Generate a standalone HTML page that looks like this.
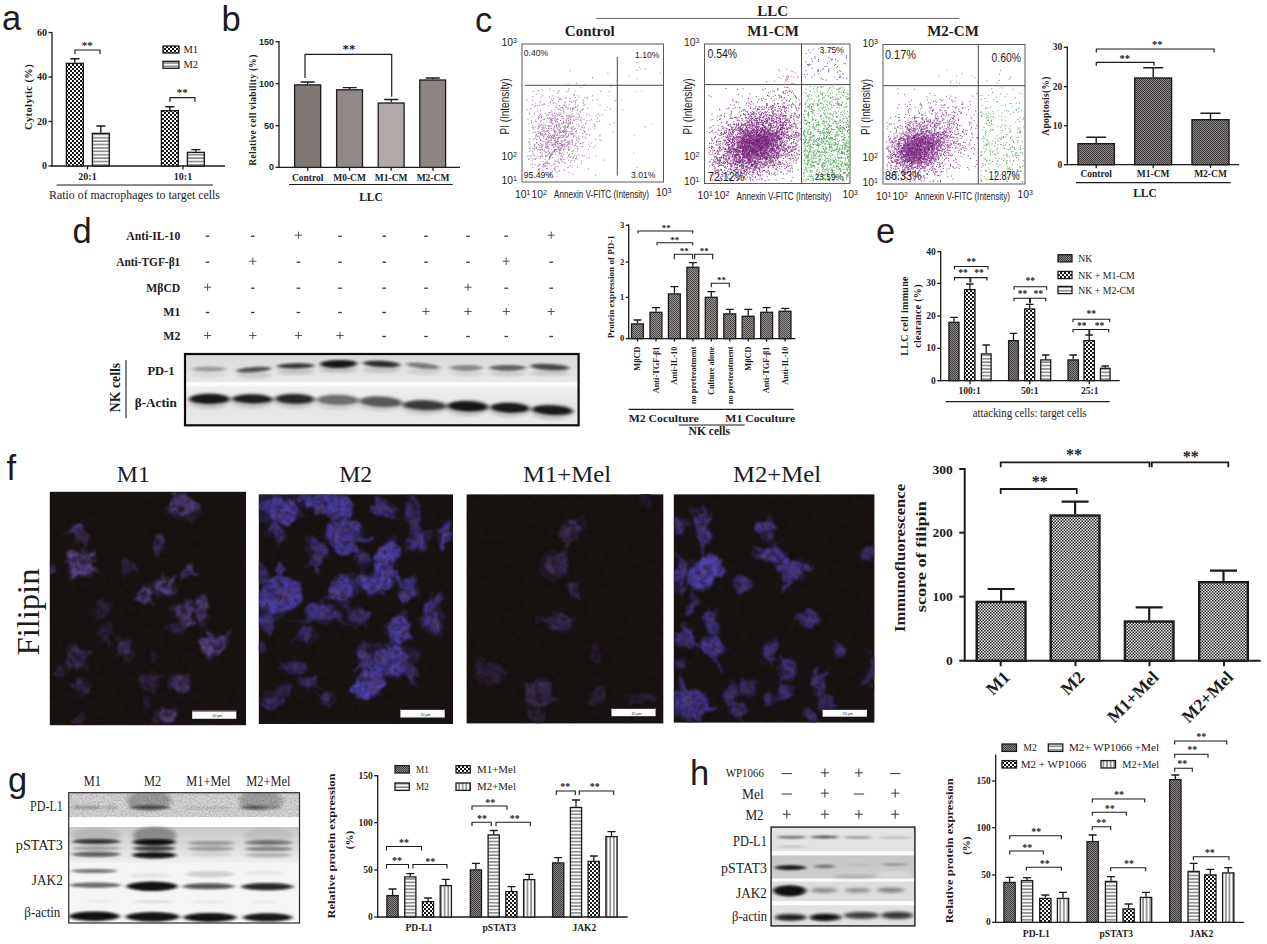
<!DOCTYPE html>
<html><head><meta charset="utf-8"><title>Figure</title>
<style>
html,body{margin:0;padding:0;background:#fff}
svg{display:block}
.se{font-family:"Liberation Serif",serif}
.seb{font-family:"Liberation Serif",serif;font-weight:bold}
.sa{font-family:"Liberation Sans",sans-serif}
.sab{font-family:"Liberation Sans",sans-serif;font-weight:bold}
text{fill:#1d1b1b}
</style></head><body>
<svg width="1267" height="944" viewBox="0 0 1267 944">
<defs>
<pattern id="ck" width="4" height="4" patternUnits="userSpaceOnUse"><rect width="4" height="4" fill="#fff"/><rect width="2" height="2" fill="#151313"/><rect x="2" y="2" width="2" height="2" fill="#151313"/></pattern>
<pattern id="hs" width="4" height="3.4" patternUnits="userSpaceOnUse"><rect width="4" height="3.4" fill="#fbfbfb"/><rect y="1.1" width="4" height="1.3" fill="#737171"/></pattern>
<pattern id="vs" width="3.6" height="4" patternUnits="userSpaceOnUse"><rect width="3.6" height="4" fill="#fbfbfb"/><rect x="1.3" width="1.1" height="4" fill="#555"/></pattern>
<pattern id="fd" width="2" height="2" patternUnits="userSpaceOnUse"><rect width="2" height="2" fill="#8d8886"/><rect width="1" height="1" fill="#3f3b3a"/><rect x="1" y="1" width="1" height="1" fill="#3f3b3a"/></pattern>
<pattern id="fd2" width="2" height="2" patternUnits="userSpaceOnUse"><rect width="2" height="2" fill="#9a9593"/><rect width="1" height="1" fill="#4a4644"/><rect x="1" y="1" width="1" height="1" fill="#4a4644"/></pattern>
<pattern id="md" width="3" height="3" patternUnits="userSpaceOnUse"><rect width="3" height="3" fill="#f4f4f4"/><rect width="1.5" height="1.5" fill="#222"/><rect x="1.5" y="1.5" width="1.5" height="1.5" fill="#222"/></pattern>

<filter id="bl1" x="-20%" y="-50%" width="140%" height="200%"><feGaussianBlur stdDeviation="1.9 1.1"/></filter>
<filter id="bl2" x="-20%" y="-50%" width="140%" height="200%"><feGaussianBlur stdDeviation="2.2 1.5"/></filter>
<filter id="bl3" x="-20%" y="-50%" width="140%" height="200%"><feGaussianBlur stdDeviation="4 3"/></filter>
<filter id="nz" x="0" y="0" width="100%" height="100%"><feTurbulence type="fractalNoise" baseFrequency="0.55" numOctaves="2" seed="7" result="n"/><feColorMatrix in="n" type="matrix" values="0 0 0 0 0  0 0 0 0 0  0 0 0 0 0  1.1 0 0 0 -0.3"/><feComposite in2="SourceGraphic" operator="in"/></filter>
<linearGradient id="gd1" x1="0" y1="0" x2="0" y2="1"><stop offset="0" stop-color="#d9d8d8"/><stop offset="1" stop-color="#e9e8e8"/></linearGradient>
<linearGradient id="gd2" x1="0" y1="0" x2="0" y2="1"><stop offset="0" stop-color="#f1f0f0"/><stop offset="0.5" stop-color="#e6e5e5"/><stop offset="1" stop-color="#ebeaea"/></linearGradient>
<linearGradient id="gg2" x1="0" y1="0" x2="0" y2="1"><stop offset="0" stop-color="#c9c8c8"/><stop offset="0.55" stop-color="#dddcdc"/><stop offset="1" stop-color="#f0efef"/></linearGradient>
<linearGradient id="gh2" x1="0" y1="0" x2="0" y2="1"><stop offset="0" stop-color="#c6c4c4"/><stop offset="1" stop-color="#cfcdcd"/></linearGradient>


<filter id="cf" x="-5%" y="-5%" width="110%" height="110%"><feTurbulence type="fractalNoise" baseFrequency="0.075" numOctaves="3" seed="3" result="t"/><feDisplacementMap in="SourceGraphic" in2="t" scale="13" xChannelSelector="R" yChannelSelector="G"/><feGaussianBlur stdDeviation="0.9"/></filter>
<filter id="cf2" x="-5%" y="-5%" width="110%" height="110%"><feTurbulence type="fractalNoise" baseFrequency="0.16" numOctaves="2" seed="11" result="t"/><feDisplacementMap in="SourceGraphic" in2="t" scale="6" xChannelSelector="G" yChannelSelector="R"/><feGaussianBlur stdDeviation="0.8"/></filter>
<filter id="mot" x="0" y="0" width="100%" height="100%" color-interpolation-filters="sRGB"><feTurbulence type="fractalNoise" baseFrequency="0.17" numOctaves="2" seed="5" result="n"/><feColorMatrix in="n" type="matrix" values="0 0 0 0 0.07  0 0 0 0 0.05  0 0 0 0 0.06  1.0 0 0 0 -0.36"/><feComposite in2="SourceGraphic" operator="in"/></filter>
</defs>
<rect width="1267" height="944" fill="#fff"/>
<text x="2" y="29.5" class="sa" font-size="34.5" fill="#111">a</text>
<text x="221.5" y="30.5" class="sa" font-size="34.5" fill="#111">b</text>
<text x="475" y="32" class="sa" font-size="34.5" fill="#111">c</text>
<text x="72.5" y="242.5" class="sa" font-size="34.5" fill="#111">d</text>
<text x="876" y="242.5" class="sa" font-size="34.5" fill="#111">e</text>
<text x="6.5" y="480" class="sa" font-size="34.5" fill="#111">f</text>
<text x="8" y="791.5" class="sa" font-size="34.5" fill="#111">g</text>
<text x="690" y="785" class="sa" font-size="34.5" fill="#111">h</text>
<line x1="52" y1="31.9" x2="52" y2="166.7" stroke="#1d1b1b" stroke-width="1.3"/>
<line x1="48.5" y1="32.5" x2="52" y2="32.5" stroke="#1d1b1b" stroke-width="1.3"/>
<text transform="translate(47,32.5)" y="3.3" class="seb" font-size="10" text-anchor="end">60</text>
<line x1="48.5" y1="77" x2="52" y2="77" stroke="#1d1b1b" stroke-width="1.3"/>
<text transform="translate(47,77)" y="3.3" class="seb" font-size="10" text-anchor="end">40</text>
<line x1="48.5" y1="121.5" x2="52" y2="121.5" stroke="#1d1b1b" stroke-width="1.3"/>
<text transform="translate(47,121.5)" y="3.3" class="seb" font-size="10" text-anchor="end">20</text>
<line x1="48.5" y1="166" x2="52" y2="166" stroke="#1d1b1b" stroke-width="1.3"/>
<text transform="translate(47,166)" y="3.3" class="seb" font-size="10" text-anchor="end">0</text>
<line x1="51.4" y1="166" x2="225" y2="166" stroke="#1d1b1b" stroke-width="1.3"/>
<line x1="87.5" y1="166" x2="87.5" y2="169.5" stroke="#1d1b1b" stroke-width="1.3"/>
<line x1="183" y1="166" x2="183" y2="169.5" stroke="#1d1b1b" stroke-width="1.3"/>
<path d="M74.8 62.7V58.7M70.3 58.7H79.4" fill="none" stroke="#1d1b1b" stroke-width="1.4"/>
<rect x="66.4" y="63.4" width="16.9" height="102.6" fill="url(#ck)" stroke="#1d1b1b" stroke-width="1.4"/>
<path d="M100.8 132.7V126M96.3 126H105.4" fill="none" stroke="#1d1b1b" stroke-width="1.4"/>
<rect x="92.4" y="133.4" width="16.9" height="32.6" fill="url(#hs)" stroke="#1d1b1b" stroke-width="1.4"/>
<path d="M169.8 110V106.7M165.3 106.7H174.4" fill="none" stroke="#1d1b1b" stroke-width="1.4"/>
<rect x="161.4" y="110.7" width="16.9" height="55.3" fill="url(#ck)" stroke="#1d1b1b" stroke-width="1.4"/>
<path d="M195.8 151.7V149.6M191.3 149.6H200.4" fill="none" stroke="#1d1b1b" stroke-width="1.4"/>
<rect x="187.4" y="152.4" width="16.9" height="13.6" fill="url(#hs)" stroke="#1d1b1b" stroke-width="1.4"/>
<text transform="translate(87.5,177)" y="3.3" class="seb" font-size="10" text-anchor="middle">20:1</text>
<text transform="translate(183,177)" y="3.3" class="seb" font-size="10" text-anchor="middle">10:1</text>
<line x1="56.7" y1="185" x2="213" y2="185" stroke="#1d1b1b" stroke-width="1.2"/>
<text transform="translate(134.5,195.5)" y="3.8" class="se" font-size="11.5" text-anchor="middle" textLength="171" lengthAdjust="spacingAndGlyphs">Ratio of macrophages to target cells</text>
<text transform="translate(28,97) rotate(-90)" y="3.5" class="seb" font-size="10.5" text-anchor="middle" letter-spacing="0.4">Cytolytic (%)</text>
<rect x="163" y="46" width="16" height="7" fill="url(#ck)" stroke="#1d1b1b" stroke-width="1.3"/>
<rect x="163" y="61.3" width="16" height="7" fill="url(#hs)" stroke="#1d1b1b" stroke-width="1.3"/>
<text transform="translate(183.5,49.7)" y="3.5" class="se" font-size="10.5">M1</text>
<text transform="translate(183.5,64.8)" y="3.5" class="se" font-size="10.5">M2</text>
<path d="M75 54V50H100V54" fill="none" stroke="#1d1b1b" stroke-width="1.2"/>
<text x="87.3" y="48.5" class="seb" font-size="11" text-anchor="middle" fill="#3a3838">**</text>
<path d="M170 101.7V97.7H195V101.7" fill="none" stroke="#1d1b1b" stroke-width="1.2"/>
<text x="182.3" y="95.5" class="seb" font-size="11" text-anchor="middle" fill="#3a3838">**</text>
<line x1="279" y1="41.1" x2="279" y2="168" stroke="#1d1b1b" stroke-width="1.3"/>
<line x1="275.5" y1="41.7" x2="279" y2="41.7" stroke="#1d1b1b" stroke-width="1.3"/>
<text transform="translate(274,41.7)" y="3" class="sab" font-size="9" text-anchor="end">150</text>
<line x1="275.5" y1="83.7" x2="279" y2="83.7" stroke="#1d1b1b" stroke-width="1.3"/>
<text transform="translate(274,83.7)" y="3" class="sab" font-size="9" text-anchor="end">100</text>
<line x1="275.5" y1="125.7" x2="279" y2="125.7" stroke="#1d1b1b" stroke-width="1.3"/>
<text transform="translate(274,125.7)" y="3" class="sab" font-size="9" text-anchor="end">50</text>
<line x1="275.5" y1="167.3" x2="279" y2="167.3" stroke="#1d1b1b" stroke-width="1.3"/>
<text transform="translate(274,167.3)" y="3" class="sab" font-size="9" text-anchor="end">0</text>
<line x1="278.4" y1="167.3" x2="460" y2="167.3" stroke="#1d1b1b" stroke-width="1.3"/>
<line x1="307.7" y1="167.3" x2="307.7" y2="170.8" stroke="#1d1b1b" stroke-width="1.3"/>
<line x1="349.6" y1="167.3" x2="349.6" y2="170.8" stroke="#1d1b1b" stroke-width="1.3"/>
<line x1="391.2" y1="167.3" x2="391.2" y2="170.8" stroke="#1d1b1b" stroke-width="1.3"/>
<line x1="433" y1="167.3" x2="433" y2="170.8" stroke="#1d1b1b" stroke-width="1.3"/>
<path d="M307.7 84.2V82M300.7 82H314.7" fill="none" stroke="#1d1b1b" stroke-width="1.3"/>
<rect x="294.6" y="84.9" width="26.1" height="82.5" fill="#7e7774" stroke="#1d1b1b" stroke-width="1.3"/>
<path d="M349.6 89.1V87.6M342.6 87.6H356.6" fill="none" stroke="#1d1b1b" stroke-width="1.3"/>
<rect x="336.6" y="89.8" width="25.9" height="77.6" fill="#908987" stroke="#1d1b1b" stroke-width="1.3"/>
<path d="M391.2 102.3V99.5M384.2 99.5H398.2" fill="none" stroke="#1d1b1b" stroke-width="1.3"/>
<rect x="378.2" y="103" width="25.9" height="64.4" fill="#b2aaa8" stroke="#1d1b1b" stroke-width="1.3"/>
<path d="M432.8 79.3V78M425.8 78H439.8" fill="none" stroke="#1d1b1b" stroke-width="1.3"/>
<rect x="419.8" y="80" width="25.8" height="87.4" fill="#8b8482" stroke="#1d1b1b" stroke-width="1.3"/>
<text transform="translate(307.7,178.2)" y="3.1" class="seb" font-size="9.5" text-anchor="middle">Control</text>
<text transform="translate(349.6,178.2)" y="3.1" class="seb" font-size="9.5" text-anchor="middle">M0-CM</text>
<text transform="translate(391.2,178.2)" y="3.1" class="seb" font-size="9.5" text-anchor="middle">M1-CM</text>
<text transform="translate(433,178.2)" y="3.1" class="seb" font-size="9.5" text-anchor="middle">M2-CM</text>
<line x1="289" y1="184.5" x2="452.7" y2="184.5" stroke="#1d1b1b" stroke-width="1.2"/>
<text transform="translate(371,196.8)" y="3.8" class="seb" font-size="11.5" text-anchor="middle">LLC</text>
<text transform="translate(252.5,110) rotate(-90)" y="3.1" class="seb" font-size="9.5" text-anchor="middle" letter-spacing="0.3">Relative cell viability (%)</text>
<path d="M305 78V54.3H391.7V96.7" fill="none" stroke="#1d1b1b" stroke-width="1.2"/>
<text x="349" y="52.8" class="seb" font-size="13" text-anchor="middle" fill="#4a4848">**</text>
<line x1="1067.3" y1="46.6" x2="1067.3" y2="165.3" stroke="#1d1b1b" stroke-width="1.3"/>
<line x1="1063.8" y1="47.3" x2="1067.3" y2="47.3" stroke="#1d1b1b" stroke-width="1.3"/>
<text transform="translate(1062.3,47.3)" y="3.1" class="seb" font-size="9.5" text-anchor="end">30</text>
<line x1="1063.8" y1="86.7" x2="1067.3" y2="86.7" stroke="#1d1b1b" stroke-width="1.3"/>
<text transform="translate(1062.3,86.7)" y="3.1" class="seb" font-size="9.5" text-anchor="end">20</text>
<line x1="1063.8" y1="125.7" x2="1067.3" y2="125.7" stroke="#1d1b1b" stroke-width="1.3"/>
<text transform="translate(1062.3,125.7)" y="3.1" class="seb" font-size="9.5" text-anchor="end">10</text>
<line x1="1063.8" y1="164.7" x2="1067.3" y2="164.7" stroke="#1d1b1b" stroke-width="1.3"/>
<text transform="translate(1062.3,164.7)" y="3.1" class="seb" font-size="9.5" text-anchor="end">0</text>
<line x1="1066.6" y1="164.7" x2="1239" y2="164.7" stroke="#1d1b1b" stroke-width="1.3"/>
<line x1="1096.2" y1="164.7" x2="1096.2" y2="168.2" stroke="#1d1b1b" stroke-width="1.3"/>
<line x1="1153.2" y1="164.7" x2="1153.2" y2="168.2" stroke="#1d1b1b" stroke-width="1.3"/>
<line x1="1210.5" y1="164.7" x2="1210.5" y2="168.2" stroke="#1d1b1b" stroke-width="1.3"/>
<path d="M1096.2 143V137.3M1086.2 137.3H1106.2" fill="none" stroke="#1d1b1b" stroke-width="1.4"/>
<rect x="1078" y="143.7" width="36.3" height="21" fill="url(#fd)" stroke="#1d1b1b" stroke-width="1.4"/>
<path d="M1153.2 77.3V67.7M1143.2 67.7H1163.2" fill="none" stroke="#1d1b1b" stroke-width="1.4"/>
<rect x="1134.7" y="78" width="36.9" height="86.7" fill="url(#fd)" stroke="#1d1b1b" stroke-width="1.4"/>
<path d="M1210.5 119V113.3M1200.5 113.3H1220.5" fill="none" stroke="#1d1b1b" stroke-width="1.4"/>
<rect x="1192" y="119.7" width="37" height="45" fill="url(#fd)" stroke="#1d1b1b" stroke-width="1.4"/>
<text transform="translate(1096.2,174.3)" y="3.1" class="seb" font-size="9.5" text-anchor="middle">Control</text>
<text transform="translate(1153.2,174.3)" y="3.1" class="seb" font-size="9.5" text-anchor="middle">M1-CM</text>
<text transform="translate(1210.5,174.3)" y="3.1" class="seb" font-size="9.5" text-anchor="middle">M2-CM</text>
<line x1="1076" y1="182.7" x2="1230.7" y2="182.7" stroke="#1d1b1b" stroke-width="1.2"/>
<text transform="translate(1145,193.5)" y="3.8" class="seb" font-size="11.5" text-anchor="middle">LLC</text>
<text transform="translate(1045.7,106) rotate(-90)" y="3.1" class="seb" font-size="9.5" text-anchor="middle" letter-spacing="0.3">Apoptosis(%)</text>
<path d="M1096.3 52.5V49H1214V52.5" fill="none" stroke="#1d1b1b" stroke-width="1.2"/>
<text x="1157.3" y="47.8" class="seb" font-size="10.5" text-anchor="middle" fill="#3a3838">**</text>
<path d="M1096.3 65.8V62.3H1154V65.8" fill="none" stroke="#1d1b1b" stroke-width="1.2"/>
<text x="1124.7" y="61.6" class="seb" font-size="10.5" text-anchor="middle" fill="#3a3838">**</text>
<line x1="628.7" y1="224.3" x2="628.7" y2="339.2" stroke="#1d1b1b" stroke-width="1.3"/>
<line x1="625.7" y1="225.3" x2="628.7" y2="225.3" stroke="#1d1b1b" stroke-width="1.3"/>
<text transform="translate(624.2,225.3)" y="2.8" class="seb" font-size="8.5" text-anchor="end">3</text>
<line x1="625.7" y1="262" x2="628.7" y2="262" stroke="#1d1b1b" stroke-width="1.3"/>
<text transform="translate(624.2,262)" y="2.8" class="seb" font-size="8.5" text-anchor="end">2</text>
<line x1="625.7" y1="297.4" x2="628.7" y2="297.4" stroke="#1d1b1b" stroke-width="1.3"/>
<text transform="translate(624.2,297.4)" y="2.8" class="seb" font-size="8.5" text-anchor="end">1</text>
<line x1="625.7" y1="338.6" x2="628.7" y2="338.6" stroke="#1d1b1b" stroke-width="1.3"/>
<text transform="translate(624.2,338.6)" y="2.8" class="seb" font-size="8.5" text-anchor="end">0</text>
<line x1="628.1" y1="338.6" x2="795.3" y2="338.6" stroke="#1d1b1b" stroke-width="1.3"/>
<line x1="637.5" y1="338.6" x2="637.5" y2="341.6" stroke="#1d1b1b" stroke-width="1.3"/>
<line x1="656" y1="338.6" x2="656" y2="341.6" stroke="#1d1b1b" stroke-width="1.3"/>
<line x1="674.4" y1="338.6" x2="674.4" y2="341.6" stroke="#1d1b1b" stroke-width="1.3"/>
<line x1="692.9" y1="338.6" x2="692.9" y2="341.6" stroke="#1d1b1b" stroke-width="1.3"/>
<line x1="711.3" y1="338.6" x2="711.3" y2="341.6" stroke="#1d1b1b" stroke-width="1.3"/>
<line x1="729.8" y1="338.6" x2="729.8" y2="341.6" stroke="#1d1b1b" stroke-width="1.3"/>
<line x1="748.2" y1="338.6" x2="748.2" y2="341.6" stroke="#1d1b1b" stroke-width="1.3"/>
<line x1="766.6" y1="338.6" x2="766.6" y2="341.6" stroke="#1d1b1b" stroke-width="1.3"/>
<line x1="785.1" y1="338.6" x2="785.1" y2="341.6" stroke="#1d1b1b" stroke-width="1.3"/>
<path d="M637.5 323.3V320M633.5 320H641.5" fill="none" stroke="#1d1b1b" stroke-width="1.3"/>
<rect x="631.5" y="323.9" width="11.9" height="14.7" fill="url(#fd2)" stroke="#1d1b1b" stroke-width="1.3"/>
<path d="M656 311.7V307.7M652 307.7H660" fill="none" stroke="#1d1b1b" stroke-width="1.3"/>
<rect x="650" y="312.3" width="11.9" height="26.3" fill="url(#fd2)" stroke="#1d1b1b" stroke-width="1.3"/>
<path d="M674.4 293.3V286.7M670.4 286.7H678.4" fill="none" stroke="#1d1b1b" stroke-width="1.3"/>
<rect x="668.4" y="293.9" width="11.9" height="44.7" fill="url(#fd2)" stroke="#1d1b1b" stroke-width="1.3"/>
<path d="M692.9 266.7V262.7M688.9 262.7H696.9" fill="none" stroke="#1d1b1b" stroke-width="1.3"/>
<rect x="686.9" y="267.3" width="11.9" height="71.3" fill="url(#fd2)" stroke="#1d1b1b" stroke-width="1.3"/>
<path d="M711.3 296.7V291.7M707.3 291.7H715.3" fill="none" stroke="#1d1b1b" stroke-width="1.3"/>
<rect x="705.3" y="297.3" width="11.9" height="41.3" fill="url(#fd2)" stroke="#1d1b1b" stroke-width="1.3"/>
<path d="M729.8 313.3V309.3M725.8 309.3H733.8" fill="none" stroke="#1d1b1b" stroke-width="1.3"/>
<rect x="723.8" y="313.9" width="11.9" height="24.7" fill="url(#fd2)" stroke="#1d1b1b" stroke-width="1.3"/>
<path d="M748.2 315.7V309.3M744.2 309.3H752.2" fill="none" stroke="#1d1b1b" stroke-width="1.3"/>
<rect x="742.2" y="316.3" width="11.9" height="22.3" fill="url(#fd2)" stroke="#1d1b1b" stroke-width="1.3"/>
<path d="M766.6 311.7V307.7M762.6 307.7H770.6" fill="none" stroke="#1d1b1b" stroke-width="1.3"/>
<rect x="760.7" y="312.3" width="11.9" height="26.3" fill="url(#fd2)" stroke="#1d1b1b" stroke-width="1.3"/>
<path d="M785.1 310.7V308.3M781.1 308.3H789.1" fill="none" stroke="#1d1b1b" stroke-width="1.3"/>
<rect x="779.1" y="311.3" width="11.9" height="27.3" fill="url(#fd2)" stroke="#1d1b1b" stroke-width="1.3"/>
<text transform="translate(637.5,346.5) rotate(-90)" y="2.7" class="seb" font-size="8.3" text-anchor="end">MβCD</text>
<text transform="translate(656,346.5) rotate(-90)" y="2.7" class="seb" font-size="8.3" text-anchor="end">Anti-TGF-β1</text>
<text transform="translate(674.4,346.5) rotate(-90)" y="2.7" class="seb" font-size="8.3" text-anchor="end">Anti-IL-10</text>
<text transform="translate(692.9,346.5) rotate(-90)" y="2.7" class="seb" font-size="8.3" text-anchor="end">no pretreatment</text>
<text transform="translate(711.3,346.5) rotate(-90)" y="2.7" class="seb" font-size="8.3" text-anchor="end">Culture alone</text>
<text transform="translate(729.8,346.5) rotate(-90)" y="2.7" class="seb" font-size="8.3" text-anchor="end">no pretreatment</text>
<text transform="translate(748.2,346.5) rotate(-90)" y="2.7" class="seb" font-size="8.3" text-anchor="end">MβCD</text>
<text transform="translate(766.6,346.5) rotate(-90)" y="2.7" class="seb" font-size="8.3" text-anchor="end">Anti-TGF-β1</text>
<text transform="translate(785.1,346.5) rotate(-90)" y="2.7" class="seb" font-size="8.3" text-anchor="end">Anti-IL-10</text>
<line x1="628.7" y1="409.3" x2="793.7" y2="409.3" stroke="#1d1b1b" stroke-width="1.2"/>
<text transform="translate(628.7,418)" y="3.5" class="seb" font-size="10.5" textLength="70" lengthAdjust="spacingAndGlyphs">M2 Coculture</text>
<text transform="translate(795.3,418)" y="3.5" class="seb" font-size="10.5" text-anchor="end" textLength="70" lengthAdjust="spacingAndGlyphs">M1 Coculture</text>
<line x1="678.7" y1="425" x2="744.7" y2="425" stroke="#1d1b1b" stroke-width="1.2"/>
<text transform="translate(709.3,431.5)" y="3.8" class="seb" font-size="11.5" text-anchor="middle" textLength="41.5" lengthAdjust="spacingAndGlyphs">NK cells</text>
<text transform="translate(611,286.7) rotate(-90)" y="2.6" class="seb" font-size="8" text-anchor="middle" textLength="103" lengthAdjust="spacingAndGlyphs">Protein expression of PD-1</text>
<path d="M638 233.5V231H692.7V233.5" fill="none" stroke="#1d1b1b" stroke-width="1.1"/>
<text x="666.3" y="230.9" class="seb" font-size="9" text-anchor="middle" fill="#3a3838">**</text>
<path d="M657 245.2V242.7H692.7V245.2" fill="none" stroke="#1d1b1b" stroke-width="1.1"/>
<text x="674.7" y="242.5" class="seb" font-size="9" text-anchor="middle" fill="#3a3838">**</text>
<path d="M674.3 259.3V254.3H692.7V259.3" fill="none" stroke="#1d1b1b" stroke-width="1.1"/>
<text x="684.3" y="254.2" class="seb" font-size="9" text-anchor="middle" fill="#3a3838">**</text>
<path d="M694.7 259.3V254.3H712.7V259.3" fill="none" stroke="#1d1b1b" stroke-width="1.1"/>
<text x="704.3" y="254.2" class="seb" font-size="9" text-anchor="middle" fill="#3a3838">**</text>
<path d="M711.3 287.3V283.3H729.3V287.3" fill="none" stroke="#1d1b1b" stroke-width="1.1"/>
<text x="721.5" y="283.2" class="seb" font-size="9" text-anchor="middle" fill="#3a3838">**</text>
<line x1="940.7" y1="251" x2="940.7" y2="381.3" stroke="#1d1b1b" stroke-width="1.3"/>
<line x1="937.2" y1="251.7" x2="940.7" y2="251.7" stroke="#1d1b1b" stroke-width="1.3"/>
<text transform="translate(935.7,251.7)" y="3.1" class="seb" font-size="9.5" text-anchor="end">40</text>
<line x1="937.2" y1="283.3" x2="940.7" y2="283.3" stroke="#1d1b1b" stroke-width="1.3"/>
<text transform="translate(935.7,283.3)" y="3.1" class="seb" font-size="9.5" text-anchor="end">30</text>
<line x1="937.2" y1="316" x2="940.7" y2="316" stroke="#1d1b1b" stroke-width="1.3"/>
<text transform="translate(935.7,316)" y="3.1" class="seb" font-size="9.5" text-anchor="end">20</text>
<line x1="937.2" y1="348.3" x2="940.7" y2="348.3" stroke="#1d1b1b" stroke-width="1.3"/>
<text transform="translate(935.7,348.3)" y="3.1" class="seb" font-size="9.5" text-anchor="end">10</text>
<line x1="937.2" y1="380.7" x2="940.7" y2="380.7" stroke="#1d1b1b" stroke-width="1.3"/>
<text transform="translate(935.7,380.7)" y="3.1" class="seb" font-size="9.5" text-anchor="end">0</text>
<line x1="940.1" y1="380.7" x2="1119.7" y2="380.7" stroke="#1d1b1b" stroke-width="1.3"/>
<line x1="970" y1="380.7" x2="970" y2="384.2" stroke="#1d1b1b" stroke-width="1.3"/>
<line x1="1029.7" y1="380.7" x2="1029.7" y2="384.2" stroke="#1d1b1b" stroke-width="1.3"/>
<line x1="1089.3" y1="380.7" x2="1089.3" y2="384.2" stroke="#1d1b1b" stroke-width="1.3"/>
<path d="M954 321.7V317.3M950.2 317.3H957.8" fill="none" stroke="#1d1b1b" stroke-width="1.3"/>
<rect x="948.9" y="322.3" width="10.1" height="58.4" fill="url(#fd)" stroke="#1d1b1b" stroke-width="1.3"/>
<path d="M969.9 289V284M966.1 284H973.6" fill="none" stroke="#1d1b1b" stroke-width="1.3"/>
<rect x="964.6" y="289.6" width="10.4" height="91" fill="url(#ck)" stroke="#1d1b1b" stroke-width="1.3"/>
<path d="M986.2 353.3V345M982.5 345H990" fill="none" stroke="#1d1b1b" stroke-width="1.3"/>
<rect x="981.4" y="353.9" width="9.7" height="26.7" fill="url(#hs)" stroke="#1d1b1b" stroke-width="1.3"/>
<path d="M1013.5 340V333.3M1009.8 333.3H1017.2" fill="none" stroke="#1d1b1b" stroke-width="1.3"/>
<rect x="1008.6" y="340.6" width="9.7" height="40" fill="url(#fd)" stroke="#1d1b1b" stroke-width="1.3"/>
<path d="M1029.7 308.3V304.3M1025.9 304.3H1033.4" fill="none" stroke="#1d1b1b" stroke-width="1.3"/>
<rect x="1024.7" y="308.9" width="10" height="71.7" fill="url(#ck)" stroke="#1d1b1b" stroke-width="1.3"/>
<path d="M1045.7 359.3V355M1041.9 355H1049.4" fill="none" stroke="#1d1b1b" stroke-width="1.3"/>
<rect x="1040.7" y="359.9" width="10" height="20.7" fill="url(#hs)" stroke="#1d1b1b" stroke-width="1.3"/>
<path d="M1073.2 359.3V355M1069.4 355H1076.9" fill="none" stroke="#1d1b1b" stroke-width="1.3"/>
<rect x="1068" y="359.9" width="10.4" height="20.7" fill="url(#fd)" stroke="#1d1b1b" stroke-width="1.3"/>
<path d="M1089.2 340V335M1085.4 335H1092.9" fill="none" stroke="#1d1b1b" stroke-width="1.3"/>
<rect x="1084" y="340.6" width="10.4" height="40" fill="url(#ck)" stroke="#1d1b1b" stroke-width="1.3"/>
<path d="M1105.2 367.7V366M1101.5 366H1109" fill="none" stroke="#1d1b1b" stroke-width="1.3"/>
<rect x="1100.4" y="368.3" width="9.7" height="12.3" fill="url(#hs)" stroke="#1d1b1b" stroke-width="1.3"/>
<text transform="translate(969.7,391.2)" y="3.1" class="seb" font-size="9.5" text-anchor="middle">100:1</text>
<text transform="translate(1029.7,391.2)" y="3.1" class="seb" font-size="9.5" text-anchor="middle">50:1</text>
<text transform="translate(1089.7,391.2)" y="3.1" class="seb" font-size="9.5" text-anchor="middle">25:1</text>
<line x1="945.7" y1="401.7" x2="1109.7" y2="401.7" stroke="#1d1b1b" stroke-width="1.2"/>
<text transform="translate(1029.7,412.7)" y="3.8" class="se" font-size="11.5" text-anchor="middle" textLength="114" lengthAdjust="spacingAndGlyphs">attacking cells: target cells</text>
<text transform="translate(905,316) rotate(-90)" y="3.3" class="seb" font-size="10" text-anchor="middle" letter-spacing="0.3">LLC cell immune</text>
<text transform="translate(917.5,316) rotate(-90)" y="3.3" class="seb" font-size="10" text-anchor="middle" letter-spacing="0.3">clearance (%)</text>
<rect x="1058" y="254.7" width="14" height="7.2" fill="url(#fd)" stroke="#1d1b1b" stroke-width="1.3"/>
<text transform="translate(1078.3,258.3) scale(0.93,1)" y="3.5" class="se" font-size="10.5">NK</text>
<rect x="1058" y="271.4" width="14" height="7.2" fill="url(#ck)" stroke="#1d1b1b" stroke-width="1.3"/>
<text transform="translate(1078.3,275) scale(0.93,1)" y="3.5" class="se" font-size="10.5">NK + M1-CM</text>
<rect x="1058" y="286.4" width="14" height="7.2" fill="url(#hs)" stroke="#1d1b1b" stroke-width="1.3"/>
<text transform="translate(1078.3,290) scale(0.93,1)" y="3.5" class="se" font-size="10.5">NK + M2-CM</text>
<path d="M954.5 269.5V266.5H988V269.5" fill="none" stroke="#1d1b1b" stroke-width="1.1"/>
<text x="971.2" y="264.5" class="seb" font-size="9.5" text-anchor="middle" fill="#3a3838">**</text>
<path d="M954.5 280.6V277.6H969.9V282.6" fill="none" stroke="#1d1b1b" stroke-width="1.1"/>
<path d="M970.7 282.6V277.6H987V280.6" fill="none" stroke="#1d1b1b" stroke-width="1.1"/>
<text x="962.9" y="276.2" class="seb" font-size="9.5" text-anchor="middle" fill="#3a3838">**</text>
<text x="979.1" y="276.2" class="seb" font-size="9.5" text-anchor="middle" fill="#3a3838">**</text>
<path d="M1014 289.7V286.7H1046.7V289.7" fill="none" stroke="#1d1b1b" stroke-width="1.1"/>
<text x="1030.3" y="283.8" class="seb" font-size="9.5" text-anchor="middle" fill="#3a3838">**</text>
<path d="M1014 301.3V298.3H1029.6V303.3" fill="none" stroke="#1d1b1b" stroke-width="1.1"/>
<path d="M1030.4 303.3V298.3H1045.7V301.3" fill="none" stroke="#1d1b1b" stroke-width="1.1"/>
<text x="1022.5" y="296.8" class="seb" font-size="9.5" text-anchor="middle" fill="#3a3838">**</text>
<text x="1038.3" y="296.8" class="seb" font-size="9.5" text-anchor="middle" fill="#3a3838">**</text>
<path d="M1073 322.3V319.3H1109.7V322.3" fill="none" stroke="#1d1b1b" stroke-width="1.1"/>
<text x="1091.3" y="317.2" class="seb" font-size="9.5" text-anchor="middle" fill="#3a3838">**</text>
<path d="M1073 332.5V329.5H1088.9V334.5" fill="none" stroke="#1d1b1b" stroke-width="1.1"/>
<path d="M1089.7 334.5V329.5H1108.7V332.5" fill="none" stroke="#1d1b1b" stroke-width="1.1"/>
<text x="1081.7" y="328.5" class="seb" font-size="9.5" text-anchor="middle" fill="#3a3838">**</text>
<text x="1099.5" y="328.5" class="seb" font-size="9.5" text-anchor="middle" fill="#3a3838">**</text>
<line x1="964.7" y1="468" x2="964.7" y2="661.7" stroke="#1d1b1b" stroke-width="2"/>
<line x1="959.2" y1="469" x2="964.7" y2="469" stroke="#1d1b1b" stroke-width="2"/>
<text transform="translate(952.8,469)" y="4.5" class="seb" font-size="13.5" text-anchor="end">300</text>
<line x1="959.2" y1="532.7" x2="964.7" y2="532.7" stroke="#1d1b1b" stroke-width="2"/>
<text transform="translate(952.8,532.7)" y="4.5" class="seb" font-size="13.5" text-anchor="end">200</text>
<line x1="959.2" y1="596.7" x2="964.7" y2="596.7" stroke="#1d1b1b" stroke-width="2"/>
<text transform="translate(952.8,596.7)" y="4.5" class="seb" font-size="13.5" text-anchor="end">100</text>
<line x1="959.2" y1="660.7" x2="964.7" y2="660.7" stroke="#1d1b1b" stroke-width="2"/>
<text transform="translate(952.8,660.7)" y="4.5" class="seb" font-size="13.5" text-anchor="end">0</text>
<line x1="963.7" y1="660.7" x2="1260.7" y2="660.7" stroke="#1d1b1b" stroke-width="2"/>
<line x1="1000.7" y1="660.7" x2="1000.7" y2="666.2" stroke="#1d1b1b" stroke-width="2"/>
<line x1="1075.5" y1="660.7" x2="1075.5" y2="666.2" stroke="#1d1b1b" stroke-width="2"/>
<line x1="1149.5" y1="660.7" x2="1149.5" y2="666.2" stroke="#1d1b1b" stroke-width="2"/>
<line x1="1224" y1="660.7" x2="1224" y2="666.2" stroke="#1d1b1b" stroke-width="2"/>
<path d="M1001.1 600.7V589M987.6 589H1014.6" fill="none" stroke="#1d1b1b" stroke-width="2.2"/>
<rect x="976.7" y="601.9" width="48.8" height="58.8" fill="url(#md)" stroke="#1d1b1b" stroke-width="2.4"/>
<path d="M1075.1 514.3V501.7M1061.6 501.7H1088.6" fill="none" stroke="#1d1b1b" stroke-width="2.2"/>
<rect x="1050.7" y="515.5" width="48.8" height="145.2" fill="url(#md)" stroke="#1d1b1b" stroke-width="2.4"/>
<path d="M1149.2 620.3V607.3M1135.7 607.3H1162.7" fill="none" stroke="#1d1b1b" stroke-width="2.2"/>
<rect x="1124.9" y="621.5" width="48.6" height="39.2" fill="url(#md)" stroke="#1d1b1b" stroke-width="2.4"/>
<path d="M1223.5 581V570.7M1210 570.7H1237" fill="none" stroke="#1d1b1b" stroke-width="2.2"/>
<rect x="1199.2" y="582.2" width="48.6" height="78.5" fill="url(#md)" stroke="#1d1b1b" stroke-width="2.4"/>
<text transform="translate(1006.7,674) rotate(-45)" class="seb" font-size="17.5" text-anchor="end" y="6">M1</text>
<text transform="translate(1081.5,674) rotate(-45)" class="seb" font-size="17.5" text-anchor="end" y="6">M2</text>
<text transform="translate(1155.5,674) rotate(-45)" class="seb" font-size="17.5" text-anchor="end" y="6">M1+Mel</text>
<text transform="translate(1230,674) rotate(-45)" class="seb" font-size="17.5" text-anchor="end" y="6">M2+Mel</text>
<text transform="translate(900,558) rotate(-90)" y="4.6" class="seb" font-size="14" text-anchor="middle" textLength="148" lengthAdjust="spacingAndGlyphs">Immunofluorescence</text>
<text transform="translate(921.3,556.7) rotate(-90)" y="4.6" class="seb" font-size="14" text-anchor="middle" textLength="111" lengthAdjust="spacingAndGlyphs">score of filipin</text>
<path d="M1000.7 467.3V462.3H1149.5V467.3" fill="none" stroke="#1d1b1b" stroke-width="1.8"/>
<text x="1074" y="460.3" class="seb" font-size="16" text-anchor="middle" fill="#3a3838">**</text>
<path d="M1151.8 467.3V462.3H1228.3V467.3" fill="none" stroke="#1d1b1b" stroke-width="1.8"/>
<text x="1190.7" y="461.8" class="seb" font-size="16" text-anchor="middle" fill="#3a3838">**</text>
<path d="M1000.7 494V489H1076.7V494" fill="none" stroke="#1d1b1b" stroke-width="1.8"/>
<text x="1039.7" y="487" class="seb" font-size="16" text-anchor="middle" fill="#3a3838">**</text>
<line x1="377.7" y1="775.1" x2="377.7" y2="917.6" stroke="#1d1b1b" stroke-width="1.3"/>
<line x1="374.2" y1="775.7" x2="377.7" y2="775.7" stroke="#1d1b1b" stroke-width="1.3"/>
<text transform="translate(372.7,775.7)" y="3.1" class="seb" font-size="9.5" text-anchor="end">150</text>
<line x1="374.2" y1="822.7" x2="377.7" y2="822.7" stroke="#1d1b1b" stroke-width="1.3"/>
<text transform="translate(372.7,822.7)" y="3.1" class="seb" font-size="9.5" text-anchor="end">100</text>
<line x1="374.2" y1="870" x2="377.7" y2="870" stroke="#1d1b1b" stroke-width="1.3"/>
<text transform="translate(372.7,870)" y="3.1" class="seb" font-size="9.5" text-anchor="end">50</text>
<line x1="374.2" y1="917" x2="377.7" y2="917" stroke="#1d1b1b" stroke-width="1.3"/>
<text transform="translate(372.7,917)" y="3.1" class="seb" font-size="9.5" text-anchor="end">0</text>
<line x1="377.1" y1="917" x2="627.7" y2="917" stroke="#1d1b1b" stroke-width="1.3"/>
<path d="M392.6 895V889M388.6 889H396.6" fill="none" stroke="#1d1b1b" stroke-width="1.3"/>
<rect x="386.9" y="895.6" width="11.2" height="21.4" fill="url(#fd)" stroke="#1d1b1b" stroke-width="1.3"/>
<path d="M410.3 876.3V873.7M406.3 873.7H414.3" fill="none" stroke="#1d1b1b" stroke-width="1.3"/>
<rect x="404.7" y="876.9" width="11.2" height="40.1" fill="url(#hs)" stroke="#1d1b1b" stroke-width="1.3"/>
<path d="M428.1 901V898M424.1 898H432.1" fill="none" stroke="#1d1b1b" stroke-width="1.3"/>
<rect x="422.4" y="901.6" width="11.2" height="15.3" fill="url(#ck)" stroke="#1d1b1b" stroke-width="1.3"/>
<path d="M445.8 885V879.3M441.8 879.3H449.8" fill="none" stroke="#1d1b1b" stroke-width="1.3"/>
<rect x="440.2" y="885.6" width="11.2" height="31.4" fill="url(#vs)" stroke="#1d1b1b" stroke-width="1.3"/>
<path d="M475.9 869.3V863.3M471.9 863.3H479.9" fill="none" stroke="#1d1b1b" stroke-width="1.3"/>
<rect x="470.3" y="869.9" width="11.2" height="47.1" fill="url(#fd)" stroke="#1d1b1b" stroke-width="1.3"/>
<path d="M493.7 834.3V830.5M489.7 830.5H497.7" fill="none" stroke="#1d1b1b" stroke-width="1.3"/>
<rect x="488.1" y="834.9" width="11.2" height="82.1" fill="url(#hs)" stroke="#1d1b1b" stroke-width="1.3"/>
<path d="M511.5 891V886.7M507.5 886.7H515.5" fill="none" stroke="#1d1b1b" stroke-width="1.3"/>
<rect x="505.8" y="891.6" width="11.2" height="25.4" fill="url(#ck)" stroke="#1d1b1b" stroke-width="1.3"/>
<path d="M529.2 879V874.3M525.2 874.3H533.2" fill="none" stroke="#1d1b1b" stroke-width="1.3"/>
<rect x="523.6" y="879.6" width="11.2" height="37.4" fill="url(#vs)" stroke="#1d1b1b" stroke-width="1.3"/>
<path d="M558.2 862.3V857.7M554.2 857.7H562.2" fill="none" stroke="#1d1b1b" stroke-width="1.3"/>
<rect x="552.6" y="862.9" width="11.2" height="54.1" fill="url(#fd)" stroke="#1d1b1b" stroke-width="1.3"/>
<path d="M576 806.7V800M572 800H580" fill="none" stroke="#1d1b1b" stroke-width="1.3"/>
<rect x="570.4" y="807.4" width="11.2" height="109.6" fill="url(#hs)" stroke="#1d1b1b" stroke-width="1.3"/>
<path d="M593.8 860.7V856M589.8 856H597.8" fill="none" stroke="#1d1b1b" stroke-width="1.3"/>
<rect x="588.1" y="861.4" width="11.2" height="55.6" fill="url(#ck)" stroke="#1d1b1b" stroke-width="1.3"/>
<path d="M611.5 836V831.7M607.5 831.7H615.5" fill="none" stroke="#1d1b1b" stroke-width="1.3"/>
<rect x="605.9" y="836.6" width="11.2" height="80.3" fill="url(#vs)" stroke="#1d1b1b" stroke-width="1.3"/>
<text transform="translate(419,928.3)" y="3.1" class="seb" font-size="9.5" text-anchor="middle">PD-L1</text>
<text transform="translate(499.3,928.3)" y="3.1" class="seb" font-size="9.5" text-anchor="middle">pSTAT3</text>
<text transform="translate(584.3,928.3)" y="3.1" class="seb" font-size="9.5" text-anchor="middle">JAK2</text>
<text transform="translate(331.7,846) rotate(-90)" y="3.3" class="seb" font-size="10" text-anchor="middle" textLength="145" lengthAdjust="spacingAndGlyphs">Relative protein expression</text>
<text transform="translate(349,840) rotate(-90)" y="3.6" class="seb" font-size="11" text-anchor="middle">(%)</text>
<rect x="395" y="765.6" width="14.3" height="7.4" fill="url(#fd)" stroke="#1d1b1b" stroke-width="1.3"/>
<text transform="translate(416,769.3)" y="3.6" class="se" font-size="11" textLength="12.8" lengthAdjust="spacingAndGlyphs">M1</text>
<rect x="395" y="783" width="14.3" height="7.4" fill="url(#hs)" stroke="#1d1b1b" stroke-width="1.3"/>
<text transform="translate(416,786.7)" y="3.6" class="se" font-size="11" textLength="12.8" lengthAdjust="spacingAndGlyphs">M2</text>
<rect x="456" y="765.6" width="14.3" height="7.4" fill="url(#ck)" stroke="#1d1b1b" stroke-width="1.3"/>
<text transform="translate(477,769.3)" y="3.6" class="se" font-size="11" textLength="39" lengthAdjust="spacingAndGlyphs">M1+Mel</text>
<rect x="456" y="783" width="14.3" height="7.4" fill="url(#vs)" stroke="#1d1b1b" stroke-width="1.3"/>
<text transform="translate(477,786.7)" y="3.6" class="se" font-size="11" textLength="39" lengthAdjust="spacingAndGlyphs">M2+Mel</text>
<path d="M386.5 850.5V846.5H421.5V850.5" fill="none" stroke="#1d1b1b" stroke-width="1.1"/>
<text x="404" y="846.2" class="seb" font-size="10" text-anchor="middle" fill="#3a3838">**</text>
<path d="M386.5 868.5V864.5H408.5V868.5" fill="none" stroke="#1d1b1b" stroke-width="1.1"/>
<text x="397" y="864.2" class="seb" font-size="10" text-anchor="middle" fill="#3a3838">**</text>
<path d="M413 868.5V864.5H447V868.5" fill="none" stroke="#1d1b1b" stroke-width="1.1"/>
<text x="430.3" y="864.7" class="seb" font-size="10" text-anchor="middle" fill="#3a3838">**</text>
<path d="M472 810V806H507V810" fill="none" stroke="#1d1b1b" stroke-width="1.1"/>
<text x="490.3" y="805.7" class="seb" font-size="10" text-anchor="middle" fill="#3a3838">**</text>
<path d="M472 826.3V822.3H491.3V826.3" fill="none" stroke="#1d1b1b" stroke-width="1.1"/>
<text x="482" y="821.6" class="seb" font-size="10" text-anchor="middle" fill="#3a3838">**</text>
<path d="M496 826.3V822.3H530.3V826.3" fill="none" stroke="#1d1b1b" stroke-width="1.1"/>
<text x="514.7" y="821.6" class="seb" font-size="10" text-anchor="middle" fill="#3a3838">**</text>
<path d="M556.3 795V791H575.3V795" fill="none" stroke="#1d1b1b" stroke-width="1.1"/>
<text x="565.3" y="790" class="seb" font-size="10" text-anchor="middle" fill="#3a3838">**</text>
<path d="M579.3 795V791H613.7V795" fill="none" stroke="#1d1b1b" stroke-width="1.1"/>
<text x="594.7" y="790" class="seb" font-size="10" text-anchor="middle" fill="#3a3838">**</text>
<line x1="995.7" y1="754.4" x2="995.7" y2="922.9" stroke="#1d1b1b" stroke-width="1.3"/>
<line x1="992.2" y1="781" x2="995.7" y2="781" stroke="#1d1b1b" stroke-width="1.3"/>
<text transform="translate(990.7,781)" y="3.1" class="seb" font-size="9.5" text-anchor="end">150</text>
<line x1="992.2" y1="827.7" x2="995.7" y2="827.7" stroke="#1d1b1b" stroke-width="1.3"/>
<text transform="translate(990.7,827.7)" y="3.1" class="seb" font-size="9.5" text-anchor="end">100</text>
<line x1="992.2" y1="875" x2="995.7" y2="875" stroke="#1d1b1b" stroke-width="1.3"/>
<text transform="translate(990.7,875)" y="3.1" class="seb" font-size="9.5" text-anchor="end">50</text>
<line x1="992.2" y1="922.3" x2="995.7" y2="922.3" stroke="#1d1b1b" stroke-width="1.3"/>
<text transform="translate(990.7,922.3)" y="3.1" class="seb" font-size="9.5" text-anchor="end">0</text>
<line x1="995.1" y1="922.3" x2="1244" y2="922.3" stroke="#1d1b1b" stroke-width="1.3"/>
<path d="M1009.6 881.7V877.3M1005.6 877.3H1013.6" fill="none" stroke="#1d1b1b" stroke-width="1.3"/>
<rect x="1003.9" y="882.4" width="11.3" height="39.9" fill="url(#fd)" stroke="#1d1b1b" stroke-width="1.3"/>
<path d="M1027 880V877.7M1023 877.7H1031" fill="none" stroke="#1d1b1b" stroke-width="1.3"/>
<rect x="1021.4" y="880.6" width="11.3" height="41.6" fill="url(#hs)" stroke="#1d1b1b" stroke-width="1.3"/>
<path d="M1045.3 897.7V895M1041.3 895H1049.3" fill="none" stroke="#1d1b1b" stroke-width="1.3"/>
<rect x="1039.7" y="898.4" width="11.3" height="23.9" fill="url(#ck)" stroke="#1d1b1b" stroke-width="1.3"/>
<path d="M1063 897.7V892.3M1059 892.3H1067" fill="none" stroke="#1d1b1b" stroke-width="1.3"/>
<rect x="1057.4" y="898.4" width="11.3" height="23.9" fill="url(#vs)" stroke="#1d1b1b" stroke-width="1.3"/>
<path d="M1092.6 841V835M1088.6 835H1096.6" fill="none" stroke="#1d1b1b" stroke-width="1.3"/>
<rect x="1087" y="841.6" width="11.3" height="80.6" fill="url(#fd)" stroke="#1d1b1b" stroke-width="1.3"/>
<path d="M1111 880.7V876.7M1107 876.7H1115" fill="none" stroke="#1d1b1b" stroke-width="1.3"/>
<rect x="1105.4" y="881.4" width="11.3" height="40.9" fill="url(#hs)" stroke="#1d1b1b" stroke-width="1.3"/>
<path d="M1128.6 908.3V904M1124.6 904H1132.6" fill="none" stroke="#1d1b1b" stroke-width="1.3"/>
<rect x="1123" y="908.9" width="11.3" height="13.3" fill="url(#ck)" stroke="#1d1b1b" stroke-width="1.3"/>
<path d="M1146 896.7V892.3M1142 892.3H1150" fill="none" stroke="#1d1b1b" stroke-width="1.3"/>
<rect x="1140.4" y="897.4" width="11.3" height="24.9" fill="url(#vs)" stroke="#1d1b1b" stroke-width="1.3"/>
<path d="M1175.3 779V775M1171.3 775H1179.3" fill="none" stroke="#1d1b1b" stroke-width="1.3"/>
<rect x="1169.7" y="779.6" width="11.3" height="142.6" fill="url(#fd)" stroke="#1d1b1b" stroke-width="1.3"/>
<path d="M1193.6 870.7V863.3M1189.6 863.3H1197.6" fill="none" stroke="#1d1b1b" stroke-width="1.3"/>
<rect x="1188" y="871.4" width="11.3" height="50.9" fill="url(#hs)" stroke="#1d1b1b" stroke-width="1.3"/>
<path d="M1210.3 874.3V869.3M1206.3 869.3H1214.3" fill="none" stroke="#1d1b1b" stroke-width="1.3"/>
<rect x="1204.7" y="874.9" width="11.3" height="47.4" fill="url(#ck)" stroke="#1d1b1b" stroke-width="1.3"/>
<path d="M1228.2 872.3V867.7M1224.2 867.7H1232.2" fill="none" stroke="#1d1b1b" stroke-width="1.3"/>
<rect x="1222.6" y="872.9" width="11.3" height="49.4" fill="url(#vs)" stroke="#1d1b1b" stroke-width="1.3"/>
<text transform="translate(1036.3,934)" y="3.1" class="seb" font-size="9.5" text-anchor="middle">PD-L1</text>
<text transform="translate(1116.3,934)" y="3.1" class="seb" font-size="9.5" text-anchor="middle">pSTAT3</text>
<text transform="translate(1201.3,934)" y="3.1" class="seb" font-size="9.5" text-anchor="middle">JAK2</text>
<text transform="translate(949.7,850.7) rotate(-90)" y="3.3" class="seb" font-size="10" text-anchor="middle" textLength="145" lengthAdjust="spacingAndGlyphs">Relative protein expression</text>
<text transform="translate(966.3,845.7) rotate(-90)" y="3.6" class="seb" font-size="11" text-anchor="middle">(%)</text>
<rect x="1002" y="744" width="14.5" height="7.4" fill="url(#fd)" stroke="#1d1b1b" stroke-width="1.3"/>
<text transform="translate(1023.3,747.7) scale(0.93,1)" y="3.5" class="se" font-size="10.5">M2</text>
<rect x="1048.3" y="744" width="14.5" height="7.4" fill="url(#hs)" stroke="#1d1b1b" stroke-width="1.3"/>
<text transform="translate(1069,747.7)" y="3.5" class="se" font-size="10.5" textLength="90" lengthAdjust="spacingAndGlyphs">M2+ WP1066 +Mel</text>
<rect x="1002" y="760.6" width="14.5" height="7.4" fill="url(#ck)" stroke="#1d1b1b" stroke-width="1.3"/>
<text transform="translate(1020.7,764.3)" y="3.5" class="se" font-size="10.5" textLength="65.6" lengthAdjust="spacingAndGlyphs">M2 + WP1066</text>
<rect x="1101" y="760.6" width="14.5" height="7.4" fill="url(#vs)" stroke="#1d1b1b" stroke-width="1.3"/>
<text transform="translate(1122.3,764.3)" y="3.5" class="se" font-size="10.5" textLength="36.7" lengthAdjust="spacingAndGlyphs">M2+Mel</text>
<path d="M1009.7 839.2V835.7H1061.3V839.2" fill="none" stroke="#1d1b1b" stroke-width="1.1"/>
<text x="1036.3" y="835.4" class="seb" font-size="10" text-anchor="middle" fill="#3a3838">**</text>
<path d="M1009.7 854.5V851H1043.3V854.5" fill="none" stroke="#1d1b1b" stroke-width="1.1"/>
<text x="1027.3" y="850.7" class="seb" font-size="10" text-anchor="middle" fill="#3a3838">**</text>
<path d="M1026.3 870.8V867.3H1061.3V870.8" fill="none" stroke="#1d1b1b" stroke-width="1.1"/>
<text x="1044.7" y="867" class="seb" font-size="10" text-anchor="middle" fill="#3a3838">**</text>
<path d="M1092.3 802.5V799H1144.7V802.5" fill="none" stroke="#1d1b1b" stroke-width="1.1"/>
<text x="1119" y="798.2" class="seb" font-size="10" text-anchor="middle" fill="#3a3838">**</text>
<path d="M1092.3 815.8V812.3H1126.3V815.8" fill="none" stroke="#1d1b1b" stroke-width="1.1"/>
<text x="1109.7" y="811.7" class="seb" font-size="10" text-anchor="middle" fill="#3a3838">**</text>
<path d="M1092.3 830.2V826.7H1110.7V830.2" fill="none" stroke="#1d1b1b" stroke-width="1.1"/>
<text x="1101.3" y="825.7" class="seb" font-size="10" text-anchor="middle" fill="#3a3838">**</text>
<path d="M1110.7 871.2V867.7H1145.7V871.2" fill="none" stroke="#1d1b1b" stroke-width="1.1"/>
<text x="1129" y="867" class="seb" font-size="10" text-anchor="middle" fill="#3a3838">**</text>
<path d="M1174.7 744.5V741H1226.7V744.5" fill="none" stroke="#1d1b1b" stroke-width="1.1"/>
<text x="1201.3" y="740.4" class="seb" font-size="10" text-anchor="middle" fill="#3a3838">**</text>
<path d="M1174.7 757.8V754.3H1208V757.8" fill="none" stroke="#1d1b1b" stroke-width="1.1"/>
<text x="1192.3" y="753.2" class="seb" font-size="10" text-anchor="middle" fill="#3a3838">**</text>
<path d="M1174.7 771.8V768.3H1192.3V771.8" fill="none" stroke="#1d1b1b" stroke-width="1.1"/>
<text x="1182.3" y="767.2" class="seb" font-size="10" text-anchor="middle" fill="#3a3838">**</text>
<path d="M1193.3 860.2V856.7H1229V860.2" fill="none" stroke="#1d1b1b" stroke-width="1.1"/>
<text x="1209.7" y="855.7" class="seb" font-size="10" text-anchor="middle" fill="#3a3838">**</text>
<text transform="translate(180.3,235.7)" y="3.9" class="seb" font-size="11.7" text-anchor="end" textLength="54" lengthAdjust="spacingAndGlyphs">Anti-IL-10</text>
<line x1="205.8" y1="236.2" x2="209.4" y2="236.2" stroke="#333" stroke-width="1.3"/>
<line x1="251" y1="236.2" x2="254.6" y2="236.2" stroke="#333" stroke-width="1.3"/>
<path d="M294.8 235.2H302M298.4 231.6V238.8" fill="none" stroke="#444" stroke-width="0.9"/>
<line x1="338.2" y1="236.2" x2="341.8" y2="236.2" stroke="#333" stroke-width="1.3"/>
<line x1="382.4" y1="236.2" x2="386" y2="236.2" stroke="#333" stroke-width="1.3"/>
<line x1="424.2" y1="236.2" x2="427.8" y2="236.2" stroke="#333" stroke-width="1.3"/>
<line x1="466.2" y1="236.2" x2="469.8" y2="236.2" stroke="#333" stroke-width="1.3"/>
<line x1="504.4" y1="236.2" x2="508" y2="236.2" stroke="#333" stroke-width="1.3"/>
<path d="M547.6 235.2H554.8M551.2 231.6V238.8" fill="none" stroke="#444" stroke-width="0.9"/>
<text transform="translate(180.3,261.7)" y="3.9" class="seb" font-size="11.7" text-anchor="end" textLength="64" lengthAdjust="spacingAndGlyphs">Anti-TGF-β1</text>
<line x1="205.8" y1="262.2" x2="209.4" y2="262.2" stroke="#333" stroke-width="1.3"/>
<path d="M249.2 261.2H256.4M252.8 257.6V264.8" fill="none" stroke="#444" stroke-width="0.9"/>
<line x1="296.6" y1="262.2" x2="300.2" y2="262.2" stroke="#333" stroke-width="1.3"/>
<line x1="338.2" y1="262.2" x2="341.8" y2="262.2" stroke="#333" stroke-width="1.3"/>
<line x1="382.4" y1="262.2" x2="386" y2="262.2" stroke="#333" stroke-width="1.3"/>
<line x1="424.2" y1="262.2" x2="427.8" y2="262.2" stroke="#333" stroke-width="1.3"/>
<line x1="466.2" y1="262.2" x2="469.8" y2="262.2" stroke="#333" stroke-width="1.3"/>
<path d="M502.6 261.2H509.8M506.2 257.6V264.8" fill="none" stroke="#444" stroke-width="0.9"/>
<line x1="549.4" y1="262.2" x2="553" y2="262.2" stroke="#333" stroke-width="1.3"/>
<text transform="translate(180.3,287.7)" y="3.9" class="seb" font-size="11.7" text-anchor="end" textLength="34" lengthAdjust="spacingAndGlyphs">MβCD</text>
<path d="M204 287.2H211.2M207.6 283.6V290.8" fill="none" stroke="#444" stroke-width="0.9"/>
<line x1="251" y1="288.2" x2="254.6" y2="288.2" stroke="#333" stroke-width="1.3"/>
<line x1="296.6" y1="288.2" x2="300.2" y2="288.2" stroke="#333" stroke-width="1.3"/>
<line x1="338.2" y1="288.2" x2="341.8" y2="288.2" stroke="#333" stroke-width="1.3"/>
<line x1="382.4" y1="288.2" x2="386" y2="288.2" stroke="#333" stroke-width="1.3"/>
<line x1="424.2" y1="288.2" x2="427.8" y2="288.2" stroke="#333" stroke-width="1.3"/>
<path d="M464.4 287.2H471.6M468 283.6V290.8" fill="none" stroke="#444" stroke-width="0.9"/>
<line x1="504.4" y1="288.2" x2="508" y2="288.2" stroke="#333" stroke-width="1.3"/>
<line x1="549.4" y1="288.2" x2="553" y2="288.2" stroke="#333" stroke-width="1.3"/>
<text transform="translate(180.3,312)" y="3.9" class="seb" font-size="11.7" text-anchor="end" textLength="17" lengthAdjust="spacingAndGlyphs">M1</text>
<line x1="205.8" y1="312.5" x2="209.4" y2="312.5" stroke="#333" stroke-width="1.3"/>
<line x1="251" y1="312.5" x2="254.6" y2="312.5" stroke="#333" stroke-width="1.3"/>
<line x1="296.6" y1="312.5" x2="300.2" y2="312.5" stroke="#333" stroke-width="1.3"/>
<line x1="338.2" y1="312.5" x2="341.8" y2="312.5" stroke="#333" stroke-width="1.3"/>
<line x1="382.4" y1="312.5" x2="386" y2="312.5" stroke="#333" stroke-width="1.3"/>
<path d="M422.4 311.5H429.6M426 307.9V315.1" fill="none" stroke="#444" stroke-width="0.9"/>
<path d="M464.4 311.5H471.6M468 307.9V315.1" fill="none" stroke="#444" stroke-width="0.9"/>
<path d="M502.6 311.5H509.8M506.2 307.9V315.1" fill="none" stroke="#444" stroke-width="0.9"/>
<path d="M547.6 311.5H554.8M551.2 307.9V315.1" fill="none" stroke="#444" stroke-width="0.9"/>
<text transform="translate(180.3,336)" y="3.9" class="seb" font-size="11.7" text-anchor="end" textLength="17" lengthAdjust="spacingAndGlyphs">M2</text>
<path d="M204 335.5H211.2M207.6 331.9V339.1" fill="none" stroke="#444" stroke-width="0.9"/>
<path d="M249.2 335.5H256.4M252.8 331.9V339.1" fill="none" stroke="#444" stroke-width="0.9"/>
<path d="M294.8 335.5H302M298.4 331.9V339.1" fill="none" stroke="#444" stroke-width="0.9"/>
<path d="M336.4 335.5H343.6M340 331.9V339.1" fill="none" stroke="#444" stroke-width="0.9"/>
<line x1="382.4" y1="336.5" x2="386" y2="336.5" stroke="#333" stroke-width="1.3"/>
<line x1="424.2" y1="336.5" x2="427.8" y2="336.5" stroke="#333" stroke-width="1.3"/>
<line x1="466.2" y1="336.5" x2="469.8" y2="336.5" stroke="#333" stroke-width="1.3"/>
<line x1="504.4" y1="336.5" x2="508" y2="336.5" stroke="#333" stroke-width="1.3"/>
<line x1="549.4" y1="336.5" x2="553" y2="336.5" stroke="#333" stroke-width="1.3"/>
<text transform="translate(115,387.5) rotate(-90)" y="4.6" class="seb" font-size="13.8" text-anchor="middle">NK cells</text>
<line x1="126" y1="360" x2="126" y2="418.3" stroke="#333" stroke-width="1.2"/>
<text transform="translate(174.5,370.7)" y="4.1" class="seb" font-size="12.5" text-anchor="end">PD-1</text>
<text transform="translate(176.8,402.7)" y="4.2" class="seb" font-size="12.8" text-anchor="end" textLength="42" lengthAdjust="spacingAndGlyphs">β-Actin</text>
<clipPath id="cd"><rect x="184" y="353" width="395.6" height="73.3"/></clipPath>
<g clip-path="url(#cd)">
<rect x="184" y="353" width="395.6" height="29" fill="url(#gd1)"/>
<rect x="184" y="382" width="395.6" height="4.2" fill="#fbfbfb"/>
<rect x="184" y="386.2" width="395.6" height="40.1" fill="url(#gd2)"/>
<ellipse cx="208.7" cy="369" rx="16.9" ry="2.4" fill="#0a0808" opacity="0.33" filter="url(#bl1)"/>
<ellipse cx="208.7" cy="374.8" rx="16.9" ry="2.9" fill="#0a0808" opacity="0.0594" filter="url(#bl2)"/>
<ellipse cx="253.7" cy="369.7" rx="17.2" ry="2.6" fill="#0a0808" opacity="0.68" filter="url(#bl1)" transform="rotate(-4 253.7 369.7)"/>
<ellipse cx="253.7" cy="375.4" rx="17.2" ry="2.9" fill="#0a0808" opacity="0.12240000000000001" filter="url(#bl2)"/>
<ellipse cx="295.6" cy="365.9" rx="18.4" ry="2.7" fill="#0a0808" opacity="0.8" filter="url(#bl1)" transform="rotate(-1 295.6 365.9)"/>
<ellipse cx="295.6" cy="371.6" rx="18.4" ry="2.9" fill="#0a0808" opacity="0.144" filter="url(#bl2)"/>
<ellipse cx="338.6" cy="363.9" rx="18.4" ry="4" fill="#0a0808" opacity="0.95" filter="url(#bl1)" transform="rotate(-1 338.6 363.9)"/>
<ellipse cx="338.6" cy="369.7" rx="18.4" ry="2.9" fill="#0a0808" opacity="0.17099999999999999" filter="url(#bl2)"/>
<ellipse cx="381.7" cy="363.9" rx="18.4" ry="3.2" fill="#0a0808" opacity="0.85" filter="url(#bl1)" transform="rotate(3 381.7 363.9)"/>
<ellipse cx="381.7" cy="369.7" rx="18.4" ry="2.9" fill="#0a0808" opacity="0.153" filter="url(#bl2)"/>
<ellipse cx="423.1" cy="365.9" rx="16.7" ry="2.7" fill="#0a0808" opacity="0.5" filter="url(#bl1)" transform="rotate(6 423.1 365.9)"/>
<ellipse cx="423.1" cy="371.6" rx="16.7" ry="2.9" fill="#0a0808" opacity="0.09" filter="url(#bl2)"/>
<ellipse cx="466.2" cy="367.8" rx="16.7" ry="2.9" fill="#0a0808" opacity="0.42" filter="url(#bl1)"/>
<ellipse cx="466.2" cy="373.5" rx="16.7" ry="2.9" fill="#0a0808" opacity="0.0756" filter="url(#bl2)"/>
<ellipse cx="507.6" cy="367.8" rx="18.4" ry="2.9" fill="#0a0808" opacity="0.6" filter="url(#bl1)"/>
<ellipse cx="507.6" cy="373.5" rx="18.4" ry="2.9" fill="#0a0808" opacity="0.108" filter="url(#bl2)"/>
<ellipse cx="549.9" cy="367.1" rx="19.3" ry="3.2" fill="#0a0808" opacity="0.72" filter="url(#bl1)" transform="rotate(3 549.9 367.1)"/>
<ellipse cx="549.9" cy="372.9" rx="19.3" ry="2.9" fill="#0a0808" opacity="0.1296" filter="url(#bl2)"/>
<ellipse cx="209.5" cy="399" rx="20.1" ry="5.1" fill="#0a0808" opacity="0.93" filter="url(#bl1)"/>
<ellipse cx="209.5" cy="400.3" rx="21.7" ry="8.3" fill="#0a0808" opacity="0.18600000000000003" filter="url(#bl2)"/>
<ellipse cx="252.5" cy="399" rx="20.1" ry="4.4" fill="#0a0808" opacity="0.9" filter="url(#bl1)" transform="rotate(1 252.5 399)"/>
<ellipse cx="252.5" cy="400.3" rx="21.7" ry="7.6" fill="#0a0808" opacity="0.18000000000000002" filter="url(#bl2)"/>
<ellipse cx="294.8" cy="399" rx="19.3" ry="4.8" fill="#0a0808" opacity="0.85" filter="url(#bl1)" transform="rotate(1 294.8 399)"/>
<ellipse cx="294.8" cy="400.3" rx="20.9" ry="8" fill="#0a0808" opacity="0.17" filter="url(#bl2)"/>
<ellipse cx="337.8" cy="400" rx="21" ry="5.1" fill="#0a0808" opacity="0.5" filter="url(#bl1)" transform="rotate(1 337.8 400)"/>
<ellipse cx="337.8" cy="401.3" rx="22.5" ry="8.3" fill="#0a0808" opacity="0.1" filter="url(#bl2)"/>
<ellipse cx="380.9" cy="401.9" rx="21" ry="5.1" fill="#0a0808" opacity="0.6" filter="url(#bl1)" transform="rotate(3 380.9 401.9)"/>
<ellipse cx="380.9" cy="403.2" rx="22.5" ry="8.3" fill="#0a0808" opacity="0.12" filter="url(#bl2)"/>
<ellipse cx="424.7" cy="405.4" rx="21.8" ry="4.8" fill="#0a0808" opacity="0.75" filter="url(#bl1)" transform="rotate(2 424.7 405.4)"/>
<ellipse cx="424.7" cy="406.7" rx="23.4" ry="8" fill="#0a0808" opacity="0.15000000000000002" filter="url(#bl2)"/>
<ellipse cx="467.8" cy="406.4" rx="20.1" ry="5.1" fill="#0a0808" opacity="0.95" filter="url(#bl1)" transform="rotate(2 467.8 406.4)"/>
<ellipse cx="467.8" cy="407.6" rx="21.7" ry="8.3" fill="#0a0808" opacity="0.19" filter="url(#bl2)"/>
<ellipse cx="510" cy="407.9" rx="19.3" ry="4.8" fill="#0a0808" opacity="0.93" filter="url(#bl1)" transform="rotate(2 510 407.9)"/>
<ellipse cx="510" cy="409.2" rx="20.9" ry="8" fill="#0a0808" opacity="0.18600000000000003" filter="url(#bl2)"/>
<ellipse cx="552.3" cy="410.2" rx="20.1" ry="4.8" fill="#0a0808" opacity="0.93" filter="url(#bl1)" transform="rotate(3 552.3 410.2)"/>
<ellipse cx="552.3" cy="411.5" rx="21.7" ry="8" fill="#0a0808" opacity="0.18600000000000003" filter="url(#bl2)"/>
</g>
<rect x="185" y="354" width="393.6" height="71.3" fill="none" stroke="#0d0c0c" stroke-width="2.2"/>
<text transform="translate(92.3,781.3) scale(0.8,1)" y="5.1" class="se" font-size="15.5" text-anchor="middle">M1</text>
<text transform="translate(152.7,781.3) scale(0.8,1)" y="5.1" class="se" font-size="15.5" text-anchor="middle">M2</text>
<text transform="translate(208.3,781.3) scale(0.8,1)" y="5.1" class="se" font-size="15.5" text-anchor="middle">M1+Mel</text>
<text transform="translate(268.3,781.3) scale(0.8,1)" y="5.1" class="se" font-size="15.5" text-anchor="middle">M2+Mel</text>
<text transform="translate(62.8,806.3)" y="5.1" class="se" font-size="15.5" text-anchor="end" textLength="32.7" lengthAdjust="spacingAndGlyphs">PD-L1</text>
<text transform="translate(62.8,844.5)" y="5.1" class="se" font-size="15.5" text-anchor="end" textLength="47" lengthAdjust="spacingAndGlyphs">pSTAT3</text>
<text transform="translate(62.8,879.5)" y="5.1" class="se" font-size="15.5" text-anchor="end" textLength="31" lengthAdjust="spacingAndGlyphs">JAK2</text>
<text transform="translate(60.3,912.3)" y="5.1" class="se" font-size="15.5" text-anchor="end" textLength="36" lengthAdjust="spacingAndGlyphs">β-actin</text>
<clipPath id="cg"><rect x="68.7" y="792.7" width="230.8" height="130.3"/></clipPath>
<g clip-path="url(#cg)">
<rect x="68.7" y="792.7" width="230.8" height="130.3" fill="#f6f5f5"/>
<rect x="68.7" y="792.7" width="230.8" height="24.7" fill="#dddbdb"/>
<rect x="68.7" y="792.7" width="230.8" height="24.7" fill="#666" filter="url(#nz)" opacity="0.33"/>
<rect x="68.7" y="817.2" width="230.8" height="9.8" fill="#fdfdfd"/>
<rect x="68.7" y="827" width="230.8" height="36" fill="url(#gg2)"/>
<ellipse cx="149.2" cy="800.3" rx="22.1" ry="10.1" fill="#0a0808" opacity="0.28" filter="url(#bl2)"/>
<ellipse cx="261" cy="800.3" rx="22.1" ry="10.1" fill="#0a0808" opacity="0.25" filter="url(#bl2)"/>
<ellipse cx="87.2" cy="807.5" rx="15.6" ry="1.6" fill="#0a0808" opacity="0.3" filter="url(#bl1)"/>
<ellipse cx="110.4" cy="807.5" rx="6" ry="1.6" fill="#0a0808" opacity="0.22" filter="url(#bl1)"/>
<ellipse cx="149.7" cy="807.5" rx="20.6" ry="1.9" fill="#0a0808" opacity="0.62" filter="url(#bl1)"/>
<ellipse cx="207" cy="807.9" rx="23.1" ry="1.5" fill="#0a0808" opacity="0.12" filter="url(#bl1)"/>
<ellipse cx="253.4" cy="807.5" rx="14.1" ry="1.9" fill="#0a0808" opacity="0.5" filter="url(#bl1)"/>
<ellipse cx="274.3" cy="807.5" rx="8" ry="1.6" fill="#0a0808" opacity="0.25" filter="url(#bl1)"/>
<ellipse cx="154.5" cy="835.4" rx="21.6" ry="8.7" fill="#0a0808" opacity="0.35" filter="url(#bl2)"/>
<ellipse cx="96.2" cy="835.4" rx="24.1" ry="7.3" fill="#0a0808" opacity="0.12" filter="url(#bl2)"/>
<ellipse cx="268.6" cy="835.4" rx="24.1" ry="7.3" fill="#0a0808" opacity="0.08" filter="url(#bl2)"/>
<ellipse cx="96.2" cy="841.6" rx="24.1" ry="2.5" fill="#0a0808" opacity="0.78" filter="url(#bl1)"/>
<ellipse cx="96.7" cy="848.2" rx="23.6" ry="2.2" fill="#0a0808" opacity="0.3" filter="url(#bl1)"/>
<ellipse cx="96.2" cy="854.3" rx="24.1" ry="2.6" fill="#0a0808" opacity="0.62" filter="url(#bl1)"/>
<ellipse cx="154.2" cy="842.2" rx="21.3" ry="3.3" fill="#0a0808" opacity="0.97" filter="url(#bl1)"/>
<ellipse cx="154.2" cy="848.6" rx="20.9" ry="2.8" fill="#0a0808" opacity="0.75" filter="url(#bl1)"/>
<ellipse cx="154.3" cy="855.2" rx="21.8" ry="3.3" fill="#0a0808" opacity="0.97" filter="url(#bl1)"/>
<ellipse cx="210.8" cy="843.1" rx="23.1" ry="2.2" fill="#0a0808" opacity="0.33" filter="url(#bl1)"/>
<ellipse cx="210.8" cy="848.8" rx="23.1" ry="2.2" fill="#0a0808" opacity="0.33" filter="url(#bl1)"/>
<ellipse cx="210.8" cy="854.3" rx="21.1" ry="1.9" fill="#0a0808" opacity="0.1" filter="url(#bl1)"/>
<ellipse cx="268.8" cy="842.6" rx="23.9" ry="2.3" fill="#0a0808" opacity="0.5" filter="url(#bl1)"/>
<ellipse cx="268.8" cy="848.8" rx="23.9" ry="2.3" fill="#0a0808" opacity="0.45" filter="url(#bl1)"/>
<ellipse cx="268.6" cy="855.1" rx="23.1" ry="2.2" fill="#0a0808" opacity="0.25" filter="url(#bl1)"/>
<ellipse cx="94" cy="871" rx="22.8" ry="2" fill="#0a0808" opacity="0.55" filter="url(#bl1)"/>
<ellipse cx="209.9" cy="874.2" rx="24.1" ry="3.3" fill="#0a0808" opacity="0.16" filter="url(#bl1)"/>
<ellipse cx="150.2" cy="875.5" rx="21.1" ry="2.8" fill="#0a0808" opacity="0.07" filter="url(#bl1)"/>
<ellipse cx="263.8" cy="872.9" rx="19.1" ry="2.2" fill="#0a0808" opacity="0.06" filter="url(#bl1)"/>
<ellipse cx="95.3" cy="885.2" rx="25.5" ry="2.6" fill="#0a0808" opacity="0.6" filter="url(#bl1)"/>
<ellipse cx="152.1" cy="886.3" rx="25.5" ry="4.7" fill="#0a0808" opacity="0.98" filter="url(#bl1)"/>
<ellipse cx="208.5" cy="886.3" rx="26.1" ry="3" fill="#0a0808" opacity="0.68" filter="url(#bl1)"/>
<ellipse cx="267.3" cy="886.7" rx="26.1" ry="3.6" fill="#0a0808" opacity="0.88" filter="url(#bl1)"/>
<ellipse cx="99" cy="901.3" rx="13.1" ry="0.9" fill="#0a0808" opacity="0.07" filter="url(#bl1)"/>
<ellipse cx="153" cy="901.7" rx="20.1" ry="1.1" fill="#0a0808" opacity="0.12" filter="url(#bl1)"/>
<ellipse cx="208.9" cy="902" rx="17.1" ry="0.9" fill="#0a0808" opacity="0.08" filter="url(#bl1)"/>
<ellipse cx="263.4" cy="902" rx="13.6" ry="0.9" fill="#0a0808" opacity="0.06" filter="url(#bl1)"/>
<ellipse cx="94.3" cy="916.2" rx="25.5" ry="4.7" fill="#0a0808" opacity="0.98" filter="url(#bl1)"/>
<ellipse cx="152.6" cy="916.8" rx="27" ry="4.7" fill="#0a0808" opacity="0.97" filter="url(#bl1)"/>
<ellipse cx="209.9" cy="917.4" rx="26.5" ry="4.5" fill="#0a0808" opacity="0.97" filter="url(#bl1)"/>
<ellipse cx="267.6" cy="917.4" rx="24.5" ry="4.2" fill="#0a0808" opacity="0.95" filter="url(#bl1)"/>
</g>
<rect x="68.7" y="792.7" width="230.8" height="130.3" fill="none" stroke="#2a2828" stroke-width="1.2"/>
<text transform="translate(764,772.5)" y="4.1" class="se" font-size="12.5" text-anchor="end" textLength="38.3" lengthAdjust="spacingAndGlyphs">WP1066</text>
<text transform="translate(763.7,794)" y="5.1" class="se" font-size="15.5" text-anchor="end" textLength="21.7" lengthAdjust="spacingAndGlyphs">Mel</text>
<text transform="translate(763.7,815)" y="5.1" class="se" font-size="15.5" text-anchor="end" textLength="18.3" lengthAdjust="spacingAndGlyphs">M2</text>
<line x1="781.6" y1="773.6" x2="792" y2="773.6" stroke="#333" stroke-width="1"/>
<path d="M820.9 772.8H828.9M824.9 768.5V777.1" fill="none" stroke="#333" stroke-width="1"/>
<path d="M854.9 772.8H862.9M858.9 768.5V777.1" fill="none" stroke="#333" stroke-width="1"/>
<line x1="890" y1="773.6" x2="900.4" y2="773.6" stroke="#333" stroke-width="1"/>
<line x1="781.6" y1="794" x2="792" y2="794" stroke="#333" stroke-width="1"/>
<path d="M820.9 793.2H828.9M824.9 788.9V797.5" fill="none" stroke="#333" stroke-width="1"/>
<line x1="853.7" y1="794" x2="864.1" y2="794" stroke="#333" stroke-width="1"/>
<path d="M891.2 793.2H899.2M895.2 788.9V797.5" fill="none" stroke="#333" stroke-width="1"/>
<path d="M782.8 814.2H790.8M786.8 809.9V818.5" fill="none" stroke="#333" stroke-width="1"/>
<path d="M820.9 814.2H828.9M824.9 809.9V818.5" fill="none" stroke="#333" stroke-width="1"/>
<path d="M854.9 814.2H862.9M858.9 809.9V818.5" fill="none" stroke="#333" stroke-width="1"/>
<path d="M891.2 814.2H899.2M895.2 809.9V818.5" fill="none" stroke="#333" stroke-width="1"/>
<text transform="translate(767,841)" y="5.1" class="se" font-size="15.5" text-anchor="end" textLength="34" lengthAdjust="spacingAndGlyphs">PD-L1</text>
<text transform="translate(767,867.5)" y="5.1" class="se" font-size="15.5" text-anchor="end" textLength="46" lengthAdjust="spacingAndGlyphs">pSTAT3</text>
<text transform="translate(767,892.8)" y="5.1" class="se" font-size="15.5" text-anchor="end" textLength="31" lengthAdjust="spacingAndGlyphs">JAK2</text>
<text transform="translate(767,916.3)" y="5.1" class="se" font-size="15.5" text-anchor="end" textLength="35" lengthAdjust="spacingAndGlyphs">β-actin</text>
<clipPath id="ch"><rect x="771.1" y="827.1" width="143.8" height="98.8"/></clipPath>
<g clip-path="url(#ch)">
<rect x="771.1" y="827.1" width="143.8" height="98.8" fill="#fbfbfb"/>
<rect x="771.1" y="828" width="143.8" height="23.2" fill="#e4e3e3"/>
<rect x="771.1" y="855.4" width="143.8" height="23.1" fill="url(#gh2)"/>
<rect x="771.1" y="881.6" width="143.8" height="19.4" fill="#dedddd"/>
<rect x="771.1" y="905.3" width="143.8" height="20.6" fill="#e2e1e1"/>
<ellipse cx="791.3" cy="837.2" rx="14.6" ry="1.2" fill="#0a0808" opacity="0.62" filter="url(#bl1)"/>
<ellipse cx="824.5" cy="837" rx="14.3" ry="1.2" fill="#0a0808" opacity="0.8" filter="url(#bl1)"/>
<ellipse cx="858.2" cy="837.4" rx="13.3" ry="1.1" fill="#0a0808" opacity="0.38" filter="url(#bl1)"/>
<ellipse cx="895.8" cy="837.7" rx="17.1" ry="0.9" fill="#0a0808" opacity="0.25" filter="url(#bl1)"/>
<ellipse cx="791.5" cy="846.7" rx="14.2" ry="0.9" fill="#0a0808" opacity="0.2" filter="url(#bl1)"/>
<ellipse cx="790.4" cy="867.6" rx="15.6" ry="2.3" fill="#0a0808" opacity="0.97" filter="url(#bl1)"/>
<ellipse cx="824.5" cy="866.4" rx="10.4" ry="1.7" fill="#0a0808" opacity="0.5" filter="url(#bl1)"/>
<ellipse cx="857.8" cy="864.8" rx="13.5" ry="0.7" fill="#0a0808" opacity="0.1" filter="url(#bl1)"/>
<ellipse cx="894.4" cy="864.5" rx="12.4" ry="1.1" fill="#0a0808" opacity="0.35" filter="url(#bl1)"/>
<ellipse cx="854.7" cy="876.7" rx="21.9" ry="1.8" fill="#0a0808" opacity="0.18" filter="url(#bl2)"/>
<ellipse cx="894.8" cy="874.3" rx="15.5" ry="1.6" fill="#0a0808" opacity="0.0001" filter="url(#bl1)"/>
<rect x="880.3" y="872.4" width="29.2" height="3.6" fill="#fff" opacity="0.35" filter="url(#bl2)"/>
<ellipse cx="789.7" cy="890.8" rx="16.4" ry="5.6" fill="#0a0808" opacity="0.98" filter="url(#bl1)"/>
<ellipse cx="823.9" cy="890.3" rx="13" ry="2.4" fill="#0a0808" opacity="0.4" filter="url(#bl2)"/>
<ellipse cx="857.6" cy="890.3" rx="12.7" ry="2.3" fill="#0a0808" opacity="0.38" filter="url(#bl2)"/>
<ellipse cx="890.7" cy="890.1" rx="13.7" ry="2.4" fill="#0a0808" opacity="0.45" filter="url(#bl2)"/>
<ellipse cx="790.7" cy="917.2" rx="15.3" ry="3.3" fill="#0a0808" opacity="0.85" filter="url(#bl2)"/>
<ellipse cx="825.7" cy="917.2" rx="15.6" ry="3.5" fill="#0a0808" opacity="0.97" filter="url(#bl2)"/>
<ellipse cx="861.5" cy="915.4" rx="17.5" ry="3.4" fill="#0a0808" opacity="0.78" filter="url(#bl2)"/>
<ellipse cx="897.1" cy="915.4" rx="15.9" ry="3.6" fill="#0a0808" opacity="0.8" filter="url(#bl2)"/>
<ellipse cx="790.7" cy="918" rx="15.3" ry="1.8" fill="#0a0808" opacity="0.5" filter="url(#bl1)"/>
<ellipse cx="821.3" cy="918" rx="11" ry="2.1" fill="#0a0808" opacity="0.6" filter="url(#bl1)"/>
</g>
<rect x="771.1" y="827.1" width="143.8" height="98.8" fill="none" stroke="#1f1d1d" stroke-width="1.4"/>
<text transform="translate(772.7,10.8)" y="5" class="seb" font-size="15" text-anchor="middle">LLC</text>
<line x1="596" y1="18.4" x2="959" y2="18.4" stroke="#555" stroke-width="0.9"/>
<rect x="522" y="44" width="141.5" height="138" fill="#fff" stroke="#4a4848" stroke-width="0.9"/>
<line x1="525" y1="85.3" x2="663.5" y2="85.3" stroke="#4a4848" stroke-width="1"/>
<line x1="617.3" y1="57" x2="617.3" y2="175.7" stroke="#4a4848" stroke-width="1"/>
<text transform="translate(589.7,31)" y="5" class="seb" font-size="15" text-anchor="middle">Control</text>
<text x="501.5" y="46.2" class="sa" font-size="10.3" fill="#3b3939">10<tspan dy="-3" font-size="7">3</tspan></text>
<text x="501.5" y="160.2" class="sa" font-size="10.3" fill="#3b3939">10<tspan dy="-3" font-size="7">2</tspan></text>
<text x="501.5" y="183.7" class="sa" font-size="10.3" fill="#3b3939">10<tspan dy="-3" font-size="7">1</tspan></text>
<text transform="translate(505,106.5) rotate(-90)" y="4.1" class="sa" font-size="12.5" text-anchor="middle" fill="#3b3939" textLength="56" lengthAdjust="spacingAndGlyphs">PI (Intensity)</text>
<text x="515" y="197.7" class="sa" font-size="10.3" fill="#3b3939">10<tspan dy="-3" font-size="7">1</tspan></text>
<text x="531.5" y="197.7" class="sa" font-size="10.3" fill="#3b3939">10<tspan dy="-3" font-size="7">2</tspan></text>
<text transform="translate(554,194.8)" y="3.6" class="sa" font-size="11" fill="#3b3939" textLength="95" lengthAdjust="spacingAndGlyphs">Annexin V-FITC (Intensity)</text>
<text x="656" y="196.2" class="sa" font-size="10.3" fill="#3b3939">10<tspan dy="-3" font-size="7">3</tspan></text>
<path d="M553.9 135.2h1M562.5 149.9h1M548.4 128.2h1M546.8 144.1h1M568.9 115.9h1M546.3 144.2h1M541 147.4h1M563.2 136.1h1M573.4 133.3h1M546.4 139.4h1M553.9 150.3h1M554 132.8h1M532.3 96.5h1M583.8 131.7h1M596.3 121.8h1M576.1 156h1M559.4 126.1h1M531.5 160.3h1M558.3 109.5h1M548 177.1h1M560.3 149.1h1M564.3 144h1M562.9 159.4h1M564.9 107h1M565.8 129.5h1M587.9 129.9h1M563.2 121.2h1M546.4 142.1h1M553.6 130.7h1M554.4 144.9h1M594.2 125.3h1M563.1 169.3h1M538.7 117.9h1M557.4 159.9h1M578.1 117.6h1M545.3 113.5h1M564.7 98.4h1M549.1 164h1M564.9 126.9h1M568.1 135.2h1M563.2 118.6h1M536 148.4h1M557.4 135.5h1M545.1 139.2h1M532.3 167.5h1M572.6 116.3h1M531 123.1h1M572.9 136.7h1M557.5 91.8h1M571 127.9h1M547.6 130.5h1M547.2 162.1h1M556.1 114h1M550.6 155.4h1M573.2 120.7h1M564 105.5h1M558.7 124.2h1M568 143.9h1M550.4 112.2h1M547.2 168.6h1M559.9 150.5h1M541.5 131.7h1M533.9 146.1h1M551.6 143.2h1M537.6 117.8h1M583.5 119.3h1M549.2 158.1h1M543.4 134.9h1M554.4 160.8h1M555.6 131h1M534.5 103.3h1M545.3 166.2h1M559.9 136.9h1M547.2 147.1h1M547.4 130.6h1M534.7 105.7h1M568.8 123.6h1M557 141.6h1M558.6 127h1M561.1 148.5h1M553.5 135.2h1M571.4 114.2h1M560 153.5h1M553.9 131.1h1M563.8 126.4h1M562 107.4h1M526.4 100.1h1M548.9 97.3h1M573.5 116.1h1M532.3 153.2h1M538.5 127.8h1M557.7 147.5h1M533.8 148.8h1M558 147.8h1M552.7 134.6h1M537 110.9h1M554.3 139.9h1M550.9 136.4h1M544.2 104.5h1M571.5 111.5h1M563.7 129.9h1M563.3 136.5h1M551.7 123.5h1M572.4 116.4h1M567.2 127h1M560.9 99.7h1M567.9 108h1M594.5 126.4h1M573.5 146.2h1M578 141.7h1M570.9 102.1h1M557.7 138.4h1M566.1 97.6h1M558.5 162.3h1M565.6 121.3h1M558.5 114.9h1M546.6 168.2h1M533.2 155.1h1M580.9 163.3h1M559.3 131.6h1M588 149.8h1M544.4 123.9h1M548.9 158.7h1M565.9 122.4h1M548.7 112.4h1M569 101.5h1M572.5 134.6h1M534.1 156h1M563.1 162.3h1M529 148.3h1M595.9 115.6h1M577 148.7h1M563.1 105.2h1M572.9 126.8h1M560.7 107.8h1M556 126.6h1M559.5 150.5h1M553.1 138.4h1M528.4 159.5h1M559.3 153.5h1M572.1 109.7h1M551.2 121.2h1M560.2 114h1M548.9 158h1M539.4 168.7h1M564.2 159.1h1M576 131h1M531.8 151.1h1M582 133.5h1M564.7 139.4h1M532.6 127.9h1M552.5 177h1M554.5 118.1h1M541.5 129.6h1M570.1 119.8h1M538.6 168.9h1M559 105.6h1M556.1 148.4h1M566 131.6h1M544.8 127.6h1M545.7 152.7h1M568.4 128.1h1M540.8 154.8h1M546.3 121.7h1M574.9 102.3h1M537.7 118.7h1M558.6 146h1M553.6 135.8h1M556.4 151.3h1M568 134.3h1M536.3 143.7h1M566.7 157.9h1M566.9 145.2h1M564.9 125.3h1M581.5 118.2h1M544.9 172.5h1M557.7 146.3h1M578.9 116.3h1M571.4 130.9h1M534.9 159h1M570.5 134.2h1M554.6 132.4h1M569.2 116h1M548.2 150.7h1M577 110.3h1M546.6 161.2h1M563.1 122.8h1M552.2 95.8h1M560.7 137.4h1M590.6 143h1M559.3 149.9h1M586.3 134.2h1M558.9 130.6h1M539.9 121.8h1M597.8 114.3h1M546.4 161.8h1M548 138.1h1M555.6 171.2h1M586.5 120.7h1M531.9 104.5h1M549.6 125.8h1M561.1 116.3h1M565.1 127.6h1M534.8 138.2h1M547.5 142.7h1M565.5 131.1h1M563.4 140.4h1M547.2 163.6h1M555.1 103.2h1M539.8 143.5h1M546.7 130.7h1M586.9 97.6h1M549.4 148.2h1M559.6 147.7h1M544.2 163.9h1M561.1 155.4h1M582 137h1M547.8 135.3h1M555.5 124.8h1M554.8 166.7h1M543.7 132.3h1M564.4 163.2h1M544.8 162.9h1M561.7 161.6h1M554.6 115.9h1M550.8 121.2h1M577.5 149h1M541.9 155.8h1M548 137.7h1M533.7 138.7h1M544.1 119.4h1M593.6 124.1h1M592.4 100.3h1M564.6 170.7h1M559.9 148.5h1M572.5 108.2h1M559.7 143.5h1M597 118.1h1M567.2 141.3h1M562.8 149.6h1M557.5 138.4h1M546.6 148.6h1M553.5 140.4h1M551.3 145.3h1M549.9 135.2h1M548.6 130.1h1M547 117.7h1M543 165.6h1M548 132.3h1M549.7 156.4h1M571.5 139.4h1M571.5 129.3h1M574.8 136h1M563.2 152h1M550.8 143h1M558.3 125.7h1M543.7 129.2h1M533 154.4h1M556.8 118.9h1M564.6 131.6h1M529.2 113.7h1M562.6 113.7h1M578.6 126.4h1M542.6 131.2h1M545.6 128.5h1M546.9 131.5h1M569.5 142.9h1M585 123.9h1M535.3 136.3h1M538.7 173.9h1M538 144.4h1M559.4 130.3h1M561 123.7h1M576.5 139.4h1M570.7 128.1h1M528.6 123.7h1M537.7 128h1M554.7 117.7h1M582.1 109.7h1M528.5 142.5h1M549.4 142.2h1M554.2 118h1M559.2 154.2h1M585.6 134.6h1M548.4 162.9h1M550.5 155.9h1M582.9 102.1h1M553.5 164.5h1M532.8 129.2h1M556.8 115.9h1M542.7 104.7h1M563.3 136.6h1M571.7 127.9h1M548.5 159.3h1M543.4 167.4h1M570 109.3h1M548.2 148.6h1M581.3 122.6h1M580.5 129.4h1M566.5 91.6h1M549.6 120.3h1M567.7 167.1h1M588.1 144.2h1M568.3 131.8h1M545.3 147.2h1M572.5 158.7h1M547 136.5h1M544.7 152h1M563.4 127h1M575.2 106.4h1M547.4 118.7h1M571.1 134h1M547 155.1h1M542.5 125.6h1M548 135h1M542.4 161.5h1M569.6 133h1M540 109.9h1M534 144.2h1M558.6 170.6h1M554.1 112.1h1M569.1 172.7h1M576.3 157.9h1M553.9 140.8h1M538.2 116.7h1M556.3 128.2h1M531.8 164.1h1M583.4 128h1M551.9 135.6h1M534.3 146.1h1M568.5 121.7h1M530.3 165.3h1M541.5 104.8h1M537.6 156.2h1M563.9 102.1h1M567.6 115.4h1M581.9 155.7h1M566.5 137.4h1M571.8 144.4h1M574.5 91h1M599.5 139.5h1M548.4 126.7h1M579.9 143.6h1M580.5 143.6h1M583.4 130.5h1M572.4 174.4h1M532.5 151.6h1M571.5 129.8h1M555.6 132.9h1M550.9 122.5h1M566.1 122.4h1M563.6 145h1M582.7 125.4h1M563.2 123.5h1M542.5 95.9h1M561.3 140.8h1M557.8 144.1h1M562 141.1h1M539.8 150.3h1M564.1 141.1h1M566.6 127.6h1M529.8 146.1h1M572.8 157.9h1M543 164h1M546.3 156.9h1M539.2 176h1M572.8 157.2h1M553 144.3h1M547.2 118.1h1M552 124h1M533.3 114.8h1M573.8 129.4h1M550.9 172.8h1M564.4 132.5h1M575.8 117.8h1M570.1 119.4h1M554.4 126.8h1M543.2 124h1M542.2 149.7h1M569.8 123.6h1M555.5 137.9h1M552.7 137.7h1M563.4 144.2h1M548.7 140.3h1M527.2 156.4h1M581.8 146.9h1M557.7 137.1h1M557.9 141.7h1M595.1 175.2h1M551.3 166h1M555.2 145.3h1M560.8 141.4h1M557 118.8h1M549.5 157.8h1M540.9 124.4h1M556.7 176.5h1M563.8 147.8h1M563.2 130.6h1M577.1 105.9h1M580.7 109.9h1M581.9 127.3h1M556.4 105.2h1M557.6 166.5h1M559.1 133h1M528.6 113.7h1M543.1 136.5h1M558.3 124.7h1M571.6 141.9h1M542.2 134.1h1M557.2 93.3h1M560.2 150.1h1M583.3 105.2h1M563.7 146.6h1M553.7 120h1M576.3 100h1M546.5 174.7h1M547.7 151.6h1M567.2 123.8h1M556.8 139.9h1M541.4 144.6h1M552.3 118.5h1M547.3 145.9h1M573.9 95.3h1M556.5 156h1M556.2 107.7h1M583.3 142.6h1M533.4 132.7h1M539.1 115.6h1M552 137.8h1M546 138h1M552.3 124h1M570.8 160.5h1M551.8 120.1h1M568.8 115.5h1M584.3 132.2h1M562.1 137.3h1M589.5 146.4h1M559.3 145.3h1M587.9 168.9h1M554.8 162h1M536.8 105.7h1M543.8 150.9h1M558.8 133.1h1M551.8 154.4h1M565.8 119.4h1M547.2 137h1M568.1 160.2h1M542.1 128.7h1M580.7 116.9h1M573.5 129.2h1M539.7 132.8h1M586.1 115.8h1M579.4 120.3h1M549.2 117.5h1M562 146.3h1M542.6 141.5h1M539.6 158.3h1M552.2 145.5h1M539.2 164.7h1M596.8 99.6h1M573.9 160.7h1M560.5 159h1M564.5 139.5h1M578.7 116.8h1M565.3 135h1M555 121.8h1M549.9 175.1h1M579.1 139.6h1M585.8 113.3h1M551.1 110.9h1M547 142.7h1M534.4 145h1M556.1 149.8h1M550.9 139.8h1M559.6 135.3h1M545.8 142.7h1M553.3 115.5h1M555.7 119.5h1M548.8 115h1M567.2 136.3h1M558.4 129.7h1M581.6 146.5h1M560.7 145.1h1M532.3 132.2h1M528.9 151.5h1M568.6 88.7h1M536.4 158.3h1M540.2 153h1M566.1 131.7h1M549 137.2h1M546.9 146.7h1M549.1 158.1h1M548.7 152.2h1M573.8 108h1M561.3 147.3h1M589.3 115.4h1M556.6 172.2h1M560.5 156h1M585.4 138.2h1M574.4 145.1h1M577.3 119.2h1M552.9 136.9h1M543.6 103.7h1M556.4 149.5h1M554.8 142.8h1M565.7 145.9h1M561.2 135.5h1M555.6 146h1M576.4 159.2h1M534.2 145.2h1M559 115.1h1M566.1 115.6h1M571.6 107.9h1M540.1 140.3h1M532.2 100.5h1M600.8 140.6h1M551.4 130.8h1M573.6 94.2h1M550.3 128.2h1M567.6 136.4h1M539.7 149.4h1M566.6 116.9h1M561.1 160.2h1M557.9 138.4h1M570.1 117.2h1M545 156.6h1M550.9 99.1h1M570.8 155.8h1M574.8 104h1M534.4 164.7h1M554 163.9h1M531.8 116.9h1M593.3 147.6h1M552.1 123.4h1M565.1 102.9h1M568.2 135.5h1M535.7 134.2h1M537.4 128.5h1M540.4 120.5h1M584.6 131.7h1M573.3 135.6h1M562.7 122.3h1M559.4 98.6h1M559.7 107.9h1M572 140.7h1M558.9 90.7h1M562.3 135h1M551.4 118.3h1M560.3 120.7h1M558.2 158.1h1M550.1 119h1M604.1 160.1h1M550.3 122.6h1M552.4 100.1h1M565.3 140.5h1M568.1 120.4h1M571.9 167h1M572.9 137.4h1M561 132.6h1M561.7 153.5h1M562.6 118.6h1M586.6 98.2h1M537.8 131.2h1M562.4 109.3h1M573.9 155.6h1M530.7 157.7h1M569.9 121.3h1M578.1 154.5h1M549.3 119h1M556.4 135.2h1M566.3 136.9h1M559.4 147.6h1M535.5 135.2h1M561.5 118.3h1M557 134.3h1M534 113.1h1M559.4 112.6h1M540 125.3h1M557.2 129.1h1M533.1 91.5h1M539.7 152.6h1M548.6 105.9h1M570 107.9h1M549.6 138.1h1M540.5 141.1h1M574.5 128.5h1M558.3 125.5h1M547.6 163.6h1M535.5 121.6h1M567.6 146.5h1M554.1 113.4h1M540 139.5h1M528.2 158.9h1M568.1 147.9h1M550 102.4h1M552.1 153.6h1M544 134.3h1M544.5 141.9h1M568 124.9h1M568.3 122.7h1M549.1 122h1M582.1 143h1M553.4 90.7h1M553.1 136.5h1M549 136.6h1M541.7 133.8h1M557.7 119.5h1M559.1 163.2h1M568.5 150.6h1M581.1 161.2h1M578.6 114.5h1M570.1 122.4h1M572.8 108.9h1M561.2 127.9h1M553.7 168.7h1M577.1 167.6h1M548.6 177.3h1M551.5 114.6h1M539.6 147.3h1M537.1 136.4h1M551.3 138.2h1M573.4 101h1M563.7 144.4h1M565.5 122.9h1M569.3 147.6h1M575.7 132.9h1M577.6 104.9h1M575.2 107.3h1M584.1 127.8h1M563 154.4h1M567.2 126.5h1M574.9 159h1M545.8 145.7h1M584.4 97.7h1M580 112.2h1M589.2 120.5h1M547.5 114h1M580.3 119.6h1M570.4 131.6h1M561.1 144.7h1M580.6 120.8h1M552.5 103.7h1M564.3 128.8h1M547.7 115.1h1M556.5 124.8h1M568.4 118.8h1M575.6 119.5h1M576.3 124.7h1M554 131.1h1M578.2 124.9h1M553.5 149.9h1M549.5 142h1M563.1 111.6h1M567 142.1h1M557.4 143.9h1M551.6 101h1M565.5 146h1M543.1 130.1h1M561.4 116.4h1M567.8 155.8h1M568.3 155.1h1M546.5 163.4h1M560.6 110.5h1M549.1 125.5h1M540.6 97.2h1M599.4 134.9h1M542.9 145h1M546.6 125.7h1M589 135.3h1M560.8 159.5h1M528.4 141.7h1M576.8 150.9h1M577.9 138.3h1M568.3 156.7h1M554.7 150.4h1M550.4 153.9h1M563.4 127.1h1M557.7 108.9h1M546.3 134.3h1M551.1 154.7h1M587.8 114.1h1M556.4 142.4h1M541.8 135.1h1M547.8 154h1M554.4 142.7h1M576.5 146.2h1M530.8 120.7h1M555.1 154.7h1M576.5 113.1h1M574.8 97.4h1M562.4 145.9h1M555.2 106.9h1M551.8 113.3h1M539.4 145.7h1M565.9 120.6h1M567.4 167.7h1M577 109.7h1M573 150.6h1M578 135.8h1M539.1 137.2h1M534.4 158.7h1M565.7 133.4h1M539.6 101.2h1M550.3 154.7h1M550.3 140.8h1M558.8 130.3h1M561.2 143.8h1M545.4 125.7h1M553.8 144.5h1M566.4 131.9h1M541.5 148.9h1M568.4 123.9h1M553.4 102.6h1M555.2 140.4h1M560.1 143.4h1M541.6 127.5h1M564 131.5h1M554.7 168.9h1M567 144.1h1M542.2 166.5h1M560.1 99.1h1M575.2 145.1h1M558.7 152.1h1M564.5 149.1h1M548.7 112.5h1M541.4 156.1h1M570 162.6h1M542.3 128.1h1M570.7 133.5h1M578.4 97.7h1M550.4 155.2h1M565 163.1h1M536 134.8h1M576.2 137.7h1M570.5 117.4h1M541.8 89.8h1M540.1 132.9h1M558.8 171.2h1M578.5 113.3h1M576.5 140.7h1M549.3 89.4h1M574.1 120.4h1M563 108.1h1M527.5 119.7h1M573.1 120h1M554 126.7h1M569.8 157.1h1M543.5 119h1M550.4 135.4h1M553.9 131.8h1M582.9 103.1h1M558.8 152.6h1M590.9 119.8h1M567.6 125.7h1M568.9 154.5h1M528.5 130.9h1M575.4 143.5h1M561.7 138h1M530.3 148.3h1M567 152.4h1M547.9 141h1M560 159.3h1M601.7 114.9h1M549.9 118.3h1M599.1 121.2h1M574.9 100.9h1M568.1 126.6h1M556.8 146.6h1M558.3 97.8h1M612.9 132.2h1M589.1 157.5h1M613.7 122.6h1M564.3 144.5h1M580.2 87.6h1M543.1 127h1M599.4 116.1h1M607.4 73.4h1M614.9 100.5h1M544.6 166.2h1M599.6 105.1h1M539.7 125.7h1M600.1 91.6h1M568 90.3h1M556.2 135h1M572.6 108.2h1M595.4 156.1h1M582.9 100.2h1M559.6 129.8h1M583 109.3h1M568.8 141.1h1M564.7 137.6h1M535.1 158.9h1M553.1 136.3h1M542.6 119.6h1M553 98.7h1M581.2 126.9h1M610.7 86.4h1M599.5 136.1h1M594.5 128.8h1M532.1 125.6h1M609.2 124.4h1M534.9 126.8h1M531.5 127.5h1M556.3 122.1h1M586.5 157.9h1M532.7 159.1h1M576.5 146.9h1M545 133.5h1M546.7 131.1h1M563.5 112.1h1M530.4 108.4h1M538 90.6h1M539.8 103h1M576.1 83.2h1M569.4 98.8h1M526.5 109.6h1M543.5 126.2h1M568.5 104.8h1M583.5 136.2h1M532.8 139.2h1M539 127.1h1M592 77.6h1M577.6 95.9h1M568.9 149.8h1M567.5 108.9h1M606.4 107.2h1M585.9 123.1h1M533.3 127.4h1M595 139.6h1M541.1 116.1h1M569.8 70.7h1M557.6 114.1h1M609.7 108.9h1M563.4 110.4h1M534.8 132.3h1M608.8 91.7h1M604.4 110.1h1M592 95.9h1M545.4 134.8h1M565.6 142.5h1M585 137.9h1M552.3 152.2h1M559.4 109.4h1M557.5 127.7h1M535 120.1h1M559 99.6h1M572 142.8h1M529.9 150.3h1M557.7 162h1M580.4 110.6h1M570.6 141.1h1M556 125.9h1M543.4 136.1h1M570 117.7h1M567.6 84.2h1M565.1 127.3h1M537.9 126.6h1M528.5 155.8h1M584.5 104.9h1M595.1 145.8h1M583.6 84.6h1M553.6 109.4h1M534.3 106.1h1M530.7 177.7h1M535.8 94.5h1M539.1 105.6h1M546 168.4h1M570.8 116.2h1M550 102h1M558.2 101.3h1" stroke="#a778ad" stroke-width="1.0" fill="none"/>
<path d="M543.2 138.2h1M540.5 135.2h1M568.3 117.1h1M539.5 164.3h1M546.1 139.3h1M551.8 171.4h1M567.9 149.4h1M560 128.2h1M551.7 144.6h1M550.6 126.2h1M553.8 143.1h1M550.5 119.5h1M563.3 135.5h1M551.8 157.5h1M552.6 151.6h1M551.4 149.3h1M538.4 165.4h1M562 131.7h1M540.9 117.2h1M564.2 128.9h1M558.3 138.1h1M557.5 139.9h1M540.4 149.5h1M549 153h1M529.3 144h1M566.3 107h1M559.1 132.2h1M555.4 120.3h1M548 126h1M562.5 131.5h1M559.1 137.3h1M544.7 159.7h1M550.4 140.2h1M553.3 146.8h1M549.1 156.4h1M556.8 143.5h1M550.9 137.2h1M568.3 142h1M549.2 133.8h1M561.7 145.6h1M562.5 124h1M538.5 124.5h1M572 122.8h1M556.2 142.2h1M544.7 165.5h1M554.2 170.2h1M536 142.3h1M541.9 153h1M563 121.8h1M542.1 146.7h1M549.8 172.9h1M541.3 145.5h1M533.4 149.3h1M545.8 115.8h1M543.1 164.1h1M549.3 144.7h1M538.4 170.2h1M541.7 170.1h1M561.1 123.5h1M560 132h1M553.6 128.1h1M545.6 155.5h1M568.9 144.2h1M544.3 174.8h1M554.8 142.1h1M537.6 136h1M548.7 174.3h1M556.9 121.3h1M559.2 143.3h1M565.2 130.9h1M554.4 135.9h1M539.6 132h1M538.4 169.5h1M551.1 128.7h1M556.3 141.6h1M547.6 146.8h1M553.3 147.5h1M558.1 148.8h1M568.4 142.9h1M554 149.8h1M544.7 163h1M540.6 133.6h1M530.6 155.7h1M575.2 131.5h1M547.5 142.1h1M554.4 131.4h1M554.9 133.1h1M545 144h1M572 153.5h1M563.2 149.5h1M536.1 139.5h1M540.2 134.2h1M567 127h1M545.2 147.1h1M558.5 123h1M583.6 156h1M550.3 154.3h1M540 114.6h1M551.3 120.2h1M551.3 152.9h1M561.2 141.9h1M571.8 133.7h1M537.5 149.7h1M571.5 151.5h1M563.1 132.4h1M565.5 134.1h1M549.7 155.9h1M546.4 146.2h1M556 125.6h1M552.4 116.2h1M554.9 152.1h1M558.8 149.8h1M562.2 156.9h1M532.5 148.3h1M555 149.6h1M561.8 144.8h1M587.4 108.2h1M570.7 134h1M554.8 138.6h1M556.6 161.5h1M569.6 165.8h1M537.7 166.2h1M544.8 131.6h1M545.4 151.8h1M539 171.7h1M529.1 139.2h1M553.8 151.5h1M562.5 130.7h1M539.9 156.6h1M562.6 116.4h1M548.1 128.3h1M567.3 118.6h1M553 129.7h1M561.6 145h1M554.5 144.4h1M535.7 147.5h1M549.2 157.9h1M560 120.3h1M560.4 145.6h1M538.2 133.4h1" stroke="#8f5a96" stroke-width="1.0" fill="none"/>
<path d="M633.8 135.3h1M636.5 79h1M639.1 67.2h1M622.4 109.9h1M633.3 153.1h1M621.2 100.2h1M644.3 126.1h1M645 126.9h1M659.5 86h1M640.3 68.7h1M651.1 123.6h1M659.6 73.4h1M641.6 91.1h1M636.6 167.6h1M628.7 75.4h1M636 91.5h1" stroke="#a9bfa6" stroke-width="1.1" fill="none"/>
<path d="M645.1 69.1h1M636.5 70.4h1M636 62.6h1" stroke="#9a9ac8" stroke-width="1.1" fill="none"/>
<text transform="translate(523.8,52.8) scale(0.93,1)" y="3.1" class="sa" font-size="9.3" fill="#3a3838">0.40%</text>
<text transform="translate(659.5,55) scale(0.93,1)" y="3.1" class="sa" font-size="9.3" text-anchor="end" fill="#3a3838">1.10%</text>
<text transform="translate(523.8,175.3) scale(0.93,1)" y="3.1" class="sa" font-size="9.3" fill="#3a3838">95.49%</text>
<text transform="translate(655.5,175.3) scale(0.93,1)" y="3.1" class="sa" font-size="9.3" text-anchor="end" fill="#3a3838">3.01%</text>
<rect x="704.5" y="44" width="145.5" height="139.5" fill="#fff" stroke="#4a4848" stroke-width="0.9"/>
<line x1="704.5" y1="84.6" x2="850" y2="84.6" stroke="#4a4848" stroke-width="1"/>
<line x1="801.5" y1="44" x2="801.5" y2="183.5" stroke="#4a4848" stroke-width="1"/>
<text transform="translate(773,31)" y="5" class="seb" font-size="15" text-anchor="middle">M1-CM</text>
<text x="684" y="46.2" class="sa" font-size="10.3" fill="#3b3939">10<tspan dy="-3" font-size="7">3</tspan></text>
<text x="684" y="160.2" class="sa" font-size="10.3" fill="#3b3939">10<tspan dy="-3" font-size="7">2</tspan></text>
<text x="684" y="185.2" class="sa" font-size="10.3" fill="#3b3939">10<tspan dy="-3" font-size="7">1</tspan></text>
<text transform="translate(687.5,106.5) rotate(-90)" y="4.1" class="sa" font-size="12.5" text-anchor="middle" fill="#3b3939" textLength="56" lengthAdjust="spacingAndGlyphs">PI (Intensity)</text>
<text x="697.5" y="199.2" class="sa" font-size="10.3" fill="#3b3939">10<tspan dy="-3" font-size="7">1</tspan></text>
<text x="714" y="199.2" class="sa" font-size="10.3" fill="#3b3939">10<tspan dy="-3" font-size="7">2</tspan></text>
<text transform="translate(736.5,196.3)" y="3.6" class="sa" font-size="11" fill="#3b3939" textLength="95" lengthAdjust="spacingAndGlyphs">Annexin V-FITC (Intensity)</text>
<text x="842.5" y="197.7" class="sa" font-size="10.3" fill="#3b3939">10<tspan dy="-3" font-size="7">3</tspan></text>
<ellipse cx="757" cy="145" rx="19" ry="15" fill="#7c2f80" opacity="0.35" filter="url(#bl3)" transform="rotate(-20 757 145)"/>
<path d="M768.6 124.4h1M760.6 167.9h1M766.7 129.5h1M767.9 161.8h1M757.3 153.4h1M759.9 152.9h1M778.4 136.3h1M738.8 166.3h1M743.4 147.2h1M735.3 157h1M771.6 141.2h1M731.8 134.3h1M739 155h1M778.4 161h1M770.9 144.3h1M782.8 138.9h1M747 156h1M765.9 146.6h1M760.5 153.9h1M794.1 139.5h1M791.9 137.1h1M769.3 145.2h1M759.5 133.2h1M743.6 146.5h1M787.1 154h1M747.6 137.2h1M764.9 135h1M753.5 132.5h1M754 150.6h1M722 163.2h1M757.5 123.1h1M752.4 113.6h1M736.9 149.6h1M777.2 148.5h1M746.4 140.7h1M769.4 133.4h1M795.7 130.9h1M786.6 155.2h1M737.4 147.9h1M753.5 137.6h1M751.9 133.2h1M743 148.3h1M732.8 153.3h1M772.7 125.5h1M783.8 152.6h1M741.4 151.5h1M752.9 156.8h1M765.3 152.8h1M768 117.3h1M760 132.1h1M749.6 160.7h1M721 132.5h1M797.8 170h1M737.8 154.7h1M738.7 157.5h1M771.3 143.9h1M772.3 164.9h1M749.7 120.4h1M743.4 173.5h1M745 148.5h1M770.6 148.9h1M753.1 148.7h1M751.1 166h1M743.8 140.1h1M768.8 136.3h1M737.1 142.6h1M773.4 121.4h1M768.5 141.4h1M753.4 136.3h1M774.9 175.2h1M738.2 146.7h1M774.6 161.9h1M729.4 179.4h1M779.9 130.1h1M750.1 106.8h1M794.2 123.3h1M761.9 146.2h1M773.8 152.7h1M774.2 150.7h1M773.3 142.6h1M766 122.4h1M771.2 143.2h1M749.9 157.5h1M736.9 134.4h1M758.9 162h1M782.4 148.1h1M782.9 133.9h1M770.5 139h1M736 153.2h1M748 161.3h1M765.3 160.8h1M733 162.1h1M731.3 151.2h1M767.4 141.9h1M750.5 136.2h1M766.9 120.5h1M744.9 144.5h1M749 154.5h1M751.9 136.3h1M745.6 163.7h1M787.2 135.5h1M762.7 132.7h1M777.5 127.5h1M741.7 152.5h1M776.2 140.6h1M780 118.8h1M733.7 151.7h1M738.2 159.9h1M750.5 144.4h1M763.5 161.6h1M754.4 150.6h1M738 146.9h1M725.6 156.1h1M754.7 120.5h1M753.4 151.1h1M773.7 157.4h1M751 114.2h1M781.1 133.5h1M775.4 159.9h1M775.7 149.4h1M761.3 146.1h1M762 152.4h1M717.3 154h1M739.9 175.7h1M779.1 139h1M737.2 169.4h1M767.7 145.8h1M728.4 154.8h1M720 133.4h1M748.2 147h1M735.1 169.6h1M748.7 163.5h1M717.6 148.2h1M746.8 170h1M759.9 150.5h1M743.8 176.5h1M729.4 135.7h1M759.1 169.4h1M733.2 152h1M768.4 147.1h1M751 137.7h1M777.3 163.9h1M743.4 135.9h1M762.8 164.6h1M711.4 140h1M747.3 148.4h1M743.4 137.5h1M772.3 123.7h1M726.5 159.8h1M767.5 148h1M751.1 124.7h1M753.7 168.8h1M789.2 128h1M756.4 139h1M765.7 144.2h1M769.1 145.3h1M768 109.6h1M785.4 132.3h1M741.3 143.6h1M723.7 140.6h1M710.8 148.5h1M781.2 146.9h1M763.7 137.6h1M719.6 160.6h1M787.8 137.4h1M799.6 134.3h1M747.2 151.5h1M752.1 126.2h1M737.2 164.5h1M742.9 131.7h1M778.3 148.8h1M768.7 124.6h1M755.7 151.2h1M770.7 154.7h1M759.1 133.7h1M790.1 122.5h1M764.7 157.2h1M770.1 142.5h1M793.6 135.4h1M756.8 154.4h1M752.5 140.2h1M732.9 157.1h1M730.1 172.9h1M766.5 154h1M745.9 143.2h1M738.9 156.7h1M750.3 158.6h1M737.5 132.4h1M764.6 133.8h1M728.4 159.7h1M770.8 130.6h1M736.5 145.2h1M783.7 128.7h1M751.2 157h1M719.5 160.2h1M755.8 147.2h1M750.1 136.6h1M777 157.3h1M756 147.5h1M755.7 153.5h1M765 127.2h1M744.1 155.2h1M777 158.8h1M766.9 144.2h1M737.2 146.9h1M748.7 142.5h1M764.5 147.4h1M759.5 143.3h1M766.4 172.3h1M750.2 137.5h1M752 130h1M744.1 155.7h1M754 170.3h1M798.7 150.3h1M759.7 159h1M769.8 140.1h1M783.7 146h1M758.8 149.1h1M759.6 156.2h1M750 130.7h1M771.8 161.9h1M758.2 144.6h1M730.4 143h1M737.2 144.6h1M775.1 151.3h1M767.4 129.9h1M742.9 140.6h1M786.9 120.5h1M747.3 163.8h1M780.3 149.2h1M787.5 158.5h1M742.3 147.3h1M732.9 124.3h1M738.6 141.7h1M762.2 117.7h1M796.2 135h1M763.3 134.2h1M752.6 129.9h1M727.1 164.5h1M726.2 149.6h1M782.8 133.3h1M749.2 149.7h1M782.5 142.7h1M742.4 147h1M717.4 158h1M753.2 151.8h1M738.4 117.6h1M777.9 126.3h1M776.5 157.1h1M752.3 149h1M752.9 134.8h1M754.1 123h1M754.4 142.8h1M775.5 135.2h1M732.8 142.5h1M741.6 123.4h1M794.6 149.7h1M774.2 146h1M717.4 144.2h1M777.2 111.5h1M762.9 155.3h1M780.5 138.7h1M760.2 134.7h1M740.8 138.2h1M754.9 168.8h1M767.7 167.1h1M741 140.3h1M738.2 136.6h1M730.2 149.1h1M772.3 148.3h1M743.9 151.6h1M732.1 159.3h1M746.2 162.3h1M768.1 131.3h1M754 135.8h1M783.8 149h1M753.6 132.7h1M735.5 149.5h1M748.7 143.7h1M791.1 150.5h1M739.1 156.5h1M735.6 160.8h1M732.6 133.6h1M755.3 130.7h1M771.1 162.7h1M761.6 130.6h1M744.3 148.9h1M754.2 166.6h1M744.2 137.5h1M761.1 134.5h1M733.5 158.8h1M775.4 163.4h1M752.7 165.7h1M757.9 128.1h1M783.6 154.7h1M754.8 177h1M764 153.1h1M733.9 161.2h1M774 164.6h1M774.1 150.8h1M770.8 153.4h1M734 144.2h1M752.1 148h1M761.1 114.4h1M796.9 128.5h1M776.1 147.8h1M788.9 158.5h1M730.2 133.6h1M761.3 129h1M763.9 131.5h1M784.2 141.4h1M751.9 139.9h1M784.4 166.3h1M762.4 143.8h1M760.5 156.5h1M763.8 126.4h1M740.1 115.8h1M767 130.5h1M771.9 120.2h1M732.9 149.8h1M777.5 151.9h1M716.3 156.8h1M719.5 170.9h1M736.3 169.1h1M746.3 148.7h1M720.6 169.3h1M754.6 115.1h1M757.6 142.5h1M769.2 139.3h1M761.6 117.3h1M715.4 156.6h1M748.6 140.1h1M752.9 136.1h1M761.4 179.5h1M731.7 156.3h1M727.5 161h1M774.4 165.4h1M733.7 144.3h1M744.3 145.8h1M789.2 124.3h1M744.5 144.4h1M760.3 143.1h1M732.4 142.2h1M785.2 150.8h1M734.2 138.7h1M767.8 141h1M731.2 143.3h1M736.4 180.6h1M743.2 136.3h1M766.3 133h1M769.7 115.3h1M730.7 169.8h1M776.9 133.1h1M747.9 155.8h1M750.4 147.3h1M739.6 165.5h1M752.4 149.3h1M737.8 153.5h1M763.2 98.3h1M725 156h1M713.9 153.9h1M767.8 127h1M752.3 154.8h1M770.3 127.7h1M716.5 161.6h1M746.9 155.9h1M738 123.9h1M765 131.6h1M744.3 129.1h1M753.5 154.2h1M719.6 141.6h1M734.1 175.6h1M770.7 156.4h1M753.3 132.5h1M713.3 161h1M749.5 120.2h1M755.3 133.9h1M774.8 135.4h1M763.5 158h1M749.8 151h1M746.6 130.2h1M772.1 140.1h1M759.7 150.6h1M762.5 164.6h1M757.6 135.1h1M743.4 165.3h1M735.6 127h1M711.8 165.5h1M744 134.1h1M764.5 154.3h1M759.1 170.8h1M741 165.9h1M764.4 149.9h1M794.8 143.6h1M755.2 144.3h1M798.4 134.8h1M765.5 131.9h1M746.5 141.7h1M773.6 113.6h1M735.6 151h1M729.9 138.4h1M750 161.2h1M770.1 133.5h1M752 136.8h1M713.2 174.9h1M750.2 148.8h1M785.9 110.4h1M775.3 142.5h1M740.9 145.2h1M737.5 179.6h1M729.1 163.7h1M795.6 133.4h1M750.5 147.7h1M739.3 127.5h1M766 116.1h1M734.3 164.6h1M790.1 157.9h1M751.6 138.4h1M744.8 171.5h1M752.9 130.3h1M763.2 150.7h1M794.6 114.8h1M769.7 141h1M777.8 137.6h1M751.2 156.3h1M772.4 128.1h1M761.9 124.3h1M741.9 143.2h1M762.4 154.4h1M750.7 147.8h1M764.8 149.9h1M761.5 120.6h1M796.7 120.4h1M739.3 169.3h1M775 136.6h1M743.3 154.7h1M756.8 164.6h1M765.5 113h1M746.8 156.4h1M738.7 130.7h1M742.4 160.8h1M752.4 150.5h1M757.2 137.9h1M743.7 170.5h1M748.3 167.5h1M743.7 132.4h1M746 143.6h1M760 151.6h1M749.5 121.9h1M761.9 148.8h1M757.7 155.9h1M763.8 146.7h1M772.1 141.8h1M754.7 116.6h1M749.9 138.7h1M740.6 115.1h1M734.1 155.9h1M747.1 149.9h1M727.1 161.6h1M768.8 141.8h1M777 147.7h1M753.6 124.7h1M750.9 143.2h1M773.7 144.8h1M737.5 146.3h1M762.9 156.8h1M744.8 133.3h1M798.4 140.2h1M799.6 122.8h1M746.9 152.1h1M741.9 128.2h1M788 147.9h1M743.3 133.4h1M759.5 164.4h1M749.2 147.8h1M761.2 136.6h1M761 120.6h1M734.2 155.4h1M744.8 150.8h1M769.8 123.4h1M768.7 143.7h1M742.8 150.2h1M762.6 170.7h1M751.7 150.8h1M719.9 118.8h1M724.8 149.2h1M786.6 143.8h1M774.4 110h1M755 156.5h1M773.1 137.4h1M742.5 143.1h1M739.8 137.3h1M765.3 111.5h1M746.5 154h1M771.1 136.1h1M717.7 163.8h1M774.4 172h1M757.8 162.9h1M748.7 139.9h1M790.7 135.1h1M744 155.7h1M759.1 142.1h1M741.5 145.6h1M760.6 148.4h1M733.8 149h1M749.3 155.4h1M743.2 154.2h1M744.5 141.4h1M766.7 158.9h1M778.8 137.8h1M761.5 149.6h1M772.3 160.1h1M755.5 170.1h1M776.2 137.1h1M771.7 161.6h1M757.1 165.9h1M728.3 131.9h1M781.9 116.3h1M767.1 157.7h1M729.5 164.7h1M767.7 141.1h1M761.4 155.5h1M727.3 137.6h1M753.3 150.4h1M744.5 141.2h1M737.2 144.6h1M733 130.6h1M728.1 148.4h1M760.6 131.3h1M729.4 147.1h1M724.9 140.6h1M746.3 138.9h1M748.6 130.4h1M775.3 160.7h1M766.3 104.1h1M777.9 153.8h1M715.8 157.8h1M743.4 166.6h1M779.5 134.3h1M767.7 155.4h1M774.1 146h1M724.1 140h1M743.9 143.9h1M749.6 151.1h1M777.8 126.5h1M746.2 149h1M752.9 144.3h1M779.9 162.8h1M772.3 134h1M756.6 122.7h1M730.5 152.6h1M772.9 156.2h1M726.9 162.8h1M759.4 119.2h1M780.9 148.2h1M770.9 148.4h1M745.5 129.4h1M778.7 132.9h1M777.4 127.6h1M759.7 145.1h1M754.1 143h1M745.8 135.9h1M767.2 142.1h1M739.3 161.1h1M748.8 160h1M749.4 167.8h1M758.4 157.2h1M748.2 146.5h1M746.1 131h1M777.4 170.8h1M754.8 157.7h1M728.7 136.9h1M792.9 158.1h1M743.5 138.1h1M755.3 163.2h1M767.5 156.1h1M767.7 129.9h1M725.8 159.5h1M717.9 125.7h1M768.3 130h1M759.6 135.4h1M784.3 164.3h1M780.5 144.7h1M761.4 142.6h1M759.1 106.6h1M732.2 118.5h1M751.7 143h1M762.9 167.4h1M734 159.9h1M752.2 154.9h1M744.9 134.9h1M776 125.2h1M745.1 150.4h1M761.6 148.4h1M746.5 140.2h1M757.1 154.5h1M789.7 125.5h1M733.9 131.4h1M746.9 177.2h1M735.4 127.4h1M719.2 157.5h1M754.3 138.1h1M727.3 177.9h1M746.9 129h1M748.8 149.8h1M730.1 169.3h1M754.9 143.1h1M744.9 134.3h1M746 153.1h1M796.1 125.7h1M736 155.1h1M757.6 151.1h1M740.6 175.3h1M739.9 139.4h1M766.3 146.7h1M740.6 162.2h1M727.4 151.9h1M729.8 162.1h1M756 119.3h1M741.6 144.5h1M773.8 119.1h1M791.9 151.1h1M768.5 180h1M780.5 142.4h1M754.8 151.5h1M765.5 141.3h1M721.6 179.7h1M712.2 150h1M766.2 120.3h1M749 153h1M744.3 125.2h1M725.3 156.6h1M718.6 154.5h1M733.9 161h1M775.7 166.3h1M729.8 174.9h1M719.8 159h1M742.8 135.7h1M737.5 179.9h1M780.3 164.4h1M729.2 178.4h1M767.6 142.6h1M752.3 132.7h1M719 149.2h1M777.1 154.2h1M774.3 134.7h1M741.4 177.1h1M780.7 114.9h1M767.7 167.9h1M754.1 161.8h1M780.1 141.1h1M781.5 142.4h1M761.1 167.2h1M766 141.4h1M761 147.1h1M732.8 143.1h1M765 151.1h1M736.3 124.2h1M726 141.8h1M775.9 121.6h1M738.5 142.4h1M751.2 136.6h1M748 153.5h1M746.4 130.8h1M764.5 151.4h1M781.2 110.3h1M751.6 160.6h1M771.3 134.9h1M758.9 138.8h1M746.7 133.9h1M754.8 134.1h1M758.8 135h1M751 165.5h1M766.2 128.5h1M738.1 138.3h1M756.8 174.1h1M765.9 158.9h1M778.9 145.5h1M762.5 150.5h1M733.3 149.6h1M730.6 146.1h1M772.6 146.4h1M724.8 136.4h1M731 152.9h1M756.3 145.1h1M722.5 143.2h1M737.8 151.1h1M779.8 125h1M747.9 152.1h1M780.5 139h1M723.8 161.7h1M751.8 148.4h1M750.6 159.2h1M748.2 168.6h1M761.4 155.3h1M736.8 143.4h1M738.2 145.9h1M768.7 137.7h1M743.3 142.7h1M739 154.9h1M747.4 155.2h1M732.7 159.9h1M787.3 146.8h1M773.7 153.8h1M751 147.5h1M734.2 149.8h1M775.2 133.7h1M733.4 149h1M764.2 143.1h1M739 151.6h1M745 133.6h1M788.7 155.5h1M764.3 131.9h1M731.3 164.8h1M743.5 155.2h1M746.1 163.1h1M712.5 147.7h1M751 116.5h1M744.5 169.3h1M745.7 136.9h1M746.6 165.6h1M765.7 139.1h1M754.6 148.4h1M746.3 146.7h1M749.5 158.4h1M742.1 158.3h1M758.4 148.1h1M786.8 141.4h1M764.1 142.9h1M714 150.6h1M755.5 144.6h1M759.8 152.7h1M759.1 118.1h1M721 169.7h1M757.7 147.5h1M731.5 170h1M724.4 163.8h1M748.3 164.6h1M776.3 157.5h1M755.5 125.3h1M778.3 153.6h1M762.7 148h1M758.4 130.4h1M744.8 153.5h1M782.9 125.6h1M743.4 146.1h1M760 144.6h1M739.2 179.3h1M754.9 162.4h1M757.9 122.3h1M782 107h1M736.6 152.9h1M780.3 123.2h1M765.6 133.5h1M756.7 122h1M745 156.7h1M719.5 157.8h1M775.9 134.9h1M735.2 129.4h1M779.1 161.6h1M723.8 131.9h1M757 163.7h1M762.5 146.7h1M738.7 127.7h1M776.2 155.9h1M737.1 142.6h1M770.6 145.6h1M756 142.4h1M788.5 122.1h1M748.9 132.9h1M770.1 145.2h1M769.4 151.5h1M784.3 168.5h1M714 161.6h1M749.3 135.6h1M759.4 169.2h1M776.5 146.9h1M761.4 146.1h1M769.3 144.6h1M773.9 155.3h1M757.7 160.7h1M749 154.5h1M778.3 118.4h1M719.8 161h1M767.2 138.5h1M752.8 164h1M775.5 121.9h1M741.4 151.7h1M756.2 123.3h1M774.6 141.4h1M760.9 122.2h1M744.6 168.8h1M723.3 139.9h1M747.8 118.5h1M742 150.5h1M753.6 149h1M755.6 157.7h1M760.1 147.1h1M775.5 146.7h1M745.4 129h1M795.8 136.9h1M734.3 143.3h1M775.3 126.5h1M759 138.3h1M749.1 145.6h1M740 134.3h1M763.7 155.1h1M748.5 158.4h1M747.7 135.3h1M748.8 144.1h1M714.9 161.9h1M732.4 140.2h1M732 156.8h1M759.9 143.1h1M745.5 117.5h1M781.8 134.8h1M757 143.8h1M774.1 122.2h1M777.9 136.6h1M754.9 167.4h1M721.1 134.3h1M742.7 151.5h1M768.8 114.7h1M759 130.4h1M755.5 165h1M746.1 140.8h1M776.4 136.3h1M732.8 170.2h1M772.4 132.2h1M779.8 114.5h1M736.4 139.3h1M755.6 166h1M790.5 135.9h1M781.1 132.5h1M717.2 160.5h1M773.7 158.4h1M746.5 145.1h1M746.3 119.1h1M731.8 131.6h1M745.1 141.8h1M711.8 153.1h1M776.4 152.8h1M777.3 88.7h1M741.6 139.7h1M753.6 134.3h1M775.3 136.9h1M722.7 133.8h1M750.5 164.9h1M769.2 144.6h1M768.2 140.9h1M763.3 135.7h1M728.3 150h1M775 141.8h1M768.6 145.2h1M780.6 127.4h1M770.2 160h1M744.7 131.6h1M770.8 148.7h1M780 149.8h1M756.9 135.5h1M733.4 163.5h1M742.3 153.5h1M729 139.9h1M748.6 145h1M749 155.1h1M771.1 150h1M722.9 157.5h1M746.2 151h1M747.7 145.8h1M778.3 153.4h1M735 117.7h1M763.1 120.1h1M751.6 136h1M761.7 124.1h1M756.1 158.7h1M778.4 148.5h1M728.3 148.7h1M723.6 159.9h1M790.5 151.7h1M790.7 131h1M768.7 119.2h1M768.2 139.1h1M747.4 139.7h1M740.4 165.6h1M719.6 178.7h1M779.1 132h1M767.7 133.1h1M727.5 137.7h1M752.8 164.2h1M759.1 159.5h1M745.6 132.8h1M781.1 155.8h1M736.5 147.8h1M741.1 142.6h1M752.8 146.1h1M769.1 146h1M755.7 114h1M776 131.4h1M757.9 135.1h1M760.2 134.6h1M725.8 132.5h1M783.2 146.8h1M750 133.3h1M755.5 130.9h1M762.7 156.2h1M759.2 162h1M777.2 138.6h1M727.2 144h1M756.4 131.9h1M768.7 117.4h1M791.5 129.2h1M727.6 158.8h1M731.5 136h1M742.9 168.4h1M752.7 146.2h1M757.8 135.8h1M742.7 148.7h1M734.8 171.5h1M750.8 157h1M745 160.9h1M793 131.4h1M742.2 162.1h1M774.1 173.4h1M765.4 128.4h1M753.2 147.8h1M716.6 151.3h1M752.7 125.7h1M741.5 173.3h1M770.4 161.2h1M755.9 151.6h1M758.3 112.8h1M742.9 154.2h1M740.5 137.1h1M750.3 142h1M736.4 151h1M791.2 126.4h1M759.6 138.7h1M793.2 139.7h1M761.9 112.6h1M764.7 150.5h1M757.2 151.5h1M763.2 156.9h1M757.2 109.6h1M732.3 139.7h1M724.5 133h1M776.4 169.2h1M721.2 164.9h1M746.8 151.9h1M725.1 159h1M753.5 119.3h1M744.4 171.1h1M736.3 158.3h1M736.4 157.9h1M735.2 155.2h1M757.3 130.7h1M742.6 151.1h1M750.8 148.2h1M760.1 132.7h1M760.7 142.9h1M728.9 149.2h1M728.8 178.8h1M734.8 137.7h1M767 133.9h1M795.2 124.2h1M758.1 168.4h1M783.9 151.9h1M790.8 143.8h1M767.8 130.3h1M736.3 138h1M759.7 166.4h1M728.8 141.2h1M763.5 145.2h1M767.7 132.4h1M772.5 116.4h1M762.6 152.3h1M776 133.8h1M766.1 123.2h1M777.2 145.4h1M730.4 160.4h1M797.8 108.2h1M767.9 132.1h1M736.1 159.6h1M772.6 139.7h1M747.2 159.1h1M786.9 129.4h1M767.4 136.7h1M787 92.6h1M736.3 157.7h1M752.4 166.2h1M768.2 147h1M750.8 128.3h1M754.7 122.9h1M752 142.7h1M745.8 147h1M754.6 169.7h1M754.2 155.4h1M743.5 146.2h1M756 145.1h1M775.6 180h1M769.3 163.1h1M738.9 159.7h1M734.2 157.4h1M739.4 134.7h1M761.4 139.4h1M741.1 111.2h1M722.4 176h1M749.2 172.3h1M728.5 152.1h1M764.9 141.6h1M777.3 138.3h1M767.6 140h1M793.9 114.2h1M751.7 135.5h1M766.3 161.8h1M748.9 136.1h1M765.7 148.3h1M775.9 136h1M746 169.4h1M773.9 131.8h1M726.2 161.2h1M749.1 162.3h1M756.4 162.8h1M764.3 137.3h1M777.5 123.4h1M770.2 140.5h1M794.6 137.6h1M747.4 147.2h1M746.3 139.9h1M755.1 127h1M763.5 148.6h1M748.9 152.8h1M770.4 126.8h1M761.4 155.2h1M724.6 176.1h1M739.1 156h1M745.3 123.6h1M742.4 168.1h1M740.8 166.9h1M761.2 140.6h1M711.5 154.3h1M716 141.2h1M734.4 141.7h1M752.7 180.9h1M734.9 150.3h1M775.2 145.6h1M737.2 162.6h1M750.3 149.3h1M739.2 166.1h1M787.5 156.1h1M741.6 165h1M755.5 155.5h1M786.2 135h1M740.1 139.1h1M763.5 134.9h1M736.9 155.4h1M780.4 144.7h1M749.6 133.6h1M791.6 133h1M789.2 136.6h1M766.1 139.2h1M755.7 132.5h1M770.4 130.5h1M762.6 141.3h1M770.1 134.7h1M781.7 129.3h1M719.1 161.9h1M783.6 133.4h1M792.6 104.8h1M763.7 133.6h1M794.9 146.8h1M757.5 146.8h1M760 143.2h1M709.8 161.2h1M766.5 131.8h1M730.5 149.5h1M771.1 146.1h1M737.7 130.6h1M743.6 138.6h1M743.3 151.2h1M723.8 116.8h1M767.2 136.5h1M744.4 156.7h1M725.2 153.2h1M762.9 135.7h1M761.3 119.8h1M743 133.2h1M777.8 103.6h1M746.8 168.1h1M769.9 116h1M761.6 150.6h1M782.8 115.7h1M723.3 158.7h1M787.9 147.5h1M762.7 135.5h1M748.6 167.5h1M778 157.7h1M745.6 128.1h1M717.6 179.2h1M779.8 141.7h1M728 145.2h1M734.3 151.3h1M760.6 135.3h1M736.1 153.8h1M723.5 155.2h1M763.9 132.7h1M759.9 156.8h1M729.9 125.1h1M775.1 139h1M781.5 100.5h1M795.8 148.5h1M730.1 152.4h1M730.5 166.3h1M765.9 172.3h1M750.1 149.9h1M751.4 161.6h1M722.6 155.3h1M781.8 150.1h1M787.6 134.9h1M776.7 128.7h1M755.3 130.7h1M764.9 154.6h1M778.9 151.9h1M779.2 151.8h1M736.4 162h1M758.4 145.5h1M766.8 135.6h1M796.1 160h1M763.7 132.1h1M741.9 146.3h1M759 134.8h1M759.8 151.9h1M724 170.3h1M760 128.2h1M765.9 141.8h1M730.7 142.4h1M768.6 109.2h1M729.4 150.3h1M742.9 167.6h1M731.8 161h1M754.4 120.8h1M755.8 165.8h1M745.1 135.8h1M755.1 140.9h1M717.3 163.4h1M751.4 148h1M752.5 148h1M719.5 116.2h1M768.5 153.8h1M758.8 138.9h1M765.1 134.5h1M766.7 153.8h1M787.3 163.7h1M773.5 141.5h1M758.6 167.2h1M776.1 118.4h1M749.2 151.7h1M741.3 142.3h1M741.7 147.2h1M757.1 142.8h1M746.6 157.8h1M746 127.1h1M752.4 161.4h1M767.3 143.9h1M759.7 117.4h1M746.3 142.8h1M758 150.5h1M768.5 151.7h1M757.2 159.8h1M739.9 151.9h1M766.7 154.5h1M791.5 113.4h1M760.3 156.9h1M737.2 142.9h1M771.6 116.9h1M757.1 171.9h1M764.3 129.9h1M752 152.2h1M757 158.7h1M774.4 140.5h1M772.2 148.7h1M751.9 139.2h1M749.4 142h1M784.7 136.5h1M761.8 158.3h1M777.9 146.4h1M733.2 148.4h1M774.4 152.3h1M742.1 141.3h1M729 151.8h1M715.9 142.7h1M777.2 136.8h1M772.2 133.4h1M787.4 170.4h1M741.6 129.9h1M756.9 140.3h1M783 135.2h1M722.6 165.5h1M755.9 155.1h1M785.9 127h1M758.5 117h1M720.9 162.7h1M764.5 130.2h1M763.6 148h1M735 150.6h1M768 145.9h1M749.1 154.1h1M738 145.1h1M769.6 118.9h1M726.2 142.8h1M763.2 148.6h1M751 145.1h1M755.5 138h1M763.7 132.4h1M747.6 149.4h1M777 146.1h1M755.9 141.8h1M725.1 166.8h1M773.2 157.5h1M752.2 146.8h1M708.9 128h1M772.6 115.4h1M737.1 167.3h1M736 147.6h1M761.5 167.8h1M755 145.3h1M741.9 143.9h1M777.1 131h1M745.1 118.3h1M770.7 125.9h1M753 142.8h1M777.3 128.5h1M759.3 147h1M768.8 115.6h1M737.1 167.8h1M741.5 151.2h1M749.9 146.3h1M757.5 146.1h1M780 134.4h1M771.5 134.4h1M757 160.7h1M749.1 157.2h1M763.7 144.7h1M746 154.5h1M741.8 141.4h1M743.5 173.6h1M786.4 137.6h1M749.1 155h1M783.3 127.8h1M739.9 141.4h1M790.6 151.5h1M766.1 118.4h1M772.4 139.4h1M785.8 137.2h1M764.5 126.2h1M751.2 135.8h1M756.3 156.2h1M737.5 164.1h1M767 147.4h1M780.4 122.4h1M733.4 129.9h1M753.4 139.3h1M784.7 151.6h1M758.9 139.2h1M757.2 132.7h1M762.7 166.3h1M760.9 121h1M722.1 126.7h1M761.4 149.9h1M744.6 150.7h1M791.4 165.5h1M752.7 171.7h1M764.4 129.8h1M774.9 141h1M764.8 159.1h1M788 166.4h1M781.3 166.8h1M749 140.5h1M759.6 175.1h1M739 142h1M781.9 119.1h1M764.5 165.8h1M763.8 162.3h1M768.4 160h1M789.3 163h1M782.3 132h1M774.9 142.5h1M775.8 138.1h1M742.8 154.2h1M758 145.6h1M745.5 120.8h1M756.2 135.3h1M751.5 136.7h1M752.2 176.2h1M761.2 114h1M768.4 154.2h1M723 134.1h1M751.1 123.3h1M780.6 145.4h1M756 125.8h1M735.4 157.6h1M757.1 141.7h1M756.8 145.8h1M749.4 158.1h1M753.8 140.9h1M743.9 152.1h1M771.2 126.5h1M743.2 138.9h1M756 128.7h1M738.3 150.2h1M768.9 118.9h1M759.7 135.5h1M736.3 159.2h1M756.5 144.7h1M771.8 140.9h1M773.6 165.1h1M742.9 113.6h1M731.9 142.1h1M755.9 152.5h1M771.7 114h1M754 120.3h1M739.2 145h1M783.1 145.7h1M770.3 135.5h1M760.8 107.4h1M747 155.2h1M747.2 143h1M780.7 138.2h1M740.6 140.8h1M773.3 163.8h1M774.3 158.6h1M790.3 149.8h1M728.6 138.6h1M758.2 138.7h1M777.5 139.7h1M753.9 130.9h1M754.4 149.2h1M747.9 160.7h1M778.6 135.3h1M756.1 153.9h1M745.4 179.4h1M763.8 109.2h1M756 130.2h1M750.7 154.7h1M730 141.2h1M753 139.9h1M758.9 168.4h1M759.5 130.1h1M762.1 125.4h1M774.3 158.3h1M760.3 165.5h1M743.5 141h1M781.7 125.9h1M753.2 142.4h1M729.6 126.2h1M742.2 160.4h1M787.2 128.7h1M745 151h1M736.4 172h1M770.2 107.1h1M756.2 123.4h1M744.3 149.1h1M761.9 138.8h1M795.5 160.8h1M777 135.9h1M735 161.2h1M731 163.2h1M756.7 142.6h1M798 158h1M748.6 121.5h1M752.8 150h1M742.5 145.2h1M754 157.2h1M731.6 157.3h1M717.5 169.8h1M780.6 124.5h1M746.2 146.5h1M772.9 146.7h1M744.2 156.1h1M783.8 118.8h1M782.1 124.7h1M770.3 143.5h1M772.9 135.5h1M765.6 137h1M749.4 150.3h1M777 138.8h1M751.3 117.3h1M759.6 155.3h1M771.6 141h1M764.4 134h1M761.2 121.4h1M716.5 141.1h1M765.1 158.8h1M732.6 147.7h1M776.6 142.7h1M745.3 143.8h1M784.6 154.2h1M740.2 172.6h1M728.8 131.9h1M756.2 144.4h1M740.4 171.2h1M733.7 158.7h1M750.7 147.5h1M718.9 165.2h1M771.3 139.9h1M736 151.6h1M751.4 154.2h1M738 160.9h1M762 164.8h1M749.5 158.1h1M772.3 148.4h1M742.6 157.4h1M775.2 160.3h1M714.8 171h1M772.3 148.7h1M754.5 131.9h1M756.5 132.3h1M782.6 122.5h1M728.5 130h1M773 140.2h1M795.1 143.2h1M778 153.9h1M766.9 144.2h1M730.9 146h1M761.2 163.6h1M768.6 112.6h1M727.3 152.9h1M740.2 161h1M742 162h1M789.9 147.6h1M777.1 138.6h1M741 124.7h1M748.1 134.1h1M780 145.9h1M748.6 137h1M769.6 141.2h1M766.2 118.5h1M775.1 144.3h1M759.8 142.9h1M797.3 138h1M778.8 156.4h1M738.3 149.8h1M742.3 134.1h1M762.6 128.2h1M778.9 145.7h1M733.1 152.5h1M713.8 156.3h1M736.6 169.7h1M786.2 149.2h1M745.7 175.5h1M732.3 139.9h1M752.6 114.9h1M765.6 158.4h1M745.3 129.3h1M773.1 153.8h1M767.6 137.3h1M772.3 133.5h1M786.2 128.1h1M757.5 142.5h1M761.3 142.4h1M758.5 148.2h1M729.2 130.4h1M763.6 154.1h1M794.8 133.1h1M730.3 178.9h1M744 171.9h1M733.9 165.8h1M748.8 152.1h1M756.4 120.4h1M766.8 146h1M762.6 131.2h1M717.8 166.3h1M782.9 106.9h1M749.5 146h1M737.4 151.1h1M721.3 134.2h1M772.4 138.6h1M738.1 153.4h1M725.6 151.4h1M747.6 145.4h1M749.5 148.3h1M736.9 128.7h1M755.9 134h1M757.6 141.7h1M744.8 152.2h1M755.1 150.9h1M776.5 125.5h1M743.8 156.2h1M778.5 115.6h1M739.3 160.8h1M767.9 131.8h1M747.6 152.8h1M718.7 165h1M735.3 139.4h1M747.3 143h1M748 148.8h1M791.9 158.1h1M791.6 151.5h1M756.6 124.1h1M755.6 161.4h1M746.7 167.7h1M761.7 141.6h1M791.2 155.6h1M751.4 164.4h1M768.8 174.3h1M756.6 167.9h1M770.6 138.1h1M744.9 133h1M746.6 120.8h1M776 140.8h1M761.8 156.1h1M759.1 155.9h1M748.3 138.7h1M739.2 151.7h1M764.1 148.2h1M767.2 148.8h1M762.2 120.7h1M751.3 153.9h1M740.4 157.2h1M739.6 158.9h1M746.8 146.7h1M789 121.2h1M779.9 116.7h1M745.3 125.9h1M736.2 140.6h1M755.7 132.5h1M775.9 117.9h1M796.3 132.2h1M759.4 155.5h1M767.4 115.2h1M743.3 143.6h1M711.7 164.7h1M772.8 155.1h1M725.1 160h1M753 142.1h1M746.4 148.1h1M752.3 133h1M750.1 147.4h1M756.3 142.6h1M792 171.8h1M755 148.2h1M779.9 121.1h1M725 148.8h1M728.6 124.2h1M747.6 127.6h1M741.6 153.5h1M744.6 110.3h1M790.8 150.4h1M752 165.5h1M752 139.5h1M787.8 147.9h1M753.9 113.9h1M748.3 150.1h1M749.6 136.4h1M759.9 172.4h1M741.1 160.3h1M768.4 154.4h1M773.7 123.2h1M791 154.4h1M765.9 157.2h1M727.6 149.5h1M712.2 163h1M739.3 175.7h1M750.5 149.9h1M769.2 136.4h1M721.2 170.8h1M777 152.7h1M753.2 125.4h1M757 126.3h1M709.3 154.6h1M761.2 146.5h1M767.4 161h1M738.3 159h1M782.7 155.5h1M767.4 131.2h1M755.9 134.2h1M764.1 121.2h1M745.8 138.9h1M737.9 123.4h1M780.4 114.6h1M737.6 159.7h1M791.7 91.3h1M769.2 160.6h1M729.1 155.9h1M752.3 143.6h1M763 130.6h1M783 123.1h1M719.7 163.1h1M775.9 153.6h1M748.5 155.9h1M781.9 123.7h1M765.8 150.2h1M768 155.2h1M720.2 169.5h1M785.9 154h1M770.5 162.3h1M774.1 165.1h1M753.4 125.7h1M768.8 138.7h1M767.6 145.9h1M744.8 141.9h1M758 128.9h1M783.4 124.5h1M758.1 136h1M734.1 145.7h1M712.5 132.7h1M792.7 146.4h1M746.5 150.9h1M750.2 156.9h1M745.2 150.3h1M750.1 156.1h1M787.8 147h1M747 149.9h1M761.6 127.7h1M750.7 163h1M775.8 152.5h1M755.3 134.8h1M789.7 125.8h1M785 157h1M785.7 156.1h1M736 149.3h1M717.6 174.3h1M772.1 105.4h1M753.7 153.6h1M767.2 140.7h1M768.6 150.6h1M766.4 165h1M762.2 130.5h1M756.4 137.4h1M740.3 128.4h1M731 151.5h1M728.2 147h1M745.5 150.8h1M770.5 133.5h1M746.2 173.7h1M716.8 158.9h1M736.8 173.4h1M727.8 175h1M750 135.9h1M736.9 165.8h1M741.7 152h1M756 167.2h1M731.3 146.1h1M750.6 131.7h1M766.8 144.2h1M728.6 150.5h1M733.9 150.4h1M785 122h1M773.5 135.1h1M746.2 141.8h1M784.8 156.3h1M761.5 143.1h1M769.6 137.7h1M766.4 127.2h1M760.1 140.8h1M797.8 135h1M772.3 134.6h1M759.3 136.1h1M735.9 155.4h1M746.8 130.8h1M750.2 145.9h1M774.3 133.1h1M746.2 174.1h1M753.1 144.1h1M759.2 147h1M752.8 125.6h1M740.4 147.5h1M746.8 153.2h1M756.4 148.9h1M773.3 138h1M767.5 170.7h1M773.8 148.5h1M772.9 148.5h1M742.8 149.1h1M745.4 156.3h1M768.7 151.3h1M777.8 149.8h1M734.9 134.8h1M758.6 126.8h1M741.7 144.7h1M766.5 140.9h1M757.2 147.5h1M749.1 137.7h1M775.9 130.2h1M771.6 152.4h1M770.8 145.1h1M757.4 147.5h1M770.9 119.1h1M778.1 135h1M720.1 150.9h1M733.7 169h1M766.9 138.6h1M734.8 158.7h1M797.3 153.9h1M771.4 165.3h1M753 125.8h1M726.2 153.2h1M752.1 129.8h1M758.7 118.8h1M792.8 131.9h1M760.9 150.1h1M762.7 151.4h1M752 150.5h1M750.9 126.7h1M783 145h1M758.5 140h1M761.5 154.8h1M725.9 145.5h1M751.5 155.4h1M743.1 130.3h1M751.9 144.3h1M773.6 146.3h1M778.8 141h1M739.6 151.9h1M788.3 127.8h1M753.6 117.3h1M726.7 176.8h1M746.2 135.7h1M744.3 163.8h1M775.1 146.3h1M761.6 154.5h1M749.4 126.9h1M742 152.7h1M762.6 141.4h1M744.3 136.7h1M735.8 142.8h1M749.3 137.9h1M758.7 126.5h1M770.2 148.4h1M749.6 136.3h1M776.7 158.5h1M766.4 145.3h1M776 138h1M776 132.1h1M724.8 144.6h1M755.4 168.2h1M728.5 158.4h1M763.7 151.8h1M787.1 132.3h1M775.6 119.6h1M714 138.2h1M746.4 158.6h1M759.6 140.5h1M774.7 132.5h1M754.3 164.1h1M732.8 160.3h1M780.8 131.8h1M766.8 138.7h1M769 150.2h1M747.2 158.8h1M762.2 128h1M715.7 170.3h1M746 151.3h1M780.2 139.1h1M770.9 133.9h1M761.8 141.1h1M760.3 162.8h1M731.6 139.5h1M758.4 146.9h1M785.3 149.4h1M736 164h1M770.2 159.3h1M767 153.7h1M767.2 123h1M772.4 157.7h1M769.3 163.9h1M730.6 165.1h1M767.6 131.6h1M743.6 153.2h1M754.8 140.6h1M765.5 140.1h1M742.6 165h1M773.5 127.1h1M750.5 151.3h1M756.5 154.6h1M785.1 120.5h1M746.4 144.5h1M750.5 156h1M746.9 148.6h1M745.9 167.7h1M752 140.4h1M748.1 158.2h1M786.5 166.2h1M762.6 141h1M759 143.7h1M746.8 122.7h1M735 167.8h1M748.1 134.9h1M757.4 141h1M745.2 150.2h1M746.5 154.7h1M761.2 131.9h1M772.7 130.6h1M759.2 150.5h1M753.3 149.3h1M756.7 132.4h1M735.2 129.1h1M777.2 137.3h1M744 139.7h1M763.9 134.1h1M720.3 165.7h1M772 149.4h1M771.6 137h1M751.9 160.1h1M744.7 142.3h1M775.6 156.8h1M734.3 144.6h1M776.7 134.1h1M775.9 154.2h1M747.8 159.4h1M727.5 144.9h1M740.2 147.6h1M766.1 131.7h1M736.9 134.5h1M775.7 115.4h1M762.4 123.1h1M738.1 170h1M766.7 164.4h1M768.8 130.9h1M798.9 115.5h1M747.7 127.9h1M775.3 157h1M776 147.7h1M771 158.7h1M745.7 134.2h1M753.1 152.8h1M742.4 163.5h1M748.4 143.5h1M752.4 149.7h1M783.9 97.3h1M737.7 149h1M781.3 112.7h1M766.9 121.2h1M744.7 146.7h1M764.3 135.7h1M758.8 107.1h1M754.4 127.1h1M769.1 122.3h1M754.7 141.9h1M769.1 129h1M763.8 140.2h1M737.9 133.5h1M758.2 123.1h1M740.7 170.5h1M743.5 131.2h1M788.7 148.3h1M758.5 175.2h1M737 149.5h1M725.6 143h1M747.9 144h1M763.3 148.9h1M789.3 146.7h1M765.6 132h1M766.1 137.5h1M749.2 144.4h1M750.6 162.3h1M738.8 140.2h1M743.4 121h1M771.1 120.2h1M779 122.1h1M748.6 139.9h1M757.9 150.5h1M759.9 157.9h1M758.1 138.6h1M761.4 147.7h1M764.1 152.1h1M736 160.8h1M746.6 160.9h1M736.6 145.2h1M731.8 165.5h1M738.7 120.8h1M781.7 141.3h1M736.3 175.5h1M752.9 172.5h1M778.8 136.3h1M777.6 153.1h1M754.9 152.9h1M764.6 138.3h1M756.9 122.4h1M752.8 153.3h1M785.9 148.8h1M775.2 152.7h1M745.2 151.4h1M732.8 136.9h1M789.1 140.3h1M770.9 115.9h1M767 147h1M794.1 149.5h1M756.7 147.8h1M786.1 162.1h1M790.5 116.1h1M762.1 152.5h1M760.5 128.7h1M736 168.1h1M734.8 149.7h1M753.3 139.7h1M745.2 143.7h1M769.6 132.3h1M723.4 154.4h1M782.8 128.4h1M742.3 143.8h1M759.2 158h1M768 117.6h1M762.6 146.7h1M754.5 164.9h1M763.9 153.5h1M751.9 179.7h1M763.1 117.8h1M728.2 133.8h1M748.8 120.1h1M762.2 122.5h1M744.3 152.6h1M778.5 139h1M781.8 149.2h1M784.1 150.6h1M726.6 128.9h1M744.9 163.6h1M747.4 154.3h1M734.9 154.8h1M770.4 149.1h1M744.4 140.4h1M772.8 150.3h1M762.5 145.7h1M771.9 160.2h1M773.5 142.3h1M743.4 130.9h1M748.8 125.6h1M765.2 162h1M771.4 120.5h1M787.4 153.4h1M747 162.1h1M781.3 127.9h1M753 141.1h1M776.7 133.6h1M772.2 127.9h1M765 119.3h1M749.3 145.4h1M770.1 137.1h1M776.7 123.7h1M735.6 135.7h1M766.7 134.7h1M753.5 147.8h1M743.3 139.3h1M769.7 150.5h1M756.1 136.2h1M763.6 125.7h1M764.1 136.3h1M750 142.6h1M761.5 139.9h1M732.9 139h1M740.3 133.2h1M723.2 156.9h1M768.9 135.9h1M755.9 154.2h1M764.8 171.3h1M749.2 163.2h1M734.9 152.6h1M772.2 130.5h1M752.8 125.2h1M746 141.2h1M779.9 134.3h1M756 143.7h1M714.1 168.9h1M752.9 149.8h1M759.5 149.8h1M725.9 131h1M755.8 127.7h1M726.1 156h1M718.8 144.1h1M784.3 137.6h1M730.3 139.4h1M772.9 120.6h1M754.4 152.9h1M761.9 171.7h1M755.8 151h1M757 132.2h1M768.1 170.3h1M781 135.9h1M776.4 141.9h1M759.6 176.8h1M752.4 170.5h1M775.6 140.1h1M756.3 144.3h1M751.7 166h1M761 153.3h1M745.5 126.2h1M720.3 165.1h1M728.1 138.8h1M774.4 136.3h1M741.5 148h1M784.3 148.2h1M799.4 135.7h1M763.3 113.8h1M754.5 151.6h1M763.2 139.2h1M751.2 153.1h1M750.7 137.2h1M769.8 135.9h1M780.7 109.9h1M765.6 145.8h1M770.5 108.1h1M747.8 136.6h1M764 157.2h1M763.8 170.6h1M779.2 131.2h1M739.5 128.3h1M734.5 150.5h1M779.5 163.8h1M776 169.2h1M760.8 130.6h1M777.4 149.9h1M738.1 140.3h1M734.6 156.6h1M757.2 137.6h1M761.4 141.4h1M775.8 133.4h1M737.5 161.3h1M748 152.5h1M788.9 152.6h1M776.1 154.1h1M729 140.8h1M760.3 148.3h1M765 140.4h1M782.2 126.5h1M791.3 136.5h1M735.3 162.9h1M743.5 141.5h1M789.7 128.6h1M779.3 138.2h1M765 138.7h1M766 157.4h1M742.1 125.3h1M769.2 134.6h1M737.5 152.2h1M728.9 147.9h1M773.4 121.5h1M752.8 128.7h1M761.3 156h1M776.6 143.3h1M731.9 176.3h1M759.9 146.6h1M773.7 100.4h1M749 132.4h1M745.1 167.2h1M747.5 171.5h1M741.1 154.5h1M754.6 163.5h1M750.5 132.3h1M740.1 139.4h1M752.4 171.8h1M791 105h1M786.5 129.3h1M777.8 146.4h1M735.6 150.7h1M721.2 134.8h1M776.3 140.7h1M768 143.3h1M757.6 150.1h1M769.7 148.6h1M782.1 132.1h1M768.5 160.2h1M739.7 146.7h1M754.3 128.9h1M760.1 157.5h1M735.1 157.1h1M711 143.2h1M759.9 135.4h1M750.8 147.1h1M730.4 150.7h1M762.4 134.1h1M736.7 125.5h1M759.4 147.1h1M743.1 164.3h1M745.7 149.3h1M747.7 132.4h1M776.8 130.7h1M783.1 135.8h1M763.8 156.8h1M750.4 178.1h1M749.1 141.1h1M751.6 125.3h1M763.1 151.9h1M759.8 144.6h1M774.7 154.7h1M789.7 137.7h1M790.4 159.1h1M760.8 154h1M732.8 146.1h1M783.8 110.2h1M752.6 137.8h1M755.3 137.7h1M781.8 104.1h1M753.5 138.9h1M776.1 121h1M786.8 118.9h1M742.6 142.8h1M780.6 127.7h1M745.3 156.4h1M759.3 139.3h1M765.2 127.1h1M764 142.4h1M754.4 161.3h1M771.2 143.5h1M748.1 153.6h1M743.5 153.8h1M788 136h1M743.2 124.9h1M746.7 152.5h1M757.2 108.3h1M766.7 143.8h1M742.1 160.2h1M750.4 118.7h1M776.1 122.6h1M766.7 138.8h1M765.9 141.5h1M789.5 138.2h1M792.5 147.6h1M792.6 126.4h1M750.3 138.6h1M757.7 151.1h1M736.5 130.3h1M733.4 170.5h1M769.8 161.5h1M780.3 138.8h1M738.9 133.2h1M742 159.4h1M763.3 150.6h1M767.3 122.7h1M767.4 145.1h1M737.8 171.3h1M734 124.6h1M738.3 162.3h1M770.3 127.4h1M726.7 160.8h1M768.6 173.3h1M760.5 134h1M760.7 155.4h1M758.5 139.9h1M731.8 151.4h1M771.4 106.8h1M767.6 132.8h1M764.8 130.2h1M791.8 155.8h1M768.1 133h1M784 134.8h1M730.5 166.6h1M744.6 145.8h1M745.4 111.7h1M739.9 126.6h1M744.5 174.4h1M737.3 152.4h1M763.7 154.9h1M777.9 152.3h1M753.3 137.8h1M739 147.2h1M757.5 138.9h1M793.6 116.9h1M787.2 141.3h1M753.8 141.6h1M765.8 156.8h1M771.8 153.5h1M744.2 148.9h1M749.7 162.1h1M777.6 139.3h1M769.8 142.4h1M729.4 153.5h1M752.9 153.5h1M771 144.3h1M768.6 157.8h1M751.3 153.2h1M742.7 140.6h1M758.8 140h1M739.3 127.7h1M783.3 136h1M753.4 152h1M768.9 162.7h1M738.5 178.8h1M746.7 153.1h1M737.8 156.2h1M737.9 127.5h1M788.7 136.3h1M774.5 139.6h1M775.7 134.7h1M759 121.9h1M727.8 140.6h1M759.9 137.3h1M761.3 124h1M708.8 162h1M784 115.6h1M778.5 164.5h1M784 131.5h1M768.5 129.2h1M750.9 140.7h1M729.9 148.3h1M761.8 138.2h1M773.2 137.1h1M765.3 148.5h1M731.9 149.1h1M719.2 135.2h1M744.9 136.8h1M764.3 143.6h1M755.1 166.7h1M738.3 161.8h1M743.2 142.3h1M739.9 157.3h1M735.5 169.9h1M736.8 162.1h1M775.3 133h1M740.8 143h1M742.1 137.2h1M730.5 164.5h1M749.8 168.3h1M794.9 128h1M756.4 155.6h1M789.2 152.3h1M759.6 138.5h1M790.8 124.9h1M789.4 128.3h1M736 142.3h1M747.8 125h1M782.6 140.4h1M734.3 143.6h1M732 154.7h1M742.9 125.9h1M738.6 147.4h1M724 151.6h1M746 162.4h1M764.7 142.9h1M737.9 147.6h1M767.5 155.8h1M730.8 171.1h1M758.2 122.9h1M778.4 120.4h1M751.8 159.6h1M733.7 163.3h1M733.6 155.2h1M774.3 104.2h1M769.1 158.4h1M759.3 137.7h1M786 167.4h1M752.8 148.4h1M742 132.9h1M756.7 139.5h1M734.3 178.5h1M766.6 129h1M765.3 145.9h1M755.8 140.5h1M773.2 144.2h1M772.6 131.9h1M720.4 135.3h1M763.5 130.2h1M766.1 121.5h1M771.3 126.8h1M714.1 150.5h1M762 159h1M784.9 133.3h1M748.3 118h1M749 139.2h1M783.4 164h1M751.3 151.9h1M731.3 129.2h1M771.3 121.6h1M777.9 147.4h1M748.2 143.4h1M759.8 156.4h1M768.9 132.5h1M751.8 140.8h1M729 129.5h1M742.9 137.1h1M784.7 115.7h1M770.9 140.2h1M738.6 161.5h1M765.7 165.6h1M717.9 129.7h1M739.9 161.6h1M749.8 159.5h1M772.5 118.7h1M749.5 116.3h1M771.4 136.7h1M757.1 153.1h1M757.4 118.6h1M720.6 157.8h1M770.5 155.7h1M777.4 122.9h1M744.4 123.9h1M776.6 129.1h1M755.5 143.4h1M770.2 127.6h1M766.3 146.2h1M761 142.1h1M764.1 149.9h1M741.4 154.2h1M709.2 132.5h1M751.8 174.7h1M735 164.2h1M723.8 132.7h1M747.1 166.7h1M786.4 122.6h1M769.9 159.2h1M747.1 129.3h1M756.8 120.5h1M728 163h1M745.4 142.5h1M772.3 139.9h1M741.2 125.5h1M714.4 170.8h1M759.5 114.7h1M714.7 173h1M727.5 145.3h1M739.3 143.4h1M797.6 116.8h1M768.6 165.5h1M737.9 125.9h1M768.7 124.2h1M764.8 144.3h1M760.6 114.8h1M790 160.1h1M778.2 162.2h1M778 156.1h1M738.3 125.4h1M794.9 105.3h1M783.1 147.5h1M764.9 180.6h1M765.6 159.7h1M721.5 176.6h1M791.4 126.4h1M730.6 136.6h1M713.3 159.8h1M752.9 114.2h1M718.1 141.8h1M747.9 153.4h1M770.7 158.8h1M745.3 158.5h1M763.9 164.4h1M750.8 168.4h1M740.8 123.1h1M777.6 89.7h1M769.6 91.8h1M799.8 139.4h1M783.2 105.8h1M781.1 113.2h1M778.3 110.9h1M753.7 158.1h1M747.1 131.1h1M799.2 154.5h1M783.1 103h1M723 163.3h1M774.2 138.7h1M750.1 112.8h1M780.9 97.4h1M759.1 135h1M767 105.1h1M791.5 149.7h1M771 156.9h1M715.3 159.9h1M712.5 151h1M770.7 120.5h1M750.1 115.5h1M720 177.1h1M746.1 166.2h1M765.9 116.8h1M764.8 159.2h1M781.8 107.4h1M769 140.1h1M792.5 150.1h1M723.6 130h1M790.8 126.6h1M718.9 150.7h1M781.2 145.9h1M776.9 147.5h1M745.4 144.3h1M766.5 143.5h1M761.6 163h1M757.1 154.2h1M758.4 124.1h1M726.2 151.7h1M747.3 158.7h1M774.8 133.6h1M786.2 138.6h1M738 130h1M751 101.3h1M784.5 111.5h1M758.6 169.2h1M727.5 152h1M755 146.4h1M798.5 116.9h1M727 139.6h1M776.9 158.3h1M739.4 107.5h1M773.1 161.3h1M750.3 158.8h1M784.6 118.3h1M747.4 122.7h1M750.4 154.1h1M763.9 170.4h1M770.8 124.2h1M779.5 150.6h1M714.9 168h1M751.5 167h1M755.4 121.5h1M730.3 115.1h1M787.5 138.3h1M710.5 127.2h1M767.4 140.7h1M742.1 130.9h1M722.6 165.7h1M737.3 152.7h1M757.2 173.5h1M796 109.8h1M784.8 91.1h1M753.5 146h1M793.8 160h1M777.5 155.5h1M733.7 167h1M749.6 137.5h1M771.7 116.9h1M756 150.6h1M781.5 132.4h1M771.5 111.7h1M726.7 108.6h1M759.5 161.9h1M774.8 107.8h1M760.4 129.3h1M782 150.7h1M796.5 155.4h1M720.9 132.6h1M783 174h1M772.5 160.2h1M724.4 180.3h1M734.2 171.1h1M794.4 95.5h1M768.4 107.5h1M780.8 96.2h1M708.5 152.8h1M748.2 156.1h1M751.9 114.1h1M769.4 134.4h1M780 111.4h1M770.5 143h1M787.5 119.3h1M751.3 141.8h1M727 155.2h1M767 119.3h1M708.9 143.3h1M755.9 146.9h1M762.9 144h1M778 106.5h1M779.3 168.7h1M748.8 121.8h1M796 135.2h1M781.1 132.7h1M798.5 114.5h1M723.4 162.6h1M751.9 157.7h1M793.8 112.8h1M792.3 177.3h1M760 122.7h1M743.6 177.2h1M770.6 135.8h1M732 140.8h1M779.2 97.6h1M768 142.6h1M743.4 134h1M749.2 141.9h1M729.4 118.5h1M740.1 127h1M772.8 155.5h1M754.8 141.9h1M748.5 114.4h1M710.8 131.6h1M718.7 161.1h1M786.2 123.4h1M779.9 125h1M776 117.5h1M772.1 120.5h1M742.8 162.1h1M786.9 105.6h1M755.1 143.8h1M799.6 138h1M784.9 112.3h1M773.8 149.6h1M756.4 146.7h1M785.5 119.7h1M782.8 91.7h1M741.3 140.2h1M771.5 118.4h1M777.7 138h1M788.4 122.7h1M796.9 158.9h1M778.7 132.8h1M722.4 144.3h1M747.8 156.8h1M746.6 155.4h1M766.7 121.6h1M732.7 108.6h1M729.2 158.7h1M750.8 113.1h1M744.9 129.8h1M735.9 177.5h1M758.8 171.7h1M760.7 152.2h1M764.2 132.2h1M747.2 132.8h1M734.1 117.5h1M719.8 145.2h1M765.2 157.2h1M774.2 114.7h1M745.7 166.5h1M740.6 148.1h1M720.3 143.3h1M759.2 130h1M754.9 145.6h1M775.8 124.6h1M730.3 166.6h1M733.7 139.9h1M735.7 130.2h1M781.7 141.7h1M717.3 116.3h1M743.6 114.5h1M754.9 131.5h1M762.4 139.5h1M740.8 133h1M739.6 131.5h1M773.9 135.8h1M718.6 130.3h1M731.5 177h1M742.1 137.5h1M770.9 125.8h1M778.5 129.9h1M753.8 161.4h1M740.2 150.5h1M789.4 128.5h1M745.4 105.1h1M740.6 171.2h1M748.9 160.1h1M746.2 136.4h1M749.8 143h1M782.9 158.5h1M712.2 180.2h1M741.8 120.3h1M751 119.8h1M792.5 146.6h1M779.5 119.7h1M784.5 93.6h1M787.4 87.7h1M735.8 155.4h1M789.5 170.4h1M766.5 105.6h1M763.4 138h1M797.4 123.7h1M768.2 166.7h1M760.4 166.2h1M783 125.6h1M752 126.2h1M772.9 113h1M764.8 147.7h1M784.5 111.5h1M757.6 131.6h1M740.9 143.3h1M712.1 140.7h1M776.9 152h1M741.9 96.1h1M758.7 179h1M736 124.5h1M753.9 149.6h1M727.7 125h1M781.7 146.1h1M797.6 127.9h1M751.3 130.5h1M717 150.2h1M740.1 157.9h1M786.8 131.3h1M728.6 171.4h1M756.9 118h1M795.2 113.7h1M783.5 106.9h1M743.4 135.1h1M725.1 172.7h1M779.4 144.6h1M778.2 147.5h1M715 153.4h1M783.9 107.9h1M743.1 162h1M784.4 144.6h1M796 153.1h1M753.1 131.3h1M737.2 154.8h1M724.8 130.7h1M750.2 124.9h1M794.8 157.1h1M746.4 158.1h1M772.2 90.7h1M719.1 159.1h1M767 154.9h1M750.3 108.5h1M743.2 114.6h1M712 130.6h1M769.9 156h1M709 165.9h1M764.4 154.4h1M731.6 128h1M785.5 108.1h1M751.1 132.8h1M788.1 152.4h1M744.3 153.5h1M736.3 137.6h1M761.8 147.4h1M753.3 154.2h1M740.3 130.5h1M730.7 153.2h1M791.6 124.6h1M719.9 160.2h1M765 123.4h1M758.4 127.2h1M726.3 122.4h1M742.7 109.6h1M736.5 148.8h1M795.1 132.5h1M747.6 114.3h1M779 166.6h1M747.9 139.7h1M772.3 166.2h1M753.1 109.1h1M743.3 148.2h1M753.5 120.5h1M790.8 135.4h1M735.7 101.6h1M768.9 123.1h1M751.3 140.4h1M782.3 178.4h1M737.5 155.1h1M784.8 116h1M736.4 124.1h1M743.7 109.4h1M738 143.7h1M732.2 134.9h1M755 107.1h1M780.5 127h1M720.4 130.2h1M798.7 100.1h1M738.4 142h1M771.4 150.9h1M758.9 116.8h1M759.9 140.3h1M747.7 102.3h1M774.4 151.6h1M742.6 166.2h1M733.6 137.7h1M772.7 151.5h1M721.6 174.6h1M787 151.3h1M748 98.3h1M769.4 134.9h1M782.2 122.3h1M773.4 149.7h1M779.9 121.5h1M774.8 169h1M758.1 154.7h1M734.1 148.3h1M755.2 127.3h1M727.9 156.2h1M788.8 100.7h1M727 171.2h1M738.6 145.6h1M766.7 103.8h1M794 152.3h1M763.6 136.5h1M725.9 137.6h1M769 172.1h1M747.8 135.6h1M770.7 144.9h1M779.7 119.4h1M795.8 98.3h1M716.3 170.4h1M763.2 137.8h1M731 166.7h1M732.4 149.3h1M747.7 130.9h1M791.1 92.6h1M799.2 105.1h1M719.1 119.4h1M741 164.5h1M784.4 121.8h1M771.2 138.2h1M748.5 140h1M759.2 141.5h1M781.2 109.3h1M765.9 131.9h1M780.4 172.3h1M794.4 124h1M749.8 179.1h1M735.9 167.5h1M760.5 132h1M763 113.4h1M744 137.8h1M773.1 114.9h1M758.5 126.4h1M743.1 156.7h1M754.2 152.9h1M732.4 128.8h1M770.3 165.4h1M748.8 103.1h1M745.2 117.7h1M783.7 106.2h1M764.2 112.4h1M775.1 126.9h1M763.2 131.1h1M756.2 150.5h1M713.7 166.7h1M719 146.7h1M786.3 90.6h1M779.4 116.3h1M783.4 142.4h1M759.7 111.2h1M766 107.3h1M770.2 133.1h1M737.6 150.3h1M790.8 126.8h1M781.4 132.5h1M788.1 138.5h1M771.7 147.7h1M729.1 158.2h1M736.2 126.2h1M740.6 137.8h1M765.5 120.7h1M748.8 125.1h1M761.8 159.1h1M798.5 151.1h1M795.7 144.6h1M778.1 135.4h1M793.8 155.7h1M732.3 156.2h1M758.7 168.3h1M773.8 91.5h1M741 132.4h1M782.5 92.5h1M771.8 128h1M795.4 148.6h1M717.8 176.4h1M735.3 156.9h1M787.8 127.4h1M759.7 151.2h1M743.5 142.6h1M755.6 96.7h1M750.3 160.1h1M744.5 131.3h1M761.7 125.1h1M772.6 167.5h1M765.7 162.9h1M798.2 136.1h1M761.6 159.2h1M768.3 96.2h1M745.6 126.9h1M752.2 124.9h1M766.6 120.7h1M758.7 142h1M767.2 111.6h1M746.9 111.5h1M715.4 144.9h1M754.6 161.8h1M739.6 160.6h1M742 168.1h1M760.1 175.1h1M740.6 154.1h1M760.8 132.3h1M758.4 99.5h1M786.6 150.5h1M771 109.4h1M773.2 125.8h1M738.2 120.2h1M748.9 156h1M764.6 119.3h1M755.6 106.3h1M735.2 156.7h1M784.5 145h1M755.4 116.7h1M717.7 171.1h1M779.1 162.6h1M765.7 145h1M792.1 103.2h1M730.2 104.8h1M764.4 153.3h1M773.4 118.6h1M751.3 175h1M724.1 113.5h1M794.9 134.2h1M780.5 144.5h1M728.6 148.6h1M735 155h1M713 143.2h1M751.1 132.6h1M763.3 167.7h1M758.2 125.1h1M766.5 153.4h1M762.5 137.5h1M783.5 98.8h1M757.6 140.5h1M791.1 107.3h1M790 128h1M774 103.8h1M724.2 167.1h1M741.9 163h1M770.1 125.7h1M748 162.4h1M771.1 138.7h1M713.3 164.6h1M719.4 109.7h1M730.5 180.9h1M785.6 107.5h1M710.7 96.8h1M736.7 118.3h1M711.3 159.5h1M773.4 174.4h1M781.8 128h1M798.5 154.7h1M753.5 129.7h1M749.9 166.5h1M736.6 155h1M764.6 135h1M778.2 131.9h1M764.1 132.1h1M789.8 168.4h1M780.9 125.2h1M732 130.2h1M779.2 118.7h1M742.3 156.2h1M785.4 145.3h1M795.9 97.7h1M753.1 144h1M746.8 124.9h1M767.3 153.6h1M755.7 113.6h1M756.6 126.9h1M784.4 107h1M756 163.5h1M761.4 109.5h1M759.5 164.9h1M724.1 116h1M755 177h1M746.2 117.6h1M785.8 142.4h1M761.8 174.9h1M786.4 174h1M762.8 135h1M784 121.6h1M757.1 118.3h1M721.4 126.6h1M740.3 160.7h1M730.6 129.3h1M763.7 139.6h1M750 157.8h1M741.1 133.9h1M721.8 174.5h1M749.2 116.7h1M777.9 120.9h1M749.3 93.7h1M722.3 172.2h1M788.7 120.3h1M756.4 145.1h1M767.7 118.2h1M792.5 148.2h1M744.5 123.8h1M770.6 130.7h1M722.4 147h1M772.9 115.4h1M783.1 116.5h1M745.7 137.3h1M766.3 162.4h1M748.1 134.5h1M725.5 128h1M732.4 145.4h1M738.2 136.6h1M762.8 123.2h1M761.2 143.7h1M772.5 110.5h1M763.9 107.2h1M793.3 154.1h1M792.6 127.1h1M724.6 167.4h1M771.2 134.7h1M752 118.4h1M769 128.4h1M795.9 116.1h1M750.2 104.3h1M769.9 141h1M741 129.5h1M784.8 125.5h1M764 138.1h1M721.3 138h1M773.1 111.2h1M752.6 172.7h1M766.5 143.7h1M749.7 177.8h1M710.9 146.4h1M775.8 114.8h1M765.8 107.8h1M780.1 157.2h1M721.1 149.8h1M740.2 129.4h1M766.3 145.1h1M775.8 150.6h1M776.9 117.4h1M727.3 139.5h1M728.4 134.1h1M761.6 136.4h1M782.3 142.5h1M772.2 113.1h1M744.5 157.3h1M775.5 156.4h1M760.5 143.8h1M782.5 160.8h1M749.6 171.3h1M726.8 137.1h1M765.5 118h1M725.8 175h1M752.7 103.9h1M743.7 171.1h1M746 170.3h1M728.6 107.4h1M778.5 108.2h1M727.9 125.7h1M772.6 96.3h1M752.7 169.5h1M768.1 92.9h1M777.7 164.8h1M771.3 139.9h1M785.2 117.2h1M768.3 156.9h1M728.7 169.1h1M746.7 112.6h1M718.1 151.4h1M789.1 146.1h1M762.2 109.1h1M769.7 106.2h1M761.5 128.2h1M752.5 143.8h1M726 158h1M747.2 135.4h1M767.8 154.1h1M734.9 128.9h1M732.3 132h1M763.9 149.7h1M743.5 125h1M731.7 132.5h1M758.2 109.3h1M779 96h1M754.2 141.3h1M765 165.9h1M756.9 155h1M791.3 142.5h1M730 168.7h1M749.3 174.4h1M742.2 166.3h1M795.7 127.9h1M727.4 152.6h1M749.2 127.6h1M764.3 158.5h1M765.6 134.6h1M758.7 142.6h1M758.1 174.8h1M730.4 161.1h1M740.3 128.6h1M742.5 88.9h1M755.1 137.9h1M750.1 180.3h1M772.4 135.1h1M775 121.4h1M753.5 151.7h1M761.4 178.5h1M732.5 127.2h1M756.3 111.2h1M757.9 164h1M749.1 153.9h1M755.3 118.5h1M737.1 89.7h1M762.2 158.6h1M763.5 164.5h1M761.1 112.9h1M748.1 132.8h1M795.3 146.1h1M756.3 144.2h1M790.6 106h1M752.2 123.4h1M708.4 95.8h1M768.3 139.4h1M746.6 172.6h1M799.9 128.7h1M714.2 157.6h1M727.1 135.4h1M780.2 149h1M746.9 125.6h1M710.3 120.1h1M785.7 113.2h1M745.1 147.7h1M730.6 117.7h1M762.5 123.9h1M786.2 87.2h1M794.3 149.2h1M793 93.8h1M777.9 155.8h1M717.6 170.1h1M778.8 124.1h1M731.7 127.3h1M735.8 117.3h1M738.7 151.3h1M756.3 125.6h1M744.3 178.6h1M716 158.3h1M730.4 114h1M760.7 152.4h1M776.9 167.5h1M755.2 131.8h1M765.9 137.1h1M762.4 136.4h1M789.3 125.5h1M781.3 171.8h1M723.8 173.6h1M795 107.1h1M751 121.3h1M749.7 131h1M760.6 149.7h1M780.2 128.4h1M724.6 158.1h1M718.6 138.6h1M737.8 94.4h1M710.1 175.1h1M758.2 135h1M793.2 116.1h1M779.3 130.2h1M742.1 142.1h1M784.6 108.7h1M775.3 133.3h1M737.3 155.2h1M719.8 147.9h1M776.9 103.6h1M746.1 103.6h1M764.7 139.1h1M796.9 136h1M782.4 118.1h1M747.2 132.4h1M784.7 124.8h1M725.9 168.2h1M728.3 108.8h1M793.7 120.1h1M717.1 154h1M761.9 159.8h1M763.1 134.8h1M746.8 133.9h1M758.3 113h1M750.7 101.8h1M763.3 117.1h1M795.4 157.9h1M784.6 115.8h1M714.7 136.4h1M754.1 146.3h1M722.8 148h1M789.8 171.9h1M725.7 138h1M759.3 120.3h1M787.2 165.1h1M730.6 133.7h1M725.6 159.1h1M742.3 155.5h1M736.9 179.1h1M765.3 128.5h1M732.6 101.1h1M736.4 165.4h1M735.3 174.3h1M717.4 134.1h1M793 142.7h1M791 117.7h1M776.4 147.4h1M752.3 127.8h1M769.5 132.3h1M782.3 127.5h1M771 173.8h1M725.2 148.5h1M757.8 135.8h1M730.2 156.9h1M763 123h1M764.8 88.7h1M754.6 108.6h1M796.2 145.5h1M789 139.4h1M754.7 140.6h1M721 178.8h1M785.4 134.4h1M741 118.4h1M748.9 176.9h1M732.9 132.6h1M753 155.8h1M738.2 155.6h1M758.2 159.3h1M770.4 151.2h1M765.7 112.6h1M714.8 162.8h1M759.1 109.4h1M708.9 143.6h1M787.6 130h1M792.9 141.8h1M725.4 88.4h1M767.2 95.2h1M774.8 143.1h1M798.4 133.1h1M779.7 145.6h1M746.8 133.7h1M779.9 106.9h1M756.6 148.6h1M754.3 141.9h1M788.2 108.2h1M772.1 137.4h1M745 163.3h1M728.1 144.7h1M772.3 154.1h1M763 125.9h1M780.7 96.2h1M757.3 108.8h1M790.1 99.3h1M773.8 127.4h1M749.4 128.6h1M764.9 115h1M752.3 123.4h1M781.7 155.9h1M764.7 121.5h1M772.5 135.9h1M720.8 157.8h1M796.4 140.2h1M766.6 132.3h1M773.2 162.7h1M747.1 121.6h1M751.4 160.8h1M763.8 163.4h1M785.7 120.3h1M749.7 160.7h1M790.3 117.4h1M784.3 122.7h1M785.3 161.1h1M748.4 165.1h1M768.8 147.1h1M743 131.7h1M747.6 146.4h1M727.5 174.2h1M753.3 152.6h1M787.9 95.5h1M738.6 163.5h1M750.9 122.3h1M782 137.9h1M769.5 125.6h1M745.3 154.6h1M791.8 168.8h1M760.8 134.2h1M746.7 147.2h1M760.3 117h1M772.4 136.6h1M792.7 134.9h1M740.4 126.1h1M758.4 143h1M787.8 111.1h1M743.9 142.7h1M793.9 146.8h1M745.1 124.3h1M726.6 121.6h1M743.3 150.1h1M733.4 121.7h1M778.8 147.8h1M770.4 141.8h1M728.8 140.7h1M766.1 153h1M765.7 105.8h1M799.5 103.1h1M722.9 136.4h1M712.6 125.5h1M732.2 146.9h1M764.3 130.7h1M775 110.1h1M799.5 104.2h1M711 147.9h1M744.9 114.2h1M775.9 117.5h1M784.6 148.6h1M747.6 127.3h1M750.2 143.4h1M770.9 98.2h1M756.3 133.2h1M751.6 121h1M739.7 129.5h1M748.2 122.8h1M714.7 171.1h1M769.6 143.5h1M784.1 128.3h1M778.2 118.3h1M742 163.8h1M775.7 122.8h1M738.3 130.2h1M764.2 165.9h1M798.5 147h1M731.4 127.6h1M754.1 112h1M742 129.2h1M750.9 162h1M774 151h1M715.6 163.2h1M797.3 110.8h1M755.9 127.2h1M737.5 128.5h1M789.3 91.1h1M731 113h1M780.4 143.7h1M727.8 142.7h1M765.7 129.3h1M762.1 163.8h1M745.4 149.5h1M732 141h1M782.6 132.7h1M751.1 147.3h1M769.4 163.2h1M771.3 134.9h1M754.4 163.7h1M772 139.7h1M743.5 171.9h1M756.5 179.8h1M778.4 130.7h1M781.3 125.6h1M763.7 116.3h1M793.1 123.8h1M771.6 145h1M767.7 147.1h1M756.1 137.2h1M757.2 142.2h1M789.3 90.7h1M779.8 149.9h1M772.1 112.9h1M754.2 150.5h1M741 167.9h1M796.6 117.2h1M720.8 178.5h1M763 116.3h1M751.6 158.6h1M744.9 124.9h1M716.7 120.2h1M782.9 124.2h1M731.8 144.6h1M793.7 123.5h1M757.3 130.1h1M733.1 150.7h1M782.9 153.7h1M727.7 125.1h1M726.7 137h1M730.8 111.3h1M718 152.9h1M790 147h1M738.2 102.3h1M790.9 115.3h1M746 127.3h1M752.5 172.8h1M765.3 114.7h1M733.8 129.5h1M750.1 151.1h1M784.7 144.9h1M738.4 141.3h1M736.3 173.3h1M772.7 122.7h1M775.4 132.7h1M710 150.6h1M756.8 157.9h1M772.1 143.7h1M717.5 139.7h1M719 109.2h1M759.5 114.5h1M750.3 162.8h1M794.6 136.9h1M780.3 120.9h1M790.6 143.8h1M773.8 155.8h1M727.6 142.5h1M772.7 131.2h1M766.7 132.3h1M768.4 120.2h1M767 95.5h1M737.1 151.9h1M785.5 124.8h1M795 96.9h1M739.1 112h1M777.2 152.8h1M760.4 149.1h1M741.8 173.9h1M734.4 137.7h1M730.7 118.6h1M750.5 162.3h1M747.2 155.2h1M741.2 159.9h1M784.7 115.7h1M724.5 133.3h1M760.3 115.7h1M784.4 87.2h1M776.9 110.2h1M717.4 153.2h1M797.2 132.8h1M756.6 120.6h1M754.8 150.8h1M715.2 132.3h1M779.7 149.7h1M743.6 160.9h1M733.8 105h1M724.4 132.7h1M789.5 118.7h1M739 161.6h1M753.8 119.9h1M797.4 141.5h1M749.2 124.5h1M723.6 161.6h1M731.6 147.9h1M786 115.8h1M747.4 135.3h1M710.4 180.6h1M750.2 149.1h1M783 93.1h1M765.8 118.7h1M750.4 138.5h1M780.8 154.3h1M747.5 132.4h1M752.1 111.7h1M783 150.6h1M788.1 171.3h1M778.3 138.6h1M753.3 177.9h1M773.1 120.5h1M793.5 137.3h1M740 137h1M751.2 139.9h1M777.4 154.1h1M744.9 166.2h1M758 136.3h1M758.6 124.1h1M781.5 129h1M719.7 148.2h1M734 170.2h1M778.4 113.9h1M749.3 136.5h1M781.6 131.2h1M777.2 128.9h1M785.9 124.2h1M768.6 132.7h1M763.5 141.7h1M721.2 156.5h1M735.7 102.6h1M745.1 134.1h1M730.2 163.5h1M746.9 129.3h1M767.2 151.9h1M781.4 134h1M771.7 111.7h1M744.6 153.1h1M794.2 134.9h1M744.5 115.6h1M772.6 106.8h1M762.3 89.6h1M774.7 116.5h1M778 148.1h1M750.3 172.1h1M757.3 167.7h1M722.5 128.5h1M785.5 128.9h1M789.6 115.8h1M734.3 159.6h1M781.7 115.3h1M759.8 128h1M732.4 99.4h1M742.8 110.9h1M794.3 122h1M749 160.4h1M771.3 155.7h1M760.5 152.8h1M757 130.1h1M754.4 167.5h1M774.9 95.4h1M770.7 123.2h1M772.4 107.9h1M773.4 105.5h1M797.7 117.9h1M798.5 108.6h1M758.5 162.4h1M779.4 125.5h1M791.4 167h1M728 158.1h1M777.4 158.4h1M712.5 119.5h1M712.1 146.9h1M760.1 159.3h1M726.3 123.4h1M753.4 138.4h1M766.8 146.9h1M722.4 172.7h1M791.1 180.9h1M724.4 142h1M793.1 104.3h1M739.2 129.6h1M751.2 119.5h1M733.4 171.3h1M757.3 161.8h1M718 162.7h1M795.9 163.1h1M768.2 152.2h1M747.8 159.8h1M754.6 137.7h1M748.2 114.3h1M761 138.2h1M738.7 159.2h1M755 167.3h1M778.4 95.4h1M741.2 135.6h1M729 141.2h1M798.2 133.2h1M715.7 151.9h1M748.3 153.5h1M773.1 125.2h1M719.1 163.3h1M742.7 138.4h1M749 141.2h1M786.1 100.7h1M754.3 167.7h1M770 141h1M760.7 150.6h1M730.7 127h1M788.1 137.8h1M788.7 154.9h1M747.1 155.7h1M782.3 163.1h1M785.5 140.4h1M745.7 150.8h1M794.9 126.2h1M750.1 118.4h1M796.2 142.9h1M721.7 149.7h1M736.9 139.8h1M757.5 174.9h1M728.3 146.6h1M760.8 98.6h1M784.1 103h1M766.6 150.3h1M731 179h1M739.7 152.4h1M749.1 159.4h1M779.8 162h1M720.7 115.2h1M741.9 139.8h1M746.1 140h1M744.1 170.4h1M790.6 143.4h1M766.5 114.7h1M761.8 142.2h1M795.8 108h1M719.3 181h1M743.7 177.5h1M773.5 107.8h1M782.5 136.1h1M787.1 135.5h1M739.4 107.7h1M763.3 135.2h1M752.6 168.4h1M756.1 137.6h1M765.4 140.9h1M765.1 164.3h1M761.6 100.5h1M765.3 99.5h1M788.6 101.6h1M744.3 141.9h1M728.3 169.2h1M765.6 127.2h1M780.4 121.9h1M779.5 128.7h1M775.9 144.5h1M774.4 140.5h1M780.7 128.2h1M741.5 146.2h1M732.1 138.6h1M767.4 138.6h1M736.8 120.5h1M738 124.3h1M755.7 124.5h1M785.5 119.1h1M762.8 163.9h1M782.6 149.7h1M767 146.8h1M755.1 154.7h1M779.9 129.4h1M797.3 144.7h1M766.1 103.8h1M744.7 146.1h1M742.2 118.9h1M740.2 165.9h1M783.1 115.9h1M752.1 165.2h1M768.2 130.6h1M774.8 150.5h1M734.9 107.7h1M765.6 143.4h1M795.5 101.4h1M748 105.9h1M761.4 146.5h1M746.8 156.2h1M786.4 132.7h1M714.7 137.4h1M793.1 162h1M726.1 128.6h1M771.1 160.9h1M787.7 121.6h1M730.8 134.8h1M736.6 119.9h1M761.1 154h1M755.4 165.1h1M757.9 124h1M770.9 146.4h1M752.4 129h1M761.8 106.3h1M709 147.4h1M769.9 136.2h1M771.7 130.8h1M770.6 143.9h1M759.6 137.6h1M790.9 138.5h1M740.6 169h1M721.4 122.8h1M793.2 150h1M772 108.3h1M726.1 143.6h1M748.9 134.3h1M788.5 105h1M711.4 114.1h1M723.5 127.8h1M782.6 113.7h1M738 137.6h1M751.6 122.5h1M764.5 128h1M718.8 147.6h1M759.3 159.3h1M770 157.1h1M779.3 108.4h1M721.4 174.7h1M789.2 165.6h1M748 173.5h1M739.7 147.9h1M770.1 124.9h1M788.7 91h1M758.4 162.4h1M754.7 140.2h1M741.6 131.2h1M730 124.7h1M775.9 132.2h1M764.7 144.7h1M776.5 174.3h1M776.7 136.7h1M765.2 143.3h1M791.8 147.4h1M737 155.1h1M755 160.9h1M767.1 159.3h1M724.9 140.3h1M728.8 157.5h1M741.7 145.9h1M758.1 134.9h1M772.8 165.3h1M779.7 121.3h1M780.9 137.6h1M786.3 100.2h1M716.4 145h1M711 138.3h1M741.2 173.3h1M750.4 141.2h1M744.7 132.7h1M761.8 128.4h1M732.1 163.1h1M758.2 141.6h1M742.2 168.8h1M720.7 115.6h1M766.2 121.3h1M780.6 164h1M736.7 136.1h1M738.1 147.2h1M752.8 140.4h1M712.7 162.2h1M746.3 122.6h1M760.2 124.8h1M742.4 124.4h1M763 151.5h1M775.3 113.3h1M752.5 118.8h1M773 146.8h1M793.1 119.1h1M773.2 156.1h1M737 142.9h1M757 102.1h1M719.2 161.2h1M751.4 148.7h1M757.2 109.9h1M769.4 127.9h1M757.3 127.4h1M750.8 128.8h1M772.6 133.8h1M766.8 176.9h1M748.1 114h1" stroke="#8a3a8e" stroke-width="1.0" fill="none"/>
<path d="M752.1 150.9h1M772.9 157.2h1M776.3 142.6h1M752.6 164.7h1M758.4 153.9h1M732.8 132.1h1M772.9 145.6h1M742.4 138.7h1M767.8 140.8h1M746.8 146.1h1M753.2 148.4h1M748.9 144.5h1M717 159.6h1M767.4 148.4h1M759.2 149.9h1M750.1 139h1M737.6 172.2h1M718.2 160.2h1M736.1 161.1h1M769.7 152.5h1M757.4 155.7h1M760.6 148.3h1M767.4 155.1h1M756.4 144.9h1M738.7 137h1M731.5 148.6h1M748 146.6h1M774 139.7h1M761 154.7h1M765.7 139.6h1M746.9 130.6h1M741.5 138.2h1M746.7 145.2h1M751.1 143.5h1M788.4 131.8h1M756.6 120.6h1M729.1 144.5h1M755.6 145.3h1M783.4 133.8h1M760.6 153h1M743.7 152.6h1M762.8 129.9h1M782.4 125.9h1M744.5 144.8h1M746.2 155.5h1M742.7 170.2h1M769.8 129h1M771 138.2h1M753.6 129.9h1M756.8 151.5h1M750.8 142.3h1M766.1 152.4h1M741.7 136.7h1M764.1 143.5h1M749.7 125.9h1M747.3 139.1h1M753.6 139.5h1M728.7 129.5h1M749.8 150.7h1M732.6 145.9h1M760.8 150h1M751.6 142.4h1M785.8 149.3h1M763.7 134.5h1M752.1 130.8h1M762.4 142.5h1M733.2 162.8h1M763.3 144.5h1M739.1 166.6h1M742.5 140.8h1M750.4 145.9h1M748.7 142.8h1M758 156.2h1M776 138.8h1M753.6 161.5h1M761.9 142.2h1M774.8 133.9h1M779.9 154.9h1M763 147.4h1M742.1 131.3h1M758.9 147.1h1M766.3 149.8h1M747.9 160.6h1M748.4 154.7h1M756.3 151.7h1M758.6 135.6h1M754.7 126.8h1M759.8 148.6h1M760.9 131.7h1M743.5 157.2h1M771.6 148.8h1M763.7 140.6h1M765.1 145.5h1M740.8 145.2h1M760.3 132.2h1M761.9 128h1M730.4 151.1h1M758 148.8h1M765.8 142.6h1M758.2 145.8h1M749.6 137.9h1M777.4 144.6h1M757.2 141h1M761.7 129.5h1M771.1 148.7h1M748 141.9h1M755.9 139.6h1M766.5 144.4h1M779.4 136.7h1M768.6 143.7h1M757.2 151.9h1M739 162.1h1M753.4 152.8h1M750.5 138.6h1M758.4 156.1h1M749 143.5h1M765.4 147.8h1M751.3 122.3h1M736.4 154.2h1M741.9 148.9h1M751.7 142.1h1M756.8 138.4h1M753.2 143.1h1M742.8 156.6h1M766.5 143.1h1M761.1 147.1h1M740.5 146.7h1M757.9 159.1h1M760.9 143.7h1M754.9 148.1h1M756.7 138.8h1M748.6 123.9h1M749.7 135.8h1M753.6 145.1h1M743.3 147.5h1M727.4 136h1M749.1 169.2h1M745.5 142h1M738.4 150.4h1M753.3 153.5h1M764.8 141.5h1M756.2 135.3h1M756.3 166.1h1M752.8 135.5h1M772.6 133.2h1M754 161.8h1M746.4 162.6h1M771.9 147.6h1M769.1 133.4h1M765.9 149.1h1M740.2 147.8h1M777.4 132.5h1M753.8 166.6h1M760.4 147.3h1M747.7 135h1M760.3 153.5h1M745 130h1M760.1 158.7h1M754.5 155.1h1M771.3 139h1M768.9 141.8h1M788.2 146.1h1M756.1 141.1h1M756.9 144.5h1M759.3 139h1M753.6 145.3h1M748.3 140.8h1M756.7 153.9h1M757.2 139.9h1M763.8 133h1M773 144.1h1M769.8 129.1h1M743.5 147.3h1M747.2 142.7h1M742.4 148.5h1M736 136.8h1M730 132.3h1M779.1 143h1M753.6 142.9h1M764.1 127.5h1M754.7 136.5h1M724 155.2h1M775.4 135.2h1M734.9 149h1M742.5 127.6h1M762.9 125.8h1M752.9 112.6h1M772.4 139.7h1M769 157.2h1M743.7 156.9h1M761.5 148.2h1M770.2 161.9h1M750.4 150.8h1M739.6 136.8h1M765.4 144.1h1M740.3 147.3h1M764.2 121.4h1M766.6 147.3h1M766.8 163.5h1M752.5 153.3h1M768.2 143.8h1M767.8 138.1h1M751.9 164.5h1M761.5 138.4h1M754 134.2h1M752.2 149.9h1M759 146.5h1M745.4 150.2h1M748.7 147.3h1M747.7 157h1M746.5 140.4h1M751.8 132.7h1M745.1 142.8h1M761.1 137.3h1M768.1 134.8h1M780.5 138.6h1M776 155.7h1M744.5 147.9h1M764.4 157.9h1M759.6 135.5h1M758.8 136.2h1M753.8 140.9h1M779 139.6h1M764.8 140.7h1M764.2 137.8h1M737.4 147.1h1M757.6 156.6h1M762.7 153.6h1M765.9 137.5h1M761.9 130.4h1M752.8 149.9h1M772.6 133.9h1M752.3 144.4h1M768.1 125.5h1M760.4 148.7h1M743.8 145.8h1M719.6 141.4h1M748.4 163.4h1M762.3 145.6h1M739.5 148.5h1M738.5 145h1M764.4 145.1h1M767 157.4h1M727 166.3h1M774.9 144.2h1M766.4 158.2h1M740.3 162.8h1M757.6 139.3h1M735.6 149.6h1M771.8 157.1h1M749.3 152h1M739.8 162.6h1M762.4 144.8h1M763.8 146.4h1M765.7 152.1h1M747.8 149.2h1M727.9 147.9h1M746.9 154.3h1M764.9 136.8h1M754 162.4h1M760.6 150.6h1M754.9 140.5h1M737 142.1h1M745.3 148.5h1M759.1 141h1M748.9 136.3h1M771.4 150.3h1M745.9 148.5h1M727.4 163h1M764.7 157.3h1M756.8 144.2h1M739.5 131.3h1M748.9 133.5h1M764.9 138.6h1M762.7 139.7h1M750.3 134.3h1M739.7 133h1M758.5 145.6h1M756.3 155.3h1M755.5 159.1h1M743.2 130.9h1M753.2 152.2h1M763.2 152.8h1M764.4 139h1M742.2 139.7h1M776.8 145.7h1M781.3 143.3h1M755.5 118.6h1M761.9 140.9h1M762.4 130.4h1M770.8 152h1M756.7 122.8h1M770.3 125.2h1M736.7 137h1M738.8 158.2h1M753.1 143.3h1M759.2 145.8h1M733.4 136.5h1M780.8 139.8h1M756.5 132.7h1M739.3 157.8h1M759.9 147h1M728.4 158.5h1M759.7 143.7h1M765.6 156h1M743.9 135.5h1M784.3 130.1h1M748.8 153.6h1M756 141.1h1M753.4 158.7h1M743 153.9h1M763.7 137.9h1M752.2 146h1M755.6 139.6h1M748 159.6h1M762.2 142.8h1M762.5 138h1M747.1 157.3h1M743.6 151h1M776.1 148.3h1M765.5 141.8h1M757.2 142.1h1M752.7 142.4h1M766 157.5h1M746.3 141.5h1M742.4 157.5h1M759.6 145.7h1M774.2 129.6h1M767.1 136.5h1M751.5 157.1h1M759.3 136.2h1M742.3 151h1M749.6 140.7h1M757.5 141.5h1M767.1 136h1M784 143.8h1M762.1 156.7h1M756.6 150.1h1M743.9 154.7h1M756.3 135.2h1M753.5 144.2h1M769.5 157.6h1M764.4 139.6h1M742.8 159.1h1M745.1 157.1h1M758.2 154.2h1M735.6 151.4h1M735.1 163.4h1M749 141.2h1M750.2 146.7h1M754.9 143.9h1M757.9 141.1h1M760.2 148.9h1M732.2 155.8h1M756.3 129h1M762.5 130.1h1M766.2 139.8h1M763.8 150.6h1M765.9 139.6h1M743.4 150.2h1M762.5 136.5h1M779.5 151.1h1M737.5 162.4h1M757.2 142.1h1M750.4 148.6h1M751.2 151.1h1M747.1 154.2h1M742.6 151.1h1M760.7 162.2h1M763.9 153.3h1M747.1 146.8h1M755.2 150h1M757.5 144.5h1M759 133.2h1M753.6 145.2h1M771.6 143.8h1M742.7 165.7h1M760.6 140.5h1M747.9 153.6h1M763.8 170.7h1M767.6 139.7h1M723.3 163.3h1M761.3 144.8h1M756.9 138.1h1M746.8 143.4h1M759 135.5h1M758.5 140.3h1M744.1 156.3h1M751.5 149.8h1M740.7 146.2h1M751.7 151.7h1M740 145h1M776.3 141.8h1M755.5 139.6h1M746.1 136.5h1M744.2 146.2h1M753.5 151.1h1M763.7 134.7h1M745.9 149.1h1M757.2 136.4h1M775.4 127.1h1M752.1 152.7h1M765.9 136.3h1M733 137.9h1M742.6 149.5h1M740.5 159.3h1M757.4 144.4h1M751.2 131.8h1M754.5 161.1h1M765.9 141.2h1M740.4 128.6h1M744.5 139.3h1M780.6 129.6h1M749 153h1M756.1 130.3h1M735.2 155.2h1M747.2 145.9h1M729.6 136.7h1M748.3 142h1M762.4 141.6h1M748.7 141.1h1M771.9 140h1M729.6 152.4h1M761.3 136.1h1M746.2 136h1M762.1 143.3h1M745.2 156.2h1M770.6 134.9h1M762.9 136.3h1M759.6 152h1M781.1 134.5h1M752.1 138.8h1M733.4 154.6h1M743.9 161.3h1M723 157.8h1M744.8 147.4h1M768.7 155.4h1M757.3 149.5h1M736.5 161.4h1M749.2 133.4h1M743.4 139.9h1M741.3 161.8h1M727.5 154.3h1M747.6 146.4h1M773.5 137.8h1M767.3 145.4h1M761.6 141.1h1M763.2 140.8h1M752.4 142.9h1M749.2 161.8h1M766.4 152.7h1M745.9 139.8h1M741.8 154.4h1M741.2 141.3h1M725 162.6h1M751.2 164.4h1M778.6 155.4h1M763.9 127.5h1M742.5 154h1M749.1 146.8h1M761.7 153.7h1M743.8 159h1M752.5 152.2h1M777.5 135.7h1M752.1 144.2h1M750.3 140.4h1M755.2 151.6h1M743.8 141.5h1M749 150.9h1M746.3 157.1h1M746.4 145.9h1M753.8 157.4h1M750.5 149.8h1M752.5 130.1h1M739.7 147.1h1M765.2 145.4h1M766.9 137.7h1M768.1 142.9h1M752.5 150.3h1M777.2 140.4h1M757 154.4h1M764.8 140.4h1M732.3 144.6h1M773.7 135.9h1M754.5 147.2h1M753.6 163.7h1M746.9 139.3h1M767.4 142.1h1M756.7 140.2h1M758.9 140.7h1M758.6 133.4h1M734.3 124.1h1M752.7 160.9h1M761.7 137.6h1M740.4 142.4h1M724 149h1M765.1 145.8h1M764 144.4h1M763.3 122.5h1M739.3 150.8h1M749.3 150.5h1M728.3 151.7h1M773.5 140.5h1M750.8 133h1M773.5 150.2h1M722.9 155.7h1M734.7 164.6h1M760.3 138.1h1M760.7 137.7h1M769.4 138.9h1M739.1 142.4h1M747.1 139.7h1M776 132.6h1M738.7 137.8h1M765.4 162.2h1M778.8 118h1M768.6 135h1M756.4 172.3h1M744.3 160.8h1M758.3 143.3h1M754.3 148.8h1M762.2 147.5h1M745.4 137.9h1M757.1 142.9h1M730.4 154.7h1M766.1 159.4h1M754.9 141.8h1M721.4 157.6h1M771.5 150.7h1M745.6 141.2h1M756.9 131.7h1M751 152.3h1M759.3 141.7h1M755 151.9h1M762.5 158.4h1M745.1 134.5h1M759.6 149.3h1M763.2 125h1M751.4 140.3h1M742.8 146.7h1M734.2 156.3h1M760.7 161.3h1M730.4 147h1M763.5 155.6h1M759.8 136.9h1M765.7 132.9h1M766.4 145.9h1M733.8 141.1h1M749.8 143.2h1M758.9 119.6h1M726.8 151.2h1M757.3 136h1M745 150.5h1M739.7 157.1h1M770.9 118.3h1M743.3 139.1h1M754.7 152.7h1M752.7 150.1h1M738 154.7h1M757.6 134.5h1M760.9 145.9h1M749.9 155.5h1M755.4 153.3h1M760.6 128.9h1M757.2 140.6h1M759.7 138.6h1M723.3 148.1h1M757.6 146.9h1M750.6 135.4h1M757.2 142.8h1M781.3 130.1h1M777.6 131.8h1M758.3 144.6h1M779.5 138.1h1M763.4 153.3h1M765.2 142.3h1M740.1 141.9h1M729.2 134.9h1M765.1 137h1M755.8 148.9h1M769 124.4h1M769.8 149.7h1M772.1 141.5h1M750.7 165.7h1M765.6 150.8h1M746.6 153.3h1M764.8 152.9h1M739.8 148.2h1M757.2 129.1h1M747.9 131h1M766.9 143.3h1M766.5 139.9h1M767.9 143.4h1M740.7 143.2h1M764.8 136.5h1M749.2 142.9h1M744.3 145.1h1M761 143.9h1M760.1 138.9h1M717.8 171.3h1" stroke="#6e1f73" stroke-width="1.0" fill="none"/>
<path d="M766 81.7h1M787.7 81.6h1M795.2 72.9h1M797.7 76.5h1M778.9 70.9h1M791.2 76.1h1M787.6 77.9h1M786.9 76h1M778.2 77.4h1M793.3 77.7h1M792.2 71.8h1M791.1 70.9h1M791.5 83.3h1M773.9 81.3h1M778.1 69.7h1M780.6 78.5h1M797.2 77.9h1M792.9 83.3h1M785.8 69.2h1M786.3 78.7h1M788.2 76h1M784.5 81.9h1M782.4 76.3h1M785.1 79.9h1M786.9 79.5h1M787.7 76.7h1M786.1 76.9h1M786 80.3h1" stroke="#c06a7a" stroke-width="1.0" fill="none"/>
<path d="M807.9 115.6h1M832.8 132.2h1M845.8 122h1M828.8 146.8h1M844.1 128.3h1M845 160.1h1M827.8 108.9h1M807.4 143h1M821.2 115.1h1M832.4 160.6h1M826.4 168.7h1M842.3 111h1M843.3 92.5h1M829 88.2h1M830.7 150.8h1M806 124.3h1M817.9 163.3h1M844.2 139.3h1M838.7 134.9h1M843.7 135h1M844.7 157.9h1M842.4 95.7h1M804.1 142.6h1M803.3 143.6h1M809.5 99.9h1M848.3 125.1h1M803 134.1h1M835.3 136.1h1M841.5 140.8h1M808.7 140.3h1M841.1 153.2h1M844.8 117.1h1M823.1 107.4h1M808.2 179.2h1M807.4 95.9h1M812.6 150.8h1M847 151.9h1M841.9 139.8h1M840.8 165.4h1M837.9 111.3h1M835.6 137.7h1M822.1 163.8h1M821.9 174.6h1M836.8 101.8h1M847.8 133.3h1M835.1 143h1M829.6 161.9h1M817.2 151.7h1M816.9 86.8h1M827.2 166h1M823.8 110.6h1M838 104.2h1M831.6 172.2h1M829 149.9h1M839.2 173.1h1M827.7 169.8h1M843.6 129.2h1M839.4 120h1M804.3 110.3h1M808.1 154.7h1M812.7 135.8h1M845.5 107.2h1M848.1 172.9h1M844.4 162.2h1M805.7 146.2h1M844.5 142.9h1M828.3 96.4h1M811.1 158.9h1M817.2 105.7h1M803.2 115h1M831.6 97.2h1M805.9 169.1h1M830.8 151.5h1M846.2 167.9h1M825.5 169.7h1M836.4 103.3h1M847.2 158.2h1M847.8 156.5h1M803.9 155.1h1M833.3 123h1M824.6 169.5h1M840.6 153.6h1M825 180.2h1M820.3 116.5h1M809.8 132.3h1M848.4 161.9h1M848 98.4h1M836.2 149.6h1M845.4 163.6h1M842.7 116.1h1M820.6 142.9h1M808.7 129.2h1M817.7 131.7h1M805.1 157.4h1M840 175.7h1M817.4 138.3h1M837.3 144.4h1M830.1 156h1M812.9 126.8h1M810.3 151.8h1M835.2 144.3h1M814.4 137.8h1M804.8 138.2h1M841.9 102h1M828.2 95.9h1M834 150.7h1M809.7 91.3h1M842.4 153.9h1M839.2 107.8h1M825.8 117.8h1M815.9 139.7h1M840.6 87.2h1M828.6 180.3h1M834 161.8h1M826.3 116.4h1M848.3 147.6h1M821.3 151.9h1M831.4 171.1h1M816.3 124.9h1M832.3 172.6h1M829.8 93.5h1M828.6 179.1h1M835.8 121.5h1M830.8 119.1h1M810.8 95.8h1M811.3 140.3h1M822.1 146.8h1M847.6 141.2h1M823.5 123.1h1M824.5 165.2h1M809 134.7h1M824.4 125.6h1M807.9 160.6h1M842.1 162.9h1M810.2 145.1h1M803 139.6h1M841.1 166.6h1M823.8 129.1h1M807.6 129.7h1M804.4 120.2h1M815.7 162h1M827.9 172.2h1M819.5 155.5h1M824.6 157.1h1M819 145.2h1M830.5 125.7h1M848.1 150.2h1M810.1 133.3h1M845.4 126.3h1M832.4 119.2h1M809 151h1M824.2 178.4h1M804 150.1h1M825.5 162.1h1M848 173.3h1M808.9 123.8h1M830.5 104.7h1M829.3 132.6h1M828.8 164.2h1M805.8 123.5h1M820.5 156h1M803.5 92.3h1M839.2 149.1h1M832.3 170.7h1M825.6 148.6h1M832.5 167.1h1M846.4 145.4h1M839.2 105.2h1M840 131.5h1M823.3 118.2h1M810.9 156.2h1M832.5 123.5h1M833 165.4h1M824 163.5h1M822.2 169.6h1M823.8 113.9h1M827.2 133.1h1M811.5 162.4h1M843 142.4h1M810.7 154.8h1M814.2 166.3h1M832.5 99.4h1M848.1 129.5h1M844.2 148.7h1M817.5 113.3h1M841.7 131.5h1M825.5 109.7h1M809.1 151.9h1M824.1 139.2h1M817.2 164.3h1M825 159.2h1M846.5 124.4h1M824.5 151h1M825.3 143.2h1M830.9 128.7h1M842.9 91.2h1M825.8 140.4h1M803.1 132.2h1M811.9 179.1h1M824.1 166.3h1M841.9 129.1h1M824.3 114.1h1M835.4 149.3h1M828.5 132.8h1M820.8 176.6h1M808.9 122.5h1M838.4 99.1h1M822.5 171.4h1M840.1 169.9h1M847.4 94.3h1M844.1 172.3h1M811.2 137.8h1M842.6 127.3h1M836.7 116.6h1M848.5 146.8h1M820.8 87.1h1M848 167.4h1M804.7 104.6h1M809.3 145.1h1M822 143.3h1M807.2 179.2h1M806.5 151.2h1M837.6 134.6h1M845.8 98.7h1M816.8 131.9h1M831.4 107.3h1M813.8 110.4h1M820.6 107.8h1M827.7 161.5h1M847.6 176.1h1M809.7 170.5h1M812.7 119.1h1M828.3 180.7h1M812.5 147.6h1M847.2 124.3h1M832.5 154.6h1M807.7 114.4h1M834.5 136.3h1M833.8 160.6h1M830.6 167.9h1M819.4 159.5h1M819.9 135.4h1M804.5 136.1h1M822 95h1M840.7 158.5h1M819.1 138.6h1M842 147h1M828.8 155h1M823.5 135.9h1M842 180.9h1M813.1 180.5h1M827.4 170h1M815.3 144.4h1M828.1 124.2h1M807.7 96.7h1M814.3 115.2h1M819.3 137.2h1M845.9 143.5h1M838.3 103.8h1M830.7 146.7h1M848.2 136.6h1M805.4 167.8h1M805.6 121.1h1M838.3 89.6h1M846.1 169.6h1M823.6 135.1h1M835.7 98.7h1M806.6 158.4h1M807.5 143.4h1M818.4 159h1M846.2 154.5h1M820.7 94.5h1M843.5 140.7h1M821.5 103.8h1M806.9 157.2h1M831.4 134.3h1M836.2 177.1h1M808.2 106.5h1M827.5 152.9h1M823.3 138.2h1M813.7 165.2h1M819.9 92.8h1M833.5 161h1M807 146.1h1M845.4 164.3h1M823.7 138.9h1M803.6 176.1h1M847 176.1h1M806.4 157h1M816.7 170.4h1M809.6 164.1h1M831.3 105.3h1M817.2 169.5h1M843.7 128.5h1M828.5 175.7h1M842 145.8h1M811 147.1h1M845.1 122.9h1M804.1 119.9h1M819.4 125.1h1M803.7 135.6h1M838.4 167.1h1M834.2 157h1M803.9 170.9h1M839 129.7h1M846.1 141.7h1M846.4 154.6h1M840.5 156.8h1M848 126.4h1M834.1 145.2h1M807.2 164.5h1M831.3 144.3h1M805.5 181h1M821 138.5h1M821.4 140h1M808.1 145.1h1M845.1 147.1h1M810.1 149.8h1M847.6 157.6h1M838.8 126.9h1M837.3 144.7h1M808 112.6h1M832.2 115.1h1M838.4 128.4h1M831.6 140.3h1M830.1 131.8h1M836.2 166.1h1M830.5 145h1M829.3 113.6h1M813.4 130.2h1M809.3 108.9h1M816.3 162.9h1M829 145h1M839 168.5h1M835.5 134.7h1M807.3 164.8h1M805 148.8h1M819.5 160.2h1M803.5 173.9h1M817.7 122.9h1M842.1 153.1h1M822 98.1h1M835.5 112.4h1M839.5 122.3h1M836.4 107.7h1M817.4 175.8h1M814.3 162h1M837 104.2h1M827.3 113.1h1M842.9 173.1h1M843.9 149.2h1M828.9 126.7h1M837.4 163.9h1M817.7 167.1h1M812 118h1M822.5 141.7h1M839.6 120.2h1M840.7 104.4h1M817.2 143h1M834.8 149.4h1M819.9 117h1M822.4 162.9h1M815.6 158.7h1M840.1 97.2h1M847.4 165h1M841.6 161.8h1M818.3 104.2h1M818.1 124.7h1M832.6 150.2h1M824.7 107.3h1M837.1 153h1M843.3 173.8h1M839.9 125.5h1M816.7 177h1M839.6 120.9h1M842.2 176.5h1M820.7 119.4h1M832 171.7h1M827.2 101.5h1M847.3 164.7h1M831 164.5h1M817.1 104.1h1M806.8 156.5h1M833.4 173.7h1M837.2 99.3h1M836.6 135.3h1M812.5 165.7h1M836.5 168.9h1M821.3 165.4h1M823.2 86.5h1M828.5 119.7h1M818.9 172.3h1M845.1 145.8h1M835.1 140.1h1M847.3 175.5h1M844.3 144.1h1M834.1 167.4h1M846 175.8h1M836.3 179.8h1M827.4 125.4h1M839.4 88.4h1M832.2 170.3h1M813.3 154.9h1M832.4 158.8h1M831.8 148.8h1M817.7 138.7h1M810.5 172.3h1M817.4 105.9h1M808.3 154h1M818.3 151.8h1M828 138h1M815.2 161.8h1M834.8 111.2h1M840.7 164.1h1M841.7 133.5h1M820.5 131.9h1M845.2 146h1M826.1 104.4h1M809 107h1M816.4 171.1h1M813.8 101h1M836.8 127h1M823.8 155.7h1M846.1 106.8h1M818.5 152.2h1M808.1 160.5h1M826.7 158.7h1M818.2 174.6h1M813.4 140h1M843.7 169.2h1M823.6 171.5h1M847 130.8h1M818.3 160.9h1M808.6 137.1h1M841.4 151.4h1M823.1 148.6h1M845 172.4h1M842.6 152.1h1M829 103.3h1M842.4 153.1h1M837.1 132.9h1M846.8 170.8h1M833.8 139.6h1M811.8 144h1M803.9 144.2h1M837.2 101.9h1M809.5 146.4h1M848.1 98.4h1M825.6 163h1M835.3 143.1h1M835.4 176.5h1M832.7 129.5h1M817.8 96.1h1M815.6 103.8h1M831.1 169.5h1M834.9 99.9h1M846.4 96.7h1M834.3 129.8h1M811.4 161.4h1M805.5 150.4h1M825.3 95.7h1M841.1 133.3h1M807.6 131.9h1M837.5 136h1M818.5 121.2h1M823.8 138.9h1M808.1 162.7h1M813.2 119.5h1M835.8 94.4h1M822.2 166.1h1M814.5 151h1M844.2 144.8h1M810.3 121.9h1M809.8 176.6h1M820.3 152.9h1M817.4 110.7h1M847 151.3h1M810.6 164.4h1M818.1 164h1M825 153.1h1M812.8 110.2h1M835.7 123.2h1M810.7 176.2h1M846.8 131.7h1M808.2 160.4h1M818.5 139.7h1M809.7 86.6h1M811.9 128h1M833.4 88.1h1M829.1 135.5h1M806.1 136h1M829.5 141.8h1M837.5 123.2h1M816.7 149.9h1M843.1 127.9h1M818.3 95.8h1M837.8 128.8h1M808.3 126.1h1M847.9 154h1M829.7 87.2h1M804.1 132.3h1M846.6 98.6h1M837 156.3h1M825.7 100.3h1M837.3 141.4h1M823.1 133.8h1M842 127h1M808.2 152.7h1M806.6 163.9h1M803.3 179.9h1M815.6 119.1h1M825.8 122.2h1M822.9 138.4h1M812.6 157.3h1M846.3 145.9h1M817.9 124.5h1M837.8 105.2h1M813 124.1h1M839.2 168.4h1M808.2 117.1h1M804.4 163.1h1M807 106.7h1M829.1 144.2h1M807.5 96h1M811.8 113.5h1M826.6 132h1M823.3 142.1h1M803.5 151.7h1M805.1 140.9h1M835.9 89.3h1M829.5 145.8h1M841.9 152.8h1M823 163.4h1M830.5 137.7h1M825.2 147.6h1M820.3 86.6h1M836.2 127.1h1M839.1 147.8h1M809.5 127.1h1M817 105.3h1M824.3 175.7h1M837.7 99.2h1M848.2 166.3h1M827 105.9h1M804 117.5h1M821.7 139.9h1M813 165.6h1M847.1 111.4h1M843.8 153.1h1M815 155.7h1M837.8 163.7h1M826.5 128.4h1M818 100.7h1M843 122.6h1M807.1 163.2h1M806.9 100.8h1M820.1 132.5h1M832.1 162.8h1M824.8 174.6h1M828 89.8h1M847 170.3h1M839.6 161h1M811.2 109h1M815.9 126h1M844.7 130.2h1M816 173.4h1M808.8 94.5h1M830.4 142.6h1M839 157.8h1M804.1 134.4h1M816.8 144.8h1M817.3 144.5h1M804.8 142.5h1M826.2 152h1M823.4 113h1M813 103.9h1M844.8 165.5h1M839 140.9h1M829.3 121.5h1M843.3 88h1M807.6 176.4h1M824.1 144h1M834.3 176.2h1M822 98.4h1M813.3 141.9h1M838.4 169.8h1M809.6 139.7h1M844.3 147.9h1M833.8 121.2h1M836.1 116.9h1M834.9 177.8h1M817.2 87.7h1M847.6 130.8h1M826.6 131.9h1M804 160.4h1M838.3 130.2h1M828.8 147.5h1M813.8 128h1M813.1 136h1M847 120.7h1M829.2 139.6h1M844.2 113.8h1M815.6 122.2h1M827 175.9h1M809.6 139.7h1M842.5 157.9h1M807.4 131.3h1M847.4 94.4h1M812.9 126.4h1M809.5 148.9h1M825.8 129.7h1M816.7 124.8h1M807.3 150.7h1M808.5 174.9h1M831.3 114.8h1M812.2 176.6h1M841.3 163.9h1M813.9 135.6h1M822 108.8h1M807.9 122.4h1M805.3 89.1h1M817.6 140.5h1M807.2 122.4h1M830.9 172.7h1M807.5 167.8h1M838 157.5h1M813.6 155.5h1M818.4 131.3h1M829 133.4h1M809.6 151.6h1M840.3 145.7h1M829.1 125.4h1M826.1 121.8h1M813.2 179h1M823.8 121.6h1M844.3 134.3h1M841.7 121.2h1M803.2 172.8h1M809.5 159.9h1M844.1 137.5h1M813.6 141.1h1M819.9 103.2h1M848 161h1M831.6 155.3h1M821.3 165h1M833.1 162.2h1M830.1 165h1M840.1 170.8h1M830.5 101.9h1M805.8 171.8h1M828.2 134.1h1M817.8 122.5h1M841.5 136.9h1M804.9 120.7h1M826.9 92h1M815.7 154h1M841.8 179.7h1M829.9 113.7h1M838.2 143.3h1M843.1 179.9h1M836.6 148.1h1M826.9 135.9h1M845.5 174h1M826.2 137.6h1M825.8 128h1M822.8 124.1h1M822.5 132.4h1M831.5 137.8h1M804.5 102.8h1M811.1 167.6h1M804.6 110.6h1M811.5 152.1h1M818.3 145.5h1M810.7 132.5h1M833.3 105.6h1M823.2 121.2h1M808.7 142.1h1M839.1 149.7h1M828 131.8h1M807.4 114.4h1M804.4 150.9h1M808.8 105.2h1M826.2 136.5h1M815.7 141.4h1M824.5 149.2h1M835.2 143.9h1M838.1 151.3h1M829.3 138.4h1M847.7 121.4h1M818.3 125.7h1M826.6 173.8h1M846 127.5h1M819 151.1h1M838 166.4h1M839.8 171.3h1M807.1 133.4h1M811.9 111.9h1M840.4 112.5h1M835.5 134.9h1M847.1 99.6h1M844.2 164.4h1M821.3 156.8h1M830.3 97.5h1M844.1 110.9h1M826.7 158.4h1M824.3 155.7h1M822.9 141.3h1M804.5 154.2h1M815.1 120.4h1M846.1 179.6h1M817.9 156.3h1M818 163.7h1M840.8 149.3h1M805.7 93.5h1M824.1 160.7h1M813.1 178h1M804.1 130.6h1M845.7 164.4h1M841.9 114.8h1M830.2 137.6h1M825.7 141.5h1M812.7 139.3h1M846.8 149.8h1M815.2 129.4h1M823.4 97.2h1M840.9 105.5h1M846.9 118.8h1M803.8 123.7h1M831.8 138.7h1M808.1 114.1h1M811.4 98.6h1M843.1 139.2h1M825.5 138.5h1M825.9 152.3h1M843.6 180.6h1M803.1 133.7h1M815.3 150h1M840 127.9h1M830.6 126.2h1M809.8 171.8h1M834.9 121.7h1M820.7 141.9h1M848.4 164.8h1M805.8 103.1h1M848.1 116.4h1M829.1 102.6h1M817.7 151.6h1M846.5 139.9h1M810.5 137h1M821.7 165.5h1M833.4 170.1h1M840.3 128.9h1M806.6 171.1h1M821.6 173.1h1M814.3 141.5h1M827.5 144.4h1M814.4 168h1M833 180.9h1M836.3 161h1M842.8 178h1M830.8 174.8h1M812.7 112.3h1M832.6 96.9h1M847.6 143.8h1M817.9 129.5h1M831.8 180.2h1M808.7 141.1h1M839.5 174.4h1M804.7 140.3h1M803.6 146.7h1M817.5 174.6h1M806.1 155.5h1M840.2 128.1h1M810 134.3h1M828.2 178.8h1M822.2 154.6h1M818.4 108.7h1M816.2 141.7h1M813.6 105.9h1M831.8 138.2h1M812.6 162.8h1M830.2 138.4h1M804.5 169.6h1M828.4 160.7h1M828.1 172.3h1M836.9 166.3h1M826.6 129.4h1M812.1 104.1h1M806 139.5h1M810.4 111.6h1M822.2 121.2h1M830.3 98.6h1M819.8 115.4h1M821 173.4h1M816.7 91.1h1M820.5 133.5h1M812.3 120.6h1M845.6 103.7h1M824.7 144.1h1M840.7 92.9h1M831.8 174.1h1M830.9 175.3h1M836 117h1M836 127.7h1M828.1 142.9h1M830.4 163.6h1M811.8 171.3h1M809.5 104.7h1M835.7 166h1M819.2 162h1M836.9 146.6h1M830.5 147.6h1M836.1 124h1M842.5 136.8h1M820.3 176.5h1M823.2 128.4h1M836.6 154.7h1M810.5 165.8h1M823.7 101.2h1M833.7 173.1h1M843.7 107.5h1M841.7 102.9h1M830.3 159.3h1M829.9 109h1M804.8 141.3h1M843.1 172.5h1M803.6 117.2h1M804.8 137h1M845.9 117.8h1M835.1 163.1h1M807.4 160.5h1M824 150.8h1M844.8 144h1M841 151.5h1M804 111.3h1M821.9 130.8h1M822.7 152.5h1M818.1 147h1M830.8 147.1h1M846.5 162.9h1M823.1 141.5h1M814.2 128.1h1M847.1 156.8h1M811.4 165.5h1M827.8 176.9h1M806.4 120.4h1M803.4 159.8h1M835.9 132.6h1M818.5 99.6h1M818.3 102h1M813.4 144.7h1M826.2 149.2h1M836.9 127.8h1M846.9 150h1M840.7 157.5h1M807.4 155.2h1M812.9 144.4h1M821.9 93.4h1M833.8 179.5h1M835.5 162.3h1M804.2 155.1h1M847.2 147.2h1M842.1 148.6h1M811 106.7h1M822.2 177.9h1M847.2 174.6h1M844 90h1M824.8 115.9h1M839.1 88.2h1M831.6 129.5h1M817.8 143.3h1M835.7 131.9h1M845.7 177.6h1M813.2 158.5h1M811 107.2h1M816.3 145.3h1M837.1 125.8h1M826.8 173.6h1M813.5 156.3h1M809.8 137.8h1M822.6 167.4h1M830.3 129.9h1M838.4 92.1h1M843.2 118.8h1M827.9 127.4h1M820.4 159.1h1M845.8 151.7h1M826.4 117.8h1M822.9 175.2h1M810 147.2h1M822.8 148.8h1M828.1 118.1h1M838.4 158.3h1M832.7 116.5h1M820.4 103.4h1M844 154h1M829.3 117.7h1M824.2 152.3h1M837.4 89.1h1M810.6 174.8h1" stroke="#3f9a46" stroke-width="1.0" fill="none"/>
<path d="M810.6 111.3h1M805.5 157.1h1M830.5 131.4h1M813.2 153.4h1M811.3 157h1M827.9 162.6h1M834 142.9h1M819 133.5h1M805.5 178.2h1M833 113.9h1M819.4 131.9h1M833.2 139.7h1M844.4 149.3h1M838.9 148.6h1M804.5 123.7h1M838.4 150h1M826.6 95.9h1M828.5 143.3h1M822.3 152.4h1M846.2 142h1M819 155h1M805.7 111.5h1M831.3 164.4h1M811.7 135h1M808.3 156.2h1M842.9 163.7h1M828.2 130.1h1M832.9 176h1M807.7 156.1h1M824.2 132.7h1M822.2 123.4h1M827.5 129.5h1M828.1 129.6h1M807.6 113.6h1M839 152.9h1M829.5 148.5h1M807.2 161.6h1M828.5 180.9h1M813 152.4h1M811.2 167.6h1M823.7 92.9h1M831.1 147.2h1M837.4 131.1h1M809.3 147h1M819.8 110.7h1M845.8 101.9h1M840.9 169.8h1M806.4 169.4h1M848.5 123.3h1M805.3 153.9h1M808.9 139.2h1M843.2 166.9h1M842.7 112.6h1M843.1 125.2h1M836.4 147.6h1M848.3 161.4h1M838.7 169.3h1M823.2 146.3h1M807.9 157.7h1M824.7 113.4h1M823.6 97h1M823.2 137h1M839.8 116.8h1M808.5 159.1h1M838.6 149.9h1M803.3 164.6h1M819.1 178.4h1M814.4 154h1M839.6 104.5h1M813.4 166.5h1M803.3 131.3h1M808.7 114.1h1M805.5 164.6h1M846.5 106.1h1M835.4 159.2h1M844.2 138.4h1M810.9 158.4h1M810.6 103.4h1M816.6 179.9h1M809.3 94.5h1M815.9 162.5h1M814.9 140.9h1M824.3 170h1M820.3 111h1M806.8 133.3h1M808.6 142.1h1M835.1 103.2h1M829 168.8h1M804.5 149.7h1M845.7 136.9h1M822.9 164h1M819.1 155.3h1M830.2 114.8h1M827.5 160.1h1M830.9 140h1M813.4 174.5h1M815.9 152.3h1M812.1 119.1h1M821.5 166.6h1M848.5 144.8h1M817.1 129.8h1M842.8 173h1M847.7 142.3h1M831.7 168.7h1M827.3 140h1M845.1 137.6h1M839.5 145.6h1M810.1 136.3h1M821.4 139.4h1M843.3 144.7h1M806.5 150.3h1M846.3 92.8h1M804.7 145.6h1M816.2 153.4h1M823.1 180.1h1M846.2 147.7h1M844 139.6h1M847.8 150.5h1M848.3 138.3h1M803.8 166.2h1M836.7 151.4h1M846.8 126.3h1M819.9 153h1M830.5 153.9h1M814.1 92h1M839.3 103.7h1M812 109.5h1M833.6 144.8h1M828.4 122.9h1M822.3 159.2h1M832.9 112.1h1M846.4 166.2h1M845.3 92.7h1M835.2 139.1h1M842.3 165.7h1M831.3 151h1M806 179.4h1M813.9 151.8h1M822.5 120.6h1M808.6 157.8h1M804.6 150.8h1M848.1 159.5h1M838.4 151.7h1M820.6 147.6h1M842.9 152.5h1M838.9 163.5h1M814.1 86.7h1M847.5 169.1h1M831.2 147.7h1M815.2 155.6h1M819.4 100h1M810.5 180.5h1M810.9 166.4h1M841.2 127h1M824.7 173h1M825.6 146.3h1M805.2 107.5h1M836 113.3h1M810.5 108.5h1M818.4 168.9h1M804.3 129.5h1M830.5 157.9h1M826.5 123h1M809.4 167.7h1M837.2 149h1M828.5 180.6h1M839 130.7h1M832.9 140h1M841.4 136.3h1M822.7 165.8h1M823.5 126.9h1M816.9 176.6h1M817.7 173.1h1M821.4 167.2h1M815.9 88.9h1M805.5 131.7h1M811.4 166.8h1M841.8 162.5h1M817.8 149.9h1M816.2 97.4h1M847.1 168.8h1M825.1 154.1h1M831.5 107.8h1M814.4 142.7h1M831.7 150.5h1M840 168.4h1M839.5 91.4h1M815.4 126.7h1M845.1 158.5h1M813.1 133.8h1M834.7 156.9h1M838.5 154.1h1M828.8 146.6h1M831.9 179.5h1M833.3 150.8h1M821.5 87.5h1M813.9 128.4h1M811 170.4h1M835 150.1h1M836.5 170.8h1M818.3 143.5h1M816.9 145.2h1M819.1 137.6h1M839.7 150.2h1M822 151.5h1M838.2 160.8h1M823.8 131h1M839.9 164.5h1M822.1 121.9h1M848.5 149.2h1M812.2 161.3h1M847.5 167h1M826.8 170.5h1M822.4 133h1M845.5 169.4h1M837.1 139h1M823 168.6h1M809.8 144.3h1M818.9 160.7h1M813.2 161.4h1M805.3 167h1M812.4 153.9h1M822.5 168.8h1M824 133.2h1M819.3 179.4h1M848.3 159.8h1M836 167.2h1M848.1 127.6h1M848.1 151.2h1M809.9 164.1h1M843.7 135.1h1M814.7 172.8h1M827 141.3h1M823.8 174.3h1M838 145.1h1M844.5 164h1M808.1 134.6h1M830.4 160.5h1M828.6 158.8h1M830 170.5h1M822.6 130.4h1M841.6 152.1h1M835.1 113.9h1M809.3 148.3h1M844.2 173.6h1M846.5 154.6h1M834.2 120.8h1M807.7 111.1h1M844.7 148.1h1M844.6 146.7h1M807.3 140.8h1M846.4 143.6h1M814.7 154.9h1M807.4 134h1M842.8 169.3h1M835 159.1h1M825.3 161.3h1M805.9 128.1h1M840.4 114.5h1M840.4 97.6h1M824.4 126.3h1M818.2 144.5h1M833.4 151.2h1M843.6 149.5h1M830 132.5h1M815.7 96.3h1M808.3 98.8h1M835.7 152.1h1M816.5 156.4h1M820.1 144.5h1M832 86.6h1M808.3 148.1h1M813 163.2h1M813.4 152.5h1M845.2 96.5h1M832.3 143.9h1M815 158.2h1M811.7 136.5h1M820 179.9h1M817.6 176.1h1M821.8 132.7h1M814.4 162.5h1M824.7 132.7h1M842.3 118.9h1M821.6 102.1h1M804.9 149.6h1M811.9 160.2h1M831.9 92.9h1M818.7 125h1M829.2 103.7h1M812.9 88.9h1M832.7 142h1M823 104.9h1M813.4 142.9h1M819.2 157.1h1M808.6 107.3h1M830.6 147.7h1M812.6 88.4h1M808.7 140.9h1M833.8 144.4h1" stroke="#7cc07e" stroke-width="1.0" fill="none"/>
<path d="M828.1 70.7h1M843.5 63.6h1M820.1 71.1h1M807.7 65.6h1M828.5 69.2h1M806.7 74.3h1M824.4 66.5h1M830.8 48.3h1M838.8 70.8h1M837 66.7h1M805.4 70.5h1M841.6 54.2h1M826.2 66.2h1M817.3 71.7h1M818 59.6h1M836.7 79.4h1M809.5 52.6h1M822.3 79.5h1M818.3 48.9h1M811.5 68.4h1M827.1 63.3h1M830.4 59h1M805.1 76.9h1M810.3 64.7h1M834.3 77h1M835 59.1h1M842.3 73.7h1M834.7 54.8h1M845.7 57h1M807 64.4h1M811.4 76.9h1M814.5 56.7h1M825.8 80.1h1M817.8 74h1M840.2 71.3h1M813.8 75.1h1M812.7 49.2h1M835.8 67.9h1M831.8 59.5h1M845.3 63.8h1M839.5 77.5h1M817.8 70.7h1M814.5 58.3h1M808.1 50.1h1M803.9 74.4h1M845.9 58h1M833.9 65.5h1M821.8 69.3h1M834.8 64.5h1M817.6 70.7h1M837 61.2h1M820.8 78.3h1M828.9 52h1M837.3 72.2h1M823.2 68.8h1M839.9 76.9h1M846.1 78.5h1M842.7 78.1h1M808.8 65h1M846.1 55.8h1M839.4 75h1M836 49.1h1M831.2 60.2h1M822.8 53.3h1M817.8 61.6h1M839 77.3h1M817.5 69.9h1M828.3 71.7h1M828.7 61.6h1M805.8 53.5h1M828.3 57.8h1M805.2 61.9h1M811.9 61.9h1M811.3 59h1M807.9 64.6h1" stroke="#4a55b5" stroke-width="1.0" fill="none"/>
<text transform="translate(707.5,53.3) scale(0.76,1)" y="4.5" class="sa" font-size="13.7" fill="#3a3838">0.54%</text>
<text transform="translate(844,50) scale(0.93,1)" y="3.1" class="sa" font-size="9.3" text-anchor="end" fill="#3a3838">3.75%</text>
<text transform="translate(708,176.7) scale(0.78,1)" y="4.5" class="sa" font-size="13.7" fill="#3a3838">72.12%</text>
<text transform="translate(843,177) scale(0.9,1)" y="3.1" class="sa" font-size="9.3" text-anchor="end" fill="#3a3838">23.59%</text>
<rect x="883" y="44.5" width="142" height="139.5" fill="#fff" stroke="#4a4848" stroke-width="0.9"/>
<line x1="883" y1="85.7" x2="1025" y2="85.7" stroke="#4a4848" stroke-width="1"/>
<line x1="978.3" y1="44.5" x2="978.3" y2="184" stroke="#4a4848" stroke-width="1"/>
<text transform="translate(953,31)" y="5" class="seb" font-size="15" text-anchor="middle">M2-CM</text>
<text x="862.5" y="46.7" class="sa" font-size="10.3" fill="#3b3939">10<tspan dy="-3" font-size="7">3</tspan></text>
<text x="862.5" y="160.7" class="sa" font-size="10.3" fill="#3b3939">10<tspan dy="-3" font-size="7">2</tspan></text>
<text x="862.5" y="185.7" class="sa" font-size="10.3" fill="#3b3939">10<tspan dy="-3" font-size="7">1</tspan></text>
<text transform="translate(866,107) rotate(-90)" y="4.1" class="sa" font-size="12.5" text-anchor="middle" fill="#3b3939" textLength="56" lengthAdjust="spacingAndGlyphs">PI (Intensity)</text>
<text x="876" y="199.7" class="sa" font-size="10.3" fill="#3b3939">10<tspan dy="-3" font-size="7">1</tspan></text>
<text x="892.5" y="199.7" class="sa" font-size="10.3" fill="#3b3939">10<tspan dy="-3" font-size="7">2</tspan></text>
<text transform="translate(915,196.8)" y="3.6" class="sa" font-size="11" fill="#3b3939" textLength="95" lengthAdjust="spacingAndGlyphs">Annexin V-FITC (Intensity)</text>
<text x="1017.5" y="198.2" class="sa" font-size="10.3" fill="#3b3939">10<tspan dy="-3" font-size="7">3</tspan></text>
<ellipse cx="917" cy="150" rx="16" ry="12" fill="#7c2f80" opacity="0.3" filter="url(#bl3)" transform="rotate(-15 917 150)"/>
<path d="M949.5 147.2h1M899.9 139.8h1M912.1 140.6h1M933 159.1h1M922 157h1M909.9 147.5h1M930.5 156.6h1M925 151.6h1M914.1 161h1M916.1 144.2h1M928.7 142.2h1M912.3 144.5h1M929.5 138h1M934.8 158.6h1M942.4 134.3h1M914.9 154.3h1M899.7 139.1h1M923.3 132.9h1M894.6 173.8h1M905.4 150.9h1M921.2 156.1h1M896.7 135.4h1M914.2 172.4h1M914.5 158.8h1M918.4 137.3h1M916.5 163.7h1M894 142h1M911.7 137.8h1M929.3 161.2h1M930.7 133h1M900.2 137h1M921.5 131.6h1M916.1 157.3h1M915.4 137.2h1M942.7 133.3h1M927.2 128.1h1M910 149.8h1M929.9 108.1h1M923.2 136.9h1M909.9 154.9h1M926.7 155.9h1M919.2 150.1h1M913.2 154.2h1M941.5 141.4h1M896 146.1h1M926.4 135.5h1M905.5 160.1h1M913.3 147.4h1M931.7 153.8h1M923.3 129.3h1M921.1 140h1M917.6 141.4h1M926.3 165.2h1M949.1 125.8h1M936.5 148.7h1M937.5 149.4h1M944.7 151.6h1M929.7 147.2h1M942.9 153.8h1M903.2 132.8h1M931 129.2h1M915.4 173.2h1M922.1 147.9h1M943.9 152.4h1M921.8 133.8h1M919.9 103.1h1M896.5 162.4h1M916.2 158.4h1M915.7 145h1M914 149.3h1M930.5 147.3h1M928.1 146.9h1M932.2 134.9h1M896 148.9h1M919.1 143.6h1M949 155.1h1M921.3 153.8h1M944.4 155.8h1M955.7 123.4h1M955.6 146.1h1M899.9 125.3h1M934 148.2h1M918.6 151.8h1M896.2 151.8h1M932.1 140.1h1M913.5 160.8h1M925.1 152.4h1M926.9 159.3h1M934.3 149.5h1M925.5 134h1M896.5 162.2h1M948.7 145.5h1M931.2 146.7h1M918.8 134.2h1M930.5 146.5h1M918.1 154.6h1M924.1 170.6h1M928 143.1h1M923.1 162.4h1M935.2 141.3h1M930.2 146.7h1M942.9 131.8h1M940 134.1h1M927.5 164.8h1M911.3 159.4h1M905.4 151.9h1M924.4 143.3h1M941.1 145.8h1M918.1 130.1h1M913.8 152.6h1M902.4 147.9h1M930.1 162.2h1M907.6 141.9h1M916.3 139.4h1M910.2 143.7h1M911 138.2h1M896.3 166.6h1M909 129.4h1M902.4 150.4h1M914.4 132.7h1M933.3 134.1h1M901.5 171.5h1M918.9 128.2h1M897.4 144.3h1M900 161.7h1M916.4 139.2h1M928.6 147.4h1M910.9 150.7h1M915.6 154.9h1M901.9 174.4h1M918.5 125h1M906.1 145.1h1M896.5 144.8h1M931.2 143.5h1M923.4 167.8h1M904.4 150.1h1M951.8 136.9h1M924.8 133.7h1M914.4 146.9h1M889.4 163h1M910.9 157.4h1M934 146.1h1M910.1 157.4h1M902.9 145.3h1M938.7 150.2h1M906.5 157.1h1M926.1 159.3h1M911.3 164h1M920.3 122h1M900 153.7h1M932.5 127.2h1M918.1 150.6h1M901.1 157.1h1M940.2 143.9h1M910.1 143h1M923.7 157.4h1M927.8 138.5h1M916.3 140.6h1M895.1 161.5h1M919.8 145.4h1M920.8 136.4h1M924.2 158.8h1M901.1 145.7h1M904.3 156h1M922.3 152.4h1M933.1 141.3h1M912.2 141.6h1M918.5 160.5h1M891.3 154.3h1M912.3 168h1M894.8 155h1M915.4 141.3h1M917.9 146.5h1M893.7 172.5h1M926.6 177.9h1M937.8 156.5h1M901.7 137.6h1M899.7 136h1M918.3 143.1h1M894.5 175.8h1M904.4 157h1M910.5 121.7h1M915.5 134.2h1M911.9 152.4h1M932.5 140.1h1M935.9 141.8h1M909.7 140.7h1M913.5 143.1h1M923.6 162.6h1M896.9 126.8h1M937.5 140.7h1M906.4 150.6h1M918.6 142.5h1M932 145.1h1M923.3 170.8h1M938.1 132.6h1M910.6 160.2h1M934.3 148.1h1M918.4 146.1h1M908.6 149.4h1M916.9 167h1M923.1 154.9h1M933.5 151.1h1M896.1 129.9h1M933.2 156.4h1M907.6 165.6h1M926.4 125.6h1M910.7 160.2h1M937 152h1M916.1 141h1M911.4 137.1h1M914.7 130h1M934 161.2h1M898.3 141.2h1M915.6 143.8h1M908.6 137.4h1M932.7 149.3h1M918.4 147.8h1M947.8 135.3h1M911.4 144.1h1M941.4 150.9h1M899 170.4h1M954.2 141.5h1M942 127.1h1M907.1 137.1h1M913.1 147h1M912.3 156.4h1M939 153.5h1M910 171.3h1M907.8 155.6h1M904.2 148.1h1M916.8 166.6h1M908.4 157.3h1M920.4 172.1h1M911.6 151.7h1M917.7 141h1M929.1 150.1h1M918.4 154.6h1M909.7 165.9h1M923.4 157.9h1M930.3 138.5h1M950.1 166.2h1M910.1 153.9h1M917.3 162.8h1M938.4 142.6h1M931.7 147.6h1M919.5 139.6h1M919.4 141h1M911.2 155.2h1M903.6 151.3h1M910 137.2h1M913.5 160.4h1M890.5 167.6h1M900.4 180.4h1M925.7 156.3h1M910.2 143.6h1M907.3 145.1h1M925.1 171.7h1M907.1 172.8h1M895.8 154.8h1M907.3 168.8h1M941.3 150.8h1M920.7 139.9h1M917.7 152h1M925 137.5h1M924.5 163.8h1M931.6 157.3h1M914.8 148.5h1M957.6 144.6h1M905.8 143.5h1M890.3 158.8h1M901.8 152.6h1M918.3 163.1h1M904 163h1M908.6 152.5h1M913.7 146.6h1M919.6 126.1h1M917.6 138.6h1M937.4 157.4h1M928.4 131h1M919 145.4h1M890.9 165.4h1M932.8 141.9h1M927.5 135.4h1M928.3 132.5h1M922.8 150.9h1M930.3 136.7h1M921.5 129.2h1M923 127h1M906 155.9h1M894.7 161.7h1M904.6 158.6h1M902.7 165.4h1M943.1 142.8h1M924.3 144.6h1M889.5 123.8h1M936.5 147.6h1M907.3 161.6h1M937 164.5h1M898.9 139.5h1M932.4 141.1h1M924.6 146.9h1M937.7 155.6h1M904.3 162.3h1M925.2 142.8h1M911.4 152.1h1M926.2 135.8h1M916 146.7h1M899 162.7h1M932.6 165.8h1M898.1 158h1M915.9 157.4h1M917.1 160.6h1M931.3 145.1h1M931 147.8h1M940.3 138h1M914.7 141.2h1M916.7 168.6h1M886.4 164.4h1M914.3 144.7h1M920.8 146.4h1M891.1 177.5h1M916 149.6h1M907.8 161.2h1M892.7 146.9h1M919.1 149h1M932.8 150.4h1M940.8 145.7h1M914.9 176.9h1M933.3 140.9h1M920.8 127.3h1M916.7 165.9h1M914.5 142.2h1M917.3 144.2h1M911 163.6h1M912.5 157.5h1M915.9 149h1M926.1 144.5h1M917.9 135.8h1M900.8 153h1M916.8 140.7h1M903.8 144.5h1M919.8 142.9h1M897.6 160.3h1M931.9 136.4h1M934.2 129.6h1M930 155.7h1M908 151.1h1M917.6 146.5h1M928.6 141.8h1M931.7 154.4h1M939.9 145.8h1M918.4 149.2h1M920.2 141.3h1M920.7 158.2h1M934.1 159.9h1M909.7 142.9h1M920.3 150.6h1M914 155.3h1M913.7 139.1h1M907.1 142.4h1M924.1 148.1h1M942.3 149.5h1M926.9 174.5h1M934.4 136.1h1M900.9 156.1h1M920.5 155.8h1M921 140h1M909.6 145h1M927.1 152.4h1M935.4 158.1h1M918.1 159.7h1M923.4 126.6h1M891.5 147.8h1M917.2 136.8h1M906.7 162.1h1M907.6 169.5h1M920.8 163h1M921.1 146.5h1M914.7 163.7h1M922.2 159.2h1M914 153.9h1M925.3 138.5h1M923 126.3h1M939.5 166h1M922.3 167.5h1M900.4 153h1M919.1 152.6h1M915.5 129.7h1M907.3 138.3h1M948 153.1h1M918.4 131.4h1M904.5 134.5h1M924.6 139h1M927.6 124.2h1M913.1 144.5h1M906.2 152.2h1M906.5 143.9h1M895.7 173.8h1M941.5 134.6h1M933.9 135.7h1M951.1 134.4h1M932.3 149.3h1M912.5 148.7h1M913 143.1h1M932 148.5h1M928.9 149.1h1M910.7 141.2h1M920.6 133.7h1M912.4 124.7h1M912.8 136.4h1M902.7 136.8h1M911.8 165.1h1M919 135.5h1M895.6 143.3h1M938.9 146.1h1M929 154.7h1M925.9 144.3h1M901.8 154.1h1M916.4 136h1M937.8 141h1M909.1 142.9h1M936.4 140.5h1M902.8 147h1M911 148.1h1M935.6 127.1h1M906.6 161.5h1M919.2 142.6h1M913.1 136h1M919.5 156.4h1M928 137.6h1M919.8 146.6h1M915.2 148.9h1M905.1 142.6h1M906.7 163.9h1M922.1 119.7h1M932.3 135.1h1M907.6 159.1h1M926.8 150.1h1M917.5 139.8h1M908.4 125.8h1M920.7 165.6h1M912 149h1M924.6 168.4h1M913.7 152.6h1M925.2 161.7h1M931.9 134.7h1M904.6 148.3h1M890.7 160.6h1M913.6 130.2h1M931.3 145.4h1M921.8 159.1h1M915.8 147.1h1M936.9 154.4h1M916.2 145.6h1M906.9 158.8h1M910.1 150.1h1M924.5 142.6h1M923.1 131.7h1M926.9 145.5h1M945.3 148.2h1M930.2 146.8h1M894.7 141.7h1M937.2 162.1h1M925.6 148h1M946.3 132.3h1M927.4 165.7h1M923.8 144.6h1M913.7 149.7h1M942.4 138.6h1M927 135.4h1M933.4 152.8h1M912.9 159.6h1M920.5 129.2h1M907.2 152.5h1M924.5 156.5h1M891.1 146.9h1M898.1 175.6h1M938.5 141.3h1M933.4 120.8h1M910.4 160.8h1M927.2 154.8h1M906.9 136.2h1M929.6 120.2h1M942.4 148.7h1M898.5 156.4h1M901.9 161.4h1M910.6 179.3h1M944 149.7h1M933.1 141.3h1M896.7 152.6h1M912 142.3h1M902.4 148.4h1M941.8 132.8h1M912 147.6h1M945 131.4h1M930 137.9h1M946.6 132.8h1M909.9 136.9h1M896.6 168.9h1M932.5 149.4h1M913 146.4h1M930.2 137.7h1M921.6 138.3h1M911.1 157h1M900.4 157.7h1M934.9 134.1h1M934.4 124.5h1M926.3 147.4h1M919.1 151.3h1M925.4 152.1h1M924.4 128.9h1M908.1 130.8h1M909 164.5h1M936.1 139.5h1M923.4 156.4h1M889.5 146.3h1M915.7 134.1h1M916.7 134.4h1M910.1 141.2h1M910.4 148.4h1M898.4 162.8h1M932 154.7h1M903.6 154.5h1M904.4 144.9h1M906.4 148.3h1M913.8 145.5h1M931.6 158.5h1M901.3 173.3h1M918.9 143.4h1M903 170.1h1M936.2 146.2h1M922.9 137.7h1M918.2 146.3h1M911.2 165.4h1M900.2 137.9h1M929.3 142.1h1M907.7 153.9h1M921 147h1M914.3 137.7h1M920 148.6h1M912.8 144.9h1M913.3 131.1h1M894.7 159.8h1M916.4 155.7h1M921.9 148.8h1M935.9 118.5h1M922.9 142.7h1M947.3 150.6h1M906.8 145.1h1M936.7 148.8h1M903 148.9h1M919.8 145.8h1M888.2 149.1h1M920.1 145.4h1M950.9 127.2h1M897.6 127.1h1M898 145.9h1M918.7 158.1h1M909.3 157.5h1M936.2 134.7h1M959.7 143.2h1M914.8 129.3h1M926.1 134.4h1M904 161.3h1M929.7 121.3h1M931.9 123h1M923.6 150.7h1M922.7 133.2h1M932 136h1M926.3 138h1M932.2 140.5h1M919.3 150.4h1M903.3 144.9h1M908.1 137.6h1M925.6 151.4h1M904.7 146h1M946.8 136.6h1M914.7 154.2h1M905.6 172.3h1M943.3 138h1M898.4 139.5h1M913.6 130.4h1M917.6 162.4h1M939.8 142.5h1M917.5 150.8h1M933.8 133h1M925.5 128.7h1M941.8 120h1M925.3 126.7h1M934.2 130.3h1M936.4 171.5h1M909.4 149.9h1M919.5 160.2h1M914.1 137.9h1M913.1 136.2h1M911.6 146.6h1M919.7 139h1M946.3 152.8h1M913.5 120.9h1M906.1 165.9h1M911.9 161.4h1M922.3 128.9h1M926.8 125.8h1M922 158.7h1M920.8 151.6h1M933.4 154.9h1M918.5 145.5h1M904.6 140.2h1M938 137.8h1M916.9 156.2h1M931.9 158.6h1M913.7 145.2h1M927.6 157.6h1M920 168.3h1M925 143.4h1M941 171.5h1M911.2 148.4h1M929 160.5h1M895 148.3h1M905.7 167.4h1M915.5 149.7h1M918.1 147.1h1M921.6 129.6h1M916.7 128.8h1M924.6 140.7h1M918.1 160.6h1M925.5 164.1h1M922 152.7h1M906 158.9h1M936 133.9h1M909.7 155.5h1M927.3 157.8h1M940 181.9h1M943.7 141.7h1M940.9 135.1h1M938.7 145.7h1M926.8 136.7h1M946.9 137.4h1M921.6 115.6h1M905.7 138.8h1M903.9 169.6h1M925.8 161.4h1M909.1 115.6h1M919.1 155.1h1M933.6 145.2h1M892.2 155.5h1M915.8 149.8h1M913.3 140.4h1M897.9 143.5h1M919 141.6h1M925.8 137.1h1M951.5 112.4h1M916.6 151.9h1M926 144.4h1M920.8 152.6h1M902.9 148h1M915.1 150h1M923.2 175.9h1M910.9 138.7h1M913.6 144.7h1M904.4 167.7h1M929.1 142.8h1M936.4 120.2h1M891.8 145.2h1M902.1 126.5h1M907.7 154.9h1M901.4 171.5h1M895.6 133h1M894.8 169.1h1M922.8 162.7h1M914 161.8h1M902.5 159.5h1M923.8 136.1h1M906 154.3h1M919.8 149.4h1M934.2 144.9h1M919.5 153.3h1M918.4 134.6h1M903.9 169.8h1M924.5 148.5h1M889.9 152.5h1M935.6 156.8h1M895.3 171.9h1M939.8 134.7h1M930.4 145.1h1M917.8 148.3h1M928.3 142.4h1M917.6 168.7h1M923.5 157.1h1M919.5 155.3h1M924.4 141.6h1M910.2 140.7h1M902 151.2h1M910.5 146.1h1M919 147h1M914 118.6h1M917.5 161h1M929.1 131h1M886.7 156.5h1M946.3 136.1h1M914.9 160.5h1M898.6 157.4h1M951 144h1M914.1 128.5h1M947.1 145.4h1M919.3 147.2h1M888.2 151.1h1M918.8 133.9h1M916.2 168h1M898.8 142h1M904.7 168.7h1M926 130.8h1M913.2 147.8h1M912.7 130.4h1M937.8 146.9h1M909.2 125.5h1M893.4 133.8h1M924.1 125.4h1M912.8 160.1h1M927.4 140.6h1M915.6 157.2h1M927.3 148h1M917.7 151.3h1M934.8 169.3h1M895.1 155.8h1M944.6 151.8h1M891.6 153.5h1M934.9 171.8h1M943.2 132.3h1M927.5 152.6h1M913.8 135.4h1M928.7 134.8h1M915.8 151.4h1M925.2 154.1h1M914.3 117.6h1M929.4 181.7h1M908.5 160.3h1M926 127.6h1M918.1 143.2h1M924.5 125.1h1M931.8 142.7h1M908.9 159.4h1M906.6 153h1M925.7 152.7h1M915.4 146.8h1M935.9 134h1M906.3 152.4h1M938.8 144.8h1M940.3 148.3h1M956.3 141.2h1M910 171.8h1M925.2 144.4h1M908.4 135.4h1M927.6 135.7h1M911.4 152h1M919.3 142.9h1M933.7 147h1M931.2 149.7h1M931.3 143h1M902.4 131.1h1M907.7 156.6h1M921.4 114.5h1M926.1 164.2h1M916.1 121.5h1M925.2 131.9h1M910.1 165.8h1M892.5 150.9h1M940.5 133.9h1M929.3 143.1h1M918.9 152.4h1M934.8 134.3h1M917.4 143.2h1M921.7 152.3h1M919.3 154.6h1M909.6 145.1h1M907.8 130.6h1M887.9 162.2h1M943.3 138.5h1M909.6 159.6h1M913.6 148.5h1M918.2 158.6h1M905.2 123.5h1M929 158.8h1M904.5 134h1M945.8 155.7h1M913.6 137.3h1M950.4 114.5h1M912.2 143.8h1M920.6 138.2h1M932.9 154.7h1M937.9 141.9h1M954.3 151.9h1M913.3 154h1M938.1 134.3h1M895.3 138.8h1M894.8 148.7h1M919.7 158h1M903.1 155.9h1M900 149.8h1M935.5 122.9h1M931.6 138h1M929.2 137.1h1M915.2 148.5h1M914.9 171.8h1M928.3 135.4h1M933.6 142.9h1M908.5 157.9h1M915.3 152.1h1M890 165.2h1M913.9 136.1h1M916.9 161.1h1M915.1 143.3h1M890.2 177.8h1M925.8 138.2h1M924.5 149.4h1M940.9 137.9h1M897 136.9h1M928.3 141.1h1M915.5 137.8h1M899.4 120h1M908.1 141.4h1M922.3 162.2h1M907.1 167.7h1M921.4 134.3h1M904.1 178.4h1M893.9 149h1M921.6 140.8h1M920.6 138.2h1M910.9 153.3h1M924.8 143.5h1M902.3 170.9h1M926.6 141.4h1M921.5 156.7h1M922.9 141.6h1M907.4 157.8h1M949.4 150.3h1M908.8 145.5h1M916.8 146.4h1M924 150.3h1M933.9 132.9h1M915.5 152.8h1M908.7 140.3h1M918.7 159.2h1M900.3 153.3h1M907.3 151.1h1M917.3 145.8h1M970.3 140h1M924.7 139.8h1M907.2 135.7h1M918.1 137.8h1M905.2 173.1h1M919.9 145.9h1M931.4 114.1h1M938.9 139.5h1M901.1 171.7h1M914.4 167.4h1M912.1 162h1M935.3 154h1M912 157.8h1M916.2 123.7h1M928 157.9h1M945.8 145.9h1M929.1 137.7h1M924.8 152.6h1M908.9 130h1M927.4 131.6h1M920.8 138.6h1M927.6 137.4h1M920.1 160.4h1M909.1 169.3h1M903.5 146h1M886.1 148.4h1M938.4 150h1M907.3 151.5h1M915.5 140.7h1M906.9 142.3h1M915.5 135.8h1M928.5 140.6h1M915.3 154.8h1M946.4 171.9h1M923.8 134.8h1M900.6 152.2h1M919.2 159.8h1M918.1 143.5h1M926.1 146.1h1M895.9 163.5h1M926.8 135.8h1M926.2 162.5h1M908.3 149.2h1M923.6 160h1M920.8 133.3h1M894 144.9h1M905.9 136.4h1M913.8 152.1h1M924.3 150.4h1M935.4 152.8h1M907.4 139.5h1M909.5 152.1h1M914.9 163.4h1M907.8 138.5h1M906.1 153h1M909.1 144.9h1M899.5 143.1h1M918.8 138h1M906.8 145.9h1M931 153.7h1M901.5 151.6h1M917.7 155.9h1M904.8 135.6h1M927.9 138.6h1M905.8 151.5h1M896.4 137.4h1M941 138.5h1M935.6 133.7h1M909.7 174.4h1M911.2 163.5h1M920.1 125.8h1M935.7 155.1h1M920.5 168.6h1M907.3 148.9h1M919.7 163.2h1M932.6 150.9h1M917.4 134.4h1M924.1 133.8h1M908.9 153h1M912.5 135.5h1M923.1 143.5h1M902.9 155h1M940.4 163.6h1M927.2 149.2h1M902.9 140.6h1M928.9 163.1h1M899.2 138.6h1M909.5 129.1h1M911.5 122.7h1M926.7 120.8h1M923.4 142.3h1M908.4 149.5h1M894 147.2h1M907.3 149.1h1M929.3 147h1M916 153.3h1M931.2 133.4h1M930.1 137.2h1M912.4 129h1M951.3 137.8h1M895.9 141h1M921.8 140h1M926.7 148.3h1M908 167.3h1M905.2 174.5h1M943 154.5h1M949.7 141.3h1M923.7 150.5h1M929.7 140.4h1M932.3 127.1h1M950.3 155.2h1M907 140.4h1M915 137.6h1M909.6 138.3h1M931.6 156.4h1M926 127.6h1M920.8 152.1h1M912 152.9h1M903.7 145.9h1M921.3 143.7h1M920.9 129.9h1M911.8 138.3h1M934.2 125.3h1M927.3 138.7h1M914.2 155.3h1M905.3 127.3h1M926.5 164h1M910.9 139.2h1M901.5 133.4h1M919.8 134.7h1M935.8 143.9h1M928 156.6h1M937.9 150.6h1M912.5 131h1M910.1 166.3h1M932.1 142.5h1M906.8 128.3h1M920.3 165h1M899.8 139.2h1M913.1 126.8h1M934.2 153.7h1M945.8 138.1h1M928.8 133.1h1M921.4 154.2h1M906.7 153h1M914.7 150.2h1M926.6 117.8h1M918.4 166.6h1M914.6 167.4h1M923 159.1h1M908.1 144.1h1M914.7 136.2h1M927.6 122h1M922.6 146.4h1M898.2 139.5h1M912.5 154.4h1M907.4 122.7h1M899.7 141.1h1M918.3 161.6h1M943.6 131.4h1M904.2 144.5h1M906.2 144.2h1M931.9 142.9h1M932.9 139h1M904.7 170.9h1M914.6 146.1h1M908.9 136.1h1M947.3 142.4h1M903.9 145.7h1M927.1 169.8h1M903.8 172.9h1M928.3 120h1M921.1 161.6h1M911.5 172h1M909.8 133.3h1M926.1 150h1M914.2 160.7h1M908.4 136.3h1M939.6 137.4h1M934.4 152.7h1M916 138.6h1M952.9 137.2h1M915.8 150.4h1M928.8 152.8h1M935.7 132.1h1M931.6 149.2h1M929.7 130.9h1M913.9 135.4h1M923.7 143.7h1M914.2 154.9h1M926.5 142.7h1M910 170.3h1M911 142.5h1M945.6 158.4h1M900.8 157.7h1M919.6 141.4h1M935.8 159.8h1M902.1 149.2h1M920.8 137.8h1M911 148.4h1M903.8 152h1M946.6 135.7h1M915 139.7h1M888.1 171.3h1M920.7 144.7h1M910 147.4h1M944.9 135.5h1M919.8 140.8h1M907.6 155.4h1M903.4 148.5h1M926.3 132.3h1M898.1 144.3h1M903.5 139.4h1M909.3 158.7h1M916.5 151.3h1M931.4 131h1M935.1 115.2h1M943.8 131.5h1M930.3 139.6h1M935.3 141.5h1M897.9 147h1M946.9 147h1M924.7 156.8h1M927.6 143.6h1M906.3 133.8h1M924.9 159h1M921.4 149.6h1M917.1 144.5h1M890.5 142.4h1M904.3 141.3h1M919.7 157h1M920.3 144.1h1M913.4 161.4h1M920.2 126.9h1M907 154.5h1M921.4 141.2h1M920 168.7h1M924.1 135.3h1M902.3 140.4h1M943.4 142.7h1M907.3 140.9h1M939.9 140.1h1M930.1 139.7h1M919 165.8h1M943.2 149.6h1M939.9 150.4h1M930.9 153.5h1M919.4 157.6h1M899.7 148.9h1M912 157.4h1M928.1 171.8h1M905.8 157.3h1M936.5 139.1h1M909.7 160.9h1M937.8 133.1h1M912.3 161.5h1M910.9 155.9h1M921.2 161.4h1M912.4 171.9h1M920.8 149.4h1M913.2 138.6h1M944.7 139.9h1M898.4 144.1h1M898.2 143.3h1M911.7 167.3h1M932 150.6h1M908.8 166.5h1M919.4 151.3h1M914.5 167.5h1M933.5 144.6h1M923.8 168.3h1M905.7 135.4h1M918.4 158.8h1M917.3 173.7h1M921.2 141.6h1M925.9 156.1h1M901.5 161.2h1M897.2 152.1h1M923.2 144.1h1M911 143.8h1M913.1 136.4h1M918.6 149.6h1M909.8 145.4h1M916.8 162.5h1M910.9 160h1M923.2 147.3h1M921.7 131.5h1M925.9 155.8h1M914.9 147.9h1M895.2 156.8h1M937.7 158h1M926 138.3h1M929.9 139.9h1M924.6 151.5h1M912.3 168.8h1M918.9 153.1h1M950.1 135.7h1M908.1 129.1h1M960.4 153.3h1M931.2 160.4h1M910.5 159.8h1M902.8 159.2h1M916.5 138.8h1M917.4 149.8h1M921.3 153.5h1M900 145.5h1M924.4 142h1M938.6 144.7h1M942.4 114.5h1M919.5 124.1h1M911.3 153.1h1M907.6 170.1h1M902.8 154.7h1M914.8 157.2h1M927 140.3h1M902 157.9h1M943.5 118.9h1M940.3 138.6h1M895 116.4h1M921.4 140.1h1M921.1 138.6h1M932.7 135.5h1M924.5 147.2h1M912.8 137.6h1M918.6 138.5h1M941.3 137.2h1M919 153.9h1M917.2 172.4h1M930.1 138.1h1M902 167.8h1M933.1 147.8h1M888.9 174.3h1M911.2 138.8h1M923.3 150.3h1M921.9 142.1h1M926.2 153.2h1M916.8 152h1M926.8 127.9h1M932.2 136.7h1M920 145.5h1M942.6 142.7h1M904 163.7h1M904.4 149.8h1M913.2 144.2h1M925 152.3h1M905.6 132.3h1M905.4 139h1M903.8 161.9h1M929.6 153.1h1M921.1 118.6h1M939.2 124.7h1M940.6 148.3h1M929.4 132.3h1M924 147.2h1M960.1 135.5h1M910.9 160.7h1M925.1 146.3h1M910.8 127.4h1M937.6 145.2h1M916.2 146.7h1M904.9 141.4h1M908 152.4h1M930.2 146h1M922.7 150.1h1M911.4 140.4h1M917 158.8h1M930.8 139h1M897.6 143.2h1M918 145.7h1M896.3 149.4h1M907.3 162.2h1M919.4 148h1M897.4 153.5h1M938.7 150.7h1M930.6 146.5h1M911.1 159.8h1M933.8 160.1h1M910.3 154.3h1M898.1 149.5h1M915.6 150.1h1M892.9 168.7h1M931.3 152.1h1M929.9 168.7h1M930.4 161.7h1M917.8 146.1h1M930.6 142.8h1M887.6 156.4h1M917.6 160h1M916.2 138.7h1M902.2 133.3h1M933.8 154h1M911.2 142.5h1M899.2 143.8h1M929.2 169.6h1M914.7 139.5h1M940.3 146.9h1M909.5 131.5h1M908.4 154.3h1M911.4 141.5h1M915.8 150.8h1M929.3 145.9h1M933.1 145.8h1M931.5 138.3h1M893 154.5h1M901.4 156.4h1M917 158.4h1M924.5 170h1M901.7 160h1M938.4 132.6h1M912.5 148.2h1M936.9 152.8h1M904.2 163.3h1M930.5 139.4h1M937.6 145.8h1M935 137.6h1M917.6 166h1M901.6 150.8h1M912.1 159.1h1M936 152.4h1M900.3 149.9h1M904.1 148.9h1M920.8 145.1h1M937.5 136.4h1M927.2 143.1h1M928.8 161.5h1M936.6 139.5h1M955.1 148.5h1M907.9 159.1h1M892.1 174.6h1M894.5 156.7h1M899.6 163h1M909.4 159h1M913.7 143.8h1M931.9 155.3h1M928.4 158.5h1M912 152.2h1M907.4 143h1M905.9 126h1M926.4 136.2h1M917 174.2h1M889.2 173.2h1M910.6 152.6h1M943.2 166.1h1M896.5 171.5h1M920.4 146.2h1M951.2 156.1h1M896 130.9h1M900.9 148.1h1M937.9 146.2h1M914.3 131.7h1M922.5 135.3h1M933.3 154.8h1M926.2 137.8h1M910.5 151.2h1M907.7 172.3h1M932.4 169.3h1M916.4 149.4h1M919.7 145.4h1M917.3 143.9h1M915.4 133h1M938.2 143.4h1M908.5 156.4h1M947.8 150.4h1M910.6 154.3h1M944.3 133.5h1M886.1 141.9h1M940.9 138.3h1M924.8 150.1h1M902.6 164.6h1M925 141.7h1M969.3 142.9h1M912.7 148.6h1M911.3 166.5h1M891.3 141.4h1M893.8 162.1h1M947.1 126.9h1M917.4 143h1M909.6 148.9h1M939 128.8h1M906.7 145.6h1M959.5 145.8h1M951.9 118.7h1M927.9 162.9h1M922.9 147.8h1M920.2 157.1h1M916.8 176.6h1M928.7 148.3h1M894.8 137.8h1M932.6 142.2h1M918.8 123.2h1M921.4 150.6h1M934.6 142h1M906.6 129h1M935.2 143h1M912.6 137.7h1M949.8 131.8h1M920.1 143.8h1M907.9 141.8h1M936.2 148.1h1M933.5 147.3h1M903.6 160.3h1M916.9 132.4h1M944 142.8h1M917.8 147.9h1M928 154.4h1M909.4 149.2h1M929 139.1h1M918.1 153.3h1M952 132.4h1M930.2 126.1h1M926 152.4h1M920.1 154.7h1M918.1 157.5h1M900.4 158h1M902.1 138.5h1M917.3 156.2h1M900.8 158.9h1M937.1 137.6h1M917.3 164.3h1M924.7 167.4h1M898 145.3h1M903.2 136.6h1M921.9 131.8h1M932.1 162.3h1M898.5 168.4h1M929.7 140h1M905.5 159.7h1M932.9 141h1M931.4 148.9h1M889.9 131.6h1M908.9 142.2h1M933.7 147.1h1M916.6 146h1M893.6 152h1M914.8 166.7h1M927 151.3h1M908.6 155.1h1M911.6 152.6h1M922.5 131.7h1M898.8 133.3h1M931.9 157.6h1M930.5 164.6h1M946.7 122.3h1M927.6 165.2h1M908.5 143h1M907.5 139.3h1M900.9 150.5h1M924.9 155.8h1M913 128.5h1M922.9 154.6h1M950.6 131.1h1M896.7 159.9h1M907.9 135.9h1M913.3 141.9h1M939.8 141.3h1M923.2 136h1M906.9 139.9h1M910 159.3h1M949.3 136.5h1M896.5 150.4h1M919.8 136.1h1M929.2 158h1M910.1 145.1h1M923.9 164.8h1M911.2 132.4h1M913.3 155.1h1M909.2 166.2h1M894.5 149.6h1M923.8 122.4h1M936.1 145h1M924 128.3h1M911.7 149.2h1M905.5 159.3h1M918.8 123.8h1M901.4 154.3h1M927.3 141.8h1M909.9 129h1M916.2 146h1M906.5 135.3h1M921.2 139.5h1M902.9 173.5h1M924 151.9h1M909 130.3h1M894.6 160.6h1M899.8 165.9h1M939.7 131.9h1M944.7 153.3h1M931.3 147.6h1M915.2 146h1M888.3 151.8h1M947.5 152.4h1M935.8 147.4h1M914.1 138.3h1M922.4 161.7h1M944.4 128.9h1M914.4 147.2h1M911.4 158.9h1M908.1 154.8h1M932.3 154.2h1M909.1 132h1M927.4 145.6h1M906.8 129.3h1M921 158.3h1M925.4 158.3h1M894.6 146.2h1M922.7 123.3h1M910.6 153.3h1M930.5 134.4h1M910 151.2h1M937.8 149.9h1M938 159.5h1M938.5 136.2h1M905.7 131.4h1M925.5 148.4h1M935.6 125.3h1M899.8 145.4h1M924 121.6h1M936.2 138.1h1M903.3 160.5h1M912.8 164.6h1M917.9 142.9h1M919.3 170.1h1M901.5 165.7h1M891.7 145h1M910.5 150.1h1M930.6 151.6h1M927.3 140.4h1M928.7 148.4h1M946.6 140.5h1M929.4 143.6h1M905.7 158.9h1M913.2 141.4h1M915.2 134.9h1M907.8 129.7h1M915.7 144h1M893.8 138.2h1M912.1 164.7h1M918.9 140.9h1M919.5 151.9h1M929.7 162.7h1M914 118.4h1M927.4 140.8h1M909 145.7h1M905.1 151.6h1M934.1 128.9h1M936.1 149.5h1M895.8 132h1M908 133.9h1M912.9 125.2h1M911.3 155.7h1M912.8 162h1M903.7 150h1M908.2 145.5h1M957.1 129.6h1M956.3 167.6h1M926.8 159.5h1M974.2 148.8h1M964.4 148.1h1M914.4 135.6h1M929.6 122.6h1M927.8 102.9h1M939.8 166.4h1M943.5 107.7h1M901.5 164.2h1M899.3 133.7h1M935.7 159.8h1M950.2 119.4h1M893.2 142.3h1M976.3 93.6h1M973.3 154.1h1M941.5 107.1h1M895 156.5h1M964.6 142.8h1M952.7 118.2h1M918.5 170.5h1M923.5 166.9h1M908.7 179.5h1M943.3 136.4h1M898.6 114.3h1M960.7 148.7h1M895.4 161.5h1M901.1 134.8h1M928.8 154h1M933.2 110.3h1M917.2 152.8h1M909.4 162h1M951.8 147.6h1M950.3 137.3h1M919.8 140.5h1M908.4 124.7h1M904.7 142.6h1M914.3 142.2h1M925.8 119.2h1M930.1 158.4h1M932.7 180.2h1M936.1 123.1h1M902.3 154.6h1M922.2 126.3h1M976.4 164.5h1M893.8 153.8h1M929.3 132.5h1M930.9 138.5h1M916.4 141.8h1M911.7 142.5h1M923.6 135.7h1M902.2 172h1M932.2 110.3h1M939.4 150.3h1M921.3 150.2h1M934.5 148.3h1M896.7 157.5h1M934.7 144.2h1M933.9 120.8h1M925.5 159.1h1M971 133.5h1M899.6 128.3h1M892.6 142.9h1M954.7 120.2h1M948.2 127.9h1M952.4 118.4h1M911.4 159.4h1M912.8 178.3h1M927.8 155.6h1M975.8 138.1h1M897.8 93.9h1M910.9 148.3h1M956 159.8h1M919.5 140.7h1M909.6 152h1M900.8 158.7h1M905.4 156.1h1M890.3 170h1M932.7 148.5h1M917.6 144.3h1M920.2 160.2h1M953.7 124.3h1M918.4 143.4h1M921.3 148.2h1M968 109.7h1M920.9 176.9h1M954.6 101.2h1M937.6 157.7h1M939.6 147h1M900.3 159.6h1M935.4 161.8h1M928.8 112h1M924.9 136.8h1M958 119.5h1M942.3 100.2h1M921.5 138h1M909.6 123.4h1M917.3 165.1h1M972.7 147.7h1M933.4 139.4h1M930.2 121.7h1M966.1 114.8h1M914.8 157.5h1M937 150.5h1M937 132.6h1M916.2 120.8h1M918.9 146.9h1M940.4 172.5h1M953.1 166.8h1M971.6 134h1M919.6 105h1M925.8 137.5h1M924.7 148.4h1M927.9 140h1M932.8 145.4h1M905.4 181h1M889.8 142.7h1M908.1 154.9h1M958.2 135.1h1M922.2 137.1h1M936.1 114.1h1M964.2 150.8h1M974.8 166.6h1M886.4 148.7h1M900.7 151.6h1M952.8 123.7h1M961.4 156.4h1M944.1 155.3h1M937.3 140.6h1M891.9 162.4h1M908.2 168.2h1M924.7 160.8h1M947.8 155.3h1M926.4 121.7h1M935.5 104.7h1M928.5 142.7h1M947.7 140.7h1M937.2 181.3h1M914.3 153.3h1M910.5 129.1h1M905.2 170.9h1M933.4 163.5h1M910.2 121.7h1M904.7 121.5h1M911.1 134.7h1M888.9 140.9h1M895.1 177.8h1M931 139.3h1M931.7 148.8h1M897.2 162.1h1M952.3 106.4h1M957.8 131.9h1M909.3 125.9h1M941.9 132.4h1M911.1 146.6h1M922.4 142.9h1M969.7 101.3h1M888.7 124.7h1M971.3 133.3h1M933.2 163.9h1M898.1 178.8h1M953.3 123h1M921.6 118.8h1M908.5 138.9h1M931.2 123.7h1M942.1 112.8h1M933.1 109.2h1M913.9 117.9h1M939.9 140.8h1M925.9 139.2h1M891.1 157.3h1M918.5 126.2h1M938.2 132.4h1M939.8 110.8h1M910.8 174.2h1M934.6 141.3h1M938.9 141.1h1M948.4 144.3h1M942 137.6h1M956.6 134.3h1M937.3 123.9h1M957.1 114.3h1M932 122.9h1M945.8 96.3h1M953.1 142.1h1M893.6 123.9h1M923.7 181h1M918.5 146h1M921.7 132.2h1M921.7 148.9h1M939.5 99.4h1M931 170.6h1M917.3 164.5h1M957.2 137.9h1M898.1 141.3h1M915.2 156.1h1M967.2 167.5h1M897.8 168.2h1M899.2 139.3h1M926.4 96.9h1M921.9 122.9h1M896.1 159.4h1M901 143.5h1M906.6 151.9h1M938.4 121.8h1M948.1 146.6h1M889.4 157h1M898.5 163.6h1M920.8 139.3h1M905.2 155.4h1M906.9 106.4h1M907.7 111h1M888.5 139h1M938.3 139.6h1M934.5 95.6h1M932.3 149.7h1M935.1 145.7h1M938.4 135.5h1M938.8 162.6h1M918 111.1h1M959.5 165.7h1M947.5 107.5h1M932.6 134.5h1M914 116.2h1M909.9 181.1h1M921.5 133.9h1M948.8 122h1M933.7 161h1M904.2 147.1h1M933 158.3h1M898.2 151.7h1M918.5 117.4h1M940.4 155.9h1M927.4 124.9h1M920.1 137.4h1M958 120h1M956.3 107.1h1M942 144.2h1M930.4 160.3h1M914.4 121.6h1M927.7 163.6h1M940.2 146.9h1M950.2 131.2h1M908.6 102h1M948.1 160.8h1M922.4 158.3h1M930.6 144h1M918.5 155.9h1M969 124.9h1M938.8 166.8h1M897.9 154h1M934 133.5h1M961.2 138.4h1M936.2 141.6h1M948 122h1M926.3 121.2h1M939.2 137.9h1M918.8 112.8h1M901.2 158h1M940.6 138.1h1M962.2 107.9h1M948.6 133.2h1M907 127.3h1M953.1 160.4h1M898.5 120.5h1M971.1 127.8h1M891.1 124h1M953.3 115.6h1M946.1 114.3h1M958.5 150.5h1M917.8 163.7h1M925.6 118.6h1M960.5 149.3h1M925.2 166.5h1M914.2 89.3h1M955.3 129h1M952.7 115.3h1M912.5 137h1M934.9 127.1h1M891.8 157.5h1M923.6 136.6h1M946.2 130.9h1M915.8 139.2h1M890.7 158.1h1M928.2 121.3h1M890 138.6h1M918.9 175.4h1M926.8 99.8h1M900.9 140.6h1M916 125.9h1M970.3 140.5h1M944 130.9h1M925.7 160.3h1M912.2 117.7h1M944.7 164.2h1M923.2 175.8h1M929.4 157h1M908.9 147h1M947.3 126.9h1M940.2 121.2h1M927.6 140.3h1M932.1 158.7h1M897.2 107.8h1M943.3 122.9h1M938 146.5h1M957.6 139.1h1M898.4 144.3h1M948.7 168.7h1M929.1 132h1M943.2 129.3h1M934.4 119.2h1M926.7 135.1h1M968.5 169.3h1M902.8 139.9h1M938.6 158.3h1M906.1 162.1h1M963.9 134h1M886.9 166.2h1M904.3 135.1h1M941.8 143.2h1M937.5 162.3h1M916.1 155.2h1M929.7 103h1M908.1 151.1h1M930.7 159.2h1M891.6 142.4h1M957.6 148h1M949 120.4h1M946.9 144.6h1M946.3 134.8h1M912.5 146.1h1M958.1 143.8h1M944.6 122.8h1M931.9 169.1h1M956.9 124.5h1M908 110h1M907.5 159.4h1M897 144.1h1M897 159.9h1M915.8 146.1h1M958.3 133.5h1M909.1 151.6h1M922 167.1h1M890.1 117.6h1M920.6 169h1M944.2 110.9h1M920.2 130.6h1M894.6 128.2h1M940.1 135.9h1M941.6 110.1h1M945.8 158.1h1M922.5 135.5h1M952.2 101.7h1M931.2 133.2h1M897.3 88.9h1M907.7 120.1h1M958.6 168.4h1M962.2 145.4h1M905.6 145.2h1M928.2 145h1M951.9 154.7h1M946.2 142.2h1M953.3 119.3h1M935.6 172.3h1M905.8 149.3h1M909.4 147.5h1M941.3 100.6h1M945.6 110.8h1M921.4 107.7h1M936.4 151.9h1M920.1 140.7h1M886.9 147.1h1M946.5 129.6h1M952.2 167h1M887.8 158.6h1M939.3 164.4h1M924.6 134.6h1M932.1 166.5h1M906.8 153.9h1M976.2 125.6h1M910.2 175.4h1M925.9 131h1M899.4 145.9h1M961.4 104.2h1M972.2 137.7h1M910.8 129.9h1M922 154.3h1M953.1 117.4h1M948.4 115.1h1M933.2 172h1M921.7 139.4h1M907.2 139.4h1M934.4 175h1M923.4 139.9h1M908.6 132.8h1M936.9 175.6h1M955.3 108h1M901.5 128.9h1M903 138.7h1M936 127.4h1M915.4 122.4h1M955.4 134.9h1M906.9 151.4h1M955 158.7h1M947.4 124.4h1M966.6 130.3h1M934.4 174h1M919.7 155.7h1M932.7 122.5h1M948.9 124.6h1M931.4 135.5h1M927.3 160.7h1M950.7 121.5h1M927.7 156.6h1M968.6 122h1M931.7 154.8h1M943.8 135.6h1M962.6 132.5h1M911.4 161.7h1M912.4 131.1h1M942 162.9h1M927.8 147.7h1M913.4 144.2h1M905.1 161.1h1M910.3 165.5h1M901 151h1M926.8 153.4h1M952.2 121.1h1M941.8 132.3h1M954.8 112.8h1M904.9 104.1h1M948.3 146.9h1M923.8 121.1h1M937.1 142.5h1M924.9 131.2h1M932 111.6h1M898.6 117.3h1M970.1 158.5h1M950.6 144.2h1M938.7 123.3h1M953.5 142.2h1M914.4 128.3h1M922.4 129.2h1M918.1 152.7h1M909.9 123.8h1M922.7 162.4h1M936.3 123.2h1M922.3 117.4h1M949.2 124h1M888.1 136.7h1M924.5 140.4h1M964.6 107.9h1M921.9 117.9h1M947.2 147.6h1M907.9 141.5h1M952.8 127.1h1M916.4 158.5h1M940 180.5h1M962.4 104h1M933 133.5h1M962.1 108.5h1M905.1 114.5h1M930 125.1h1M889.4 139.9h1M925.4 115.7h1M970.1 129.4h1M921.4 144.2h1M949 98.7h1M895.3 166.3h1M944.1 126.3h1M918.6 161.4h1M908.8 144.9h1M948.3 138.9h1M924.3 177.2h1M898 148.3h1M932.4 168.1h1M911 100.3h1M916.3 125.4h1M917.8 146.7h1M904.9 147.3h1M945 132.5h1M891 168.1h1M937.8 138.8h1M966 134.4h1M942.9 139.4h1M916.7 126.6h1M921.9 145.6h1M951.6 128.9h1M908.4 138.5h1M957.4 164.7h1M917.7 124.1h1M949.5 150.5h1M907.6 148.2h1M943.6 142h1M893 162.4h1M969.4 144.9h1M911.1 166.8h1M939.7 109.4h1M913.3 123.3h1M934.4 124h1M956.9 125.4h1M904.1 117.5h1M917.2 173.5h1M949.6 147.3h1M937.6 125h1M950 96.1h1M916.9 133.5h1M941 116h1M967.4 106.6h1M950.6 118h1M946.9 120.2h1M927.9 155.3h1M932.6 138.2h1M937.9 136.2h1M906.4 166.9h1M940.9 142h1M915.3 118h1M936.5 102.3h1M962 131.5h1M932.8 181.6h1M940.2 155.4h1M950.2 145.3h1M907.6 141.7h1M949.9 165.7h1M937.2 141.5h1M925.6 132.5h1M898.1 117.7h1M960.3 113.5h1M934.5 169.7h1M895.6 160h1M896.2 160.2h1M921.1 141.8h1M919.1 152h1M944.2 159.6h1M948.7 123.1h1M942.4 145.6h1M904.5 140.1h1M946.3 128.6h1M937.3 116.6h1M938.4 144.4h1M902.8 161.6h1M923.3 149.4h1M951.6 123.2h1M894.8 168.1h1M914 138.1h1M933.2 145.2h1M897.1 171.7h1M962.7 131h1M925.3 140.2h1M898.3 143.2h1M918.5 134h1M931.3 131.3h1M920.8 137.9h1M933.5 128.2h1M940.8 116.9h1M932.1 145.9h1M899 151.3h1M928.8 107.4h1M939.3 165h1M970.3 122.9h1M932.5 138.3h1M917.6 137.3h1M925.4 163.2h1M941.5 163.3h1M958.3 144.2h1M950 132.5h1M937.5 126h1M940.9 144.5h1M939.6 175h1M963.2 129.7h1M910.9 161.3h1M970.6 117.1h1M930 120.2h1M955.9 137.4h1M959.5 111.7h1M918.9 143.5h1M916.5 117.4h1M945.6 112.9h1M923.2 144.3h1M899.8 152.2h1M977 137.8h1M953.9 137.9h1M918.6 149.2h1M903.7 165.1h1M921.6 143.8h1M951.4 100.3h1M921 105.6h1M907.8 160.6h1M974.1 144.7h1M944.7 137.2h1M902.9 171.7h1M911 151.9h1M911.9 154.4h1M922.8 177h1M955.3 147.9h1M926.3 152.8h1M899.6 155.8h1M953.1 111.7h1M934.9 117.2h1M957.9 152.6h1M960.8 112.5h1M956.8 127h1M955.1 97.5h1M934.3 140.7h1M893.4 135.9h1M902.5 151.8h1M930.5 110.2h1M930 125.7h1M937.1 112.9h1M933.9 126.5h1M938.1 118.7h1M923.5 138.4h1M937.5 146.1h1M923.2 143.9h1M943.6 115.1h1M942.7 114.7h1M928.5 149.9h1M935.9 143.6h1M905 126.4h1M935.6 156.4h1M935.9 135.7h1M945.6 150.9h1M937 142.5h1M910.4 132h1M897.9 142h1M953.9 112.7h1M970 105h1M904.2 94.6h1M938.3 167.9h1M934.7 125.7h1M894.6 154.4h1M939.8 128.5h1M925.5 146h1M915.7 162.8h1M916 155.1h1M923.5 119.8h1M963.2 142.4h1M929.9 133.1h1M942.5 171.5h1M948.2 158.4h1M905.5 167.8h1M970.5 123h1M931.3 113.6h1M936 166.6h1M903.2 143.9h1M915.6 136.5h1M914.3 116.3h1M921.6 138.6h1M907.8 169.3h1M960.9 125.7h1M922.8 115h1M976.3 160.7h1M963.3 154.6h1M933.1 137.5h1M916.3 152.9h1M960 113.5h1M946.1 112.4h1M945.5 115.9h1M896.3 179.2h1M917.4 133.9h1M903.5 163.7h1M906.6 148.7h1M919.8 150.5h1M936.7 118.9h1M915.7 125.8h1M944.3 139h1M892.3 142.5h1M938.7 152h1M887.9 147.2h1M915.4 128h1M908 124.5h1M911.1 134.9h1M932.9 101.5h1M934.4 130.8h1M903.7 152h1M955.4 162.4h1M899 170.8h1M943.9 134.1h1M893.3 139.1h1M926.8 157.6h1M954.3 168.4h1M907.9 148.8h1M933.5 150.8h1M954.3 131.6h1M913.7 180.2h1M934.1 131h1M923.9 138.4h1M917 138.3h1M899.4 138.7h1M932.8 139.1h1M948.5 147.9h1M924.4 178.8h1M939.7 121.2h1M906.5 173.9h1M918.9 162.9h1M931.2 167.5h1M905.9 151.1h1M938.9 127.6h1M906.1 151.7h1M941.8 151.3h1M954.8 143.5h1M917.6 134.3h1M975.4 128.4h1M930.5 146.9h1M949.6 155.6h1M953.9 121.8h1M972.4 96.2h1M971.2 118.8h1M903.6 144.3h1M936.6 147.7h1M914.8 161h1M943.7 146.4h1M894.6 166.3h1M923.4 122.2h1M954.4 107.3h1M910.4 109.8h1M950.1 164.2h1M920.7 128.9h1M928.3 154.6h1M966.4 148.7h1M950.1 165.4h1M938.1 175.4h1M906.7 159.7h1M932.9 143h1M931.8 135h1M946.9 149h1M949.1 131.2h1M912.9 167.7h1M920.9 180.7h1M952.5 179h1M958.3 109.2h1M959.1 125.6h1M961.6 102h1M956.3 143h1M899.7 163.5h1M954.4 145.1h1M965.3 146.6h1M943.6 105.2h1M909.6 104.7h1M922.4 168.7h1M898.8 147.8h1M957.1 129.3h1M887.3 169.6h1M919.6 139.7h1M918.7 167.2h1M917.3 140.6h1M926 135.5h1M887.3 126.7h1M940.1 169.8h1M921.2 164.5h1M930.7 140.1h1M889.9 151.2h1M896.2 164.8h1M913.6 139.8h1M927.1 173.5h1M886.4 128.9h1M950.7 123.5h1M902.9 166.3h1M935.7 135.3h1M912.7 169h1M938.7 134.3h1M973.5 114.9h1M947.2 176.8h1M931.2 107.3h1M949.6 143.2h1M901.2 139h1M938.1 123.4h1M954 134.1h1M947.6 107.7h1M933.7 138.9h1M934.1 172.9h1M918.9 113.6h1M953.4 142.9h1M935.6 129.2h1M932.5 170.9h1M940.6 104.9h1M934.3 154.1h1M925.9 131.1h1M886.3 122.5h1M901.7 179.3h1M886.9 178.7h1M961.8 136.5h1M927.8 165h1M908.9 122.5h1M942.4 105.4h1M886.4 149h1M896.1 163.4h1M898.5 104.6h1M928.2 144.3h1M943.5 160.9h1M929.4 122.8h1M934.8 112.8h1M951.1 176h1M904.5 142.8h1M935.2 118h1M919 127.8h1M960.1 144.9h1M921.6 142.3h1M924.8 113.2h1M935.6 143.2h1M927.2 130.4h1M906.9 147.9h1M951.7 140.5h1M940.2 142.2h1M914.6 134.9h1M942.4 118.6h1M942.4 157.8h1M949.8 128.3h1M944.2 104.6h1M928 149.3h1M957.2 141.1h1M973.7 120.4h1M922.6 136.4h1M906.3 159.6h1M958.7 111.3h1M903.7 149.3h1M927.1 139.4h1M914.1 159.4h1M946 136.5h1M904.9 150.2h1M975.2 111h1M937.1 119.9h1M942.9 168.4h1M962.5 147.6h1M960.3 152.3h1M954.3 116.3h1M921.6 166.5h1M906.8 133h1M930.5 142h1M931.4 141h1M891.1 158.5h1M920.5 104.7h1M942.4 120h1M953 143.2h1M947.9 115.7h1M933.8 168.6h1M924.2 122.6h1M965.2 130.8h1M903.5 134.3h1M920.3 131.5h1M921.1 124.8h1M897.4 144.5h1M914.3 176.7h1M948.3 129.2h1M967.7 144.9h1M946.6 169.2h1M888.9 150.7h1M940.6 153.5h1M897.8 160.2h1M926.2 173.9h1M909.3 108.5h1M909.4 181.8h1M906.8 125h1M962.3 104.3h1M930.1 162.4h1M962.8 147.2h1M970.9 148.5h1M942 162.3h1M938.6 156h1M899.6 145.7h1M943.6 140.9h1M908.7 152.5h1M940.1 123.1h1M894.1 128h1M912.8 163.7h1M933.6 157.1h1M932.1 162.6h1M935 100.9h1M949.9 137h1M907.8 112.3h1M894.9 155.5h1M955.8 127.4h1M929.2 93.5h1M944 146.2h1M958.1 120.8h1M914.6 107.2h1M922.8 166.7h1M939.4 143.9h1M919.8 164.9h1M967.8 156.1h1M936.8 140.8h1M904.6 141.9h1M906.2 146.2h1M917.7 141.8h1M904.6 177.3h1M940.6 127.8h1M932.2 143.5h1M938.4 140.6h1M937.1 121.1h1M896.7 146.7h1M949.5 129h1M915.2 121.2h1M922.5 132.1h1M919.8 109h1M930.4 135.3h1M935.4 143.5h1M893.3 152.2h1M923.9 162.5h1M945.3 144.2h1" stroke="#8f4293" stroke-width="1.0" fill="none"/>
<path d="M919.5 154.1h1M935.1 159.9h1M931.9 149h1M928.7 150.2h1M915.7 149.4h1M913.8 141.2h1M917.5 157.2h1M900 165.1h1M909 149.1h1M926.6 149.5h1M910.1 155.8h1M913.4 137.6h1M921.7 166.4h1M889.7 154.7h1M940.5 154.7h1M902.3 169.8h1M917.6 146.5h1M891.6 141.2h1M913.9 152.2h1M922.9 141.3h1M928.1 148.7h1M931.5 148.1h1M926.3 153.8h1M923.2 158.5h1M906.9 155h1M890.1 155.9h1M909 160.6h1M912 149.7h1M908.1 141.6h1M898 156.4h1M914.8 152.6h1M920 161.2h1M923.7 143.9h1M902.3 153.3h1M908.8 150.7h1M924.9 147.2h1M905.2 156.6h1M905.1 160h1M924.1 155.8h1M922.7 146.6h1M903.2 157.4h1M913.7 158.1h1M909.8 154h1M912.4 162.5h1M911.8 154.6h1M918.1 138.6h1M916.2 151.6h1M923.9 158.4h1M910.4 149.6h1M897.2 156.1h1M924.6 151.4h1M937 136.5h1M917.3 154h1M907.5 149.3h1M909 149h1M920 143.2h1M924.4 149.6h1M913.9 152h1M918.8 148.8h1M932.3 146.5h1M924.4 154.2h1M916.4 145.2h1M907.9 154.4h1M904.4 150.5h1M899.2 151.2h1M906.8 173h1M913.9 162.8h1M911.5 151.2h1M916.4 154.4h1M920.2 157.3h1M911.4 154.4h1M919.4 152.5h1M905.1 152h1M916.1 159.3h1M902 157h1M904.3 160.7h1M921.8 140.3h1M913.5 146.8h1M931.7 152.5h1M903.4 146.9h1M915.8 142.1h1M908.1 146.2h1M923 139.6h1M932.9 140.1h1M904.2 156.6h1M906.3 156.7h1M927.8 136.7h1M891.3 161.3h1M911.8 157.8h1M926.1 162.2h1M914.2 137.5h1M913.6 159.6h1M907.7 148.3h1M911.6 144.7h1M920.8 142h1M910.9 153.6h1M920.5 151.3h1M914.6 150h1M926.4 141.8h1M917.5 144.5h1M913.4 151.3h1M916.1 135.6h1M918.8 152.6h1M927.3 143.8h1M904.9 155.2h1M916.9 150.5h1M914.5 150.4h1M907 153.8h1M914.5 152.2h1M924.4 149.4h1M931.2 145.6h1M923.5 142.8h1M920.3 143.3h1M932.7 136.1h1M910.1 174.8h1M895.4 140.5h1M915.9 157.1h1M929 144.4h1M912 161.8h1M913 158.3h1M921 150.2h1M914.7 139.5h1M910.5 149.1h1M901.4 147.7h1M924.5 148.4h1M917.3 135.1h1M923.9 149.5h1M932.8 137.4h1M910.4 163.4h1M936.3 154.6h1M905.5 166.1h1M924 156.7h1M913.4 153.2h1M942.7 134.3h1M927.4 147.6h1M905.1 159.2h1M927.6 148.4h1M920.5 149.6h1M917.4 149.8h1M931.3 163h1M908.1 148.9h1M922.6 151.7h1M920.7 158.4h1M928.9 150h1M909.8 152h1M921.2 130h1M910.7 151.2h1M910.6 147.3h1M908.1 144.7h1M927.9 145.3h1M914.3 144.1h1M930.3 160.3h1M917.8 138.6h1M905 143.8h1M930.6 152.2h1M913.5 156.4h1M913.8 136.4h1M924.9 139.4h1M904.9 145.6h1M918.9 159.5h1M924.7 151.9h1M917.5 145h1M901.4 148.2h1M916.3 154.4h1M915 152.4h1M913.4 156h1M934 137.4h1M910.9 148.3h1M915.5 154.8h1M924 153.5h1M908.5 138.9h1M913.2 152h1M930.1 146.1h1M912.2 143.4h1M907.2 161.5h1M906.7 140.9h1M928.8 148.9h1M919.2 159.2h1M916 141.6h1M916.5 138.8h1M920.4 156.1h1M888.6 158h1M900.3 151.1h1M932.2 144.2h1M901.2 151.5h1M927.6 160.8h1M898.8 146.7h1M898.8 152.9h1M910.9 168h1M935.6 141.7h1M922 140.1h1M904.3 139.9h1M924 153.3h1M907.4 160.8h1M931.1 143.4h1M909.6 147.5h1M908.1 152.4h1M916.4 157.6h1M926.4 142.9h1M924 156.9h1M931.3 150.9h1M908.5 156h1M911.5 145.5h1M917.1 145.4h1M937.4 148.2h1M914.6 135.9h1M906.5 154.5h1M918.8 163.9h1M923.7 154.8h1M914.8 154.8h1M922.3 142.3h1M920.6 149.6h1M920 145.4h1M916.9 145.6h1M913.8 157.5h1M921.5 152.7h1M924.1 162h1M925.4 146.7h1M929.5 149.6h1M921 129.4h1M903.2 154.9h1M913 160.5h1M906.8 153.7h1M919.5 159h1M908.6 147.5h1M916.9 148h1M915.2 150.1h1M907.4 161.6h1M924.9 151.3h1M927.5 143.3h1M906.6 165.4h1M916.3 143h1M913.9 153.1h1M917.3 148.1h1M927.3 149h1M914.9 140.1h1M932.7 145h1M906.9 154.6h1M925.8 156.3h1M922.8 139.7h1M901.9 147.6h1M912.6 138.5h1M903.7 139.4h1M908.7 151.1h1M912.3 151.2h1M923.6 154.2h1M907.9 155.8h1M920 133.3h1M912.3 152.9h1M916 143.7h1M906.8 138.9h1M915.5 154.7h1M919 139.8h1M929.6 144.7h1M901.4 163h1M911.6 148.4h1M911.8 148.6h1M930.5 157.9h1M898.6 159.8h1M898.8 143.6h1M930.6 143.1h1M911.8 140.6h1M911 162.6h1M925.6 144.6h1M916.2 153.4h1M908.9 145.7h1M907.4 145h1M916.3 145.2h1M917.4 150.2h1M920 153.6h1M932.7 145.1h1M911.6 150.7h1M918.4 154.5h1M927.4 131.1h1M913.2 157.9h1M912.4 144.6h1M915.5 161.6h1M909.3 157.9h1M933 156.1h1M925.7 154.4h1M913.4 142.2h1M911.2 157.3h1M904.5 155.8h1M927.5 143.2h1M910.2 149.3h1M919.7 158.8h1M927.1 146.1h1M923.1 147.1h1M915.6 155.7h1M909.6 163.6h1M917.8 140.3h1M927.1 140.4h1M917.1 139.3h1M915.1 149.3h1M914 142.1h1M906.8 147.3h1M929.2 141.3h1M896.1 154.2h1M911.6 163.8h1M934.2 142.2h1M923.6 136.6h1M904.4 160.8h1M929.8 143.5h1M900.4 154.6h1M920.3 144.5h1M923.6 147.7h1M921.4 133h1M914.1 150.7h1M903 150.8h1M918 137.1h1M915.5 148.2h1M900.9 152.9h1M938.2 143.9h1M919.1 145.3h1M905.5 153.8h1M907.3 161h1M907.5 144.7h1M904.2 139.2h1M916.6 153.2h1M926.8 145.1h1M925.9 142.2h1M927.4 146.3h1M924.7 140.8h1M911.4 160.7h1M907.7 137h1M918.8 158.5h1M931.1 151.8h1M911.3 152h1M920.8 140.1h1M912.1 154.6h1M918.4 156.9h1M903.7 154.8h1M911.2 153.9h1M925 159.3h1M919.4 162.9h1M908.6 144.4h1M938.3 140.4h1M906.1 145h1M900.7 138h1M920.6 162.4h1M916.3 160.5h1M907.6 152.8h1M916.1 154.7h1M923.1 159.5h1M924.5 138h1M914.2 157.1h1M909 157.6h1M933.4 157.7h1M893.6 154h1M909.4 160.1h1M914 156.9h1M915.1 170.6h1M909 158.6h1M919 154.8h1M927.9 151.2h1M930.2 145.8h1M919.9 149.2h1M905.6 148.5h1M928.1 149.9h1M924.3 137.3h1M922.5 138.5h1M907.1 153h1M919.9 155.6h1M901 150.3h1M897 163.3h1M909 150.2h1M924.2 143.3h1M896.6 157.1h1M928.5 142.8h1M920.7 163.1h1M924.9 142.4h1M926 153.1h1M912.3 154.2h1M924.3 154.6h1M922.3 142.4h1M934.6 144.1h1M913.9 144.8h1M920.8 156.7h1M905.2 146.8h1M917.6 159.8h1M936.7 153.6h1M932.4 143.5h1M912.2 147.4h1M913.1 148.6h1M910.6 168.7h1M908.6 143.6h1M924.5 152.1h1M928.3 142.3h1M907.3 146.8h1M922.3 144.8h1M914.7 158.7h1M905.2 161.3h1M907.5 159.1h1M907.8 153.7h1M904.7 164.9h1M918.8 142.2h1M902.8 156.5h1M923.2 159.7h1M930.8 159.4h1M891.9 161.4h1M935 152.2h1M915.5 143.7h1M910.7 140.3h1M930 143.2h1M920.8 146.4h1M921.4 145.7h1M914.5 155.2h1M929 142.6h1M910.1 157.8h1M916.4 134.2h1M899.1 154.9h1M920.4 155.4h1M921.2 156.6h1M917.4 149.3h1M912.8 154.1h1M904.9 154.5h1M908.7 155.2h1M906.6 143.2h1M903.5 146.9h1M930.8 157.8h1M901.7 162.3h1M907.9 150h1M912.1 155.9h1M921.5 136.6h1M907.1 161.4h1M920.6 150.5h1M912.2 162.9h1M937.1 133.8h1M936 143.8h1M920.9 156.3h1M928.5 147h1M918.2 157.9h1M928.4 142.7h1M910.8 153.5h1M912.7 133.2h1M919.6 140.7h1M920 157.8h1M908.5 161.3h1M931.1 163.9h1M906.9 162.1h1M920.4 160.5h1M913.4 160.5h1M904.4 157.1h1M919.4 149.9h1M905.7 148.1h1M915.7 144.8h1M919.9 142.9h1M921.1 162.3h1M932 146.6h1M922.3 152.6h1" stroke="#74257a" stroke-width="1.0" fill="none"/>
<path d="M950.4 81h1M950 82.6h1M974.1 77.4h1M958.9 83.4h1M971.5 75.6h1M956 75.8h1M956 82.2h1M946.8 70.2h1M961.6 73.6h1M938.5 76.7h1" stroke="#b08ab0" stroke-width="1.0" fill="none"/>
<path d="M986.7 161.5h1M986.6 101.4h1M1007.1 172.3h1M1008.2 149.7h1M987.5 142.1h1M985.7 170.1h1M1015.5 177.9h1M994.8 138.3h1M984.7 178.6h1M1022.5 119.3h1M995.2 175.3h1M1013.7 178.9h1M1000.2 138.9h1M982 163.8h1M995.8 97.4h1M995.1 141.9h1M989.8 116.7h1M1000.4 144.5h1M990.7 120.6h1M1013.4 160.7h1M1006.6 166.5h1M1018.5 171.5h1M991 121.4h1M1010 169.4h1M1012 154.6h1M981.6 105.3h1M981.1 166.9h1M1017.4 140.6h1M983.2 141.3h1M1010 138.4h1M997.7 166.3h1M986.5 144.6h1M989 160.1h1M1014.8 154.6h1M1006.2 179.6h1M995.6 158.3h1M994.3 176.3h1M1012 164.8h1M1019.9 130.6h1M992.9 113.6h1M996.9 126.2h1M1009.1 174.8h1M993.7 154.4h1M1017.1 142.6h1M990.1 129.4h1M992.1 161.6h1M1006.1 168.3h1M1001.6 112.8h1M1005.8 154.6h1M1017.4 128.2h1M989.4 131h1M986.2 179.6h1M1001.7 124.8h1M996.3 101.7h1M1013.2 112.4h1M981.4 116.7h1M984.9 164.7h1M993.1 99.7h1M1010 174.7h1M1006.2 157h1M980.5 155.7h1M980.3 152.1h1M1000.9 137.1h1M1006.6 154.9h1M992.4 111.2h1M1007.3 134.6h1M1007.2 155.9h1M984.3 98.5h1M1022.5 148.6h1M1020 149.7h1M981 115.6h1M1006.7 181.5h1M989.3 142.7h1M1013.6 171.3h1M980.8 155.6h1M987.3 120.7h1M1009.5 160.7h1M983.6 176.4h1M1018.7 175.8h1M1018.2 159.9h1M1017 164.6h1M1009.8 132.4h1M985.3 108.6h1M985 133.6h1M1014.8 149.8h1M986.3 139.8h1M989.4 169.7h1M995.1 171.6h1M1017.4 155.3h1M985 131.4h1M1004.7 171.7h1M980.6 178.5h1M1005.1 105.3h1M1016 109.2h1M985.6 148.9h1M990.4 149.3h1M1012.2 151.5h1M1003.8 126h1M998.5 158.5h1M991.8 152h1M1015.4 155.7h1M997.7 153.3h1M988.2 117.8h1M1001.4 105.9h1M980.6 170.7h1M1005.2 145.1h1M980.4 112.4h1M994.4 181.1h1M1020.2 171h1M981 115.6h1M1006.5 149.2h1M992.6 151.1h1M991.9 129.5h1M1015.2 122h1M1009.9 137.6h1M1023.4 165.8h1M1008.2 168.6h1M1013.9 148.9h1M994.2 117.8h1M986.7 125h1M1013.9 147.7h1M981.2 181.3h1M987.9 143.9h1M985.5 143.8h1M1005 128.9h1M1001.3 120.2h1M1009.1 167.6h1M997.1 161.3h1M982.2 147.9h1M1013 141.4h1M986.4 160.3h1M997.3 139.9h1M1023.3 118.3h1M981.9 129.9h1M1022.1 153.2h1M1013.2 156.1h1M981.2 151.8h1M1008.6 128.2h1M1021.1 110.7h1M1019 121.7h1M992.6 116.6h1M1002.5 137.9h1M1005.8 163.7h1M985.1 159.2h1M985.7 113.7h1M1014.9 152.9h1M986.6 144.3h1M984.4 145.3h1M1001.3 132.4h1M996.6 149.9h1M996.4 164.2h1M1012.1 140.4h1M1012 172.8h1M985.4 134.9h1M991.2 88.9h1M1000.9 139.3h1M985.3 171.1h1M989.7 114.2h1M1017.5 119.5h1M996.5 135.7h1M1001.5 119.8h1M1008.7 157.2h1M1007.3 173.3h1M1001.1 174.3h1M1001.2 88h1M983 136.9h1M997.8 110.6h1M1019.4 131.6h1M1015.7 153h1M1021.7 93.9h1M988.5 163.8h1M988.8 122.3h1M1009 144.9h1M1004.7 116.6h1M1009.4 103.3h1M985.7 118.1h1M1018.3 108.5h1M980.8 111.8h1M980.7 175h1M989.1 123.1h1M1015 97.8h1M986.1 132.2h1M986 145.3h1M1003.9 148.4h1M997.3 101.6h1M994.9 154.7h1M992.8 179.4h1M1018.9 132.2h1M997.9 141.2h1M1019.9 147.6h1M1011.3 136.9h1M1000.2 93.6h1M1017.9 137.4h1M1018.3 158.1h1M985.4 107.9h1M990.2 154.8h1M1019.7 133.1h1M983.8 158.9h1M982.2 113.7h1M999.5 164.6h1M1018.8 93.4h1M999.8 175.8h1M1004.5 175.2h1M1010.5 103.6h1M993 124.4h1M983.7 138.4h1M985.6 149.7h1M1011.7 106.2h1M994.6 169.7h1M1015.6 110.1h1M1005 137.1h1M1020.8 145.8h1M1019.2 166.6h1M980.9 181h1M1005.9 134.2h1M989.6 152.1h1M1022.8 160.6h1M1010.1 129.8h1M990.3 162.7h1M985 171.1h1M985.6 123.5h1M1012.1 147.3h1M1006.4 94h1M988.1 120.2h1M1009.9 125.9h1M991.9 140.8h1M1016.3 153h1M1006.6 160.6h1M1016.2 137.3h1M984.2 151.8h1M982.8 165.4h1M1015.6 103.6h1M998 116.2h1M986.7 117.3h1M996.3 155.2h1M987.8 112.2h1M1016 157.7h1M1020.9 171.2h1M997.4 148.4h1M1009.5 131.4h1M1019.9 117.8h1M1009.8 149h1M997.5 153.1h1M1013.4 142.7h1M1003.6 158.4h1M1009.6 147.3h1M1021.7 141.8h1M994.1 145.9h1M1011.6 146.5h1M1019.8 152.8h1M1019.5 128h1M989.9 106.8h1M989.7 125.8h1M989.5 151h1M990.7 177.2h1M1011.4 172.9h1M1004.9 96.7h1M1001.7 174.5h1M1021.5 152.4h1M1017.5 112.2h1M991.5 144h1M1021.8 166.3h1M1017.2 132.6h1M1016.9 169.8h1M988.2 95.1h1M1012 169.3h1M1022.3 181.9h1M980.8 180.4h1M994.8 173.9h1M1010.7 151.9h1M1013.4 178.3h1M1003.1 160.6h1M987.5 168h1M1017.4 171h1M990.8 121.5h1M1011.6 156.6h1M1013.1 161.1h1M981.9 138.9h1M998.8 138h1M1000.3 127.1h1M986.8 120.1h1M1001.3 116.8h1M1006.4 162.5h1M983.5 145.6h1M1007.9 111.1h1M1003.3 155.4h1M1009.4 168.8h1M1003.6 148h1M1006.1 142.4h1M997.5 144.6h1M1007.4 177.6h1M1006.2 110.6h1M988.6 146.1h1M1023.3 127h1M1007.2 169.8h1M997.3 160.8h1M986.5 140.2h1M992.7 130.1h1M983.5 127.5h1M1002.9 137.1h1M1012.7 89.4h1M1001.5 130.4h1M995.7 163.8h1M1002.9 145.7h1M987.4 115.6h1M1005.5 161.2h1M1020.2 131h1M992 92.4h1M1022 181.6h1M1018.3 155.3h1M980.8 95.5h1M1019.9 167.4h1M991 123.6h1M1018.5 173.8h1M990 154.2h1M980.7 99.4h1M1010.3 113.9h1M981.5 154.5h1M992.4 179.1h1M1013 174.4h1M1005.5 125.3h1M1004.4 120.2h1M995.3 143.4h1M1002.9 136.5h1M1018.9 103h1M1020.1 149.4h1M987.7 108h1M1017.9 129.3h1M1020.3 132.7h1M1000.9 159.1h1" stroke="#5aa55e" stroke-width="1.0" fill="none"/>
<path d="M999.9 70.4h1M996.5 82.8h1M998.8 80.4h1M1008.7 79h1M998.9 74.2h1M1010 77.1h1M986.7 81h1" stroke="#7a6aa5" stroke-width="1.0" fill="none"/>
<text transform="translate(885,54.5) scale(0.84,1)" y="4.3" class="sa" font-size="13" fill="#3a3838">0.17%</text>
<text transform="translate(1021,58) scale(0.8,1)" y="4.3" class="sa" font-size="13" text-anchor="end" fill="#3a3838">0.60%</text>
<text transform="translate(885,175.3) scale(0.83,1)" y="4.3" class="sa" font-size="13" fill="#3a3838">86.33%</text>
<text transform="translate(1019.7,175.3) scale(0.7,1)" y="4.3" class="sa" font-size="13" text-anchor="end" fill="#3a3838">12.87%</text>
<text transform="translate(28.5,612) rotate(-90)" y="10.7" class="se" font-size="32.5" text-anchor="middle" textLength="87" lengthAdjust="spacingAndGlyphs">Filipin</text>
<text transform="translate(133.3,474.5)" y="7.9" class="se" font-size="24" text-anchor="middle" textLength="33" lengthAdjust="spacingAndGlyphs">M1</text>
<text transform="translate(355.7,474.5)" y="7.9" class="se" font-size="24" text-anchor="middle" textLength="33" lengthAdjust="spacingAndGlyphs">M2</text>
<text transform="translate(567,474.5)" y="7.9" class="se" font-size="24" text-anchor="middle" textLength="88" lengthAdjust="spacingAndGlyphs">M1+Mel</text>
<text transform="translate(777,474.5)" y="7.9" class="se" font-size="24" text-anchor="middle" textLength="88" lengthAdjust="spacingAndGlyphs">M2+Mel</text>
<clipPath id="ci1"><rect x="49.8" y="491.8" width="196.2" height="233.4"/></clipPath>
<rect x="49.8" y="491.8" width="196.2" height="233.4" fill="#191412"/>
<g clip-path="url(#ci1)">
<g filter="url(#cf)">
<path d="M197 504.1Q197.9 507.3 199.9 512.5Q201.9 517.8 195.8 520.1Q189.8 522.5 184 519.9Q178.1 517.4 173.1 515.1Q168.2 512.9 169.5 508.7Q170.7 504.6 172.3 501.7Q173.9 498.8 177.4 496.9Q181 495.1 186.4 493.9Q191.8 492.7 194 496.8Q196.1 501 197 504.1Z" fill="#352a49" opacity="0.55"/>
<path d="M198.2 504Q202.7 507.7 196.8 509.8Q190.9 511.8 187.3 513Q183.7 514.1 180.3 512.3Q176.9 510.5 172.5 507.4Q168.2 504.4 172.2 501.4Q176.3 498.4 180.9 497.1Q185.5 495.8 189.6 498.1Q193.7 500.3 198.2 504Z" fill="#4e3e75"/>
<path d="M182 501.4L166.2 513.2L186.9 510.5Z" fill="#463766"/>
<path d="M183.4 500.9L162.6 509.3L185.5 511Z" fill="#463766"/>
<path d="M188.7 503L169.1 489.6L180.2 508.9Z" fill="#463766"/>
<path d="M85.1 528.3Q86 530.6 88.3 533.5Q90.6 536.4 87.8 538.4Q85 540.5 82.2 543Q79.5 545.5 77.1 542.5Q74.7 539.4 73.6 537.3Q72.5 535.2 70.1 532.2Q67.8 529.2 70.8 527.4Q73.9 525.5 76.6 524.7Q79.2 523.8 81.7 524.9Q84.2 526 85.1 528.3Z" fill="#322742" opacity="0.55"/>
<path d="M86.2 526.9Q88.6 529.7 88.8 533.7Q89 537.6 85.4 538.9Q81.8 540.2 79 539.6Q76.3 539 73.3 537.5Q70.3 535.9 71.4 532.7Q72.6 529.5 74.2 526.1Q75.9 522.7 79.8 523.3Q83.7 524 86.2 526.9Z" fill="#473869"/>
<path d="M75.8 534.9L87.8 547.5L82.8 530.8Z" fill="#40335c"/>
<path d="M79.6 528.8L62.2 531.7L79.1 536.9Z" fill="#40335c"/>
<path d="M75.7 534.6L85.6 546.5L83 531.2Z" fill="#40335c"/>
<path d="M90.2 552.3Q93.7 556.1 94.7 561Q95.7 566 94.6 571Q93.5 576 88.8 577.1Q84.1 578.3 79 579.4Q73.9 580.5 70.3 576.1Q66.6 571.7 65.7 566.4Q64.8 561.2 66.6 556.6Q68.5 552 72.8 550.4Q77.1 548.8 81.8 548.6Q86.6 548.5 90.2 552.3Z" fill="#392d50" opacity="0.55"/>
<path d="M87.2 556.2Q91.9 557.2 93.7 562.8Q95.5 568.4 90.6 570.4Q85.6 572.4 81.4 575.7Q77.2 579 73.8 574.3Q70.3 569.6 67.8 564.1Q65.3 558.7 68.8 553.9Q72.3 549.1 77.4 552.1Q82.5 555.2 87.2 556.2Z" fill="#554381"/>
<path d="M84.4 568L95.3 549.3L76.8 559.3Z" fill="#4c3c71"/>
<path d="M78.2 568.9L100.3 573.4L83 558.4Z" fill="#4c3c71"/>
<path d="M56.5 567.9Q55.3 569.9 54.9 572.8Q54.5 575.6 52.9 575Q51.3 574.4 50.3 573.9Q49.4 573.4 49.1 572Q48.9 570.6 48 568.6Q47.1 566.6 48.7 564.3Q50.3 562.1 52 562.4Q53.6 562.8 54.4 563.7Q55.2 564.6 56.5 565.3Q57.8 565.9 56.5 567.9Z" fill="#322742" opacity="0.55"/>
<path d="M56 568.4Q56.5 570.4 54.7 571.2Q52.9 571.9 51.5 573.3Q50 574.6 48.8 573.4Q47.7 572.3 48.5 569.9Q49.3 567.5 50.5 565.7Q51.7 563.8 53.4 563.1Q55.1 562.3 55.3 564.4Q55.5 566.4 56 568.4Z" fill="#473869"/>
<path d="M52.1 567.1L47 570.4L52.7 570.5Z" fill="#40335c"/>
<path d="M53.4 567.3L47.5 563.4L51.5 570.2Z" fill="#40335c"/>
<path d="M164.5 537.2Q166.5 539.1 166.4 542.3Q166.4 545.6 165.1 548.7Q163.9 551.8 161 552.8Q158.1 553.7 155.6 551.1Q153.2 548.6 152.6 545.2Q152 541.8 150.9 538.2Q149.8 534.6 152.6 533.7Q155.3 532.9 157.3 532.6Q159.3 532.3 160.9 533.8Q162.6 535.3 164.5 537.2Z" fill="#2c2338" opacity="0.55"/>
<path d="M164.8 536.2Q167.3 539 165.5 542Q163.6 545 162.2 547.8Q160.7 550.7 157.6 550.1Q154.4 549.5 153.2 545.7Q152 541.9 152.1 538.2Q152.3 534.6 154.9 533.9Q157.5 533.3 159.9 533.4Q162.3 533.5 164.8 536.2Z" fill="#3d3057"/>
<path d="M155.5 539.5L155.2 555.3L162.1 541.6Z" fill="#372c4d"/>
<path d="M155.4 540.4L158.3 560.2L162.3 540.7Z" fill="#372c4d"/>
<path d="M135.4 565.5Q133.5 568.3 132.9 570.9Q132.2 573.5 129.5 573.7Q126.9 573.9 123.7 574.5Q120.5 575.1 119.7 572Q119 568.9 120 566.6Q121.1 564.4 121.3 561.7Q121.4 559 124.1 559.2Q126.7 559.4 128.4 560.4Q130.1 561.5 133.7 562.1Q137.2 562.7 135.4 565.5Z" fill="#282032" opacity="0.55"/>
<path d="M135.2 565.5Q135.5 568.9 132.9 570.9Q130.2 572.8 127.2 573.6Q124.2 574.3 123.5 571.4Q122.7 568.4 120.5 566Q118.2 563.6 120.7 561.5Q123.2 559.4 126.2 558.9Q129.2 558.4 132 560.2Q134.8 562 135.2 565.5Z" fill="#362b4a"/>
<path d="M130.2 566.1L126.5 551.6L123.3 566.3Z" fill="#322742"/>
<path d="M125.5 569.4L139.5 571.4L128.1 563Z" fill="#322742"/>
<path d="M123.3 565.9L125.4 579.6L130.2 566.6Z" fill="#322742"/>
<path d="M192.1 573.5Q192.3 575.9 191.2 579.1Q190.2 582.4 188 581.8Q185.9 581.2 183.5 582.3Q181.1 583.4 180.8 580.4Q180.6 577.4 181.3 574.7Q182.1 572 183.4 570Q184.8 567.9 186.5 567Q188.2 566.2 190.8 565Q193.3 563.9 192.6 567.6Q191.9 571.2 192.1 573.5Z" fill="#322742" opacity="0.55"/>
<path d="M191.6 572.6Q190.9 575.4 189.5 577.2Q188.1 579.1 186.5 579.4Q184.9 579.7 182.8 579.2Q180.8 578.6 181.4 575.3Q182 572 183.7 569.3Q185.5 566.6 188.1 565.4Q190.6 564.3 191.4 567.1Q192.2 569.9 191.6 572.6Z" fill="#473869"/>
<path d="M187.3 576.4L197.9 572.3L186.8 571.4Z" fill="#40335c"/>
<path d="M153.8 594.2Q156.4 597 152.8 598.4Q149.2 599.8 147.4 602.2Q145.5 604.6 143.5 602.4Q141.5 600.1 137.5 599.9Q133.5 599.7 134.4 596Q135.4 592.3 137.8 590.6Q140.1 588.9 142 586.1Q143.9 583.3 147.5 583.3Q151.1 583.2 151.1 587.3Q151.1 591.4 153.8 594.2Z" fill="#352a49" opacity="0.55"/>
<path d="M153.5 592.9Q154.6 596.6 151.6 598.8Q148.6 600.9 145.7 601.8Q142.9 602.7 139.7 601.3Q136.6 599.9 136.6 596.3Q136.7 592.6 139.3 591.1Q141.8 589.5 144 588.6Q146.2 587.7 149.3 588.5Q152.3 589.3 153.5 592.9Z" fill="#4e3e75"/>
<path d="M142.2 597.2L155.9 605.1L147.3 591.6Z" fill="#463766"/>
<path d="M172.4 580.8Q172.5 584.5 174.7 588Q177 591.5 173.8 594.2Q170.7 596.9 166.9 596.8Q163.2 596.7 159.1 596.9Q155 597 152.5 593.7Q149.9 590.4 150.8 586.3Q151.8 582.3 154.4 579.3Q157 576.2 160.9 575.5Q164.9 574.8 168.6 575.9Q172.3 577 172.4 580.8Z" fill="#382d4f" opacity="0.55"/>
<path d="M170 582Q171.3 584.8 171.3 587.8Q171.2 590.8 168.5 592.2Q165.8 593.7 162.9 593.4Q160 593 157.8 591Q155.6 588.9 155.6 585.5Q155.5 582.1 158.6 580.2Q161.8 578.3 165.2 578.7Q168.7 579.1 170 582Z" fill="#53427f"/>
<path d="M166.9 590L177.9 574.8L161 583.4Z" fill="#4a3b6f"/>
<path d="M168.3 586.9L164.5 572.8L159.6 586.5Z" fill="#4a3b6f"/>
<path d="M194.6 608.4Q192.2 613.9 194.1 619.3Q196 624.8 191.4 624.3Q186.8 623.8 183.5 625.9Q180.2 628.1 177 625.4Q173.8 622.7 172.8 618Q171.8 613.3 173.1 608.5Q174.3 603.8 178 602.5Q181.6 601.1 185.4 599.2Q189.2 597.3 193.1 600.2Q196.9 603 194.6 608.4Z" fill="#352a49" opacity="0.55"/>
<path d="M192.5 610.2Q194.4 613.9 193.6 619.3Q192.8 624.7 188.4 626.3Q184 627.9 181.9 623.6Q179.7 619.2 176.9 616.3Q174.2 613.3 177 610.5Q179.9 607.6 182.4 604.2Q184.9 600.8 187.8 603.6Q190.6 606.4 192.5 610.2Z" fill="#4e3e75"/>
<path d="M188.2 616.4L194.1 597.5L180.8 610.9Z" fill="#463766"/>
<path d="M208.1 605.3Q208.2 610.3 209.7 615.6Q211.3 620.8 209 622.8Q206.6 624.8 204.2 626.4Q201.8 628 199.1 625.4Q196.3 622.9 195.5 617.5Q194.8 612.1 195.1 607.8Q195.5 603.5 196.2 598.4Q197 593.2 199.9 596.1Q202.8 598.9 205.4 599.6Q208 600.4 208.1 605.3Z" fill="#352a49" opacity="0.55"/>
<path d="M208.1 605.7Q210.4 610 208.5 613.7Q206.7 617.3 205.2 619.1Q203.7 620.8 201.2 621.2Q198.7 621.6 197.8 616.7Q196.9 611.8 197.3 608Q197.8 604.3 199 599.8Q200.3 595.3 203.1 598.3Q205.8 601.4 208.1 605.7Z" fill="#4e3e75"/>
<path d="M203 607.9L189.7 606.3L201.8 614.2Z" fill="#463766"/>
<path d="M228.7 634.8Q230.8 638.4 230 642.4Q229.2 646.4 223.9 648.2Q218.6 650 214.1 654.4Q209.6 658.7 206.3 655.1Q203 651.4 201.6 648.9Q200.2 646.4 199.2 643.3Q198.1 640.3 202.6 638.5Q207.2 636.7 210.8 635.6Q214.4 634.5 220.5 632.9Q226.6 631.2 228.7 634.8Z" fill="#392d50" opacity="0.55"/>
<path d="M220.3 638.7Q222.4 640.6 223.3 643.8Q224.1 647.1 219.9 650.7Q215.6 654.4 210.4 653Q205.1 651.7 200.8 649.5Q196.4 647.4 197.7 642.9Q199 638.4 204.9 637.3Q210.9 636.2 214.5 636.5Q218.2 636.9 220.3 638.7Z" fill="#554381"/>
<path d="M216.1 646.2L232.2 628.6L209.2 640Z" fill="#4c3c71"/>
<path d="M217.2 642.1L207 626.6L208.2 644.2Z" fill="#4c3c71"/>
<path d="M186.1 619.4Q188 621.3 188 623.9Q188 626.5 185.5 628Q183.1 629.4 181.7 630.9Q180.3 632.5 177.6 633.6Q174.9 634.7 173.3 632.8Q171.8 630.9 171.3 628.7Q170.8 626.4 172.6 624.5Q174.4 622.6 176.3 620.8Q178.1 618.9 181.1 618.1Q184.2 617.4 186.1 619.4Z" fill="#2c2338" opacity="0.55"/>
<path d="M184.1 621.9Q187.2 621.8 186.5 624.6Q185.8 627.5 184.3 629.9Q182.7 632.2 180.3 631.5Q177.8 630.8 176.3 630Q174.8 629.1 173.8 627.3Q172.8 625.4 174.3 622.9Q175.7 620.4 178.3 621.2Q180.9 622 184.1 621.9Z" fill="#3d3057"/>
<path d="M179 623.6L164.2 627.9L179.7 629.3Z" fill="#372c4d"/>
<path d="M176.7 627.6L183.8 634.8L182 625.3Z" fill="#372c4d"/>
<path d="M106 601.2Q107.7 603.9 110.1 606.9Q112.6 609.8 110.1 612.7Q107.7 615.5 104.6 615.8Q101.5 616.1 99.4 615.3Q97.2 614.5 92.7 614.9Q88.2 615.3 90.7 611.6Q93.1 607.8 93.3 605.4Q93.6 602.9 95.3 599.3Q97.1 595.7 100.7 597.1Q104.3 598.4 106 601.2Z" fill="#231b28" opacity="0.55"/>
<path d="M105.4 602.3Q109.2 603.1 109.4 607.1Q109.6 611.1 106.6 613.1Q103.7 615.1 100.6 616.1Q97.6 617.1 96 614.4Q94.3 611.8 94.1 609.4Q93.9 607 94.3 603.2Q94.6 599.5 98.1 600.5Q101.7 601.6 105.4 602.3Z" fill="#2c2338"/>
<path d="M96.2 606.8L93.4 622.4L103.5 610.2Z" fill="#292033"/>
<path d="M96 607.4L96.1 621.5L103.7 609.6Z" fill="#292033"/>
<path d="M101.4 612.3L116.3 601.8L98.3 604.8Z" fill="#292033"/>
<path d="M111.2 630.4Q110.8 632.8 110 635.1Q109.1 637.4 107.4 639.8Q105.7 642.2 102.8 643.3Q100 644.3 98.5 641.1Q97 638 98.8 634Q100.5 630.1 101.5 627Q102.5 623.9 104.8 620.5Q107.1 617.1 108.6 620.4Q110.2 623.6 110.9 625.8Q111.6 627.9 111.2 630.4Z" fill="#231b28" opacity="0.55"/>
<path d="M111.9 629.5Q111.5 633 110.2 636.4Q108.8 639.8 106.1 641.3Q103.3 642.8 101.3 640.5Q99.2 638.2 100.9 634.4Q102.5 630.6 103.5 628.2Q104.5 625.9 106.2 625.4Q108 624.9 110.1 625.4Q112.2 626 111.9 629.5Z" fill="#2c2338"/>
<path d="M105.2 634.3L116.9 638.5L107.3 628.9Z" fill="#292033"/>
<path d="M104 629.8L101 642.6L108.5 633.3Z" fill="#292033"/>
<path d="M103.7 632.9L111.5 648.6L108.8 630.3Z" fill="#292033"/>
<path d="M131.1 642.5Q130.9 647 133.7 651.4Q136.5 655.7 133.5 657.2Q130.5 658.7 128.1 662Q125.8 665.2 123.1 661.2Q120.4 657.3 117.9 654Q115.4 650.6 115.7 646.3Q116.1 641.9 117.5 638.1Q118.8 634.2 122 634.8Q125.3 635.4 128.3 636.7Q131.2 638 131.1 642.5Z" fill="#2e243c" opacity="0.55"/>
<path d="M129.7 643.6Q131 647 131.2 650.3Q131.3 653.7 129.2 654.4Q127.1 655 124.8 655.7Q122.5 656.3 119.7 653.3Q117 650.3 117.6 645.9Q118.3 641.5 120.9 640.5Q123.4 639.5 125.9 639.9Q128.5 640.3 129.7 643.6Z" fill="#40335d"/>
<path d="M123.8 645.2L114.6 657.2L127.2 651.3Z" fill="#3a2e52"/>
<path d="M86.8 655.7Q88 659.1 87.2 663.6Q86.3 668.2 82.2 668.5Q78.1 668.7 74.5 669Q71 669.3 66.9 667.2Q62.9 665.1 65.9 660.5Q68.9 655.9 68.1 651.1Q67.2 646.4 71.3 645.6Q75.3 644.8 78.4 646.1Q81.5 647.3 83.5 649.8Q85.5 652.2 86.8 655.7Z" fill="#2a2135" opacity="0.55"/>
<path d="M84.5 654.6Q84.1 658.5 83.7 663Q83.2 667.5 79.3 666.4Q75.4 665.4 71.1 665.4Q66.7 665.3 67.1 660.5Q67.6 655.7 69.9 652.9Q72.3 650.1 75.6 647.6Q78.8 645 81.8 647.9Q84.8 650.7 84.5 654.6Z" fill="#3a2e51"/>
<path d="M73.2 654.4L65.7 672.9L80.4 660.1Z" fill="#342947"/>
<path d="M78.6 661.5L93 649.2L74.9 653Z" fill="#342947"/>
<path d="M88.6 679.8Q90.7 682.7 90.7 686Q90.8 689.3 90.4 692.8Q90 696.4 86.7 696.2Q83.3 696.1 81.3 694.3Q79.2 692.4 77.1 691.1Q75.1 689.8 72.6 686.6Q70.1 683.3 73.5 682Q76.9 680.7 78.5 677.9Q80.1 675.1 83.3 676Q86.6 676.8 88.6 679.8Z" fill="#2c2338" opacity="0.55"/>
<path d="M85 682.7Q86.4 684.7 88 687.5Q89.6 690.3 87.2 691.7Q84.8 693.1 82.4 693.1Q80.1 693 78.3 691.1Q76.6 689.1 76.2 686.5Q75.8 683.9 76.9 681Q78 678.2 80.8 679.5Q83.6 680.8 85 682.7Z" fill="#3d3057"/>
<path d="M82.5 683.3L70.5 684.3L81.3 690.1Z" fill="#372c4d"/>
<path d="M157.3 674.5Q156.7 678.8 159 682.5Q161.3 686.3 157.5 687.9Q153.6 689.5 150.3 691.5Q146.9 693.4 144.3 690.6Q141.6 687.7 139.8 685Q138 682.3 137.8 678.8Q137.6 675.2 140.8 673.6Q144 671.9 147 670.2Q150 668.5 154 669.4Q157.9 670.3 157.3 674.5Z" fill="#271f30" opacity="0.55"/>
<path d="M154.4 675.8Q155 679.1 154.8 681.8Q154.6 684.4 152.2 685.4Q149.7 686.4 146.6 687.2Q143.4 687.9 142.7 684.7Q141.9 681.6 141.4 678.3Q140.8 675.1 144 674.2Q147.2 673.3 150.5 672.9Q153.8 672.5 154.4 675.8Z" fill="#342947"/>
<path d="M144.3 682L154.5 695.2L152.8 678.6Z" fill="#30263f"/>
<path d="M151 684.2L165.1 670.1L146.1 676.4Z" fill="#30263f"/>
<path d="M190.7 676.9Q192.8 680.9 192.1 685Q191.4 689.2 189.8 692.9Q188.1 696.7 184.3 694.5Q180.5 692.2 178.1 691.6Q175.8 691 172.9 689Q169.9 687 169.7 683Q169.4 679 171.4 675.5Q173.4 672 177.1 674.2Q180.8 676.4 184.7 674.7Q188.6 672.9 190.7 676.9Z" fill="#322742" opacity="0.55"/>
<path d="M187 679Q189.5 681.8 188.3 685.1Q187.1 688.5 185.1 691.1Q183.2 693.7 179.8 693.2Q176.4 692.7 174.8 689.4Q173.3 686.1 173 682.4Q172.6 678.8 175.5 677.2Q178.4 675.7 181.5 676Q184.5 676.2 187 679Z" fill="#473869"/>
<path d="M183.3 687.2L190.2 674.3L177.9 681.2Z" fill="#40335c"/>
<path d="M178.8 710.8Q179.9 713.3 178.9 715.8Q177.9 718.3 175.9 721.2Q174 724.2 169.3 724.2Q164.7 724.3 160.4 723.5Q156 722.7 153.9 719.9Q151.7 717.1 153.2 713.8Q154.7 710.6 158.7 708.9Q162.7 707.3 166.6 707Q170.5 706.8 174.1 707.6Q177.7 708.4 178.8 710.8Z" fill="#352a49" opacity="0.55"/>
<path d="M175.3 712.1Q177.8 713.6 177.2 716.4Q176.6 719.3 172.8 721.3Q168.9 723.4 164.6 722.4Q160.4 721.4 159.8 718.8Q159.2 716.1 159.4 713.5Q159.5 710.9 163.2 709.6Q166.9 708.3 169.8 709.4Q172.7 710.6 175.3 712.1Z" fill="#4e3e75"/>
<path d="M170.8 713.3L159.8 705.3L164.8 716.6Z" fill="#463766"/>
<path d="M65.1 670.3Q65.8 672.8 64.8 675.1Q63.8 677.4 62.2 678.9Q60.7 680.5 59 679.1Q57.4 677.6 56.2 676.8Q55.1 675.9 54.6 674.2Q54.1 672.5 54.9 671Q55.6 669.5 56.7 668.7Q57.7 667.9 59 667.6Q60.4 667.2 62.4 667.5Q64.4 667.8 65.1 670.3Z" fill="#251d2b" opacity="0.55"/>
<path d="M61.9 671.3Q62.6 672.7 62.7 675.2Q62.7 677.8 60.7 678Q58.7 678.2 56.6 678Q54.4 677.8 53.5 675.1Q52.7 672.5 53.9 670.2Q55.2 667.9 57.1 667.6Q59 667.4 60.1 668.6Q61.2 669.8 61.9 671.3Z" fill="#2f253e"/>
<path d="M56.6 672L57 680.9L61 673.2Z" fill="#2c2338"/>
<path d="M61.1 673.1L61 660.7L56.6 672.1Z" fill="#2c2338"/>
<path d="M87.6 721.6Q89.4 723.8 86.3 724Q83.3 724.2 81.5 724.2Q79.7 724.3 76.7 724.8Q73.8 725.3 71.4 723.2Q69.1 721 69.6 718.8Q70 716.6 71.8 715.3Q73.5 714 76.2 714.2Q78.8 714.4 81.8 714.6Q84.9 714.8 85.4 717.1Q85.9 719.4 87.6 721.6Z" fill="#251d2b" opacity="0.55"/>
<path d="M84 720.3Q83.9 721.7 83.7 723.8Q83.5 725.8 80.8 724.4Q78.2 723.1 75.5 722.3Q72.8 721.6 72.5 719.5Q72.2 717.4 74.5 717Q76.8 716.5 78.8 716.2Q80.9 715.9 82.5 717.4Q84.2 718.9 84 720.3Z" fill="#2f253e"/>
<path d="M81.6 720.4L81.3 712.3L77.1 719.7Z" fill="#2c2338"/>
<path d="M151.7 700.4Q152.2 702.9 152.3 705.7Q152.5 708.5 150.2 708.9Q148 709.2 146.5 708.9Q145 708.6 143.2 708.5Q141.3 708.3 140.9 706.1Q140.6 703.8 140.4 701.3Q140.2 698.9 141.9 697.4Q143.5 695.9 145.4 696.1Q147.3 696.2 149.3 697Q151.3 697.8 151.7 700.4Z" fill="#251d2b" opacity="0.55"/>
<path d="M149.3 701.2Q149.7 703.1 149.9 705.5Q150.2 708 148.3 707.9Q146.3 707.9 144.7 707.8Q143.1 707.6 142.2 705.7Q141.2 703.7 141.8 701.6Q142.3 699.4 144 699.3Q145.7 699.1 147.3 699.2Q148.9 699.2 149.3 701.2Z" fill="#2f253e"/>
<path d="M144.2 702L141.4 710.9L147.8 704.8Z" fill="#2c2338"/>
<path d="M143.7 703.5L146.3 713.2L148.3 703.3Z" fill="#2c2338"/>
<path d="M157.2 649Q158.6 651.5 158.8 653.5Q159.1 655.5 158.3 656.8Q157.5 658.1 156.9 660.3Q156.3 662.5 154.2 661.7Q152.1 660.9 150 659.6Q147.9 658.4 147.7 656Q147.5 653.7 148.6 652.3Q149.7 651 150.4 649.1Q151.2 647.3 153.5 646.9Q155.8 646.5 157.2 649Z" fill="#211a24" opacity="0.55"/>
<path d="M155.7 650.9Q157.1 652.4 157.4 654.2Q157.8 656 157.3 657.8Q156.9 659.6 155.1 658.9Q153.4 658.2 151.1 658Q148.9 657.8 149.1 655.5Q149.2 653.2 150.2 652Q151.1 650.8 152.7 650.1Q154.2 649.4 155.7 650.9Z" fill="#292032"/>
<path d="M151.4 654.7L153.7 667.2L156 654.7Z" fill="#261e2d"/>
</g>
<g filter="url(#cf2)">
<ellipse cx="181.6" cy="510.5" rx="3.6" ry="3.2" fill="#362248" opacity="0.9"/>
<ellipse cx="180.5" cy="509.5" rx="3.6" ry="3.2" fill="#362248" opacity="0.9"/>
<ellipse cx="80.3" cy="534.1" rx="3.6" ry="3.2" fill="#332043" opacity="0.9"/>
<ellipse cx="83.3" cy="561.3" rx="3.6" ry="3.2" fill="#39244d" opacity="0.9"/>
<ellipse cx="74.4" cy="560.2" rx="3.6" ry="3.2" fill="#39244d" opacity="0.9"/>
<ellipse cx="51.9" cy="568.1" rx="2.6" ry="2.3" fill="#332043" opacity="0.9"/>
<ellipse cx="158.1" cy="542" rx="3.6" ry="3.2" fill="#2e1d3c" opacity="0.9"/>
<ellipse cx="127.2" cy="567.3" rx="3.6" ry="3.2" fill="#2b1c37" opacity="0.9"/>
<ellipse cx="187.8" cy="574.7" rx="3.2" ry="2.9" fill="#332043" opacity="0.9"/>
<ellipse cx="143.6" cy="593.3" rx="3.6" ry="3.2" fill="#362248" opacity="0.9"/>
<ellipse cx="164.8" cy="585.9" rx="3.6" ry="3.2" fill="#38234c" opacity="0.9"/>
<ellipse cx="182.8" cy="609.9" rx="3.6" ry="3.2" fill="#362248" opacity="0.9"/>
<ellipse cx="183.1" cy="613.5" rx="3.6" ry="3.2" fill="#362248" opacity="0.9"/>
<ellipse cx="201.4" cy="611.9" rx="3.6" ry="3.2" fill="#362248" opacity="0.9"/>
<ellipse cx="220.4" cy="645.8" rx="3.6" ry="3.2" fill="#39244d" opacity="0.9"/>
<ellipse cx="217.1" cy="647.8" rx="3.6" ry="3.2" fill="#39244d" opacity="0.9"/>
<ellipse cx="179.3" cy="626.4" rx="3.5" ry="3.2" fill="#2e1d3c" opacity="0.9"/>
<ellipse cx="98.9" cy="609.6" rx="3.6" ry="3.2" fill="#271930" opacity="0.9"/>
<ellipse cx="106.4" cy="632.1" rx="3.5" ry="3.2" fill="#271930" opacity="0.9"/>
<ellipse cx="126" cy="646.7" rx="3.6" ry="3.2" fill="#301e3e" opacity="0.9"/>
<ellipse cx="78.7" cy="658.4" rx="3.6" ry="3.2" fill="#2d1d3a" opacity="0.9"/>
<ellipse cx="75.3" cy="655.2" rx="3.6" ry="3.2" fill="#2d1d3a" opacity="0.9"/>
<ellipse cx="82.1" cy="685.6" rx="3.6" ry="3.2" fill="#2e1d3c" opacity="0.9"/>
<ellipse cx="147.3" cy="679.3" rx="3.6" ry="3.2" fill="#2a1b36" opacity="0.9"/>
<ellipse cx="179.8" cy="682.9" rx="3.6" ry="3.2" fill="#332043" opacity="0.9"/>
<ellipse cx="166.8" cy="714.3" rx="3.6" ry="3.2" fill="#362248" opacity="0.9"/>
<ellipse cx="59.5" cy="672.8" rx="3" ry="2.7" fill="#281a32" opacity="0.9"/>
<ellipse cx="78.5" cy="719.8" rx="3" ry="2.7" fill="#281a32" opacity="0.9"/>
<ellipse cx="146.1" cy="703.1" rx="3" ry="2.7" fill="#281a32" opacity="0.9"/>
<ellipse cx="153.2" cy="653.7" rx="3" ry="2.7" fill="#25182e" opacity="0.9"/>
</g>
<rect x="49.8" y="491.8" width="196.2" height="233.4" fill="#000" filter="url(#mot)"/>
</g>
<rect x="192.2" y="710.6" width="44.1" height="8.2" fill="#fbfbfb"/>
<line x1="192.2" y1="711.1" x2="236.3" y2="711.1" stroke="#222" stroke-width="0.9"/>
<text x="217.2" y="717.3" class="sa" font-size="3.6" text-anchor="middle" fill="#222">10 μm</text>
<clipPath id="ci2"><rect x="258.8" y="494.4" width="194.2" height="229.6"/></clipPath>
<rect x="258.8" y="494.4" width="194.2" height="229.6" fill="#191412"/>
<g clip-path="url(#ci2)">
<g filter="url(#cf)">
<path d="M303.3 511.7Q307.7 517.4 302 520.5Q296.3 523.6 289.5 523.2Q282.6 522.8 274.5 523Q266.4 523.2 258.2 517.9Q250.1 512.6 253.7 506.8Q257.3 500.9 258.6 494.6Q259.8 488.4 269.4 492.4Q279 496.3 286.3 495.7Q293.6 495.2 296.2 500.6Q298.9 506 303.3 511.7Z" fill="#32295d" opacity="0.55"/>
<path d="M298.8 509.4Q300.3 515 296.3 519.2Q292.4 523.4 283.8 524.1Q275.3 524.9 269.3 519.1Q263.4 513.3 259.7 506.9Q256 500.4 263.5 498.3Q271 496.3 277.4 497.5Q283.9 498.7 290.6 501.3Q297.2 503.9 298.8 509.4Z" fill="#483b99"/>
<path d="M281.6 501.7L238.9 504.6L279.7 515.4Z" fill="#413585"/>
<path d="M352.8 505.9Q351.3 509.7 351.1 513.6Q350.9 517.5 341.6 516.7Q332.4 515.9 324.5 515.7Q316.7 515.4 310.4 512.3Q304 509.2 300.1 505.2Q296.1 501.2 294.8 495.6Q293.6 490.1 305.4 489.4Q317.2 488.8 329 490.8Q340.7 492.8 347.5 497.4Q354.3 502 352.8 505.9Z" fill="#32295d" opacity="0.55"/>
<path d="M351.7 504.3Q349.3 509.4 349.5 514.7Q349.8 519.9 337.5 518.1Q325.2 516.2 317.1 513.3Q309 510.3 305.7 506.3Q302.5 502.2 305.8 498.7Q309.2 495.2 319 493.8Q328.9 492.5 341.4 495.8Q354 499.2 351.7 504.3Z" fill="#483b99"/>
<path d="M330.6 501.6L283.6 490.4L323 510.3Z" fill="#413585"/>
<path d="M362.8 538.1Q357.8 543.3 354.9 547Q352 550.8 347.1 552.5Q342.1 554.2 338.4 550.5Q334.8 546.8 328.7 543.6Q322.6 540.4 324.7 534Q326.7 527.7 330.9 522.8Q335 518 341.2 518.7Q347.4 519.4 352.1 521.9Q356.8 524.5 362.3 528.7Q367.9 532.9 362.8 538.1Z" fill="#32295d" opacity="0.55"/>
<path d="M358.7 537.1Q356.8 542.7 353.5 547.9Q350.2 553 343.8 552.1Q337.5 551.2 332.4 546.9Q327.2 542.6 326.3 534.8Q325.5 527.1 332.3 523.4Q339.1 519.8 346.5 519.1Q353.9 518.5 357.3 524.9Q360.7 531.4 358.7 537.1Z" fill="#483b99"/>
<path d="M338.7 542.1L360.8 554.6L350.8 531.3Z" fill="#413585"/>
<path d="M344 544.8L372.3 539.4L345.5 528.7Z" fill="#413585"/>
<path d="M351.3 532L327.6 513.1L338.2 541.5Z" fill="#413585"/>
<path d="M281.6 525.4Q285.1 526 287.2 530Q289.3 533.9 286.5 536.7Q283.7 539.5 280.5 539.1Q277.3 538.8 275 539.1Q272.6 539.4 269.2 538.3Q265.7 537.3 264.3 533.4Q263 529.5 266 527.4Q269 525.3 270.9 523.1Q272.8 520.8 275.4 522.9Q278 524.9 281.6 525.4Z" fill="#292144" opacity="0.55"/>
<path d="M280 525Q282.7 527.4 283.9 531.1Q285.2 534.9 282.7 537.2Q280.1 539.6 276.8 540.7Q273.5 541.8 271.7 538.3Q269.8 534.9 268.1 531.7Q266.4 528.5 268.7 526.1Q271 523.8 274.1 523.1Q277.3 522.5 280 525Z" fill="#382e6c"/>
<path d="M271.5 532.2L277.8 548.1L279.5 531Z" fill="#33295f"/>
<path d="M321.9 546Q323 549.8 326.7 554.3Q330.5 558.9 326.2 559.6Q321.8 560.2 319.9 562.2Q318.1 564.2 314.7 564Q311.4 563.8 307.6 560.3Q303.9 556.7 304.6 551.7Q305.3 546.6 306.7 542.9Q308.2 539.2 311.2 536.8Q314.3 534.3 317.6 538.3Q320.9 542.2 321.9 546Z" fill="#2c244c" opacity="0.55"/>
<path d="M322.6 545.4Q325.9 548.7 326.5 554.1Q327.2 559.5 323.6 560.5Q320 561.5 317.2 560.8Q314.4 560.1 312.7 557.1Q311 554.1 309.6 550.2Q308.1 546.2 310 542.9Q311.9 539.5 315.6 540.8Q319.2 542.1 322.6 545.4Z" fill="#3d327b"/>
<path d="M313.9 549.1L305.2 566.5L319.2 555.1Z" fill="#382d6c"/>
<path d="M312.5 552.1L316.4 577.4L320.6 552.1Z" fill="#382d6c"/>
<path d="M319.6 549.4L307.6 537.6L313.5 554.8Z" fill="#382d6c"/>
<path d="M398.3 510.2Q397.3 514.1 393.4 515.1Q389.4 516.2 386 516.6Q382.6 517 379.1 515.4Q375.6 513.9 375.3 510.8Q375 507.7 372.9 504.5Q370.8 501.2 373.5 499.1Q376.1 497 380 495.9Q383.9 494.8 387 498Q390.1 501.1 394.7 503.7Q399.2 506.2 398.3 510.2Z" fill="#2c244c" opacity="0.55"/>
<path d="M392.2 509.1Q394.1 512.5 390.8 514.3Q387.5 516 383.9 514.6Q380.3 513.1 375.9 511.4Q371.4 509.7 372.1 505.9Q372.7 502.1 375.7 500.1Q378.7 498.1 382.4 499.8Q386 501.5 388.2 503.6Q390.4 505.7 392.2 509.1Z" fill="#3d327b"/>
<path d="M379.8 509.4L395.6 521.9L386.6 505Z" fill="#382d6c"/>
<path d="M382.7 511.2L398.4 508.8L383.7 503.2Z" fill="#382d6c"/>
<path d="M420.6 509.1Q421.6 516.2 424.6 524.6Q427.6 533 425.4 537.4Q423.2 541.8 420.2 543.2Q417.3 544.7 414.9 535.9Q412.5 527.1 411 522.9Q409.5 518.6 406.5 510.6Q403.4 502.6 405.4 498.1Q407.5 493.7 410.7 496Q413.8 498.3 416.8 500.2Q419.7 502 420.6 509.1Z" fill="#282040" opacity="0.55"/>
<path d="M419.5 510.3Q421.5 516.2 422.5 523.4Q423.4 530.6 421.1 532.8Q418.7 535 415.5 535.3Q412.3 535.5 409.5 527.4Q406.6 519.2 406.2 510.6Q405.7 502.1 409 502.2Q412.2 502.3 414.8 503.3Q417.4 504.4 419.5 510.3Z" fill="#352b65"/>
<path d="M418.5 516.3L411.3 488.9L412 518.7Z" fill="#312859"/>
<path d="M418.7 517.5L415.3 481.3L411.8 517.5Z" fill="#312859"/>
<path d="M430.8 538.2Q428.5 542.1 428.1 546.4Q427.8 550.6 423.6 551.2Q419.4 551.8 415.2 551.5Q410.9 551.1 408.8 547.4Q406.7 543.7 405.8 539.4Q404.9 535 408.4 532.5Q411.9 529.9 415.4 529.5Q418.9 529 422.8 528.7Q426.7 528.3 429.9 531.3Q433.2 534.3 430.8 538.2Z" fill="#2f2655" opacity="0.55"/>
<path d="M427.5 538.5Q428.1 542 426.1 545.3Q424.1 548.6 420.2 548.7Q416.3 548.8 414.1 546Q411.9 543.2 412 540.2Q412.1 537.2 413.2 533.8Q414.3 530.5 417.7 531.5Q421.1 532.4 424 533.7Q426.9 535 427.5 538.5Z" fill="#43378a"/>
<path d="M415.6 536.3L406.5 553.8L422.6 542.3Z" fill="#3c3178"/>
<path d="M416 535.9L407.8 549.6L422.2 542.7Z" fill="#3c3178"/>
<path d="M420.1 534.8L405.5 536.3L418.1 543.8Z" fill="#3c3178"/>
<path d="M453.3 531.9Q453.7 535.8 451.4 540.5Q449.1 545.3 445.8 548.1Q442.4 550.9 439.9 549.3Q437.5 547.8 437 543.6Q436.5 539.5 437.4 534.8Q438.4 530 440.7 525.6Q443.1 521.2 445.9 520.6Q448.6 520.1 450.2 521.5Q451.8 522.9 452.3 525.5Q452.9 528.1 453.3 531.9Z" fill="#32295d" opacity="0.55"/>
<path d="M452.4 531.5Q453 535.5 450.1 540.2Q447.3 544.9 444 546Q440.6 547.2 440.9 542.3Q441.2 537.3 441.7 534.4Q442.2 531.4 443.8 529Q445.4 526.6 448.1 523.4Q450.8 520.2 451.3 523.8Q451.9 527.5 452.4 531.5Z" fill="#483b99"/>
<path d="M446.4 530L436.8 530.7L445.7 535.7Z" fill="#413585"/>
<path d="M443.2 532.6L445.4 549.7L448.9 533.1Z" fill="#413585"/>
<path d="M398.2 559.8Q397.9 565 396.4 571.5Q394.8 578.1 390.5 582.1Q386.3 586.1 381.9 585.7Q377.5 585.3 375.3 579.7Q373.1 574.1 372.1 565.9Q371.2 557.7 376.9 553.1Q382.6 548.4 386.6 541.7Q390.7 535 395.4 536.2Q400.1 537.4 399.2 546.1Q398.4 554.7 398.2 559.8Z" fill="#352b65" opacity="0.55"/>
<path d="M398.9 557Q396.8 564.7 394.1 569.5Q391.3 574.4 386.9 579.2Q382.5 584 378.1 580.7Q373.8 577.4 374 568Q374.3 558.6 378.8 550.4Q383.3 542.3 388.6 542Q393.9 541.7 397.5 545.5Q401 549.3 398.9 557Z" fill="#4e40a8"/>
<path d="M382.8 560.6L382 598.4L393.8 564.1Z" fill="#453991"/>
<path d="M384 566.2L401.3 588.9L392.7 558.5Z" fill="#453991"/>
<path d="M394.5 579.1Q394.8 583.4 392 586.7Q389.1 590.1 384.4 593.9Q379.6 597.7 371.4 595.6Q363.2 593.5 356.6 591.6Q350 589.8 345.7 586.1Q341.4 582.3 349.1 580Q356.7 577.6 359.5 573.7Q362.2 569.7 369 572.3Q375.8 574.9 385 574.8Q394.1 574.8 394.5 579.1Z" fill="#352b65" opacity="0.55"/>
<path d="M389.7 579.1Q392.1 583.3 388.9 587.1Q385.8 591 378 592.7Q370.2 594.4 365.7 590.8Q361.3 587.2 359.2 584.9Q357.1 582.6 357.7 579.5Q358.2 576.5 364.3 576.4Q370.5 576.4 378.9 575.6Q387.2 574.8 389.7 579.1Z" fill="#4e40a8"/>
<path d="M366.4 585.2L387.8 597.6L374.4 580.5Z" fill="#453991"/>
<path d="M374.9 581.7L363.4 569.5L365.9 584Z" fill="#453991"/>
<path d="M369.9 555.7Q372.2 557.8 371.8 561.6Q371.4 565.5 368.5 567.9Q365.5 570.2 362.1 569.7Q358.6 569.2 357 566Q355.3 562.8 353.2 559.7Q351.1 556.6 354.6 554.7Q358.1 552.9 359 548.9Q360 545 362.7 547.1Q365.4 549.1 366.5 551.4Q367.5 553.6 369.9 555.7Z" fill="#292144" opacity="0.55"/>
<path d="M370 554.2Q371.1 557.7 369 560.3Q367 562.8 364.6 563.8Q362.3 564.7 360.6 562.9Q359 561.1 357.2 559Q355.3 556.8 357.5 555Q359.7 553.3 361.4 551.7Q363.1 550.1 366 550.4Q368.9 550.7 370 554.2Z" fill="#382e6c"/>
<path d="M359.7 555.6L355.8 571.9L365.7 558.9Z" fill="#33295f"/>
<path d="M358.5 586.9Q361.4 592.7 355.8 595.9Q350.1 599.2 347.7 604.6Q345.2 610 341.4 606.2Q337.6 602.3 334.6 600.1Q331.7 597.9 331.7 593.6Q331.7 589.4 331.4 584Q331.2 578.6 335.2 575.3Q339.3 572 344.3 572.2Q349.3 572.4 352.5 576.8Q355.6 581.2 358.5 586.9Z" fill="#32295d" opacity="0.55"/>
<path d="M352.5 587.2Q354.4 591.9 351.1 595.4Q347.7 598.9 344.3 600.5Q340.9 602.1 338.1 599.7Q335.3 597.2 331.1 593.1Q326.9 588.9 332 585.9Q337.1 582.9 340.6 578.2Q344 573.5 347.3 578Q350.6 582.4 352.5 587.2Z" fill="#483b99"/>
<path d="M340 585.2L318.9 602L344.4 595.9Z" fill="#413585"/>
<path d="M294.8 580.1Q301.6 583.4 301.3 590.9Q301 598.5 296.5 603.7Q292 608.9 287.4 614.7Q282.9 620.6 276 619.2Q269 617.9 262.9 614.8Q256.7 611.8 253.9 604.9Q251.1 598 257.9 593Q264.6 587.9 268.9 582Q273.2 576 280.6 576.5Q287.9 576.9 294.8 580.1Z" fill="#32295d" opacity="0.55"/>
<path d="M292.7 579.4Q300.5 584 301.9 593.2Q303.2 602.4 294.8 606.9Q286.4 611.4 279.8 613.4Q273.2 615.4 267.1 612.2Q261 609.1 261.1 602.3Q261.1 595.5 263.1 586.7Q265.2 577.9 275 576.3Q284.8 574.7 292.7 579.4Z" fill="#483b99"/>
<path d="M287.3 598.9L280.8 561.2L268.9 597.6Z" fill="#413585"/>
<path d="M286 593.6L257 566.1L270.1 602.9Z" fill="#413585"/>
<path d="M269.7 571.3Q269.8 575.1 267.6 578.9Q265.4 582.6 263.3 582Q261.1 581.3 258.6 583.1Q256 584.9 254.9 582Q253.8 579.1 255.3 574.8Q256.7 570.5 258.4 566.9Q260.1 563.2 262.3 562.8Q264.5 562.4 265.6 563.8Q266.8 565.1 268.2 566.4Q269.6 567.6 269.7 571.3Z" fill="#261f3c" opacity="0.55"/>
<path d="M267 570.8Q266.2 573.9 265.1 577.9Q263.9 581.9 262.1 580.6Q260.3 579.4 258.7 578.7Q257 578.1 257.7 574.6Q258.4 571.1 259.9 567Q261.5 563 263.2 564.5Q265 566.1 266.3 566.9Q267.7 567.8 267 570.8Z" fill="#33295e"/>
<path d="M260.4 573.1L264.5 590.9L265 572.2Z" fill="#2e2652"/>
<path d="M262 574.8L271.8 578.6L263.4 570.4Z" fill="#2e2652"/>
<path d="M264.7 571.5L257.5 554.9L260.7 573.8Z" fill="#2e2652"/>
<path d="M340.8 614.5Q339.7 617.8 336.9 619.8Q334.1 621.7 330.4 624.6Q326.7 627.6 320.4 624.3Q314.1 621 308 618.5Q301.9 616.1 305.3 613.4Q308.8 610.7 310 608.8Q311.3 606.9 314 603.6Q316.8 600.4 323.7 602.7Q330.7 604.9 336.2 608.1Q341.8 611.2 340.8 614.5Z" fill="#2f2655" opacity="0.55"/>
<path d="M337.2 613.9Q338.6 617.5 333.9 618.7Q329.2 619.9 324.5 620.7Q319.9 621.5 314.5 619.1Q309.1 616.7 307.1 613.3Q305.2 609.8 306.9 606.3Q308.6 602.8 316 604.4Q323.4 606.1 329.6 608.1Q335.8 610.2 337.2 613.9Z" fill="#43378a"/>
<path d="M319.3 616.9L350.2 624.2L324.1 610.4Z" fill="#3c3178"/>
<path d="M319.6 610.2L291.2 622.6L323.7 617.1Z" fill="#3c3178"/>
<path d="M324.6 616.5L340.6 603.9L318.8 610.8Z" fill="#3c3178"/>
<path d="M366.8 609.7Q368.2 612.1 368.7 614.7Q369.3 617.4 368.5 621.6Q367.6 625.8 362.3 626Q356.9 626.1 352.4 626.6Q348 627 343.8 625.1Q339.6 623.2 343.6 619.2Q347.7 615.2 349.1 612.3Q350.5 609.4 354.5 605.9Q358.4 602.4 361.9 604.9Q365.4 607.4 366.8 609.7Z" fill="#292144" opacity="0.55"/>
<path d="M366.1 610.5Q370.3 611.2 369.7 615.1Q369.1 619 365.3 622.6Q361.5 626.2 357.5 624.2Q353.6 622.2 350.7 621.1Q347.8 620 346.6 616.6Q345.4 613.2 350.2 611.4Q355 609.5 358.4 609.6Q361.9 609.7 366.1 610.5Z" fill="#382e6c"/>
<path d="M354.2 618.4L371.4 631.1L361 614Z" fill="#33295f"/>
<path d="M360.7 613.7L343.6 604L354.4 618.7Z" fill="#33295f"/>
<path d="M418.3 591Q417.7 596.1 413.2 597.1Q408.7 598.1 406.1 600.3Q403.5 602.5 401.5 600.7Q399.6 599 399.3 596.1Q399 593.2 399.1 590.2Q399.2 587.1 400.5 582.1Q401.9 577.1 405.1 579.3Q408.4 581.5 411.4 580.9Q414.5 580.3 416.7 583.1Q419 585.9 418.3 591Z" fill="#2f2655" opacity="0.55"/>
<path d="M414.2 590.6Q414.8 594.7 411.3 597.3Q407.8 599.9 404.5 600.4Q401.3 600.9 399.3 598.3Q397.3 595.6 399.2 591.9Q401.2 588.1 402.8 583.5Q404.4 579 408.3 578.7Q412.2 578.4 412.9 582.4Q413.7 586.4 414.2 590.6Z" fill="#43378a"/>
<path d="M408.6 587.2L395.2 579.8L404 593.9Z" fill="#3c3178"/>
<path d="M409.6 592.8L415 572.1L402.9 588.3Z" fill="#3c3178"/>
<path d="M441.7 609.4Q446.9 612.6 445.2 618.9Q443.5 625.3 442.4 631.2Q441.4 637.2 437.3 637.9Q433.2 638.6 429 635.1Q424.9 631.6 421.1 625.7Q417.3 619.8 420.7 614.9Q424.1 610.1 425.1 606.6Q426.1 603.2 428.4 599.1Q430.8 595.1 433.6 600.7Q436.4 606.3 441.7 609.4Z" fill="#2e2551" opacity="0.55"/>
<path d="M437.2 607.5Q437.9 614.8 439.3 620.2Q440.8 625.6 438.6 630.3Q436.5 635.1 432.1 632.9Q427.7 630.7 426 624.4Q424.3 618.1 422.4 611.1Q420.5 604.1 424.8 604.6Q429.2 605 432.9 602.6Q436.5 600.2 437.2 607.5Z" fill="#403483"/>
<path d="M436.5 616.9L434.1 590.3L427.4 615.5Z" fill="#3a2f72"/>
<path d="M435.6 619L443.4 589.7L428.2 613.4Z" fill="#3a2f72"/>
<path d="M408 615.4Q412 621.9 409.8 627.4Q407.6 632.9 406.7 636.7Q405.8 640.5 403.6 646.1Q401.5 651.6 396.9 646.5Q392.4 641.3 387.7 637.4Q383 633.4 384.4 627.7Q385.9 622 387.6 618.9Q389.4 615.8 392.2 615.2Q395 614.6 399.6 611.8Q404.1 608.9 408 615.4Z" fill="#342a61" opacity="0.55"/>
<path d="M404.7 618.4Q409.3 623 410.6 630.5Q411.8 638.1 407.5 640.4Q403.3 642.8 398.8 643.1Q394.2 643.5 391.3 637.4Q388.4 631.3 388.7 626.5Q388.9 621.7 390.6 618.5Q392.4 615.3 396.2 614.6Q400 613.9 404.7 618.4Z" fill="#4b3da0"/>
<path d="M395.4 632.6L415 638.7L399.2 622.9Z" fill="#43378b"/>
<path d="M393.3 624.4L387.5 645.8L401.3 631.1Z" fill="#43378b"/>
<path d="M316.9 628.1Q318.3 631.3 319.2 635.2Q320 639 315.9 640.8Q311.9 642.6 308.6 641.8Q305.4 641.1 301.1 642.5Q296.9 643.8 295.3 640.4Q293.7 637.1 293.6 633.4Q293.5 629.7 296.4 626.7Q299.4 623.7 303.7 622.2Q308 620.7 311.7 622.8Q315.5 624.8 316.9 628.1Z" fill="#292144" opacity="0.55"/>
<path d="M312.8 629.4Q313.7 632.4 312.6 634.7Q311.5 636.9 309.6 638.8Q307.8 640.6 304.6 640.7Q301.5 640.9 300 638.4Q298.6 635.9 298.7 633.1Q298.8 630.2 301.7 628.8Q304.7 627.5 308.3 626.9Q311.9 626.4 312.8 629.4Z" fill="#382e6c"/>
<path d="M304.3 630.6L291.1 641.4L308.2 637.7Z" fill="#33295f"/>
<path d="M304.6 630.5L291.1 640.3L308 637.8Z" fill="#33295f"/>
<path d="M418 651.9Q425.3 656.3 418.3 661.8Q411.4 667.3 407.2 673.4Q403.1 679.6 393.6 678.9Q384.1 678.3 378.7 674.4Q373.3 670.6 368.9 666.5Q364.5 662.5 363.8 656.1Q363.2 649.7 371.2 645.3Q379.2 641 388.4 641.3Q397.5 641.7 404.2 644.6Q410.8 647.5 418 651.9Z" fill="#32295d" opacity="0.55"/>
<path d="M405.8 653Q406.1 658.2 408 664Q409.8 669.8 401.2 673.1Q392.6 676.4 384.2 674.3Q375.9 672.1 373 667Q370.1 661.9 372.3 656.5Q374.6 651.2 381.9 647.4Q389.3 643.7 397.3 645.7Q405.4 647.8 405.8 653Z" fill="#483b99"/>
<path d="M388.7 653.2L348.5 669.3L393.1 666.4Z" fill="#413585"/>
<path d="M383.1 676Q379.6 683.5 381.2 690.3Q382.8 697 376.9 697Q371 697 366.9 697.3Q362.8 697.7 357.4 696.3Q352 694.9 351 688.4Q349.9 681.9 353.9 677.7Q357.9 673.5 361.1 670.3Q364.3 667.1 368.3 668.4Q372.3 669.6 379.5 669Q386.7 668.5 383.1 676Z" fill="#352b65" opacity="0.55"/>
<path d="M383.1 676.9Q386.1 683.8 381.4 689.1Q376.6 694.3 371.7 697.9Q366.8 701.6 360.6 699.2Q354.4 696.9 352.2 689.4Q349.9 681.9 355.8 678.4Q361.7 674.9 365.1 672.5Q368.5 670.2 374.3 670.1Q380.1 670 383.1 676.9Z" fill="#4e40a8"/>
<path d="M374.7 682.1L365 655.3L360.9 683.7Z" fill="#453991"/>
<path d="M371.5 688.7L393.2 664.2L364.1 677Z" fill="#453991"/>
<path d="M370.8 653.3Q372 656.5 369.5 658.7Q367.1 660.9 365.2 664.3Q363.3 667.6 360.5 666.7Q357.6 665.7 355.9 662.9Q354.2 660.2 354.4 656.6Q354.5 653.1 355.6 649.5Q356.6 646 359.4 645.1Q362.2 644.2 365.2 643.5Q368.1 642.9 368.9 646.5Q369.6 650.2 370.8 653.3Z" fill="#2f2655" opacity="0.55"/>
<path d="M368.7 653.2Q369.8 656.1 368.5 660.1Q367.3 664.1 364.3 662.8Q361.4 661.5 359.4 660.5Q357.4 659.5 356 656.3Q354.6 653.1 357.4 651.4Q360.3 649.7 362.6 646.3Q365 643 366.2 646.7Q367.5 650.3 368.7 653.2Z" fill="#43378a"/>
<path d="M366.1 654.9L363.6 638.2L359.2 654.4Z" fill="#3c3178"/>
<path d="M306.5 667Q307.9 670 305.7 672.4Q303.5 674.8 300.4 675.3Q297.2 675.7 293.8 676.1Q290.3 676.5 288.4 673.8Q286.5 671 287 668.4Q287.5 665.7 287.7 662.6Q287.9 659.5 291 657.1Q294.1 654.7 297.8 656.7Q301.5 658.8 303.4 661.4Q305.2 664 306.5 667Z" fill="#282040" opacity="0.55"/>
<path d="M306.5 665.8Q306.9 669.8 304.6 672.8Q302.3 675.8 298.5 674.5Q294.8 673.2 291.1 672.8Q287.4 672.3 286.9 668.9Q286.3 665.4 287.9 662.1Q289.5 658.8 293.5 659.6Q297.5 660.3 301.8 661.1Q306.1 661.8 306.5 665.8Z" fill="#352b65"/>
<path d="M295.8 663.5L275.6 668.7L296.3 671.5Z" fill="#312859"/>
<path d="M297.3 663.6L277.7 662.3L294.8 671.3Z" fill="#312859"/>
<path d="M315 677.6Q316.6 679.3 317.2 681.6Q317.8 683.9 315.7 685.7Q313.5 687.4 311.5 689Q309.4 690.5 306.8 690.3Q304.1 690.1 300.7 689.2Q297.2 688.3 297.5 684.9Q297.7 681.5 299.6 678.6Q301.5 675.7 304.9 676.1Q308.4 676.4 310.9 676.1Q313.4 675.9 315 677.6Z" fill="#292144" opacity="0.55"/>
<path d="M314.8 676.7Q316.9 679.1 316.7 682Q316.4 685 314.4 687.8Q312.5 690.6 308.8 690.9Q305.1 691.1 303.2 688.8Q301.3 686.4 301.4 683.6Q301.5 680.8 303.3 677.9Q305.1 674.9 308.9 674.7Q312.7 674.4 314.8 676.7Z" fill="#382e6c"/>
<path d="M305.4 683.1L309.6 694.3L312.3 682.7Z" fill="#33295f"/>
<path d="M307.5 686.1L325.3 688.8L310.2 679.7Z" fill="#33295f"/>
<path d="M334.6 693.6Q334.3 697.1 334.3 699.6Q334.2 702.1 331.9 702.9Q329.5 703.7 327.3 706.3Q325 709 323.4 706.1Q321.8 703.2 320.4 701.3Q318.9 699.5 320.1 697.4Q321.3 695.4 322 692.8Q322.7 690.1 325.3 690.9Q327.9 691.6 331.4 690.9Q335 690.2 334.6 693.6Z" fill="#261f3c" opacity="0.55"/>
<path d="M331 695.3Q331.4 697.6 331.3 699.5Q331.2 701.5 329.7 704.2Q328.1 706.9 325.8 704.8Q323.5 702.7 322 701Q320.6 699.2 320.5 696.4Q320.4 693.6 323.1 692.3Q325.7 691 328.2 692Q330.6 693 331 695.3Z" fill="#33295e"/>
<path d="M328 695L316 694.3L325.6 701.5Z" fill="#2e2652"/>
<path d="M323.7 699.8L332.1 709L329.9 696.7Z" fill="#2e2652"/>
<path d="M279.7 694.4Q282.7 696.2 283.2 699.9Q283.8 703.7 280.6 706.3Q277.4 708.9 273.9 709.9Q270.4 710.9 268.2 708.8Q265.9 706.7 264.6 705.1Q263.4 703.4 262.7 701.3Q262.1 699.1 262.1 695.2Q262.1 691.3 266.2 689.7Q270.4 688.1 273.5 690.3Q276.6 692.5 279.7 694.4Z" fill="#251e38" opacity="0.55"/>
<path d="M278.4 693.8Q281 696.9 280.5 700.7Q280.1 704.5 277.1 707.6Q274.1 710.8 269.9 710.1Q265.7 709.5 262.6 707.2Q259.6 704.9 261.3 701.4Q263 698 265.7 696.7Q268.3 695.3 272.1 693Q275.8 690.8 278.4 693.8Z" fill="#302756"/>
<path d="M268.9 697.1L256.3 705.6L271.8 704.6Z" fill="#2c244c"/>
<path d="M288.8 686.1Q290.2 687.6 290 689.5Q289.9 691.5 289.9 694.4Q289.8 697.3 286.6 696.7Q283.4 696.1 281.2 696.2Q279.1 696.4 276.9 695.3Q274.7 694.2 274 691.7Q273.3 689.2 275.3 686.8Q277.2 684.5 280 682.6Q282.9 680.7 285.2 682.7Q287.4 684.6 288.8 686.1Z" fill="#231c34" opacity="0.55"/>
<path d="M287 686.8Q288.2 688.4 289.5 690.6Q290.9 692.9 288.2 694.4Q285.5 695.9 282.4 697Q279.4 698.1 279 695.3Q278.5 692.6 277.4 690.6Q276.3 688.5 278.9 687.5Q281.4 686.4 283.7 685.8Q285.9 685.3 287 686.8Z" fill="#2d254f"/>
<path d="M282.3 687.8L272.4 693.7L284.1 693.3Z" fill="#2a2246"/>
<path d="M418.3 671Q418.3 673.9 416.7 676Q415.2 678 413.6 680.5Q411.9 683.1 409.5 682.6Q407.1 682.1 405.8 679.6Q404.4 677.2 402.6 673.9Q400.8 670.6 403.2 667.4Q405.6 664.3 408.2 662.8Q410.8 661.4 412.9 663.2Q414.9 665 416.6 666.5Q418.4 668.1 418.3 671Z" fill="#292144" opacity="0.55"/>
<path d="M418.3 671Q419.9 674.2 417 676.2Q414.2 678.2 411.9 680.2Q409.6 682.2 408 679.7Q406.3 677.2 406.1 674.4Q405.9 671.6 406.8 668.4Q407.8 665.2 410.4 664.5Q413.1 663.9 414.9 665.8Q416.7 667.8 418.3 671Z" fill="#382e6c"/>
<path d="M408.3 674.2L417.6 688.5L414.5 671Z" fill="#33295f"/>
<path d="M410.6 676L422.6 676L412.2 669.2Z" fill="#33295f"/>
<path d="M265.9 643.8Q265.9 647.1 265.6 650Q265.3 652.9 264 654.2Q262.6 655.5 261.2 655.7Q259.8 655.9 259.4 653.1Q259 650.3 257.9 648.6Q256.7 646.9 257.2 644.2Q257.7 641.4 259 640.2Q260.3 639 261.5 639.3Q262.7 639.5 264.3 640.1Q266 640.6 265.9 643.8Z" fill="#261f3c" opacity="0.55"/>
<path d="M265.1 644.3Q265.9 647.1 265 649.9Q264.1 652.7 262.7 653.2Q261.3 653.7 260 652.9Q258.7 652.1 258.5 649.5Q258.4 646.9 258.7 644.5Q259 642 260.3 641.8Q261.5 641.6 262.9 641.5Q264.3 641.5 265.1 644.3Z" fill="#33295e"/>
<path d="M260.3 645.6L256.3 655.2L262.5 648.3Z" fill="#2e2652"/>
<path d="M275.2 614.9Q278.5 616.2 277 619.5Q275.6 622.7 275.9 626.4Q276.2 630.1 272.8 631.4Q269.4 632.6 265.6 632.5Q261.9 632.4 259.7 629.3Q257.5 626.3 258.7 623.1Q259.9 619.9 259.8 616.4Q259.7 612.9 263 611.1Q266.2 609.2 269.1 611.4Q272 613.6 275.2 614.9Z" fill="#2c244c" opacity="0.55"/>
<path d="M273 615.2Q275.1 617.8 274.8 620.8Q274.6 623.7 273.5 627.3Q272.4 630.9 268.7 630.2Q265 629.4 261.3 627.9Q257.6 626.3 259.3 622.6Q261 619 262.6 616.4Q264.2 613.9 267.5 613.2Q270.9 612.6 273 615.2Z" fill="#3d327b"/>
<path d="M263.2 621L266.5 637.7L272.4 621.7Z" fill="#382d6c"/>
</g>
<g filter="url(#cf2)">
<ellipse cx="279.3" cy="514.8" rx="3.6" ry="3.2" fill="#553c78" opacity="0.9"/>
<ellipse cx="280.4" cy="516.4" rx="3.6" ry="3.2" fill="#553c78" opacity="0.9"/>
<ellipse cx="291.6" cy="503.1" rx="3.6" ry="3.2" fill="#553c78" opacity="0.9"/>
<ellipse cx="323.1" cy="509.7" rx="3.6" ry="3.2" fill="#553c78" opacity="0.9"/>
<ellipse cx="321.6" cy="504.7" rx="3.6" ry="3.2" fill="#553c78" opacity="0.9"/>
<ellipse cx="318" cy="511.3" rx="3.6" ry="3.2" fill="#553c78" opacity="0.9"/>
<ellipse cx="346.8" cy="527.4" rx="3.6" ry="3.2" fill="#553c78" opacity="0.9"/>
<ellipse cx="336.9" cy="538" rx="3.6" ry="3.2" fill="#553c78" opacity="0.9"/>
<ellipse cx="338" cy="527.1" rx="3.6" ry="3.2" fill="#553c78" opacity="0.9"/>
<ellipse cx="276.3" cy="530.3" rx="3.6" ry="3.2" fill="#463160" opacity="0.9"/>
<ellipse cx="316.5" cy="556.9" rx="3.6" ry="3.2" fill="#4b3568" opacity="0.9"/>
<ellipse cx="321" cy="554.9" rx="3.6" ry="3.2" fill="#4b3568" opacity="0.9"/>
<ellipse cx="382.7" cy="508.3" rx="3.6" ry="3.2" fill="#4b3568" opacity="0.9"/>
<ellipse cx="414.5" cy="522.1" rx="3.6" ry="3.2" fill="#432f5c" opacity="0.9"/>
<ellipse cx="414" cy="527" rx="3.6" ry="3.2" fill="#432f5c" opacity="0.9"/>
<ellipse cx="417.8" cy="538.4" rx="3.6" ry="3.2" fill="#503870" opacity="0.9"/>
<ellipse cx="445.8" cy="534.4" rx="3.5" ry="3.2" fill="#553c78" opacity="0.9"/>
<ellipse cx="386.4" cy="574" rx="3.6" ry="3.2" fill="#5a4080" opacity="0.9"/>
<ellipse cx="384.2" cy="562.1" rx="3.6" ry="3.2" fill="#5a4080" opacity="0.9"/>
<ellipse cx="382.1" cy="551.2" rx="3.6" ry="3.2" fill="#5a4080" opacity="0.9"/>
<ellipse cx="379.3" cy="587" rx="3.6" ry="3.2" fill="#5a4080" opacity="0.9"/>
<ellipse cx="359.7" cy="578.1" rx="3.6" ry="3.2" fill="#5a4080" opacity="0.9"/>
<ellipse cx="363" cy="556.6" rx="3.6" ry="3.2" fill="#463160" opacity="0.9"/>
<ellipse cx="345.5" cy="595.2" rx="3.6" ry="3.2" fill="#553c78" opacity="0.9"/>
<ellipse cx="335.8" cy="593.5" rx="3.6" ry="3.2" fill="#553c78" opacity="0.9"/>
<ellipse cx="288.7" cy="594.7" rx="3.6" ry="3.2" fill="#553c78" opacity="0.9"/>
<ellipse cx="281.4" cy="596.8" rx="3.6" ry="3.2" fill="#553c78" opacity="0.9"/>
<ellipse cx="280.2" cy="601.2" rx="3.6" ry="3.2" fill="#553c78" opacity="0.9"/>
<ellipse cx="285.3" cy="593.6" rx="3.6" ry="3.2" fill="#553c78" opacity="0.9"/>
<ellipse cx="277.7" cy="588.1" rx="3.6" ry="3.2" fill="#553c78" opacity="0.9"/>
<ellipse cx="263.2" cy="572.7" rx="3" ry="2.7" fill="#412e59" opacity="0.9"/>
<ellipse cx="323.6" cy="615.2" rx="3.6" ry="3.2" fill="#503870" opacity="0.9"/>
<ellipse cx="325.8" cy="611.3" rx="3.6" ry="3.2" fill="#503870" opacity="0.9"/>
<ellipse cx="360.7" cy="617.3" rx="3.6" ry="3.2" fill="#463160" opacity="0.9"/>
<ellipse cx="353.7" cy="618.8" rx="3.6" ry="3.2" fill="#463160" opacity="0.9"/>
<ellipse cx="404.3" cy="594.4" rx="3.6" ry="3.2" fill="#503870" opacity="0.9"/>
<ellipse cx="406.8" cy="597.2" rx="3.6" ry="3.2" fill="#503870" opacity="0.9"/>
<ellipse cx="434.5" cy="624.5" rx="3.6" ry="3.2" fill="#4d376c" opacity="0.9"/>
<ellipse cx="437" cy="622.4" rx="3.6" ry="3.2" fill="#4d376c" opacity="0.9"/>
<ellipse cx="391.6" cy="625" rx="3.6" ry="3.2" fill="#573e7c" opacity="0.9"/>
<ellipse cx="403.5" cy="632.6" rx="3.6" ry="3.2" fill="#573e7c" opacity="0.9"/>
<ellipse cx="307" cy="635.2" rx="3.6" ry="3.2" fill="#463160" opacity="0.9"/>
<ellipse cx="379.1" cy="656.5" rx="3.6" ry="3.2" fill="#553c78" opacity="0.9"/>
<ellipse cx="383.6" cy="661.4" rx="3.6" ry="3.2" fill="#553c78" opacity="0.9"/>
<ellipse cx="402.7" cy="660.2" rx="3.6" ry="3.2" fill="#553c78" opacity="0.9"/>
<ellipse cx="374.1" cy="688.7" rx="3.6" ry="3.2" fill="#5a4080" opacity="0.9"/>
<ellipse cx="375.5" cy="681.7" rx="3.6" ry="3.2" fill="#5a4080" opacity="0.9"/>
<ellipse cx="367.2" cy="675.7" rx="3.6" ry="3.2" fill="#5a4080" opacity="0.9"/>
<ellipse cx="363.6" cy="653.9" rx="3.6" ry="3.2" fill="#503870" opacity="0.9"/>
<ellipse cx="295.3" cy="666.2" rx="3.6" ry="3.2" fill="#432f5c" opacity="0.9"/>
<ellipse cx="309.5" cy="684" rx="3.6" ry="3.2" fill="#463160" opacity="0.9"/>
<ellipse cx="326.2" cy="698" rx="3.6" ry="3.2" fill="#412e59" opacity="0.9"/>
<ellipse cx="269.1" cy="700.4" rx="3.6" ry="3.2" fill="#3e2c55" opacity="0.9"/>
<ellipse cx="282.9" cy="689.9" rx="3.5" ry="3.2" fill="#3c2a51" opacity="0.9"/>
<ellipse cx="411.1" cy="673.8" rx="3.6" ry="3.2" fill="#463160" opacity="0.9"/>
<ellipse cx="261.7" cy="646.2" rx="2.6" ry="2.3" fill="#412e59" opacity="0.9"/>
<ellipse cx="267.5" cy="621.9" rx="3.6" ry="3.2" fill="#4b3568" opacity="0.9"/>
</g>
<rect x="258.8" y="494.4" width="194.2" height="229.6" fill="#000" filter="url(#mot)"/>
</g>
<rect x="400.4" y="709" width="44.3" height="8.5" fill="#fbfbfb"/>
<line x1="400.4" y1="709.5" x2="444.7" y2="709.5" stroke="#222" stroke-width="0.9"/>
<text x="425.5" y="716" class="sa" font-size="3.6" text-anchor="middle" fill="#222">10 μm</text>
<clipPath id="ci3"><rect x="466.6" y="494.4" width="196.7" height="229"/></clipPath>
<rect x="466.6" y="494.4" width="196.7" height="229" fill="#191412"/>
<g clip-path="url(#ci3)">
<g filter="url(#cf)">
<path d="M584.7 517.9Q589.1 519.4 585.3 524.5Q581.4 529.7 582 534.2Q582.6 538.7 576.5 542.3Q570.5 545.9 566.5 543.9Q562.5 541.9 558.7 541.4Q554.9 540.9 555.4 537.4Q555.8 533.8 558.3 530.3Q560.7 526.7 564.8 522.6Q569 518.4 574.7 517.4Q580.3 516.3 584.7 517.9Z" fill="#2a2135" opacity="0.55"/>
<path d="M578 522Q579.5 525.4 580.4 528.3Q581.4 531.2 577.9 535.2Q574.5 539.3 569.3 540.8Q564.1 542.3 562.6 539.7Q561 537.1 560.1 534.5Q559.2 531.9 562.3 528.4Q565.4 524.8 570.9 521.7Q576.4 518.6 578 522Z" fill="#3a2e51"/>
<path d="M565.7 530.8L564 548.8L573.7 532.4Z" fill="#342947"/>
<path d="M565.7 532.1L572.8 545.3L573.7 531.1Z" fill="#342947"/>
<path d="M566.3 533.8L584.2 544.4L573.1 529.4Z" fill="#342947"/>
<path d="M567.5 564Q566.1 568.2 566.7 573.4Q567.3 578.6 562.6 581Q557.8 583.4 553.1 581.4Q548.4 579.4 544.1 576.6Q539.9 573.7 539.7 568.5Q539.5 563.2 541.9 558.8Q544.4 554.3 549 552.7Q553.6 551.1 558.4 551.7Q563.1 552.4 566 556.1Q568.8 559.9 567.5 564Z" fill="#2c2338" opacity="0.55"/>
<path d="M563.8 563.9Q563.2 567.6 563 572.2Q562.8 576.7 558.3 576.1Q553.9 575.4 550 574Q546.2 572.7 544.4 568.2Q542.6 563.8 546.2 560.7Q549.7 557.7 553.5 557.6Q557.2 557.6 560.8 558.9Q564.5 560.1 563.8 563.9Z" fill="#3d3057"/>
<path d="M560 569L568 546.8L551.2 563.4Z" fill="#372c4d"/>
<path d="M582.1 591.3Q581.6 593.1 581.8 597.1Q582.1 601.1 577.9 600.1Q573.7 599 571.4 596.3Q569 593.6 567.9 591.4Q566.7 589.1 565 585.9Q563.3 582.7 567.1 582.8Q570.9 583 573.3 581.9Q575.8 580.8 577.9 583.1Q580 585.4 581.3 587.4Q582.7 589.4 582.1 591.3Z" fill="#2a2135" opacity="0.55"/>
<path d="M581 590.8Q581.5 593.1 579.9 595.3Q578.4 597.5 575.4 595.5Q572.5 593.4 568.6 591.9Q564.8 590.5 565.4 587.4Q566.1 584.3 569.1 583.7Q572.1 583 575.4 582.7Q578.8 582.4 579.6 585.5Q580.5 588.6 581 590.8Z" fill="#3a2e51"/>
<path d="M571.6 590.5L581.2 602.1L578.1 588.1Z" fill="#342947"/>
<path d="M571.7 590.7L581.4 600.3L578 587.9Z" fill="#342947"/>
<path d="M576.5 619.7Q576.5 624.1 572.4 626.1Q568.3 628 566.2 630.9Q564.1 633.8 560.3 632.2Q556.6 630.5 552.5 629.4Q548.4 628.3 546.5 624.7Q544.7 621.1 547.2 618Q549.8 614.8 553.1 611.6Q556.4 608.4 560.4 612Q564.4 615.5 570.4 615.4Q576.4 615.4 576.5 619.7Z" fill="#2c2338" opacity="0.55"/>
<path d="M571.4 619.8Q572 623.7 568.9 625.6Q565.8 627.5 562.7 630.6Q559.7 633.6 554.7 631.7Q549.7 629.8 549.7 625.7Q549.8 621.6 552.2 619.2Q554.7 616.8 558.3 613.9Q561.8 610.9 566.4 613.4Q570.9 615.9 571.4 619.8Z" fill="#3d3057"/>
<path d="M561.9 618.1L537 617.8L559.6 627.1Z" fill="#372c4d"/>
<path d="M561.8 618.1L543.8 619.3L559.6 627.1Z" fill="#372c4d"/>
<path d="M505.9 674.3Q505 678.9 501.7 682.1Q498.4 685.2 493 686.7Q487.6 688.3 481.4 685.6Q475.2 683 475 677.7Q474.8 672.5 474.1 668.8Q473.4 665.1 474.6 660.7Q475.9 656.2 481.8 658.2Q487.7 660.1 492.8 660.9Q498 661.6 502.4 665.6Q506.9 669.6 505.9 674.3Z" fill="#241c2a" opacity="0.55"/>
<path d="M500 671.9Q497.9 675.8 496.8 680.7Q495.7 685.5 489.9 682.5Q484.1 679.5 481.3 676.5Q478.5 673.5 476 669.3Q473.5 665.1 478 663.8Q482.6 662.5 487.2 662Q491.9 661.6 497 664.8Q502.2 667.9 500 671.9Z" fill="#2e243c"/>
<path d="M487 676.5L514.3 673.9L488.3 666.2Z" fill="#2b2236"/>
<path d="M485.1 675.8L507.4 679.8L490.2 666.8Z" fill="#2b2236"/>
<path d="M549.4 693.7Q547.8 697.2 547.8 704.1Q547.9 711 541.9 712Q536 713 531 710.4Q526 707.9 526.9 701.9Q527.7 695.9 527.6 691.9Q527.6 687.9 530.7 685.4Q533.8 683 537.7 679Q541.6 675.1 546.2 677.3Q550.8 679.6 551 684.8Q551.1 690.1 549.4 693.7Z" fill="#282032" opacity="0.55"/>
<path d="M553 693.3Q552.7 699.5 547.9 703Q543.1 706.5 538 706.4Q532.8 706.3 530.6 702Q528.3 697.6 527.1 692.4Q525.9 687.1 530.5 684.1Q535.2 681.2 540.2 680.3Q545.3 679.4 549.2 683.2Q553.2 687.1 553 693.3Z" fill="#362b4a"/>
<path d="M538.2 698.9L564.3 696.7L539.7 687.4Z" fill="#322742"/>
<path d="M546 716.1Q544.1 718.4 544.2 721.1Q544.3 723.7 540.7 722.6Q537.1 721.4 534.6 721.3Q532.1 721.2 530.4 719.5Q528.6 717.8 528 715.7Q527.4 713.6 527.9 711.2Q528.5 708.8 531.9 708.9Q535.3 709 538.9 709Q542.5 709 545.2 711.4Q547.9 713.9 546 716.1Z" fill="#282032" opacity="0.55"/>
<path d="M544 716.3Q545 718.7 543.1 720.5Q541.3 722.4 537.9 722.6Q534.5 722.8 532.7 720.5Q530.9 718.1 529.2 715.9Q527.5 713.7 529.2 711.5Q530.9 709.3 534.7 709.1Q538.5 708.8 540.7 711.3Q542.9 713.9 544 716.3Z" fill="#362b4a"/>
<path d="M537.5 718.9L549.7 712.1L535.2 713.6Z" fill="#322742"/>
<path d="M605.1 688.1Q605.4 690.6 606.3 692.2Q607.1 693.7 605.2 696Q603.2 698.2 600.8 700.6Q598.4 703.1 595.2 703.7Q592.1 704.3 588.6 704.3Q585.2 704.2 587.9 700.8Q590.5 697.3 590.2 694.6Q589.9 691.9 593.7 690.5Q597.5 689.2 601.1 687.3Q604.8 685.5 605.1 688.1Z" fill="#251d2b" opacity="0.55"/>
<path d="M603.8 689.1Q605.6 690.5 604.7 692.8Q603.8 695.2 602.7 698.2Q601.6 701.2 598.4 701.1Q595.2 701 591.3 701.9Q587.4 702.7 589 699.5Q590.5 696.3 593 694.2Q595.5 692.2 598.7 690Q601.9 687.7 603.8 689.1Z" fill="#2f253e"/>
<path d="M595.1 696.5L602.2 704.1L600.7 694.9Z" fill="#2c2338"/>
<path d="M595.1 695.2L594 708L600.7 696.2Z" fill="#2c2338"/>
<path d="M653.3 696.5Q655 698.3 655.5 700.8Q656 703.3 650.8 704Q645.5 704.6 641.8 705.3Q638.1 706 634.7 705.2Q631.2 704.4 627.2 702.8Q623.2 701.2 624.9 698.5Q626.6 695.7 631.6 694.5Q636.6 693.4 640.8 693.2Q644.9 693 648.2 693.9Q651.6 694.8 653.3 696.5Z" fill="#231b28" opacity="0.55"/>
<path d="M651.7 696.7Q654.9 698.3 653.1 700.8Q651.3 703.3 646.6 704Q642 704.7 638.8 704Q635.6 703.2 633.9 701.8Q632.2 700.4 632.6 698.3Q632.9 696.2 637 695.3Q641 694.3 644.7 694.8Q648.5 695.2 651.7 696.7Z" fill="#2c2338"/>
<path d="M642.8 697L626.4 695.7L640.2 702.1Z" fill="#292033"/>
<path d="M639.1 697.9L630.7 707.4L643.9 701.2Z" fill="#292033"/>
<path d="M643.3 697.3L626 693L639.6 701.7Z" fill="#292033"/>
<path d="M602.2 649.5Q602.4 654 602.9 658.2Q603.5 662.5 601.4 665.1Q599.3 667.7 596.9 665.3Q594.5 662.9 592.3 662.4Q590.2 662 588.7 658.7Q587.3 655.4 588.7 652.6Q590.2 649.8 591.4 647.5Q592.5 645.3 594.6 643.3Q596.8 641.3 599.4 643.2Q602.1 645.1 602.2 649.5Z" fill="#1f1821" opacity="0.55"/>
<path d="M600.8 649.9Q601.9 654 600.8 657.3Q599.8 660.5 598 662.7Q596.3 664.9 593.6 664.2Q591 663.4 591.1 659.2Q591.2 655.1 591.6 652.7Q592 650.3 593.2 647.6Q594.4 644.8 597.1 645.3Q599.8 645.7 600.8 649.9Z" fill="#251d2c"/>
<path d="M592.5 655.1L596.9 670.3L598.2 654.2Z" fill="#231c28"/>
<path d="M652.6 496.4Q654.4 498.1 655.1 500.8Q655.7 503.4 654 505Q652.3 506.5 650.8 508.6Q649.2 510.6 646.8 509.4Q644.3 508.1 642.9 505.8Q641.5 503.5 641.6 501.1Q641.7 498.8 641.4 495.3Q641 491.9 644.1 493.5Q647.1 495 649 494.9Q650.9 494.8 652.6 496.4Z" fill="#1f1821" opacity="0.55"/>
<path d="M651.4 496.3Q652.8 498.8 653.1 501.2Q653.4 503.7 651.8 504.9Q650.1 506.2 647.8 507.4Q645.5 508.6 644.4 505.6Q643.4 502.7 642.2 500Q641.1 497.3 643.1 495.7Q645.1 494.2 647.6 494Q650.1 493.8 651.4 496.3Z" fill="#251d2c"/>
<path d="M650.1 498.9L641.4 492L645.7 502.7Z" fill="#231c28"/>
<path d="M646.9 498.1L636.6 506L648.9 503.5Z" fill="#231c28"/>
<path d="M649.3 498.3L637.3 493.9L646.5 503.4Z" fill="#231c28"/>
<path d="M542.2 620.3Q542.5 621.3 542 622.2Q541.4 623.1 540.7 623.8Q540 624.6 538.8 625.1Q537.6 625.6 536.1 625Q534.7 624.5 535.1 622.9Q535.6 621.4 535.5 620.1Q535.4 618.8 536.4 617.9Q537.5 617 539 616.7Q540.5 616.4 541.1 617.8Q541.8 619.2 542.2 620.3Z" fill="#211a24" opacity="0.55"/>
<path d="M541.9 619.9Q542 621.3 542 622.8Q542 624.3 540.5 624.8Q539 625.4 537.6 624.7Q536.3 624 535.8 622.7Q535.4 621.4 535.8 620Q536.2 618.6 537.5 617.8Q538.9 616.9 540.3 617.7Q541.7 618.5 541.9 619.9Z" fill="#292032"/>
<path d="M540 622.7L543 618.3L537.9 619.9Z" fill="#261e2d"/>
<path d="M537.8 620L534 625.2L540 622.7Z" fill="#261e2d"/>
</g>
<g filter="url(#cf2)">
<ellipse cx="574.7" cy="533.6" rx="3.6" ry="3.2" fill="#2d1d3a" opacity="0.9"/>
<ellipse cx="575.2" cy="533.6" rx="3.6" ry="3.2" fill="#2d1d3a" opacity="0.9"/>
<ellipse cx="560.8" cy="570.1" rx="3.6" ry="3.2" fill="#2e1d3c" opacity="0.9"/>
<ellipse cx="555.4" cy="562.2" rx="3.6" ry="3.2" fill="#2e1d3c" opacity="0.9"/>
<ellipse cx="574.8" cy="589.3" rx="3.6" ry="3.2" fill="#2d1d3a" opacity="0.9"/>
<ellipse cx="563.3" cy="618.7" rx="3.6" ry="3.2" fill="#2e1d3c" opacity="0.9"/>
<ellipse cx="564.8" cy="626.2" rx="3.6" ry="3.2" fill="#2e1d3c" opacity="0.9"/>
<ellipse cx="483.8" cy="665.3" rx="3.6" ry="3.2" fill="#271931" opacity="0.9"/>
<ellipse cx="485.8" cy="677.3" rx="3.6" ry="3.2" fill="#271931" opacity="0.9"/>
<ellipse cx="538.7" cy="697.5" rx="3.6" ry="3.2" fill="#2b1c37" opacity="0.9"/>
<ellipse cx="541.8" cy="697.2" rx="3.6" ry="3.2" fill="#2b1c37" opacity="0.9"/>
<ellipse cx="536.5" cy="716" rx="3.5" ry="3.2" fill="#2b1c37" opacity="0.9"/>
<ellipse cx="598.3" cy="695.3" rx="3.5" ry="3.2" fill="#281a32" opacity="0.9"/>
<ellipse cx="640.1" cy="699.8" rx="3.5" ry="3.2" fill="#271930" opacity="0.9"/>
<ellipse cx="595.8" cy="654.4" rx="3.5" ry="3.2" fill="#24172b" opacity="0.9"/>
<ellipse cx="647" cy="501.2" rx="3.5" ry="3.2" fill="#24172b" opacity="0.9"/>
<ellipse cx="538.5" cy="621.6" rx="2.6" ry="2.3" fill="#25182e" opacity="0.9"/>
</g>
<rect x="466.6" y="494.4" width="196.7" height="229" fill="#000" filter="url(#mot)"/>
</g>
<rect x="611.5" y="708" width="44.1" height="8.2" fill="#fbfbfb"/>
<line x1="611.5" y1="708.5" x2="655.6" y2="708.5" stroke="#222" stroke-width="0.9"/>
<text x="636.5" y="714.7" class="sa" font-size="3.6" text-anchor="middle" fill="#222">10 μm</text>
<clipPath id="ci4"><rect x="673.8" y="494.4" width="200.6" height="228.2"/></clipPath>
<rect x="673.8" y="494.4" width="200.6" height="228.2" fill="#191412"/>
<g clip-path="url(#ci4)">
<g filter="url(#cf)">
<path d="M706.9 520Q710.4 525.2 710.8 529.7Q711.3 534.1 711.6 537.6Q712 541 711.6 545.3Q711.2 549.6 707.2 545.7Q703.2 541.8 699.8 537.3Q696.3 532.8 695.4 528.1Q694.6 523.4 691.3 515.6Q688 507.8 691.6 507.6Q695.1 507.5 699.3 511.1Q703.5 514.8 706.9 520Z" fill="#2e2551" opacity="0.55"/>
<path d="M705.9 522.4Q709.6 525.7 710.4 530.6Q711.2 535.6 711.6 540.4Q712 545.1 708.6 544.7Q705.1 544.3 701.8 538Q698.6 531.6 697.1 527.1Q695.7 522.6 695.4 518.2Q695.1 513.7 698.6 516.5Q702.2 519.2 705.9 522.4Z" fill="#403483"/>
<path d="M706.8 528.9L702.9 496.6L699.9 529.1Z" fill="#3a2f72"/>
<path d="M699.9 528.4L700.8 566.1L706.7 529.6Z" fill="#3a2f72"/>
<path d="M705.5 531.7L713.5 508.1L701.1 526.3Z" fill="#3a2f72"/>
<path d="M685.2 520.8Q684.4 524.7 685.6 528.3Q686.9 531.9 684.3 532.9Q681.8 533.8 679.7 534.4Q677.6 534.9 676.2 532.6Q674.7 530.3 672.8 528.1Q670.8 525.9 672.8 523.7Q674.8 521.6 675.3 518.6Q675.9 515.7 678.1 516.1Q680.2 516.5 683.1 516.7Q685.9 516.8 685.2 520.8Z" fill="#292144" opacity="0.55"/>
<path d="M684 521.8Q685.4 524.6 684.4 527.4Q683.3 530.2 681.5 532.6Q679.8 534.9 677.6 533Q675.5 531.1 674.5 528.4Q673.5 525.6 674.3 523.2Q675.2 520.7 676.8 519.5Q678.4 518.2 680.5 518.6Q682.6 519 684 521.8Z" fill="#382e6c"/>
<path d="M676.7 523.4L672.6 536.7L681.3 526.9Z" fill="#33295f"/>
<path d="M678.8 528.1L691.7 526.4L679.2 522.3Z" fill="#33295f"/>
<path d="M776.3 528.8Q775.5 532.3 772.9 535.1Q770.2 537.8 766.4 538.5Q762.7 539.1 760.2 536.5Q757.8 533.9 757.1 530.7Q756.4 527.6 757.2 524.5Q758 521.4 760.7 520.1Q763.5 518.9 766.6 516.4Q769.6 513.9 771.6 517Q773.5 520 775.2 522.6Q777 525.2 776.3 528.8Z" fill="#2e2551" opacity="0.55"/>
<path d="M773.6 526.6Q771.1 529.5 769.1 530.7Q767.2 531.9 764.4 532.7Q761.7 533.5 759 531.4Q756.3 529.2 758.2 526Q760.2 522.7 762.6 521.4Q765 520.1 767.6 520.1Q770.2 520 773.1 521.9Q776 523.7 773.6 526.6Z" fill="#403483"/>
<path d="M763 528.4L774 540.6L769.3 524.6Z" fill="#3a2f72"/>
<path d="M762.7 527.6L771.3 543.3L769.7 525.3Z" fill="#3a2f72"/>
<path d="M718.6 556.2Q720.1 561.9 725.3 566.2Q730.5 570.4 723.8 574.7Q717.1 578.9 712.8 584.2Q708.6 589.4 700.7 591.2Q692.8 593 688.8 587.5Q684.7 582.1 682.3 575.9Q679.9 569.7 685.7 564.1Q691.4 558.5 697.7 557.3Q704 556.2 710.5 553.3Q717.1 550.5 718.6 556.2Z" fill="#352b65" opacity="0.55"/>
<path d="M717.8 557.5Q724 559.8 724.2 566.4Q724.4 573.1 718.8 578Q713.2 582.9 705.7 586.4Q698.2 589.9 692 585.7Q685.9 581.5 689.2 574.7Q692.6 567.9 695.1 561.7Q697.6 555.5 704.6 555.3Q711.7 555.2 717.8 557.5Z" fill="#4e40a8"/>
<path d="M700.2 565.1L684.1 590.3L711.5 575Z" fill="#453991"/>
<path d="M700.4 565L686.8 587L711.4 575.1Z" fill="#453991"/>
<path d="M686.8 569.9Q685.8 574 684.9 578.3Q684 582.5 681.4 587.1Q678.8 591.6 675.4 591.8Q672 592 671.3 586.7Q670.5 581.3 672.4 576.2Q674.4 571.2 675.1 566Q675.8 560.9 678.5 561.2Q681.1 561.5 683.1 561.3Q685.1 561.2 686.5 563.5Q687.8 565.9 686.8 569.9Z" fill="#2f2655" opacity="0.55"/>
<path d="M686.3 570.7Q687.6 574.4 685 578.2Q682.4 582.1 680.1 582.4Q677.8 582.6 675.5 581.8Q673.2 580.9 672.9 575.8Q672.5 570.7 675.4 567.3Q678.2 563.8 681.2 560.1Q684.2 556.5 684.6 561.8Q684.9 567.1 686.3 570.7Z" fill="#43378a"/>
<path d="M683.7 572.2L678.6 547.9L676.8 573.1Z" fill="#3c3178"/>
<path d="M676.9 573.6L684.4 601.2L683.6 571.6Z" fill="#3c3178"/>
<path d="M679.4 569.3L667.6 578.7L681.1 576Z" fill="#3c3178"/>
<path d="M789.2 557.6Q791.5 561.1 789.1 564.1Q786.7 567.1 780.6 565.3Q774.4 563.5 769.8 563.5Q765.2 563.4 759.1 561Q753 558.6 753.1 554.6Q753.2 550.7 757.5 549Q761.7 547.4 765.9 546.4Q770 545.5 775.6 546.3Q781.2 547.2 784 550.6Q786.9 554 789.2 557.6Z" fill="#312859" opacity="0.55"/>
<path d="M783.4 556.3Q784.6 559.2 781.3 560.4Q778 561.5 774.5 561.7Q771 561.8 765.3 560.6Q759.7 559.4 760.9 556.3Q762.1 553.1 763.8 550.9Q765.4 548.7 770 548.6Q774.6 548.5 778.4 550.9Q782.1 553.4 783.4 556.3Z" fill="#453991"/>
<path d="M774.8 552.6L751.6 548L770.4 559.3Z" fill="#3f337e"/>
<path d="M776.5 556.7L778.5 538.4L768.6 555.2Z" fill="#3f337e"/>
<path d="M774.7 552.5L753.1 548.9L770.4 559.4Z" fill="#3f337e"/>
<path d="M806.6 574.7Q808.2 579.9 802.6 580Q797 580.2 793.6 580.6Q790.2 581 785.6 580.4Q781.1 579.8 781.6 575.2Q782.2 570.6 783.1 567.4Q783.9 564.1 786.4 561.6Q788.9 559.1 792.8 557.7Q796.7 556.3 800.5 558.6Q804.3 561 804.6 565.2Q804.9 569.4 806.6 574.7Z" fill="#32295d" opacity="0.55"/>
<path d="M803.6 570.9Q800.1 574.6 797.9 578.2Q795.6 581.8 791.9 579.7Q788.2 577.6 785.9 574.8Q783.6 572.1 782.1 567Q780.6 561.9 785.2 558.4Q789.9 554.9 793.6 559.3Q797.3 563.6 802.1 565.3Q807 567.1 803.6 570.9Z" fill="#483b99"/>
<path d="M794 575.8L815.7 566.5L792.2 564.4Z" fill="#413585"/>
<path d="M787.7 567.9L784.9 589.9L798.4 572.2Z" fill="#413585"/>
<path d="M794.4 564.4L770.6 564.7L791.7 575.7Z" fill="#413585"/>
<path d="M750.1 583.5Q751.9 586.3 749.6 588.9Q747.4 591.5 745.3 592.6Q743.1 593.6 741.2 593Q739.3 592.4 736.9 591.7Q734.5 590.9 734.7 587.9Q734.9 584.8 734.7 581.2Q734.6 577.6 737.4 576.8Q740.2 575.9 742.2 577.2Q744.3 578.6 746.3 579.6Q748.3 580.6 750.1 583.5Z" fill="#2b2348" opacity="0.55"/>
<path d="M747.9 583.1Q748.9 586.1 747.8 589.5Q746.7 592.9 743.8 593.7Q741 594.5 739.6 591.9Q738.1 589.3 736.2 587Q734.3 584.8 735.9 581.8Q737.4 578.8 740 577.4Q742.7 576 744.8 578Q746.9 580.1 747.9 583.1Z" fill="#3b3074"/>
<path d="M742 582.2L727.7 584.2L741.6 588.7Z" fill="#352b65"/>
<path d="M743.2 582.5L730.1 578.5L740.4 588.4Z" fill="#352b65"/>
<path d="M873.8 554.6Q874.3 556.7 873.1 558.6Q871.9 560.5 869.8 561Q867.6 561.6 864.9 562Q862.1 562.5 859.9 560.3Q857.8 558.1 857.3 554.8Q856.8 551.6 859.7 550Q862.6 548.4 864.9 546.3Q867.1 544.1 869.9 545.5Q872.8 546.8 873.1 549.7Q873.3 552.5 873.8 554.6Z" fill="#292144" opacity="0.55"/>
<path d="M874.8 553.8Q874.9 556.9 873.4 559.8Q871.9 562.8 869 561Q866.1 559.2 863.1 558.9Q860.2 558.6 860.7 555.8Q861.3 552.9 862.6 550.5Q863.8 548.1 866.3 549Q868.8 549.9 871.8 550.3Q874.7 550.7 874.8 553.8Z" fill="#382e6c"/>
<path d="M864.3 556.1L872.6 566L870.6 553.2Z" fill="#33295f"/>
<path d="M870 557L876.3 545L864.9 552.3Z" fill="#33295f"/>
<path d="M699.3 604.1Q695.3 608.2 693.5 613.6Q691.6 619.1 688.6 619.5Q685.6 619.9 684.8 617.5Q684 615.2 684.3 612.4Q684.5 609.6 685.5 606.1Q686.5 602.6 689.2 598.4Q692 594.3 694.2 594.9Q696.4 595.6 697.5 596.7Q698.6 597.9 701 599Q703.4 600.1 699.3 604.1Z" fill="#292144" opacity="0.55"/>
<path d="M697.8 603.8Q694.7 607.8 692.6 611.4Q690.5 615.1 687.3 616.6Q684.2 618.1 684.7 614.2Q685.2 610.4 686.2 606.7Q687.2 603 689.9 601.3Q692.7 599.6 694.5 599.2Q696.3 598.8 698.6 599.3Q700.9 599.8 697.8 603.8Z" fill="#382e6c"/>
<path d="M691.4 603.4L683.3 608.9L692.2 608.5Z" fill="#33295f"/>
<path d="M694.1 607L695.5 586.5L689.5 604.9Z" fill="#33295f"/>
<path d="M690.9 603.6L682.1 614.2L692.7 608.3Z" fill="#33295f"/>
<path d="M718.7 613.3Q721.6 618.1 722.3 624.2Q723 630.2 719.5 630.7Q716 631.2 714.4 633.7Q712.8 636.2 709.8 634.6Q706.7 633 706.1 628Q705.5 623 704.5 619.4Q703.6 615.8 704.8 613.7Q706.1 611.5 707.9 610.7Q709.7 609.8 712.7 609.2Q715.7 608.5 718.7 613.3Z" fill="#2c244c" opacity="0.55"/>
<path d="M715.2 616.4Q717.6 619.3 718.1 624.1Q718.6 628.8 717.3 633.2Q715.9 637.5 712.5 633.8Q709.2 630.1 706.2 626.9Q703.1 623.7 703.8 619.3Q704.5 614.9 705.9 612.1Q707.4 609.2 710 611.3Q712.7 613.4 715.2 616.4Z" fill="#3d327b"/>
<path d="M714.2 620L706.6 602.7L707.9 622.7Z" fill="#382d6c"/>
<path d="M708.6 623.8L718.6 635.1L713.5 618.9Z" fill="#382d6c"/>
<path d="M817.1 610.5Q820.9 612.6 821 616.9Q821.1 621.2 819.7 624.3Q818.3 627.3 815.3 627.5Q812.2 627.8 809.5 629Q806.8 630.2 803.4 628.3Q800.1 626.5 799.8 622.8Q799.5 619 801.8 617.1Q804 615.2 805.2 612.4Q806.3 609.5 809.7 609Q813.2 608.5 817.1 610.5Z" fill="#2c244c" opacity="0.55"/>
<path d="M813.8 612.3Q816.5 615.5 817.1 618.9Q817.7 622.2 816.2 624.9Q814.8 627.5 811.7 628Q808.7 628.4 806.2 626.3Q803.7 624.1 801.5 620.7Q799.4 617.3 802.6 615.7Q805.7 614 808.4 611.5Q811.2 609 813.8 612.3Z" fill="#3d327b"/>
<path d="M811.2 616.3L796.1 613.8L808.2 623.8Z" fill="#382d6c"/>
<path d="M810.9 616.2L793.1 614.5L808.6 623.9Z" fill="#382d6c"/>
<path d="M694.9 630.7Q695.3 634.8 696.1 637.5Q697 640.3 694.6 642.9Q692.1 645.5 688.9 646.3Q685.6 647 681.4 648.8Q677.1 650.7 675.2 647.8Q673.2 644.8 671.3 641.4Q669.4 637.9 674.5 635.9Q679.5 633.8 682.3 631.3Q685 628.8 689.8 627.7Q694.5 626.7 694.9 630.7Z" fill="#2e2551" opacity="0.55"/>
<path d="M692.7 632.8Q695.7 634.6 695.2 638Q694.8 641.5 692.3 645.2Q689.8 648.9 685.1 648.8Q680.4 648.8 676.9 646.8Q673.3 644.8 674.5 640.9Q675.6 637 679.1 635.2Q682.7 633.4 686.2 632.2Q689.7 631.1 692.7 632.8Z" fill="#403483"/>
<path d="M689.4 639L683.7 622.2L681.4 639.6Z" fill="#3a2f72"/>
<path d="M688.1 636.3L671.5 629.1L682.6 642.2Z" fill="#3a2f72"/>
<path d="M683.4 642.8L704.7 647.5L687.3 635.7Z" fill="#3a2f72"/>
<path d="M719.9 636.7Q722 642.8 725 648.4Q728.1 654 724.6 656.5Q721.1 659.1 718.4 661.9Q715.8 664.6 711.7 662.6Q707.6 660.5 706.2 655.4Q704.8 650.2 703.5 646.4Q702.2 642.5 703 638.8Q703.8 635.1 706.8 634.7Q709.8 634.3 713.8 632.5Q717.9 630.7 719.9 636.7Z" fill="#312859" opacity="0.55"/>
<path d="M718.3 638.5Q722 642.8 722.8 648.5Q723.6 654.2 719.9 655.2Q716.3 656.2 713.2 657.6Q710.1 659.1 706.1 655.3Q702.1 651.4 702.8 646.4Q703.5 641.3 705.9 639.4Q708.2 637.4 711.4 635.8Q714.6 634.2 718.3 638.5Z" fill="#453991"/>
<path d="M708.3 649.2L721.3 671.5L716.4 644.7Z" fill="#3f337e"/>
<path d="M688.9 658Q691.5 659.7 690.4 662.5Q689.2 665.3 687.1 666.4Q684.9 667.5 683 669.1Q681.1 670.7 677.9 670.8Q674.7 670.9 673.4 667.9Q672 664.9 671.8 661.7Q671.7 658.6 674.8 657.8Q678 657 680 656.2Q681.9 655.5 684.1 656Q686.3 656.4 688.9 658Z" fill="#261f3c" opacity="0.55"/>
<path d="M685.6 659.3Q687.1 660.9 686.3 662.8Q685.6 664.7 684.2 665.8Q682.8 666.9 680.4 667.7Q678.1 668.4 676.9 666.2Q675.7 663.9 676.3 661.8Q676.9 659.7 678.3 657.5Q679.7 655.4 681.9 656.5Q684.2 657.7 685.6 659.3Z" fill="#33295e"/>
<path d="M682 658.9L670.7 661L681.1 665.8Z" fill="#2e2652"/>
<path d="M678.1 662.1L680.5 675.8L685 662.6Z" fill="#2e2652"/>
<path d="M776.9 651Q775.2 654.7 773.4 659Q771.6 663.4 769.2 663.1Q766.7 662.8 763.4 664.4Q760.1 665.9 761 661.3Q761.8 656.7 762.9 652.9Q764 649.2 766.1 644.3Q768.2 639.4 771.5 637.9Q774.8 636.3 775.7 639.7Q776.5 643 777.6 645.2Q778.7 647.3 776.9 651Z" fill="#2b2348" opacity="0.55"/>
<path d="M775.9 651.9Q776.8 655.5 773.4 659Q770 662.5 768.3 660.8Q766.5 659.1 763.4 659.3Q760.3 659.4 762.9 654.6Q765.4 649.8 767.7 647.7Q770 645.5 773.1 642.5Q776.3 639.4 775.6 643.9Q774.9 648.4 775.9 651.9Z" fill="#3b3074"/>
<path d="M767.1 652.4L771 671L772.9 651.8Z" fill="#352b65"/>
<path d="M768.4 654.5L778 662.3L771.6 649.7Z" fill="#352b65"/>
<path d="M795.6 660.2Q795.8 665.1 798.8 667.6Q801.8 670.2 799.4 673Q797 675.8 794.4 678.6Q791.8 681.4 788 680.7Q784.2 679.9 782 677Q779.7 674.2 777.2 670.6Q774.7 667.1 778.2 664.5Q781.7 661.9 784.4 660Q787 658.1 791.2 656.7Q795.3 655.3 795.6 660.2Z" fill="#2c244c" opacity="0.55"/>
<path d="M793.9 662.4Q796.2 664.8 796.9 667.9Q797.7 671.1 794.9 672.6Q792.2 674.1 789.4 676.4Q786.5 678.7 783.9 676Q781.3 673.3 780.7 669.8Q780.2 666.3 781.9 662.5Q783.6 658.8 787.6 659.4Q791.6 660 793.9 662.4Z" fill="#3d327b"/>
<path d="M785.2 666.5L779.6 686.1L793.3 671Z" fill="#382d6c"/>
<path d="M793.2 666.5L779.6 651.9L785.2 671.1Z" fill="#382d6c"/>
<path d="M848.3 652.7Q846.1 654.3 845.3 656.6Q844.5 658.8 841.8 658.6Q839.1 658.4 835.9 657.5Q832.7 656.6 831.5 653.6Q830.3 650.6 830.8 647.8Q831.2 644.9 834.2 644.6Q837.3 644.4 839.5 644.2Q841.8 644 844.1 645.3Q846.3 646.5 848.4 648.8Q850.5 651 848.3 652.7Z" fill="#292144" opacity="0.55"/>
<path d="M846.7 652.4Q846.9 654.8 844.6 655.7Q842.4 656.5 840.1 655.7Q837.9 654.9 835.5 653.4Q833.1 651.8 833.4 649.2Q833.8 646.6 836.1 645.5Q838.4 644.4 840.9 645.3Q843.4 646.3 845 648.2Q846.5 650 846.7 652.4Z" fill="#382e6c"/>
<path d="M843 649.4L833.7 640.9L838 652.2Z" fill="#33295f"/>
<path d="M841.2 648L829.8 648.8L839.9 653.6Z" fill="#33295f"/>
<path d="M825.2 677.7Q825.2 681.9 824.4 684.6Q823.7 687.4 823.3 692.1Q822.9 696.8 819.3 697.3Q815.6 697.9 813.4 694.2Q811.1 690.5 810.7 687.1Q810.2 683.8 809.5 680.2Q808.8 676.6 811.5 675.7Q814.3 674.8 816.6 672.7Q818.9 670.6 822 672.1Q825.1 673.6 825.2 677.7Z" fill="#2c244c" opacity="0.55"/>
<path d="M823.7 679Q826.2 681.7 825.6 686.1Q825.1 690.5 821.8 691.1Q818.6 691.7 816.4 690Q814.2 688.3 810.6 686.3Q806.9 684.2 809.7 681.1Q812.5 677.9 814.3 675.3Q816.1 672.7 818.7 674.5Q821.3 676.3 823.7 679Z" fill="#3d327b"/>
<path d="M820.4 685.6L828.9 666.9L814.5 680.1Z" fill="#382d6c"/>
<path d="M821.5 683L818 660.6L813.4 682.7Z" fill="#382d6c"/>
<path d="M813.4 682.5L816.2 698.2L821.5 683.3Z" fill="#382d6c"/>
<path d="M792 692.2Q793 695.2 789.8 695.9Q786.7 696.6 785 698.1Q783.4 699.6 780.5 700.3Q777.6 701 776.7 698Q775.9 694.9 775.9 691.9Q775.9 688.8 778.6 687.7Q781.3 686.6 783.1 685.2Q784.8 683.8 787.5 683.6Q790.1 683.4 790.6 686.3Q791 689.2 792 692.2Z" fill="#2b2348" opacity="0.55"/>
<path d="M790.5 690.8Q789.5 693.9 788.2 696.7Q786.8 699.5 784 699.4Q781.3 699.3 780.7 696.8Q780 694.2 779 691.9Q778 689.6 779.7 686.9Q781.4 684.2 783.8 685.3Q786.2 686.3 788.8 687Q791.4 687.7 790.5 690.8Z" fill="#3b3074"/>
<path d="M785.9 694.1L792.3 684L782.3 689.6Z" fill="#352b65"/>
<path d="M784.9 694.6L795.3 687.9L783.3 689.1Z" fill="#352b65"/>
<path d="M758 682.2Q761 683.9 759 686.9Q756.9 689.9 754.5 691.3Q752.1 692.7 749.8 695.2Q747.5 697.8 744.6 696.5Q741.7 695.2 739.1 693.5Q736.4 691.8 738 688.9Q739.6 686.1 740.6 683.1Q741.6 680 745.2 679.9Q748.8 679.8 751.9 680.2Q755 680.5 758 682.2Z" fill="#282040" opacity="0.55"/>
<path d="M754.3 683.2Q755.7 685.6 754.9 687.9Q754.1 690.2 752 691.8Q749.9 693.4 747.1 693.6Q744.3 693.8 741.3 692.5Q738.3 691.1 740.8 688.6Q743.2 686.1 744.5 683.2Q745.8 680.4 749.4 680.6Q752.9 680.9 754.3 683.2Z" fill="#352b65"/>
<path d="M749.1 691.1L759.8 685.3L747.3 684.9Z" fill="#312859"/>
<path d="M745.1 687.1L745 697.3L751.3 688.9Z" fill="#312859"/>
<path d="M736.7 695.4Q737.6 698.5 735.5 702.6Q733.4 706.6 731 705.6Q728.6 704.5 726.9 704.2Q725.3 703.8 723.4 702.4Q721.5 701.1 722.3 697Q723 692.9 724.9 688.4Q726.8 683.8 730.1 681.7Q733.3 679.6 735.3 682Q737.2 684.3 736.5 688.3Q735.7 692.3 736.7 695.4Z" fill="#292144" opacity="0.55"/>
<path d="M737.2 694Q736.8 698.2 734.1 701.2Q731.4 704.2 728.6 705.7Q725.8 707.3 724.8 704.1Q723.9 701 724.8 697.5Q725.6 693.9 727.3 690.4Q729 686.9 731.2 687.4Q733.3 687.9 735.4 688.8Q737.5 689.7 737.2 694Z" fill="#382e6c"/>
<path d="M731.6 698.2L739.4 686.7L728.9 693.2Z" fill="#33295f"/>
<path d="M733 696.5L733.1 678.1L727.5 694.9Z" fill="#33295f"/>
<path d="M776.1 693.6Q779.4 693.4 778 695.7Q776.6 698 774.8 699.7Q773.1 701.4 770.7 702Q768.3 702.7 764.7 704.6Q761.1 706.5 760.7 704.3Q760.4 702.1 759.8 700.3Q759.2 698.6 761.8 696.9Q764.4 695.1 766.8 693.6Q769.3 692.1 771 693Q772.8 693.8 776.1 693.6Z" fill="#261f3c" opacity="0.55"/>
<path d="M773.3 694.5Q774.3 695.7 775.7 697.4Q777.2 699 774.2 701.4Q771.2 703.8 768 703.7Q764.8 703.7 762.6 702.9Q760.3 702.1 761 699.9Q761.6 697.6 764 695.4Q766.4 693.2 769.3 693.3Q772.2 693.4 773.3 694.5Z" fill="#33295e"/>
<path d="M770.3 700L777.5 693.6L767.2 696.6Z" fill="#2e2652"/>
<path d="M769.5 700.4L784.8 694.9L767.9 696.1Z" fill="#2e2652"/>
<path d="M742.4 704.9Q744.5 706 746.6 708.5Q748.7 711 745.2 712.7Q741.6 714.4 739.7 717.7Q737.7 720.9 735.1 718.7Q732.5 716.4 729.4 715.6Q726.3 714.9 725.6 711.7Q725 708.6 726.5 705.2Q728.1 701.8 732 701.7Q735.9 701.7 738.2 702.7Q740.4 703.8 742.4 704.9Z" fill="#292144" opacity="0.55"/>
<path d="M742.8 704.1Q746.1 705.2 745.5 708.6Q744.9 711.9 742.5 714.4Q740.2 716.9 737 716.7Q733.8 716.4 732.5 714.5Q731.1 712.5 730.6 710.3Q730 708.1 732.2 706.6Q734.4 705.2 737 704.1Q739.6 702.9 742.8 704.1Z" fill="#382e6c"/>
<path d="M739.6 708L728.8 698.8L733.7 711.6Z" fill="#33295f"/>
<path d="M733.6 711.3L743.9 722.2L739.8 708.2Z" fill="#33295f"/>
<path d="M739.8 708.4L729.7 696L733.5 711.2Z" fill="#33295f"/>
<path d="M707.2 708.6Q705.2 713.2 701.6 716.5Q698 719.9 692 721.6Q686 723.3 680.5 718.9Q675 714.5 672.6 708.6Q670.2 702.8 673.4 698.5Q676.7 694.2 679.3 689.4Q682 684.6 688.2 685.5Q694.4 686.3 700.6 689Q706.8 691.8 708 697.9Q709.1 704 707.2 708.6Z" fill="#312859" opacity="0.55"/>
<path d="M704.6 706.9Q703.7 712.1 699.3 715.8Q695 719.4 689.6 716.2Q684.2 712.9 679.2 709.1Q674.2 705.4 675 699.5Q675.8 693.6 680.8 690.2Q685.9 686.9 692.4 688.7Q699 690.6 702.2 696.1Q705.5 701.6 704.6 706.9Z" fill="#453991"/>
<path d="M688.3 709.9L719.4 711.9L692.8 696.8Z" fill="#3f337e"/>
<path d="M683.6 702.7L687.1 731.9L697.4 704.1Z" fill="#3f337e"/>
<path d="M697 701L679.1 676.1L684 705.7Z" fill="#3f337e"/>
<path d="M836.3 699.8Q834 702.7 833.9 705.6Q833.8 708.4 830.7 709.6Q827.6 710.8 823.8 710.5Q820 710.1 818.8 706.9Q817.6 703.7 818.8 701.4Q820 699.2 819.8 696.5Q819.7 693.8 822.7 694.2Q825.7 694.5 827.9 694.9Q830.2 695.4 834.4 696.1Q838.6 696.9 836.3 699.8Z" fill="#261f3c" opacity="0.55"/>
<path d="M833.6 700.2Q834.3 702.8 833.1 705.7Q831.9 708.5 828.1 708.7Q824.4 708.8 821.4 706.8Q818.5 704.8 817.9 701.7Q817.3 698.5 819.7 696.6Q822.1 694.7 824.9 695.3Q827.7 695.8 830.3 696.7Q832.9 697.6 833.6 700.2Z" fill="#33295e"/>
<path d="M824.7 703.8L839.4 707L828.1 697.8Z" fill="#2e2652"/>
<path d="M823.9 703.2L836.2 710.1L829 698.5Z" fill="#2e2652"/>
<path d="M823.3 699.2L819.8 711.6L829.5 702.4Z" fill="#2e2652"/>
<path d="M819.3 714.3Q818.5 716.6 818.8 718.8Q819 720.9 816.4 722.2Q813.9 723.4 810.1 724.3Q806.4 725.1 804.4 722.6Q802.4 720.1 802.4 717.9Q802.4 715.7 802.2 713.3Q802 710.9 805 709.6Q807.9 708.3 810.9 709.5Q813.9 710.7 817 711.4Q820.2 712 819.3 714.3Z" fill="#2c244c" opacity="0.55"/>
<path d="M818.6 714Q818.7 716.6 818.3 719.1Q817.8 721.6 814.2 722.4Q810.7 723.1 808.7 721Q806.8 718.9 804.5 717.3Q802.3 715.7 803.6 713.5Q804.8 711.3 808.1 710.4Q811.4 709.5 815 710.5Q818.5 711.4 818.6 714Z" fill="#3d327b"/>
<path d="M808.1 716.1L810.5 728.1L813.9 716.3Z" fill="#382d6c"/>
<path d="M813.8 715.5L807.7 707.3L808.2 717Z" fill="#382d6c"/>
<path d="M876.7 673.3Q876.9 677.8 873.7 680.3Q870.5 682.8 867.9 687.8Q865.3 692.9 863.9 691.3Q862.5 689.7 861.8 686.8Q861.1 683.9 863.6 678.8Q866.1 673.7 867.7 669.3Q869.4 665 871.9 661.9Q874.3 658.9 876.9 657.8Q879.5 656.7 878 662.8Q876.5 668.8 876.7 673.3Z" fill="#261f3c" opacity="0.55"/>
<path d="M875.3 671.1Q872.9 676.3 871.2 680.5Q869.6 684.7 867.5 685.8Q865.5 686.9 864.3 685.1Q863.2 683.4 863.7 678.2Q864.2 673 867.4 667.9Q870.6 662.9 872.2 664.1Q873.8 665.3 875.7 665.6Q877.7 665.9 875.3 671.1Z" fill="#33295e"/>
<path d="M867.9 676.1L873.3 698.6L872.1 674.3Z" fill="#2e2652"/>
<path d="M872.3 675L869.1 645.9L867.7 675.4Z" fill="#2e2652"/>
</g>
<g filter="url(#cf2)">
<ellipse cx="699.7" cy="524.2" rx="3.6" ry="3.2" fill="#4d376c" opacity="0.9"/>
<ellipse cx="702.7" cy="527.8" rx="3.6" ry="3.2" fill="#4d376c" opacity="0.9"/>
<ellipse cx="678.2" cy="525.2" rx="3.5" ry="3.2" fill="#463160" opacity="0.9"/>
<ellipse cx="766.6" cy="526.2" rx="3.6" ry="3.2" fill="#4d376c" opacity="0.9"/>
<ellipse cx="704.2" cy="571.7" rx="3.6" ry="3.2" fill="#5a4080" opacity="0.9"/>
<ellipse cx="702.8" cy="570.3" rx="3.6" ry="3.2" fill="#5a4080" opacity="0.9"/>
<ellipse cx="698" cy="577.5" rx="3.6" ry="3.2" fill="#5a4080" opacity="0.9"/>
<ellipse cx="683.1" cy="568.6" rx="3.6" ry="3.2" fill="#503870" opacity="0.9"/>
<ellipse cx="680.8" cy="576.3" rx="3.6" ry="3.2" fill="#503870" opacity="0.9"/>
<ellipse cx="765.6" cy="556.9" rx="3.6" ry="3.2" fill="#523a74" opacity="0.9"/>
<ellipse cx="767.8" cy="556.5" rx="3.6" ry="3.2" fill="#523a74" opacity="0.9"/>
<ellipse cx="792.9" cy="570.9" rx="3.6" ry="3.2" fill="#553c78" opacity="0.9"/>
<ellipse cx="797.7" cy="572.2" rx="3.6" ry="3.2" fill="#553c78" opacity="0.9"/>
<ellipse cx="742.3" cy="586.5" rx="3.6" ry="3.2" fill="#483364" opacity="0.9"/>
<ellipse cx="867.1" cy="554" rx="3.6" ry="3.2" fill="#463160" opacity="0.9"/>
<ellipse cx="691.4" cy="606.4" rx="3.2" ry="2.9" fill="#463160" opacity="0.9"/>
<ellipse cx="710" cy="620.9" rx="3.6" ry="3.2" fill="#4b3568" opacity="0.9"/>
<ellipse cx="808.8" cy="619.5" rx="3.6" ry="3.2" fill="#4b3568" opacity="0.9"/>
<ellipse cx="685" cy="640.2" rx="3.6" ry="3.2" fill="#4d376c" opacity="0.9"/>
<ellipse cx="714" cy="645.8" rx="3.6" ry="3.2" fill="#523a74" opacity="0.9"/>
<ellipse cx="715" cy="649.1" rx="3.6" ry="3.2" fill="#523a74" opacity="0.9"/>
<ellipse cx="682" cy="663.4" rx="3.6" ry="3.2" fill="#412e59" opacity="0.9"/>
<ellipse cx="770.4" cy="653" rx="3.5" ry="3.2" fill="#483364" opacity="0.9"/>
<ellipse cx="789.9" cy="669.8" rx="3.6" ry="3.2" fill="#4b3568" opacity="0.9"/>
<ellipse cx="841.4" cy="649.9" rx="3.5" ry="3.2" fill="#463160" opacity="0.9"/>
<ellipse cx="816.2" cy="683.5" rx="3.6" ry="3.2" fill="#4b3568" opacity="0.9"/>
<ellipse cx="784.4" cy="691.1" rx="3.5" ry="3.2" fill="#483364" opacity="0.9"/>
<ellipse cx="749.5" cy="687.9" rx="3.6" ry="3.2" fill="#432f5c" opacity="0.9"/>
<ellipse cx="730.3" cy="695" rx="3.5" ry="3.2" fill="#463160" opacity="0.9"/>
<ellipse cx="767.4" cy="698.8" rx="3" ry="2.7" fill="#412e59" opacity="0.9"/>
<ellipse cx="737.6" cy="710.6" rx="3.6" ry="3.2" fill="#463160" opacity="0.9"/>
<ellipse cx="686.5" cy="699.1" rx="3.6" ry="3.2" fill="#523a74" opacity="0.9"/>
<ellipse cx="686.4" cy="705.8" rx="3.6" ry="3.2" fill="#523a74" opacity="0.9"/>
<ellipse cx="688.5" cy="703.7" rx="3.6" ry="3.2" fill="#523a74" opacity="0.9"/>
<ellipse cx="825.1" cy="700.2" rx="3.6" ry="3.2" fill="#412e59" opacity="0.9"/>
<ellipse cx="810.5" cy="715.4" rx="3.5" ry="3.2" fill="#4b3568" opacity="0.9"/>
<ellipse cx="870.4" cy="674.3" rx="3" ry="2.7" fill="#412e59" opacity="0.9"/>
</g>
<rect x="673.8" y="494.4" width="200.6" height="228.2" fill="#000" filter="url(#mot)"/>
</g>
<rect x="822.6" y="709" width="44.3" height="7.7" fill="#fbfbfb"/>
<line x1="822.6" y1="709.5" x2="866.9" y2="709.5" stroke="#222" stroke-width="0.9"/>
<text x="847.8" y="715.2" class="sa" font-size="3.6" text-anchor="middle" fill="#222">10 μm</text>
</svg>
</body></html>
